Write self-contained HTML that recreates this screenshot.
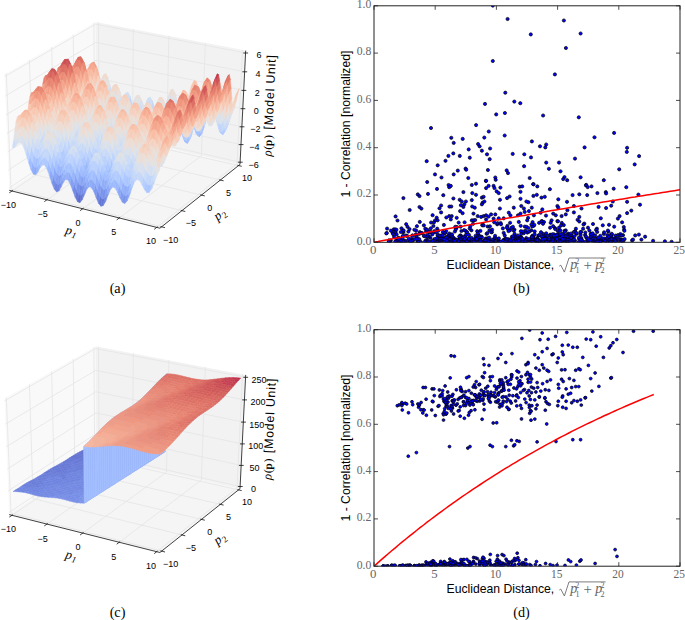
<!DOCTYPE html>
<html><head><meta charset="utf-8"><style>
html,body{margin:0;padding:0;background:#fff;overflow:hidden;}
svg{display:block;}
</style></head><body>
<svg width="685" height="620" viewBox="0 0 685 620" font-family="Liberation Sans">
<style>.sf path{stroke-width:0.45;stroke-linejoin:round}.a{fill:#d6e0f0;stroke:#d6e0f0}.b{fill:#cbdcf7;stroke:#cbdcf7}.c{fill:#bdd3fd;stroke:#bdd3fd}.d{fill:#e2e3e4;stroke:#e2e3e4}.e{fill:#b2cbff;stroke:#b2cbff}.f{fill:#c8daf8;stroke:#c8daf8}.g{fill:#a2befe;stroke:#a2befe}.h{fill:#c0d5fc;stroke:#c0d5fc}.i{fill:#b7cffe;stroke:#b7cffe}.j{fill:#edddd4;stroke:#edddd4}.k{fill:#9cb9fd;stroke:#9cb9fd}.l{fill:#b4cdff;stroke:#b4cdff}.m{fill:#93b0fa;stroke:#93b0fa}.n{fill:#819cf0;stroke:#819cf0}.o{fill:#8ca9f7;stroke:#8ca9f7}.p{fill:#a5c1fe;stroke:#a5c1fe}.q{fill:#7b95eb;stroke:#7b95eb}.r{fill:#95b2fb;stroke:#95b2fb}.s{fill:#ceddf5;stroke:#ceddf5}.t{fill:#7891e9;stroke:#7891e9}.u{fill:#f2d8ca;stroke:#f2d8ca}.v{fill:#c3d7fb;stroke:#c3d7fb}.w{fill:#738ae4;stroke:#738ae4}.x{fill:#e4e2e1;stroke:#e4e2e1}.y{fill:#e8e0db;stroke:#e8e0db}.z{fill:#f0dace;stroke:#f0dace}.ab{fill:#849ff2;stroke:#849ff2}.bb{fill:#dbe1ec;stroke:#dbe1ec}.cb{fill:#dde2e9;stroke:#dde2e9}.db{fill:#c6d9f9;stroke:#c6d9f9}.eb{fill:#a9c4ff;stroke:#a9c4ff}.fb{fill:#e7e1de;stroke:#e7e1de}.gb{fill:#768ee7;stroke:#768ee7}.hb{fill:#90adf8;stroke:#90adf8}.ib{fill:#d0def4;stroke:#d0def4}.jb{fill:#abc6ff;stroke:#abc6ff}.kb{fill:#7e99ee;stroke:#7e99ee}.lb{fill:#d8e1ee;stroke:#d8e1ee}.mb{fill:#d3dff2;stroke:#d3dff2}.nb{fill:#87a3f4;stroke:#87a3f4}.ob{fill:#9ebbfd;stroke:#9ebbfd}.pb{fill:#bbd2fd;stroke:#bbd2fd}.qb{fill:#687bd8;stroke:#687bd8}.rb{fill:#8aa6f5;stroke:#8aa6f5}.sb{fill:#99b6fc;stroke:#99b6fc}.tb{fill:#5e6ccb;stroke:#5e6ccb}.ub{fill:#6b7fdb;stroke:#6b7fdb}.vb{fill:#606fce;stroke:#606fce}.wb{fill:#6e83df;stroke:#6e83df}.xb{fill:#f4d4c4;stroke:#f4d4c4}.yb{fill:#f6d0bd;stroke:#f6d0bd}.zb{fill:#f3d6c8;stroke:#f3d6c8}.ac{fill:#f7cbb6;stroke:#f7cbb6}.bc{fill:#f8c6af;stroke:#f8c6af}.cc{fill:#f9bfa7;stroke:#f9bfa7}.dc{fill:#f8c3ab;stroke:#f8c3ab}.ec{fill:#f9bda5;stroke:#f9bda5}.fc{fill:#f7b097;stroke:#f7b097}.gc{fill:#f8baa1;stroke:#f8baa1}.hc{fill:#aec9ff;stroke:#aec9ff}.ic{fill:#ebdfd8;stroke:#ebdfd8}.jc{fill:#f4a68d;stroke:#f4a68d}.kc{fill:#f7cdba;stroke:#f7cdba}.lc{fill:#f5a88f;stroke:#f5a88f}.mc{fill:#6678d6;stroke:#6678d6}.nc{fill:#7086e1;stroke:#7086e1}.oc{fill:#dfe2e7;stroke:#dfe2e7}.pc{fill:#f29d85;stroke:#f29d85}.qc{fill:#f8b69d;stroke:#f8b69d}.rc{fill:#f3a289;stroke:#f3a289}.sc{fill:#f6ac93;stroke:#f6ac93}.tc{fill:#f8c8b2;stroke:#f8c8b2}.uc{fill:#eedcd2;stroke:#eedcd2}.vc{fill:#f5d2c0;stroke:#f5d2c0}.wc{fill:#f19a83;stroke:#f19a83}.xc{fill:#ef967f;stroke:#ef967f}.yc{fill:#ea8a76;stroke:#ea8a76}.zc{fill:#ed927c;stroke:#ed927c}.ad{fill:#e68270;stroke:#e68270}.bd{fill:#e88572;stroke:#e88572}.cd{fill:#de7366;stroke:#de7366}.dd{fill:#d96a61;stroke:#d96a61}.ed{fill:#dd6f64;stroke:#dd6f64}.fd{fill:#e47d6d;stroke:#e47d6d}.gd{fill:#f8b49b;stroke:#f8b49b}.hd{fill:#ec8f79;stroke:#ec8f79}.id{fill:#d4605c;stroke:#d4605c}.jd{fill:#d6645e;stroke:#d6645e}.kd{fill:#ce5356;stroke:#ce5356}.ld{fill:#d15a59;stroke:#d15a59}.md{fill:#c84452;stroke:#c84452}.nd{fill:#cb4f54;stroke:#cb4f54}.od{fill:#e1786a;stroke:#e1786a}.pd{fill:#c1314d;stroke:#c1314d}.qd{fill:#c4394f;stroke:#c4394f}.rd{fill:#6373d2;stroke:#6373d2}.sd{fill:#6272d1;stroke:#6272d1}.td{fill:#6a7dda;stroke:#6a7dda}.ud{fill:#e07669;stroke:#e07669}.vd{fill:#7288e3;stroke:#7288e3}.wd{fill:#d86860;stroke:#d86860}.xd{fill:#e78471;stroke:#e78471}.yd{fill:#d05858;stroke:#d05858}.zd{fill:#c64051;stroke:#c64051}.ae{fill:#ed907b;stroke:#ed907b}.be{fill:#7a93ea;stroke:#7a93ea}.ce{fill:#f19c84;stroke:#f19c84}.de{fill:#f5a78e;stroke:#f5a78e}.ee{fill:#f7ae94;stroke:#f7ae94}.fe{fill:#f7b399;stroke:#f7b399}.ge{fill:#f8b79e;stroke:#f8b79e}</style>
<path d="M9.2 190.3 L96.3 131.9 L95.6 21.9 L4.4 74.3Z" fill="#f9f9f9"/>
<path d="M96.3 131.9 L240 164.4 L245.7 50.6 L95.6 21.9Z" fill="#f2f2f2"/>
<path d="M9.2 190.3 L159.9 228.2 L240 164.4 L96.3 131.9Z" fill="#f5f5f5"/>
<path d="M12 191 L99.1 132.5" stroke="#e4e4e4" stroke-width="0.8"/>
<path d="M11 189 L161.6 226.8" stroke="#e4e4e4" stroke-width="0.8"/>
<path d="M99.1 132.5 L98.5 22.5" stroke="#e4e4e4" stroke-width="0.8"/>
<path d="M11 189 L6.3 73.2" stroke="#e4e4e4" stroke-width="0.8"/>
<path d="M47 199.8 L132.5 140.1" stroke="#e4e4e4" stroke-width="0.8"/>
<path d="M33.1 174.3 L181.9 210.6" stroke="#e4e4e4" stroke-width="0.8"/>
<path d="M132.5 140.1 L133.3 29.1" stroke="#e4e4e4" stroke-width="0.8"/>
<path d="M33.1 174.3 L29.4 59.9" stroke="#e4e4e4" stroke-width="0.8"/>
<path d="M82.7 208.8 L166.5 147.8" stroke="#e4e4e4" stroke-width="0.8"/>
<path d="M54.3 160 L201.4 195.1" stroke="#e4e4e4" stroke-width="0.8"/>
<path d="M166.5 147.8 L168.9 35.9" stroke="#e4e4e4" stroke-width="0.8"/>
<path d="M54.3 160 L51.7 47.1" stroke="#e4e4e4" stroke-width="0.8"/>
<path d="M119.3 218 L201.4 155.6" stroke="#e4e4e4" stroke-width="0.8"/>
<path d="M74.9 146.3 L220.3 180" stroke="#e4e4e4" stroke-width="0.8"/>
<path d="M201.4 155.6 L205.3 42.9" stroke="#e4e4e4" stroke-width="0.8"/>
<path d="M74.9 146.3 L73.2 34.8" stroke="#e4e4e4" stroke-width="0.8"/>
<path d="M156.7 227.4 L237 163.7" stroke="#e4e4e4" stroke-width="0.8"/>
<path d="M94.7 133 L238.5 165.6" stroke="#e4e4e4" stroke-width="0.8"/>
<path d="M237 163.7 L242.5 50" stroke="#e4e4e4" stroke-width="0.8"/>
<path d="M94.7 133 L93.9 22.9" stroke="#e4e4e4" stroke-width="0.8"/>
<path d="M9.1 188.1 L96.3 129.8" stroke="#e4e4e4" stroke-width="0.8"/>
<path d="M96.3 129.8 L240.1 162.2" stroke="#e4e4e4" stroke-width="0.8"/>
<path d="M8.3 170.2 L96.2 112.8" stroke="#e4e4e4" stroke-width="0.8"/>
<path d="M96.2 112.8 L240.9 144.6" stroke="#e4e4e4" stroke-width="0.8"/>
<path d="M7.6 152 L96.1 95.5" stroke="#e4e4e4" stroke-width="0.8"/>
<path d="M96.1 95.5 L241.8 126.8" stroke="#e4e4e4" stroke-width="0.8"/>
<path d="M6.8 133.6 L96 78.1" stroke="#e4e4e4" stroke-width="0.8"/>
<path d="M96 78.1 L242.7 108.7" stroke="#e4e4e4" stroke-width="0.8"/>
<path d="M6 114.9 L95.9 60.4" stroke="#e4e4e4" stroke-width="0.8"/>
<path d="M95.9 60.4 L243.7 90.4" stroke="#e4e4e4" stroke-width="0.8"/>
<path d="M5.2 96 L95.7 42.4" stroke="#e4e4e4" stroke-width="0.8"/>
<path d="M95.7 42.4 L244.6 71.8" stroke="#e4e4e4" stroke-width="0.8"/>
<path d="M4.5 76.7 L95.6 24.2" stroke="#e4e4e4" stroke-width="0.8"/>
<path d="M95.6 24.2 L245.5 53" stroke="#e4e4e4" stroke-width="0.8"/>
<g class="sf">
<path d="M95.9 90.5l 2.2-2.4 1.2-4.1-2.1 2.5z" class="a"/>
<path d="M94.7 96.9l 2.1-2.3 1.3-6.5-2.2 2.4z" class="b"/>
<path d="M93.4 102.5l 2.2-2.2 1.2-5.7-2.1 2.3z" class="c"/>
<path d="M98.1 88.1l 2.1-5 1.3-4.1-2.2 5z" class="d"/>
<path d="M92.1 104.6l 2.2-2.2 1.3-2.1-2.2 2.2z" class="e"/>
<path d="M96.8 94.6l 2.2-4.9 1.2-6.6-2.1 5z" class="a"/>
<path d="M95.6 100.3l 2.1-4.8 1.3-5.8-2.2 4.9z" class="f"/>
<path d="M113.4 109.2l 2.1 4.8 1.3-4.2-2.2-4.9z" class="g"/>
<path d="M94.3 102.4l 2.1-4.7 1.3-2.2-2.1 4.8z" class="h"/>
<path d="M90.8 101.9l 2.2-2.2 1.3 2.7-2.2 2.2z" class="i"/>
<path d="M100.2 83.1l 2.2-4.4 1.3-4.2-2.2 4.5z" class="j"/>
<path d="M115.5 114l 2.2-.2 1.3-4.3-2.2 .3z" class="k"/>
<path d="M111.2 100.2l 2.2 9 1.2-4.3-2.2-8.9z" class="l"/>
<path d="M112.1 115.8l 2.2 4.9 1.2-6.7-2.1-4.8z" class="m"/>
<path d="M110.8 121.7l 2.2 4.9 1.3-5.9-2.2-4.9z" class="n"/>
<path d="M114.3 120.7l 2.2-.2 1.2-6.7-2.2 .2z" class="o"/>
<path d="M109.9 106.9l 2.2 8.9 1.3-6.6-2.2-9z" class="p"/>
<path d="M99 89.7l 2.1-4.4 1.3-6.6-2.2 4.4z" class="d"/>
<path d="M113 126.6l 2.2-.2 1.3-5.9-2.2 .2z" class="q"/>
<path d="M108.7 112.8l 2.1 8.9 1.3-5.9-2.2-8.9z" class="r"/>
<path d="M97.7 95.5l 2.2-4.3 1.2-5.9-2.1 4.4z" class="a"/>
<path d="M109 90l 2.2 10.2 1.2-4.2-2.1-10.2z" class="s"/>
<path d="M109.6 124l 2.2 4.9 1.2-2.3-2.2-4.9z" class="t"/>
<path d="M117.7 113.8l 2.2-4.6 1.3-4.4-2.2 4.7z" class="p"/>
<path d="M102.4 78.7l 2.2-1 1.2-4.2-2.1 1z" class="u"/>
<path d="M107.7 96.7l 2.2 10.2 1.3-6.7-2.2-10.2z" class="v"/>
<path d="M111.8 128.9l 2.1-.1 1.3-2.4-2.2 .2z" class="w"/>
<path d="M93 99.7l 2.1-4.7 1.3 2.7-2.1 4.7z" class="v"/>
<path d="M107.4 115.1l 2.2 8.9 1.2-2.3-2.1-8.9z" class="o"/>
<path d="M96.4 97.7l 2.2-4.2 1.3-2.3-2.2 4.3z" class="s"/>
<path d="M106.8 81.7l 2.2 8.3 1.3-4.2-2.3-8.4z" class="x"/>
<path d="M106.5 102.6l 2.2 10.2 1.2-5.9-2.2-10.2z" class="e"/>
<path d="M116.5 120.5l 2.2-4.5 1.2-6.8-2.2 4.6z" class="r"/>
<path d="M101.1 85.3l 2.2-.9 1.3-6.7-2.2 1z" class="y"/>
<path d="M104.6 77.7l 2.2 4 1.2-4.3-2.2-3.9z" class="z"/>
<path d="M115.2 126.4l 2.2-4.4 1.3-6-2.2 4.5z" class="ab"/>
<path d="M105.5 88.4l 2.2 8.3 1.3-6.7-2.2-8.3z" class="bb"/>
<path d="M99.9 91.2l 2.1-.9 1.3-5.9-2.2 .9z" class="cb"/>
<path d="M89.5 94.8l 2.1-2.1 1.4 7-2.2 2.2z" class="db"/>
<path d="M105.2 105l 2.2 10.1 1.3-2.3-2.2-10.2z" class="eb"/>
<path d="M103.3 84.4l 2.2 4 1.3-6.7-2.2-4z" class="fb"/>
<path d="M108.3 121.5l 2.2 5 1.3 2.4-2.2-4.9z" class="q"/>
<path d="M104.2 94.4l 2.3 8.2 1.2-5.9-2.2-8.3z" class="b"/>
<path d="M113.9 128.8l 2.2-4.3 1.3-2.5-2.2 4.4z" class="q"/>
<path d="M102 90.3l 2.2 4.1 1.3-6-2.2-4z" class="bb"/>
<path d="M110.5 126.5l 2.2-.1 1.2 2.4-2.1 .1z" class="gb"/>
<path d="M98.6 93.5l 2.2-.8 1.2-2.4-2.1 .9z" class="a"/>
<path d="M106.1 112.6l 2.2 8.9 1.3 2.5-2.2-8.9z" class="hb"/>
<path d="M95.1 95l 2.2-4.2 1.3 2.7-2.2 4.2z" class="ib"/>
<path d="M119.9 109.2l 2.2-6.4 1.3-4.5-2.2 6.5z" class="i"/>
<path d="M103 96.7l 2.2 8.3 1.3-2.4-2.3-8.2z" class="v"/>
<path d="M100.8 92.7l 2.2 4 1.2-2.3-2.2-4.1z" class="ib"/>
<path d="M118.7 116l 2.2-6.3 1.2-6.9-2.2 6.4z" class="eb"/>
<path d="M91.6 92.7l 2.2-4.7 1.3 7-2.1 4.7z" class="ib"/>
<path d="M117.4 122l 2.2-6.2 1.3-6.1-2.2 6.3z" class="r"/>
<path d="M103.9 102.4l 2.2 10.2 1.3 2.5-2.2-10.1z" class="jb"/>
<path d="M112.7 126.4l 2.2-4.3 1.2 2.4-2.2 4.3z" class="kb"/>
<path d="M97.3 90.8l 2.2-.7 1.3 2.6-2.2 .8z" class="lb"/>
<path d="M116.1 124.5l 2.2-6.1 1.3-2.6-2.2 6.2z" class="o"/>
<path d="M101.7 94.1l 2.2 8.3 1.3 2.6-2.2-8.3z" class="db"/>
<path d="M107 114.7l 2.2 5 1.3 6.8-2.2-5z" class="o"/>
<path d="M99.5 90.1l 2.2 4 1.3 2.6-2.2-4z" class="mb"/>
<path d="M122.1 102.8l 2.3-5.1 1.3-4.5-2.3 5.1z" class="f"/>
<path d="M88.1 85.7l 2.1-2.1 1.4 9.1-2.1 2.1z" class="cb"/>
<path d="M109.2 119.7l 2.2 0 1.3 6.7-2.2 .1z" class="nb"/>
<path d="M104.8 105.8l 2.2 8.9 1.3 6.8-2.2-8.9z" class="ob"/>
<path d="M93.8 88l 2.1-4.2 1.4 7-2.2 4.2z" class="cb"/>
<path d="M135.3 124l 2.1 2.3 1.3-4.7-2.2-2.3z" class="nb"/>
<path d="M120.9 109.7l 2.2-5 1.3-7-2.3 5.1z" class="pb"/>
<path d="M133.1 117.2l 2.2 6.8 1.2-4.7-2.1-6.7z" class="m"/>
<path d="M119.6 115.8l 2.2-4.9 1.3-6.2-2.2 5z" class="eb"/>
<path d="M134 131l 2.1 2.3 1.3-7-2.1-2.3z" class="t"/>
<path d="M131.8 124.3l 2.2 6.7 1.3-7-2.2-6.8z" class="ab"/>
<path d="M114.9 122.1l 2.2-6.1 1.2 2.4-2.2 6.1z" class="hb"/>
<path d="M132.7 137.3l 2.2 2.4 1.2-6.4-2.1-2.3z" class="qb"/>
<path d="M130.5 130.5l 2.2 6.8 1.3-6.3-2.2-6.7z" class="w"/>
<path d="M131 108.4l 2.1 8.8 1.3-4.6-2.2-8.9z" class="jb"/>
<path d="M102.6 95.5l 2.2 10.3 1.3 6.8-2.2-10.2z" class="pb"/>
<path d="M137.4 126.3l 2.3-2.9 1.3-4.8-2.3 3z" class="rb"/>
<path d="M118.3 118.4l 2.2-4.8 1.3-2.7-2.2 4.9z" class="ob"/>
<path d="M124.4 97.7l 2.2-1 1.3-4.6-2.2 1.1z" class="mb"/>
<path d="M111.4 119.7l 2.2-4.3 1.3 6.7-2.2 4.3z" class="o"/>
<path d="M129.7 115.4l 2.1 8.9 1.3-7.1-2.1-8.8z" class="sb"/>
<path d="M131.4 140.1l 2.2 2.4 1.3-2.8-2.2-2.4z" class="tb"/>
<path d="M90.2 83.6l 2.2-4.7 1.4 9.1-2.2 4.7z" class="fb"/>
<path d="M129.3 133.3l 2.1 6.8 1.3-2.8-2.2-6.8z" class="qb"/>
<path d="M95.9 83.8l 2.2-.7 1.4 7-2.2 .7z" class="x"/>
<path d="M136.1 133.3l 2.3-2.7 1.3-7.2-2.3 2.9z" class="q"/>
<path d="M128.4 121.7l 2.1 8.8 1.3-6.2-2.1-8.9z" class="nb"/>
<path d="M128.8 100.6l 2.2 7.8 1.2-4.7-2.1-7.7z" class="h"/>
<path d="M123.1 104.7l 2.2-1 1.3-7-2.2 1z" class="db"/>
<path d="M134.9 139.7l 2.2-2.7 1.3-6.4-2.3 2.7z" class="ub"/>
<path d="M126.6 96.7l 2.2 3.9 1.3-4.6-2.2-3.9z" class="ib"/>
<path d="M100.3 87.2l 2.3 8.3 1.3 6.9-2.2-8.3z" class="mb"/>
<path d="M121.8 110.9l 2.2-.9 1.3-6.3-2.2 1z" class="l"/>
<path d="M127.5 107.7l 2.2 7.7 1.3-7-2.2-7.8z" class="e"/>
<path d="M98.1 83.1l 2.2 4.1 1.4 6.9-2.2-4z" class="d"/>
<path d="M127.1 124.5l 2.2 8.8 1.2-2.8-2.1-8.8z" class="kb"/>
<path d="M125.3 103.7l 2.2 4 1.3-7.1-2.2-3.9z" class="v"/>
<path d="M126.2 114l 2.2 7.7 1.3-6.3-2.2-7.7z" class="ob"/>
<path d="M133.6 142.5l 2.2-2.6 1.3-2.9-2.2 2.7z" class="vb"/>
<path d="M124 110l 2.2 4 1.3-6.3-2.2-4z" class="e"/>
<path d="M105.7 105.9l 2.2 5.1 1.3 8.7-2.2-5z" class="p"/>
<path d="M120.5 113.6l 2.3-.9 1.2-2.7-2.2 .9z" class="eb"/>
<path d="M117.1 116l 2.2-4.7 1.2 2.3-2.2 4.8z" class="g"/>
<path d="M130.2 138l 2.2 2.5 1.2 2-2.2-2.4z" class="vb"/>
<path d="M124.9 116.7l 2.2 7.8 1.3-2.8-2.2-7.7z" class="r"/>
<path d="M139.7 123.4l 2.3-6.7 1.3-4.9-2.3 6.8z" class="sb"/>
<path d="M128 131.2l 2.2 6.8 1.2 2.1-2.1-6.8z" class="ub"/>
<path d="M86.7 77.8l 2.2-2.1 1.3 7.9-2.1 2.1z" class="u"/>
<path d="M107.9 111l 2.2 0 1.3 8.7-2.2 0z" class="ob"/>
<path d="M103.5 96.9l 2.2 9 1.3 8.8-2.2-8.9z" class="pb"/>
<path d="M92.4 78.9l 2.2-4.1 1.3 9-2.1 4.2z" class="z"/>
<path d="M113.6 115.4l 2.2-6 1.3 6.6-2.2 6.1z" class="ob"/>
<path d="M122.8 112.7l 2.1 4 1.3-2.7-2.2-4z" class="p"/>
<path d="M138.4 130.6l 2.3-6.6 1.3-7.3-2.3 6.7z" class="rb"/>
<path d="M137.1 137l 2.3-6.5 1.3-6.5-2.3 6.6z" class="t"/>
<path d="M125.9 122.3l 2.1 8.9 1.3 2.1-2.2-8.8z" class="kb"/>
<path d="M132.4 140.5l 2.2-2.5 1.2 1.9-2.2 2.6z" class="vb"/>
<path d="M101.3 86.6l 2.2 10.3 1.3 8.9-2.2-10.3z" class="mb"/>
<path d="M135.8 139.9l 2.3-6.3 1.3-3.1-2.3 6.5z" class="wb"/>
<path d="M119.3 111.3l 2.2-.8 1.3 2.2-2.3 .9z" class="jb"/>
<path d="M110.1 111l 2.2-4.3 1.3 8.7-2.2 4.3z" class="eb"/>
<path d="M123.7 114.5l 2.2 7.8 1.2 2.2-2.2-7.8z" class="r"/>
<path d="M94.6 74.8l 2.2-.7 1.3 9-2.2 .7z" class="xb"/>
<path d="M88.9 75.7l 2.1-4.7 1.4 7.9-2.2 4.7z" class="yb"/>
<path d="M121.5 110.5l 2.2 4 1.2 2.2-2.1-4z" class="eb"/>
<path d="M99 78.2l 2.3 8.4 1.3 8.9-2.3-8.3z" class="y"/>
<path d="M96.8 74.1l 2.2 4.1 1.3 9-2.2-4.1z" class="zb"/>
<path d="M115.8 109.4l 2.2-4.8 1.3 6.7-2.2 4.7zM142 116.7l 2.3-7.7 1.3-5-2.3 7.8z" class="e"/>
<path d="M129 131.7l 2.2 2.5 1.2 6.3-2.2-2.5z" class="wb"/>
<path d="M126.8 124.8l 2.2 6.9 1.2 6.3-2.2-6.8z" class="t"/>
<path d="M85.3 73.8l 2.2-2.1 1.4 4-2.2 2.1z" class="ac"/>
<path d="M134.6 138l 2.3-6.3 1.2 1.9-2.3 6.3z" class="wb"/>
<path d="M140.7 124l 2.3-7.6 1.3-7.4-2.3 7.7z" class="g"/>
<path d="M104.4 98.3l 2.2 5.1 1.3 7.6-2.2-5.1z" class="h"/>
<path d="M139.4 130.5l 2.3-7.4 1.3-6.7-2.3 7.6z" class="o"/>
<path d="M124.6 115.8l 2.2 9 1.2 6.4-2.1-8.9z" class="hb"/>
<path d="M106.6 103.4l 2.2 0 1.3 7.6-2.2 0z" class="pb"/>
<path d="M102.2 89.2l 2.2 9.1 1.3 7.6-2.2-9z" class="mb"/>
<path d="M91 71l 2.2-4.1 1.4 7.9-2.2 4.1z" class="bc"/>
<path d="M131.2 134.2l 2.2-2.4 1.2 6.2-2.2 2.5z" class="wb"/>
<path d="M112.3 106.7l 2.2-6 1.3 8.7-2.2 6z" class="pb"/>
<path d="M138.1 133.6l 2.3-7.4 1.3-3.1-2.3 7.4z" class="n"/>
<path d="M118 104.6l 2.3-.7 1.2 6.6-2.2 .8z" class="pb"/>
<path d="M122.5 108l 2.1 7.8 1.3 6.5-2.2-7.8z" class="eb"/>
<path d="M99.9 78.9l 2.3 10.3 1.3 7.7-2.2-10.3z" class="y"/>
<path d="M87.5 71.7l 2.2-4.6 1.3 3.9-2.1 4.7z" class="cc"/>
<path d="M120.3 103.9l 2.2 4.1 1.2 6.5-2.2-4z" class="i"/>
<path d="M84 74.8l 2.2-2 1.3-1.1-2.2 2.1z" class="dc"/>
<path d="M144.3 109l 2.3-5.7 1.3-5-2.3 5.7z" class="db"/>
<path d="M108.8 103.4l 2.2-4.2 1.3 7.5-2.2 4.3z" class="v"/>
<path d="M93.2 66.9l 2.2-.7 1.4 7.9-2.2 .7z" class="ec"/>
<path d="M143 116.4l 2.3-5.5 1.3-7.6-2.3 5.7z" class="i"/>
<path d="M136.9 131.7l 2.3-7.2 1.2 1.7-2.3 7.4z" class="ab"/>
<path d="M97.6 70.4l 2.3 8.5 1.4 7.7-2.3-8.4z" class="yb"/>
<path d="M141.7 123.1l 2.3-5.4 1.3-6.8-2.3 5.5z" class="p"/>
<path d="M133.4 131.8l 2.3-6.2 1.2 6.1-2.3 6.3z" class="q"/>
<path d="M95.4 66.2l 2.2 4.2 1.4 7.8-2.2-4.1z" class="cc"/>
<path d="M114.5 100.7l 2.3-4.7 1.2 8.6-2.2 4.8z" class="b"/>
<path d="M82.7 80l 2.2-2 1.3-5.2-2.2 2z" class="ac"/>
<path d="M127.8 123.4l 2.2 2.6 1.2 8.2-2.2-2.5z" class="ab"/>
<path d="M103.1 94.5l 2.2 5.1 1.3 3.8-2.2-5.1z" class="mb"/>
<path d="M125.6 116.4l 2.2 7 1.2 8.3-2.2-6.9z" class="hb"/>
<path d="M140.4 126.2l 2.3-5.2 1.3-3.3-2.3 5.4z" class="r"/>
<path d="M155.3 120l 2.2 4.4 1.3-5.3-2.1-4.3z" class="ob"/>
<path d="M81.5 86.8l 2.2-1.9 1.2-6.9-2.2 2z" class="zb"/>
<path d="M89.7 67.1l 2.1-4.1 1.4 3.9-2.2 4.1z" class="fc"/>
<path d="M105.3 99.6l 2.2 .1 1.3 3.7-2.2 0z" class="s"/>
<path d="M100.9 85.4l 2.2 9.1 1.3 3.8-2.2-9.1z" class="x"/>
<path d="M86.2 72.8l 2.1-4.6 1.4-1.1-2.2 4.6z" class="gc"/>
<path d="M153.2 112.8l 2.1 7.2 1.4-5.2-2.2-7.2z" class="hc"/>
<path d="M154 127.8l 2.2 4.5 1.3-7.9-2.2-4.4z" class="o"/>
<path d="M146.6 103.3l 2.3-1.1 1.3-5.2-2.3 1.3z" class="ib"/>
<path d="M152.7 134.9l 2.1 4.6 1.4-7.2-2.2-4.5z" class="t"/>
<path d="M157.5 124.4l 2.3-.4 1.3-5.4-2.3 .5z" class="sb"/>
<path d="M123.4 107.4l 2.2 9 1.2 8.4-2.2-9z" class="eb"/>
<path d="M80.2 92.2l 2.2-1.9 1.3-5.4-2.2 1.9z" class="ic"/>
<path d="M151.9 120.6l 2.1 7.2 1.3-7.8-2.1-7.2z" class="k"/>
<path d="M130 126l 2.2-2.4 1.2 8.2-2.2 2.4z" class="ab"/>
<path d="M145.3 110.9l 2.2-1.1 1.4-7.6-2.3 1.1z" class="v"/>
<path d="M150.5 127.6l 2.2 7.3 1.3-7.1-2.1-7.2z" class="rb"/>
<path d="M111 99.2l 2.3-6 1.2 7.5-2.2 6z" class="mb"/>
<path d="M156.2 132.3l 2.2-.4 1.4-7.9-2.3 .4z" class="nb"/>
<path d="M154.8 139.5l 2.3-.2 1.3-7.4-2.2 .4z" class="w"/>
<path d="M151.1 105.9l 2.1 6.9 1.3-5.2-2.1-6.9z" class="v"/>
<path d="M151.4 138.6l 2.2 4.6 1.2-3.7-2.1-4.6z" class="ub"/>
<path d="M144 117.7l 2.2-.9 1.3-7-2.2 1.1z" class="hc"/>
<path d="M148.9 102.2l 2.2 3.7 1.3-5.2-2.2-3.7z" class="ib"/>
<path d="M116.8 96l 2.2-.7 1.3 8.6-2.3 .7z" class="mb"/>
<path d="M98.6 75.1l 2.3 10.3 1.3 3.8-2.3-10.3z" class="xb"/>
<path d="M149.7 113.6l 2.2 7 1.3-7.8-2.1-6.9z" class="e"/>
<path d="M149.3 131.2l 2.1 7.4 1.3-3.7-2.2-7.3z" class="q"/>
<path d="M84.9 78l 2.2-4.5 1.2-5.3-2.1 4.6z" class="cc"/>
<path d="M153.6 143.2l 2.2-.1 1.3-3.8-2.3 .2z" class="qb"/>
<path d="M148.4 120.6l 2.1 7 1.4-7-2.2-7z" class="k"/>
<path d="M121.2 99.4l 2.2 8 1.2 8.4-2.1-7.8zM147.5 109.8l 2.2 3.8 1.4-7.7-2.2-3.7z" class="h"/>
<path d="M139.2 124.5l 2.3-5.1 1.2 1.6-2.3 5.2z" class="r"/>
<path d="M142.7 121l 2.2-.9 1.3-3.3-2.2 .9z" class="g"/>
<path d="M146.2 116.8l 2.2 3.8 1.3-7-2.2-3.8z" class="jb"/>
<path d="M78.9 93.6l 2.2-1.9 1.3-1.4-2.2 1.9z" class="x"/>
<path d="M107.5 99.7l 2.3-4.2 1.2 3.7-2.2 4.2z" class="mb"/>
<path d="M91.8 63l 2.3-.7 1.3 3.9-2.2 .7z" class="jc"/>
<path d="M119 95.3l 2.2 4.1 1.3 8.6-2.2-4.1z" class="ib"/>
<path d="M101.8 95.7l 2.2 5.2 1.3-1.3-2.2-5.1z" class="lb"/>
<path d="M135.7 125.6l 2.3-7.2 1.2 6.1-2.3 7.2z" class="hb"/>
<path d="M83.7 84.9l 2.1-4.4 1.3-7-2.2 4.5z" class="kc"/>
<path d="M147.1 124.1l 2.2 7.1 1.2-3.6-2.1-7z" class="hb"/>
<path d="M96.3 66.6l 2.3 8.5 1.3 3.8-2.3-8.5z" class="ec"/>
<path d="M159.8 124l 2.3-5.4 1.3-5.5-2.3 5.5z" class="p"/>
<path d="M88.3 68.2l 2.2-4 1.3-1.2-2.1 4.1z" class="lc"/>
<path d="M104 100.9l 2.3 .1 1.2-1.3-2.2-.1z" class="mb"/>
<path d="M99.6 86.6l 2.2 9.1 1.3-1.2-2.2-9.1z" class="y"/>
<path d="M144.9 120.1l 2.2 4 1.3-3.5-2.2-3.8z" class="ob"/>
<path d="M82.4 90.3l 2.1-4.4 1.3-5.4-2.1 4.4z" class="u"/>
<path d="M94.1 62.3l 2.2 4.3 1.3 3.8-2.2-4.2z" class="lc"/>
<path d="M150.2 137.3l 2.2 4.8 1.2 1.1-2.2-4.6z" class="ub"/>
<path d="M158.4 131.9l 2.4-5.2 1.3-8.1-2.3 5.4z" class="m"/>
<path d="M157.1 139.3l 2.3-5.1 1.4-7.5-2.4 5.2z" class="kb"/>
<path d="M132.2 123.6l 2.3-6.1 1.2 8.1-2.3 6.2z" class="m"/>
<path d="M100.5 101l 2.3 5.2 1.2-5.3-2.2-5.2z" class="mb"/>
<path d="M148.1 129.8l 2.1 7.5 1.2 1.3-2.1-7.4z" class="q"/>
<path d="M152.4 142.1l 2.2 .1 1.2 .9-2.2 .1z" class="mc"/>
<path d="M155.8 143.1l 2.3-4.9 1.3-4-2.3 5.1z" class="nc"/>
<path d="M113.3 93.2l 2.2-4.7 1.3 7.5-2.3 4.7z" class="oc"/>
<path d="M141.5 119.4l 2.2-.8 1.2 1.5-2.2 .9z" class="g"/>
<path d="M99.3 108l 2.2 5.1 1.3-6.9-2.3-5.2z" class="v"/>
<path d="M97.3 76.3l 2.3 10.3 1.3-1.2-2.3-10.3z" class="yb"/>
<path d="M126.6 116.2l 2.2 2.7 1.2 7.1-2.2-2.6z" class="ob"/>
<path d="M102.8 106.2l 2.2 .1 1.3-5.3-2.3-.1z" class="s"/>
<path d="M87.1 73.5l 2.1-3.9 1.3-5.4-2.2 4z" class="fc"/>
<path d="M98.3 92l 2.2 9 1.3-5.3-2.2-9.1z" class="d"/>
<path d="M124.4 109.1l 2.2 7.1 1.2 7.2-2.2-7z" class="jb"/>
<path d="M81.1 91.7l 2.1-4.3 1.3-1.5-2.1 4.4z" class="j"/>
<path d="M145.9 122.6l 2.2 7.2 1.2 1.4-2.2-7.1z" class="hb"/>
<path d="M77.5 90.2l 2.2-1.8 1.4 3.3-2.2 1.9z" class="y"/>
<path d="M98 113.4l 2.2 5.2 1.3-5.5-2.2-5.1z" class="l"/>
<path d="M106.3 101l 2.2-4.2 1.3-1.3-2.3 4.2z" class="bb"/>
<path d="M101.5 113.1l 2.2 .2 1.3-7-2.2-.1z" class="c"/>
<path d="M90.5 64.2l 2.2-.7 1.4-1.2-2.3 .7z" class="pc"/>
<path d="M97 99l 2.3 9 1.2-7-2.2-9z" class="a"/>
<path d="M109.8 95.5l 2.2-6 1.3 3.7-2.3 6z" class="d"/>
<path d="M85.8 80.5l 2.2-3.9 1.2-7-2.1 3.9z" class="dc"/>
<path d="M143.7 118.6l 2.2 4 1.2 1.5-2.2-4z" class="ob"/>
<path d="M100.2 118.6l 2.2 .2 1.3-5.5-2.2-.2z" class="hc"/>
<path d="M122.2 100l 2.2 9.1 1.2 7.3-2.2-9z" class="v"/>
<path d="M95 67.8l 2.3 8.5 1.3-1.2-2.3-8.5z" class="qc"/>
<path d="M95.7 104.5l 2.3 8.9 1.3-5.4-2.3-9z" class="f"/>
<path d="M138 118.4l 2.3-5 1.2 6-2.3 5.1z" class="p"/>
<path d="M128.8 118.9l 2.2-2.4 1.2 7.1-2.2 2.4z" class="ob"/>
<path d="M84.5 85.9l 2.2-3.8 1.3-5.5-2.2 3.9z" class="yb"/>
<path d="M96 81.7l 2.3 10.3 1.3-5.4-2.3-10.3z" class="xb"/>
<path d="M92.7 63.5l 2.3 4.3 1.3-1.2-2.2-4.3z" class="rc"/>
<path d="M154.6 142.2l 2.3-4.8 1.2 .8-2.3 4.9z" class="wb"/>
<path d="M115.5 88.5l 2.2-.7 1.3 7.5-2.2 .7z" class="y"/>
<path d="M96.7 115l 2.2 5.1 1.3-1.5-2.2-5.2z" class="jb"/>
<path d="M162.1 118.6l 2.5-8.6 1.3-5.6-2.5 8.7z" class="pb"/>
<path d="M105 106.3l 2.2-4 1.3-5.5-2.2 4.2z" class="mb"/>
<path d="M94.7 88.7l 2.3 10.3 1.3-7-2.3-10.3z" class="ic"/>
<path d="M89.2 69.6l 2.3-.6 1.2-5.5-2.2 .7z" class="lc"/>
<path d="M120 92l 2.2 8 1.2 7.4-2.2-8z" class="lb"/>
<path d="M160.8 126.7l 2.4-8.4 1.4-8.3-2.5 8.6z" class="eb"/>
<path d="M149.1 131.9l 2.1 4.9 1.2 5.3-2.2-4.8z" class="gb"/>
<path d="M159.4 134.2l 2.4-8.2 1.4-7.7-2.4 8.4z" class="m"/>
<path d="M98.9 120.1l 2.2 .2 1.3-1.5-2.2-.2z" class="p"/>
<path d="M94.4 106l 2.3 9 1.3-1.6-2.3-8.9z" class="h"/>
<path d="M103.7 113.3l 2.2-4 1.3-7-2.2 4z" class="db"/>
<path d="M134.5 117.5l 2.3-7.1 1.2 8-2.3 7.2z" class="jb"/>
<path d="M93.4 94.3l 2.3 10.2 1.3-5.5-2.3-10.3z" class="oc"/>
<path d="M93.7 73.2l 2.3 8.5 1.3-5.4-2.3-8.5z" class="cc"/>
<path d="M117.7 87.8l 2.3 4.2 1.2 7.4-2.2-4.1z" class="x"/>
<path d="M83.2 87.4l 2.2-3.7 1.3-1.6-2.2 3.8z" class="zb"/>
<path d="M88 76.6l 2.2-.5 1.3-7.1-2.3 .6z" class="gc"/>
<path d="M79.7 88.4l 2.2-4.3 1.3 3.3-2.1 4.3z" class="z"/>
<path d="M151.2 136.8l 2.3 .1 1.1 5.3-2.2-.1z" class="nc"/>
<path d="M146.9 124.2l 2.2 7.7 1.1 5.4-2.1-7.5z" class="nb"/>
<path d="M91.5 69l 2.2 4.2 1.3-5.4-2.3-4.3z" class="sc"/>
<path d="M158.1 138.2l 2.4-8 1.3-4.2-2.4 8.2z" class="ab"/>
<path d="M102.4 118.8l 2.2-3.9 1.3-5.6-2.2 4z" class="l"/>
<path d="M92.4 80.3l 2.3 8.4 1.3-7-2.3-8.5z" class="kc"/>
<path d="M86.7 82.1l 2.2-.5 1.3-5.5-2.2 .5z" class="tc"/>
<path d="M108.5 96.8l 2.2-5.9 1.3-1.4-2.2 6z" class="fb"/>
<path d="M140.3 113.4l 2.2-.6 1.2 5.8-2.2 .8z" class="e"/>
<path d="M112 89.5l 2.2-4.6 1.3 3.6-2.2 4.7z" class="uc"/>
<path d="M90.2 76.1l 2.2 4.2 1.3-7.1-2.2-4.2z" class="ec"/>
<path d="M91.2 85.9l 2.2 8.4 1.3-5.6-2.3-8.4z" class="u"/>
<path d="M144.8 116.9l 2.1 7.3 1.2 5.6-2.2-7.2z" class="k"/>
<path d="M131 116.5l 2.3-6 1.2 7-2.3 6.1z" class="hc"/>
<path d="M92.1 95.8l 2.3 10.2 1.3-1.5-2.3-10.2z" class="lb"/>
<path d="M125.3 112.8l 2.2 2.7 1.3 3.4-2.2-2.7z" class="e"/>
<path d="M123.1 105.7l 2.2 7.1 1.3 3.4-2.2-7.1z" class="c"/>
<path d="M88.9 81.6l 2.3 4.3 1.2-5.6-2.2-4.2z" class="kc"/>
<path d="M142.5 112.8l 2.3 4.1 1.1 5.7-2.2-4z" class="jb"/>
<path d="M76.1 83.1l 2.2-1.7 1.4 7-2.2 1.8z" class="zb"/>
<path d="M101.1 120.3l 2.2-3.8 1.3-1.6-2.2 3.9z" class="hc"/>
<path d="M95.4 111.8l 2.2 5.1 1.3 3.2-2.2-5.1z" class="e"/>
<path d="M85.4 83.7l 2.2-.5 1.3-1.6-2.2 .5z" class="yb"/>
<path d="M107.2 102.3l 2.2-5.9 1.3-5.5-2.2 5.9z" class="oc"/>
<path d="M156.9 137.4l 2.4-7.9 1.2 .7-2.4 8z" class="n"/>
<path d="M153.5 136.9l 2.3-4.6 1.1 5.1-2.3 4.8z" class="t"/>
<path d="M97.6 116.9l 2.2 .3 1.3 3.1-2.2-.2z" class="jb"/>
<path d="M120.9 96.6l 2.2 9.1 1.3 3.4-2.2-9.1z" class="mb"/>
<path d="M93.1 102.8l 2.3 9 1.3 3.2-2.3-9z" class="db"/>
<path d="M89.9 87.4l 2.2 8.4 1.3-1.5-2.2-8.4z" class="j"/>
<path d="M127.5 115.5l 2.3-2.2 1.2 3.2-2.2 2.4z" class="e"/>
<path d="M81.9 84.1l 2.1-3.7 1.4 3.3-2.2 3.7z" class="vc"/>
<path d="M105.9 109.3l 2.2-5.7 1.3-7.2-2.2 5.9z" class="mb"/>
<path d="M87.6 83.2l 2.3 4.2 1.3-1.5-2.3-4.3z" class="vc"/>
<path d="M114.2 84.9l 2.3-.6 1.2 3.5-2.2 .7z" class="zb"/>
<path d="M136.8 110.4l 2.3-5 1.2 8-2.3 5z" class="c"/>
<path d="M164.6 110l 2.4-8.7 1.4-5.8-2.5 8.9z" class="mb"/>
<path d="M104.6 114.9l 2.2-5.7 1.3-5.6-2.2 5.7z" class="db"/>
<path d="M163.2 118.3l 2.4-8.5 1.4-8.5-2.4 8.7z" class="v"/>
<path d="M161.8 126l 2.5-8.3 1.3-7.9-2.4 8.5z" class="hc"/>
<path d="M118.7 88.5l 2.2 8.1 1.3 3.4-2.2-8z" class="fb"/>
<path d="M110.7 90.9l 2.2-4.5 1.3-1.5-2.2 4.6z" class="u"/>
<path d="M90.8 92.6l 2.3 10.2 1.3 3.2-2.3-10.2z" class="cb"/>
<path d="M78.3 81.4l 2.1-4.3 1.5 7-2.2 4.3z" class="kc"/>
<path d="M116.5 84.3l 2.2 4.2 1.3 3.5-2.3-4.2z" class="u"/>
<path d="M124 114.4l 2.3 2.8 1.2-1.7-2.2-2.7z" class="i"/>
<path d="M121.8 107.2l 2.2 7.2 1.3-1.6-2.2-7.1z" class="v"/>
<path d="M147.9 124.4l 2.2 5 1.1 7.4-2.1-4.9z" class="o"/>
<path d="M160.5 130.2l 2.5-8.2 1.3-4.3-2.5 8.3z" class="ob"/>
<path d="M99.8 117.2l 2.2-3.8 1.3 3.1-2.2 3.8z" class="e"/>
<path d="M103.3 116.5l 2.2-5.6 1.3-1.7-2.2 5.7z" class="c"/>
<path d="M133.3 110.5l 2.3-7 1.2 6.9-2.3 7.1z" class="v"/>
<path d="M150.1 129.4l 2.3 .3 1.1 7.2-2.3-.1z" class="nb"/>
<path d="M84 80.4l 2.2-.5 1.4 3.3-2.2 .5z" class="ac"/>
<path d="M145.8 116.6l 2.1 7.8 1.2 7.5-2.2-7.7z" class="ob"/>
<path d="M109.4 96.4l 2.2-4.4 1.3-5.6-2.2 4.5z" class="j"/>
<path d="M119.6 98.1l 2.2 9.1 1.3-1.5-2.2-9.1z" class="lb"/>
<path d="M88.5 84.2l 2.3 8.4 1.3 3.2-2.2-8.4z" class="z"/>
<path d="M129.8 113.3l 2.3-6 1.2 3.2-2.3 6z" class="h"/>
<path d="M139.1 105.4l 2.3-.5 1.1 7.9-2.2 .6z" class="db"/>
<path d="M126.3 117.2l 2.2-2.2 1.3-1.7-2.3 2.2z" class="i"/>
<path d="M122.7 120l 2.3 2.8 1.3-5.6-2.3-2.8z" class="hc"/>
<path d="M120.5 112.9l 2.2 7.1 1.3-5.6-2.2-7.2z" class="pb"/>
<path d="M86.2 79.9l 2.3 4.3 1.4 3.2-2.3-4.2z" class="yb"/>
<path d="M155.8 132.3l 2.4-7.8 1.1 5-2.4 7.9z" class="o"/>
<path d="M108.1 103.6l 2.2-4.4 1.3-7.2-2.2 4.4z" class="d"/>
<path d="M94 104.9l 2.2 5.2 1.4 6.8-2.2-5.1z" class="v"/>
<path d="M143.6 109.1l 2.2 7.5 1.1 7.6-2.1-7.3z" class="l"/>
<path d="M112.9 86.4l 2.3-.6 1.3-1.5-2.3 .6z" class="vc"/>
<path d="M121.5 127.2l 2.2 2.9 1.3-7.3-2.3-2.8z" class="k"/>
<path d="M119.2 120.1l 2.3 7.1 1.2-7.2-2.2-7.1z" class="jb"/>
<path d="M159.3 129.5l 2.5-8 1.2 .5-2.5 8.2z" class="k"/>
<path d="M141.4 104.9l 2.2 4.2 1.2 7.8-2.3-4.1z" class="v"/>
<path d="M106.8 109.2l 2.2-4.3 1.3-5.7-2.2 4.4z" class="mb"/>
<path d="M74.6 74.9l 2.2-1.7 1.5 8.2-2.2 1.7z" class="cc"/>
<path d="M120.2 132.9l 2.2 2.9 1.3-5.7-2.2-2.9z" class="o"/>
<path d="M117.4 90l 2.2 8.1 1.3-1.5-2.2-8.1z" class="ic"/>
<path d="M96.2 110.1l 2.3 .3 1.3 6.8-2.2-.3z" class="c"/>
<path d="M118 125.8l 2.2 7.1 1.3-5.7-2.3-7.1z" class="sb"/>
<path d="M91.7 95.9l 2.3 9 1.4 6.9-2.3-9z" class="a"/>
<path d="M80.4 77.1l 2.2-3.7 1.4 7-2.1 3.7z" class="dc"/>
<path d="M118.3 103.7l 2.2 9.2 1.3-5.7-2.2-9.1z" class="ib"/>
<path d="M167 101.3l 2.4-5.6 1.4-5.9-2.4 5.7z" class="fb"/>
<path d="M125 122.8l 2.2-2.1 1.3-5.7-2.2 2.2z" class="hc"/>
<path d="M115.2 85.8l 2.2 4.2 1.3-1.5-2.2-4.2z" class="zb"/>
<path d="M152.4 129.7l 2.3-4.5 1.1 7.1-2.3 4.6z" class="o"/>
<path d="M165.6 109.8l 2.4-5.5 1.4-8.6-2.4 5.6z" class="lb"/>
<path d="M164.3 117.7l 2.3-5.4 1.4-8-2.4 5.5z" class="v"/>
<path d="M117 111l 2.2 9.1 1.3-7.2-2.2-9.2z" class="h"/>
<path d="M123.7 130.1l 2.2-2.1 1.3-7.3-2.2 2.1z" class="k"/>
<path d="M111.6 92l 2.3-.6 1.3-5.6-2.3 .6z" class="u"/>
<path d="M102 113.4l 2.2-5.6 1.3 3.1-2.2 5.6z" class="h"/>
<path d="M105.5 110.9l 2.2-4.3 1.3-1.7-2.2 4.3z" class="b"/>
<path d="M122.4 135.8l 2.2-2 1.3-5.8-2.2 2.1z" class="o"/>
<path d="M115.7 116.7l 2.3 9.1 1.2-5.7-2.2-9.1z" class="e"/>
<path d="M118.9 134.7l 2.2 2.9 1.3-1.8-2.2-2.9z" class="ab"/>
<path d="M163 122l 2.3-5.1 1.3-4.6-2.3 5.4z" class="l"/>
<path d="M116.1 95.7l 2.2 8 1.3-5.6-2.2-8.1z" class="x"/>
<path d="M116.7 127.5l 2.2 7.2 1.3-1.8-2.2-7.1z" class="hb"/>
<path d="M110.3 99.2l 2.3-.5 1.3-7.3-2.3 .6z" class="y"/>
<path d="M135.6 103.5l 2.3-4.9 1.2 6.8-2.3 5z" class="mb"/>
<path d="M89.4 85.7l 2.3 10.2 1.4 6.9-2.3-10.2z" class="ic"/>
<path d="M128.5 115l 2.3-5.9 1.3-1.8-2.3 6z" class="v"/>
<path d="M113.9 91.4l 2.2 4.3 1.3-5.7-2.2-4.2z" class="z"/>
<path d="M178.2 113.8l 2.2 3.5 1.3-6.1-2.2-3.5z" class="v"/>
<path d="M175.4 131l 2.1 3.7 1.5-8.4-2.2-3.6z" class="r"/>
<path d="M114.8 103l 2.2 8 1.3-7.3-2.2-8z" class="lb"/>
<path d="M109 104.9l 2.3-.5 1.3-5.7-2.3 .5z" class="bb"/>
<path d="M98.5 110.4l 2.2-3.8 1.3 6.8-2.2 3.8z" class="v"/>
<path d="M176.8 122.7l 2.2 3.6 1.4-9-2.2-3.5z" class="hc"/>
<path d="M176.1 106.8l 2.1 7 1.3-6.1-2.1-6.9z" class="s"/>
<path d="M76.8 73.2l 2.2-4.3 1.4 8.2-2.1 4.3z" class="qc"/>
<path d="M82.6 73.4l 2.2-.4 1.4 6.9-2.2 .5z" class="gc"/>
<path d="M173.2 123.9l 2.2 7.1 1.4-8.3-2.2-7.1z" class="p"/>
<path d="M132.1 107.3l 2.3-6.9 1.2 3.1-2.3 7z" class="mb"/>
<path d="M174 135.8l 2.2 3.8 1.3-4.9-2.1-3.7z" class="ab"/>
<path d="M112.6 98.7l 2.2 4.3 1.3-7.3-2.2-4.3z" class="x"/>
<path d="M174.6 115.6l 2.2 7.1 1.4-8.9-2.1-7z" class="c"/>
<path d="M113.5 108.7l 2.2 8 1.3-5.7-2.2-8z" class="f"/>
<path d="M146.8 118l 2.2 5.2 1.1 6.2-2.2-5z" class="p"/>
<path d="M121.1 137.6l 2.2-1.9 1.3-1.9-2.2 2z" class="ab"/>
<path d="M114.4 118.5l 2.3 9 1.3-1.7-2.3-9.1z" class="eb"/>
<path d="M169.4 95.7l 2.3-.6 1.4-6-2.3 .7z" class="uc"/>
<path d="M171.9 128.7l 2.1 7.1 1.4-4.8-2.2-7.1z" class="m"/>
<path d="M87.1 77.3l 2.3 8.4 1.4 6.9-2.3-8.4z" class="yb"/>
<path d="M111.3 104.4l 2.2 4.3 1.3-5.7-2.2-4.3z" class="lb"/>
<path d="M177.5 134.7l 2.4-1.4 1.4-8.5-2.3 1.5z" class="r"/>
<path d="M166.6 112.3l 2.3-.3 1.4-8.2-2.3 .5z" class="s"/>
<path d="M168 104.3l 2.3-.5 1.4-8.7-2.3 .6z" class="oc"/>
<path d="M180.4 117.3l 2.3-1.6 1.4-6.2-2.4 1.7z" class="h"/>
<path d="M127.2 120.7l 2.3-5.7 1.3-5.9-2.3 5.9z" class="c"/>
<path d="M173.9 99.5l 2.2 7.3 1.3-6-2.1-7.3z" class="oc"/>
<path d="M149 123.2l 2.2 .5 1.2 6-2.3-.3z" class="k"/>
<path d="M144.6 110.1l 2.2 7.9 1.1 6.4-2.1-7.8z" class="i"/>
<path d="M179 126.3l 2.3-1.5 1.4-9.1-2.3 1.6z" class="hc"/>
<path d="M84.8 73l 2.3 4.3 1.4 6.9-2.3-4.3z" class="cc"/>
<path d="M158.2 124.5l 2.4-7.9 1.2 4.9-2.5 8z" class="p"/>
<path d="M171.1 116.5l 2.1 7.4 1.4-8.3-2.1-7.3z" class="pb"/>
<path d="M161.8 121.5l 2.3-5 1.2 .4-2.3 5.1z" class="e"/>
<path d="M172.5 108.3l 2.1 7.3 1.5-8.8-2.2-7.3z" class="ib"/>
<path d="M176.2 139.6l 2.3-1.4 1.4-4.9-2.4 1.4z" class="ab"/>
<path d="M107.7 106.6l 2.3-.4 1.3-1.8-2.3 .5z" class="mb"/>
<path d="M171.7 95.1l 2.2 4.4 1.4-6-2.2-4.4z" class="ic"/>
<path d="M125.9 128l 2.3-5.6 1.3-7.4-2.3 5.7z" class="jb"/>
<path d="M165.3 116.9l 2.3-.3 1.3-4.6-2.3 .3z" class="c"/>
<path d="M168.9 112l 2.2 4.5 1.4-8.2-2.2-4.5z" class="f"/>
<path d="M169.8 121.3l 2.1 7.4 1.3-4.8-2.1-7.4z" class="eb"/>
<path d="M170.3 103.8l 2.2 4.5 1.4-8.8-2.2-4.4zM137.9 98.6l 2.3-.5 1.2 6.8-2.3 .5z" class="cb"/>
<path d="M154.7 125.2l 2.4-7.7 1.1 7-2.4 7.8z" class="g"/>
<path d="M112.2 110.5l 2.2 8 1.3-1.8-2.2-8z" class="h"/>
<path d="M124.6 133.8l 2.3-5.5 1.3-5.9-2.3 5.6z" class="sb"/>
<path d="M104.2 107.8l 2.2-4.3 1.3 3.1-2.2 4.3z" class="ib"/>
<path d="M117.6 131.7l 2.2 2.9 1.3 3-2.2-2.9z" class="nb"/>
<path d="M115.4 124.6l 2.2 7.1 1.3 3-2.2-7.2z" class="r"/>
<path d="M142.4 102.5l 2.2 7.6 1.2 6.5-2.2-7.5z" class="b"/>
<path d="M92.6 97l 2.3 5.2 1.3 7.9-2.2-5.2z" class="lb"/>
<path d="M172.8 135.6l 2.2 3.8 1.2 .2-2.2-3.8z" class="n"/>
<path d="M167.6 116.6l 2.2 4.7 1.3-4.8-2.2-4.5z" class="pb"/>
<path d="M110 106.2l 2.2 4.3 1.3-1.8-2.2-4.3z" class="ib"/>
<path d="M73.2 68.7l 2.2-1.7 1.4 6.2-2.2 1.7z" class="lc"/>
<path d="M140.2 98.1l 2.2 4.4 1.2 6.6-2.2-4.2z" class="lb"/>
<path d="M170.7 128.5l 2.1 7.1 1.2 .2-2.1-7.1z" class="hb"/>
<path d="M94.9 102.2l 2.2 .3 1.4 7.9-2.3-.3z" class="mb"/>
<path d="M79 68.9l 2.2-3.7 1.4 8.2-2.2 3.7z" class="lc"/>
<path d="M90.3 87.9l 2.3 9.1 1.4 7.9-2.3-9z" class="y"/>
<path d="M100.7 106.6l 2.2-5.6 1.3 6.8-2.2 5.6z" class="ib"/>
<path d="M130.8 109.1l 2.3-6.8 1.3-1.9-2.3 6.9z" class="a"/>
<path d="M151.2 123.7l 2.4-4.5 1.1 6-2.3 4.5z" class="p"/>
<path d="M175 139.4l 2.4-1.3 1.1 .1-2.3 1.4z" class="kb"/>
<path d="M123.3 135.7l 2.3-5.5 1.3-1.9-2.3 5.5z" class="hb"/>
<path d="M119.8 134.6l 2.3-1.9 1.2 3-2.2 1.9z" class="nb"/>
<path d="M113.2 115.5l 2.2 9.1 1.3 2.9-2.3-9z" class="jb"/>
<path d="M164.1 116.5l 2.3-.2 1.2 .3-2.3 .3z" class="pb"/>
<path d="M179.9 133.3l 2.4-6.2 1.5-8.7-2.5 6.4z" class="g"/>
<path d="M134.4 100.4l 2.3-4.8 1.2 3-2.3 4.9z" class="d"/>
<path d="M168.6 121l 2.1 7.5 1.2 .2-2.1-7.4z" class="p"/>
<path d="M182.7 115.7l 2.5-6.5 1.4-6.4-2.5 6.7z" class="s"/>
<path d="M181.3 124.8l 2.5-6.4 1.4-9.2-2.5 6.5z" class="pb"/>
<path d="M178.5 138.2l 2.5-6.1 1.3-5-2.4 6.2z" class="hb"/>
<path d="M106.4 103.5l 2.3-.4 1.3 3.1-2.3 .4z" class="lb"/>
<path d="M166.4 116.3l 2.2 4.7 1.2 .3-2.2-4.7z" class="l"/>
<path d="M88 77.6l 2.3 10.3 1.4 8-2.3-10.2z" class="yb"/>
<path d="M129.5 115l 2.3-6.7 1.3-6-2.3 6.8z" class="s"/>
<path d="M145.6 115.5l 2.2 5.3 1.2 2.4-2.2-5.2z" class="l"/>
<path d="M110.9 107.5l 2.3 8 1.2 3-2.2-8z" class="v"/>
<path d="M160.6 116.6l 2.4-4.9 1.1 4.8-2.3 5z" class="pb"/>
<path d="M75.4 67l 2.1-4.3 1.5 6.2-2.2 4.3z" class="wc"/>
<path d="M97.1 102.5l 2.2-3.9 1.4 8-2.2 3.8z" class="lb"/>
<path d="M128.2 122.4l 2.3-6.5 1.3-7.6-2.3 6.7z" class="c"/>
<path d="M81.2 65.2l 2.2-.4 1.4 8.2-2.2 .4z" class="pc"/>
<path d="M147.8 120.8l 2.2 .5 1.2 2.4-2.2-.5z" class="jb"/>
<path d="M108.7 103.1l 2.2 4.4 1.3 3-2.2-4.3z" class="mb"/>
<path d="M143.4 107.5l 2.2 8 1.2 2.5-2.2-7.9z" class="db"/>
<path d="M126.9 128.3l 2.3-6.5 1.3-5.9-2.3 6.5z" class="hc"/>
<path d="M85.7 69.2l 2.3 8.4 1.4 8.1-2.3-8.4z" class="qc"/>
<path d="M171.8 131l 2.2 3.7 1 4.7-2.2-3.8z" class="rb"/>
<path d="M157.1 117.5l 2.4-7.8 1.1 6.9-2.4 7.9z" class="pb"/>
<path d="M177.4 138.1l 2.4-6.2 1.2 .2-2.5 6.1z" class="o"/>
<path d="M136.7 95.6l 2.3-.3 1.2 2.8-2.3 .5z" class="y"/>
<path d="M83.4 64.8l 2.3 4.4 1.4 8.1-2.3-4.3z" class="jc"/>
<path d="M122.1 132.7l 2.2-5.4 1.3 2.9-2.3 5.5z" class="m"/>
<path d="M102.9 101l 2.2-4.2 1.3 6.7-2.2 4.3z" class="oc"/>
<path d="M169.6 123.8l 2.2 7.2 1 4.6-2.1-7.1z" class="sb"/>
<path d="M71.8 66.7l 2.2-1.7 1.4 2-2.2 1.7z" class="xc"/>
<path d="M116.3 125l 2.3 3 1.2 6.6-2.2-2.9z" class="sb"/>
<path d="M141.2 99.7l 2.2 7.8 1.2 2.6-2.2-7.6z" class="lb"/>
<path d="M114.1 117.9l 2.2 7.1 1.3 6.7-2.2-7.1z" class="p"/>
<path d="M133.1 102.3l 2.3-4.7 1.3-2-2.3 4.8z" class="fb"/>
<path d="M153.6 119.2l 2.4-7.5 1.1 5.8-2.4 7.7z" class="i"/>
<path d="M125.6 130.2l 2.3-6.4 1.3-2-2.3 6.5z" class="g"/>
<path d="M174 134.7l 2.3-1.3 1.1 4.7-2.4 1.3z" class="rb"/>
<path d="M139 95.3l 2.2 4.4 1.2 2.8-2.2-4.4z" class="fb"/>
<path d="M91.2 90.9l 2.3 5.2 1.4 6.1-2.3-5.2z" class="ic"/>
<path d="M163 111.7l 2.3-.1 1.1 4.7-2.3 .2z" class="db"/>
<path d="M167.5 116.3l 2.1 7.5 1.1 4.7-2.1-7.5z" class="hc"/>
<path d="M150 121.3l 2.4-4.3 1.2 2.2-2.4 4.5z" class="l"/>
<path d="M144.3 117.8l 2.2 5.4 1.3-2.4-2.2-5.3z" class="i"/>
<path d="M182.3 127.1l 2.6-8.9 1.4-8.8-2.5 9z" class="pb"/>
<path d="M118.6 128l 2.2-1.9 1.3 6.6-2.3 1.9z" class="sb"/>
<path d="M111.9 108.8l 2.2 9.1 1.3 6.7-2.2-9.1z" class="c"/>
<path d="M77.5 62.7l 2.2-3.7 1.5 6.2-2.2 3.7z" class="yc"/>
<path d="M185.2 109.2l 2.6-9.2 1.4-6.4-2.6 9.2z" class="d"/>
<path d="M88.9 81.8l 2.3 9.1 1.4 6.1-2.3-9.1z" class="vc"/>
<path d="M93.5 96.1l 2.2 .3 1.4 6.1-2.2-.3z" class="fb"/>
<path d="M165.3 111.6l 2.2 4.7 1.1 4.7-2.2-4.7z" class="h"/>
<path d="M146.5 123.2l 2.2 .7 1.3-2.6-2.2-.5z" class="hc"/>
<path d="M183.8 118.4l 2.5-9 1.5-9.4-2.6 9.2z" class="ib"/>
<path d="M131.8 108.3l 2.3-4.5 1.3-6.2-2.3 4.7z" class="cb"/>
<path d="M142.1 109.7l 2.2 8.1 1.3-2.3-2.2-8z" class="f"/>
<path d="M181 132.1l 2.5-8.9 1.4-5-2.6 8.9z" class="eb"/>
<path d="M99.3 98.6l 2.2-5.5 1.4 7.9-2.2 5.6z" class="x"/>
<path d="M130.5 115.9l 2.3-4.5 1.3-7.6-2.3 4.5z" class="s"/>
<path d="M105.1 96.8l 2.2-.4 1.4 6.7-2.3 .4z" class="x"/>
<path d="M143 124.2l 2.2 5.5 1.3-6.5-2.2-5.4z" class="jb"/>
<path d="M70.4 69.6l 2.2-1.6 1.4-3-2.2 1.7z" class="zc"/>
<path d="M74 65l 2.1-4.2 1.4 1.9-2.1 4.3z" class="yc"/>
<path d="M129.2 121.8l 2.2-4.3 1.4-6.1-2.3 4.5z" class="h"/>
<path d="M135.4 97.6l 2.3-.2 1.3-2.1-2.3 .3z" class="ic"/>
<path d="M141.6 132.1l 2.2 5.5 1.4-7.9-2.2-5.5z" class="sb"/>
<path d="M109.6 100.7l 2.3 8.1 1.3 6.7-2.3-8z" class="mb"/>
<path d="M145.2 129.7l 2.2 .8 1.3-6.6-2.2-.7z" class="p"/>
<path d="M140.3 138.3l 2.2 5.5 1.3-6.2-2.2-5.5z" class="nb"/>
<path d="M139.9 101.9l 2.2 7.8 1.3-2.2-2.2-7.8z" class="bb"/>
<path d="M86.6 71.5l 2.3 10.3 1.4 6.1-2.3-10.3z" class="gc"/>
<path d="M143.8 137.6l 2.3 .9 1.3-8-2.2-.8z" class="hb"/>
<path d="M140.8 116.1l 2.2 8.1 1.3-6.4-2.2-8.1z" class="c"/>
<path d="M107.3 96.4l 2.3 4.3 1.3 6.8-2.2-4.4z" class="d"/>
<path d="M159.5 109.7l 2.4-4.9 1.1 6.9-2.4 4.9z" class="s"/>
<path d="M142.5 143.8l 2.2 1 1.4-6.3-2.3-.9z" class="kb"/>
<path d="M176.3 133.4l 2.4-6.3 1.1 4.8-2.4 6.2z" class="r"/>
<path d="M139.4 123.9l 2.2 8.2 1.4-7.9-2.2-8.1z" class="jb"/>
<path d="M137.7 97.4l 2.2 4.5 1.3-2.2-2.2-4.4z" class="y"/>
<path d="M124.3 127.3l 2.3-6.3 1.3 2.8-2.3 6.4z" class="eb"/>
<path d="M79.7 59l 2.3-.3 1.4 6.1-2.2 .4z" class="ad"/>
<path d="M95.7 96.4l 2.3-3.8 1.3 6-2.2 3.9z" class="ic"/>
<path d="M148.7 123.9l 2.4-4.1 1.3-2.8-2.4 4.3z" class="i"/>
<path d="M69.2 76.1l 2.2-1.6 1.2-6.5-2.2 1.6z" class="rc"/>
<path d="M138.1 130.1l 2.2 8.2 1.3-6.2-2.2-8.2z" class="sb"/>
<path d="M179.8 131.9l 2.5-8.8 1.2 .1-2.5 8.9z" class="p"/>
<path d="M127.9 123.8l 2.3-4.2 1.2-2.1-2.2 4.3z" class="l"/>
<path d="M134.1 103.8l 2.3-.2 1.3-6.2-2.3 .2z" class="x"/>
<path d="M139 140.5l 2.2 5.6 1.3-2.3-2.2-5.5z" class="q"/>
<path d="M120.8 126.1l 2.3-5.4 1.2 6.6-2.2 5.4z" class="p"/>
<path d="M67.9 83.3l 2.2-1.5 1.3-7.3-2.2 1.6z" class="qc"/>
<path d="M138.6 108.2l 2.2 7.9 1.3-6.4-2.2-7.8z" class="mb"/>
<path d="M170.7 124.3l 2.2 3.7 1.1 6.7-2.2-3.7z" class="ob"/>
<path d="M84.3 63l 2.3 8.5 1.4 6.1-2.3-8.4z" class="pc"/>
<path d="M132.8 111.4l 2.2 0 1.4-7.8-2.3 .2z" class="a"/>
<path d="M141.2 146.1l 2.3 1 1.2-2.3-2.2-1z" class="w"/>
<path d="M156 111.7l 2.4-7.8 1.1 5.8-2.4 7.8z" class="ib"/>
<path d="M152.4 117l 2.4-7.4 1.2 2.1-2.4 7.5z" class="db"/>
<path d="M137.3 116l 2.1 7.9 1.4-7.8-2.2-7.9z" class="v"/>
<path d="M82 58.7l 2.3 4.3 1.4 6.2-2.3-4.4z" class="bd"/>
<path d="M168.6 117.1l 2.1 7.2 1.1 6.7-2.2-7.2z" class="hc"/>
<path d="M136.4 103.6l 2.2 4.6 1.3-6.3-2.2-4.5z" class="d"/>
<path d="M89.9 89.1l 2.3 5.2 1.3 1.8-2.3-5.2z" class="zb"/>
<path d="M131.4 117.5l 2.3 0 1.3-6.1-2.2 0z" class="db"/>
<path d="M147.4 130.5l 2.3-4 1.4-6.7-2.4 4.1z" class="jb"/>
<path d="M66.7 88.4l 2.1-1.4 1.3-5.2-2.2 1.5z" class="bc"/>
<path d="M72.6 68l 2.2-4.1 1.3-3.1-2.1 4.2z" class="bd"/>
<path d="M135.9 122.2l 2.2 7.9 1.3-6.2-2.1-7.9z" class="e"/>
<path d="M101.5 93.1l 2.3-4.3 1.3 8-2.2 4.2z" class="z"/>
<path d="M136.8 132.3l 2.2 8.2 1.3-2.2-2.2-8.2z" class="hb"/>
<path d="M146.1 138.5l 2.3-3.8 1.3-8.2-2.3 4z" class="r"/>
<path d="M135 111.4l 2.3 4.6 1.3-7.8-2.2-4.6z" class="ib"/>
<path d="M115.1 117.2l 2.2 3 1.3 7.8-2.3-3z" class="e"/>
<path d="M144.7 144.8l 2.3-3.7 1.4-6.4-2.3 3.8z" class="ab"/>
<path d="M76.1 60.8l 2.2-3.6 1.4 1.8-2.2 3.7z" class="cd"/>
<path d="M172.9 128l 2.3-1.5 1.1 6.9-2.3 1.3z" class="k"/>
<path d="M112.8 110l 2.3 7.2 1.2 7.8-2.2-7.1z" class="h"/>
<path d="M87.6 80l 2.3 9.1 1.3 1.8-2.3-9.1z" class="tc"/>
<path d="M92.2 94.3l 2.2 .3 1.3 1.8-2.2-.3z" class="uc"/>
<path d="M161.9 104.8l 2.3 0 1.1 6.8-2.3 .1z" class="a"/>
<path d="M133.7 117.5l 2.2 4.7 1.4-6.2-2.3-4.6z" class="h"/>
<path d="M166.4 109.6l 2.2 7.5 1 6.7-2.1-7.5z" class="v"/>
<path d="M184.9 118.2l 2.5-8.3 1.5-8.9-2.6 8.4z" class="mb"/>
<path d="M187.8 100l 2.5-8.4 1.4-6.5-2.5 8.5z" class="zb"/>
<path d="M186.3 109.4l 2.6-8.4 1.4-9.4-2.5 8.4z" class="fb"/>
<path d="M183.5 123.2l 2.6-8.1 1.3-5.2-2.5 8.3z" class="v"/>
<path d="M71.4 74.5l 2.1-4 1.3-6.6-2.2 4.1z" class="xc"/>
<path d="M130.2 119.6l 2.2 0 1.3-2.1-2.3 0z" class="c"/>
<path d="M164.2 104.8l 2.2 4.8 1.1 6.7-2.2-4.7z" class="ib"/>
<path d="M134.7 124.4l 2.1 7.9 1.3-2.2-2.2-7.9z" class="p"/>
<path d="M143.5 147.1l 2.3-3.6 1.2-2.4-2.3 3.7z" class="t"/>
<path d="M110.5 100.9l 2.3 9.1 1.3 7.9-2.2-9.1z" class="mb"/>
<path d="M117.3 120.2l 2.3-1.8 1.2 7.7-2.2 1.9z" class="e"/>
<path d="M65.3 89.3l 2.2-1.4 1.3-.9-2.1 1.4z" class="kc"/>
<path d="M70.1 81.8l 2.2-3.9 1.2-7.4-2.1 4z" class="sc"/>
<path d="M126.6 121l 2.3-4.2 1.3 2.8-2.3 4.2z" class="pb"/>
<path d="M98 92.6l 2.2-5.5 1.3 6-2.2 5.5z" class="zb"/>
<path d="M85.2 69.7l 2.4 10.3 1.3 1.8-2.3-10.3z" class="sc"/>
<path d="M132.4 119.6l 2.3 4.8 1.2-2.2-2.2-4.7z" class="i"/>
<path d="M137.8 137.8l 2.2 5.6 1.2 2.7-2.2-5.6z" class="kb"/>
<path d="M151.1 119.8l 2.4-7.3 1.3-2.9-2.4 7.4z" class="f"/>
<path d="M88.6 92.1l 2.3 5.2 1.3-3-2.3-5.2z" class="zb"/>
<path d="M140 143.4l 2.2 1.1 1.3 2.6-2.3-1z" class="t"/>
<path d="M103.8 88.8l 2.2-.4 1.3 8-2.2 .4z" class="zb"/>
<path d="M178.7 127.1l 2.6-8.9 1 4.9-2.5 8.8z" class="hc"/>
<path d="M68.8 87l 2.2-3.9 1.3-5.2-2.2 3.9z" class="ec"/>
<path d="M78.3 57.2l 2.3-.4 1.4 1.9-2.3 .3z" class="dd"/>
<path d="M94.4 94.6l 2.2-3.8 1.4 1.8-2.3 3.8z" class="zb"/>
<path d="M74.8 63.9l 2.2-3.6 1.3-3.1-2.2 3.6z" class="cd"/>
<path d="M123.1 120.7l 2.3-6.3 1.2 6.6-2.3 6.3z" class="i"/>
<path d="M108.3 92.8l 2.2 8.1 1.4 7.9-2.3-8.1z" class="fb"/>
<path d="M135.6 129.6l 2.2 8.2 1.2 2.7-2.2-8.2z" class="m"/>
<path d="M86.2 83.1l 2.4 9 1.3-3-2.3-9.1z" class="tc"/>
<path d="M90.9 97.3l 2.2 .4 1.3-3.1-2.2-.3z" class="z"/>
<path d="M158.4 103.9l 2.4-4.8 1.1 5.7-2.4 4.9z" class="oc"/>
<path d="M175.2 126.5l 2.5-6.3 1 6.9-2.4 6.3z" class="jb"/>
<path d="M182.3 123.1l 2.6-8.2 1.2 .2-2.6 8.1z" class="h"/>
<path d="M82.9 61.2l 2.3 8.5 1.4 1.8-2.3-8.5z" class="yc"/>
<path d="M106 88.4l 2.3 4.4 1.3 7.9-2.3-4.3z" class="u"/>
<path d="M149.7 126.5l 2.4-7.1 1.4-6.9-2.4 7.3z" class="c"/>
<path d="M87.3 98.6l 2.3 5.2 1.3-6.5-2.3-5.2z" class="j"/>
<path d="M148.4 134.7l 2.4-6.9 1.3-8.4-2.4 7.1z" class="eb"/>
<path d="M80.6 56.8l 2.3 4.4 1.4 1.8-2.3-4.3z" class="ed"/>
<path d="M154.8 109.6l 2.4-7.6 1.2 1.9-2.4 7.8z" class="bb"/>
<path d="M147 141.1l 2.4-6.7 1.4-6.6-2.4 6.9z" class="r"/>
<path d="M86 106l 2.3 5.1 1.3-7.3-2.3-5.2z" class="oc"/>
<path d="M198.5 128.8l 2.2 2.8 1.5-8.8-2.3-2.9z" class="hc"/>
<path d="M73.5 70.5l 2.2-3.6 1.3-6.6-2.2 3.6z" class="bd"/>
<path d="M128.9 116.8l 2.3 .1 1.2 2.7-2.2 0z" class="h"/>
<path d="M85 89.7l 2.3 8.9 1.3-6.5-2.4-9z" class="yb"/>
<path d="M89.6 103.8l 2.2 .4 1.3-6.5-2.2-.4z" class="y"/>
<path d="M67.5 87.9l 2.1-3.9 1.4-.9-2.2 3.9z" class="bc"/>
<path d="M133.4 121.7l 2.2 7.9 1.2 2.7-2.1-7.9z" class="eb"/>
<path d="M201.4 110.3l 2.3 2.9 1.4-6.5-2.3-3z" class="bb"/>
<path d="M169.6 118.7l 2.2 3.7 1.1 5.6-2.2-3.7z" class="l"/>
<path d="M196.4 121.6l 2.1 7.2 1.4-8.9-2.1-7.3z" class="c"/>
<path d="M190.3 91.6l 2.5-4.5 1.4-6.6-2.5 4.6z" class="bc"/>
<path d="M199.9 119.9l 2.3 2.9 1.5-9.6-2.3-2.9z" class="db"/>
<path d="M187.4 109.9l 2.5-4.3 1.4-9-2.4 4.4z" class="x"/>
<path d="M142.2 144.5l 2.4-3.5 1.2 2.5-2.3 3.6z" class="q"/>
<path d="M197.1 133.8l 2.2 2.7 1.4-4.9-2.2-2.8z" class="k"/>
<path d="M83.9 72.8l 2.3 10.3 1.4-3.1-2.4-10.3z" class="sc"/>
<path d="M199.3 103l 2.1 7.3 1.4-6.6-2.1-7.3z" class="x"/>
<path d="M119.6 118.4l 2.2-5.4 1.3 7.7-2.3 5.4z" class="c"/>
<path d="M188.9 101l 2.4-4.4 1.5-9.5-2.5 4.5z" class="zb"/>
<path d="M84.7 111.1l 2.3 5.2 1.3-5.2-2.3-5.1z" class="mb"/>
<path d="M72.3 77.9l 2.2-3.5 1.2-7.5-2.2 3.6z" class="pc"/>
<path d="M167.4 111.6l 2.2 7.1 1.1 5.6-2.1-7.2z" class="v"/>
<path d="M197.8 112.6l 2.1 7.3 1.5-9.6-2.1-7.3z" class="mb"/>
<path d="M88.3 111.1l 2.2 .4 1.3-7.3-2.2-.4z" class="bb"/>
<path d="M83.7 97l 2.3 9 1.3-7.4-2.3-8.9z" class="uc"/>
<path d="M195 126.7l 2.1 7.1 1.4-5-2.1-7.2z" class="jb"/>
<path d="M186.1 115.1l 2.4-4.3 1.4-5.2-2.5 4.3z" class="a"/>
<path d="M63.8 85.7l 2.2-1.4 1.5 3.6-2.2 1.4z" class="bc"/>
<path d="M131.2 116.9l 2.2 4.8 1.3 2.7-2.3-4.8z" class="pb"/>
<path d="M145.8 143.5l 2.3-6.6 1.3-2.5-2.4 6.7z" class="rb"/>
<path d="M100.2 87.1l 2.2-4.3 1.4 6-2.3 4.3z" class="ac"/>
<path d="M77 60.3l 2.2-.4 1.4-3.1-2.3 .4z" class="dd"/>
<path d="M93.1 97.7l 2.2-3.8 1.3-3.1-2.2 3.8z" class="zb"/>
<path d="M87 116.3l 2.2 .3 1.3-5.1-2.2-.4z" class="b"/>
<path d="M82.4 102.2l 2.3 8.9 1.3-5.1-2.3-9z" class="d"/>
<path d="M71 83.1l 2.2-3.5 1.3-5.2-2.2 3.5z" class="fc"/>
<path d="M171.8 122.4l 2.4-1.5 1 5.6-2.3 1.5z" class="e"/>
<path d="M113.8 111.3l 2.2 3 1.3 5.9-2.2-3z" class="f"/>
<path d="M200.7 131.6l 2.4-2.8 1.5-8.8-2.4 2.8z" class="e"/>
<path d="M160.8 99.1l 2.3 .1 1.1 5.6-2.3 0z" class="fb"/>
<path d="M111.5 104.1l 2.3 7.2 1.3 5.9-2.3-7.2z" class="mb"/>
<path d="M194.3 113.1l 2.1 8.5 1.4-9-2-8.5z" class="ib"/>
<path d="M165.3 104l 2.1 7.6 1.2 5.5-2.2-7.5z" class="a"/>
<path d="M203.7 113.2l 2.4-2.7 1.4-6.5-2.4 2.7z" class="bb"/>
<path d="M82.6 79.5l 2.4 10.2 1.2-6.6-2.3-10.3z" class="gc"/>
<path d="M197.3 94.5l 2 8.5 1.4-6.6-2-8.5z" class="u"/>
<path d="M81.5 64.3l 2.4 8.5 1.3-3.1-2.3-8.5z" class="yc"/>
<path d="M202.2 122.8l 2.4-2.8 1.5-9.5-2.4 2.7z" class="f"/>
<path d="M195.8 104.1l 2 8.5 1.5-9.6-2-8.5z" class="x"/>
<path d="M96.6 90.8l 2.2-5.5 1.4 1.8-2.2 5.5z" class="ac"/>
<path d="M199.3 136.5l 2.5-2.9 1.3-4.8-2.4 2.8z" class="ob"/>
<path d="M193 118.2l 2 8.5 1.4-5.1-2.1-8.5z" class="h"/>
<path d="M79.2 59.9l 2.3 4.4 1.4-3.1-2.3-4.4z" class="ed"/>
<path d="M81.3 86.9l 2.4 10.1 1.3-7.3-2.4-10.2z" class="ac"/>
<path d="M163.1 99.2l 2.2 4.8 1.1 5.6-2.2-4.8z" class="d"/>
<path d="M125.4 114.4l 2.3-4.2 1.2 6.6-2.3 4.2z" class="f"/>
<path d="M153.5 112.5l 2.4-7.4 1.3-3.1-2.4 7.6z" class="cb"/>
<path d="M83.4 112.1l 2.3 5.2 1.3-1-2.3-5.2z" class="s"/>
<path d="M75.7 66.9l 2.3-.3 1.2-6.7-2.2 .4z" class="fd"/>
<path d="M192.8 87.1l 2.3 1.1 1.4-6.5-2.3-1.2z" class="cc"/>
<path d="M189.9 105.6l 2.3 1.3 1.4-9.1-2.3-1.2z" class="y"/>
<path d="M91.8 104.2l 2.2-3.7 1.3-6.6-2.2 3.8z" class="j"/>
<path d="M136.6 131.4l 2.2 5.6 1.2 6.4-2.2-5.6z" class="hb"/>
<path d="M196 133.2l 2.2 2.6 1.1 .7-2.2-2.7z" class="sb"/>
<path d="M191.3 96.6l 2.3 1.2 1.5-9.6-2.3-1.1z" class="vc"/>
<path d="M192.2 106.9l 2.1 6.2 1.5-9-2.2-6.3z" class="d"/>
<path d="M195.1 88.2l 2.2 6.3 1.4-6.6-2.2-6.2z" class="tc"/>
<path d="M109.2 94.9l 2.3 9.2 1.3 5.9-2.3-9.1z" class="fb"/>
<path d="M193.9 126.2l 2.1 7 1.1 .6-2.1-7.1z" class="p"/>
<path d="M116 114.3l 2.3-1.8 1.3 5.9-2.3 1.8z" class="f"/>
<path d="M138.8 137l 2.3 1.2 1.1 6.3-2.2-1.1z" class="nb"/>
<path d="M193.6 97.8l 2.2 6.3 1.5-9.6-2.2-6.3z" class="u"/>
<path d="M80 92.1l 2.4 10.1 1.3-5.2-2.4-10.1z" class="zb"/>
<path d="M188.5 110.8l 2.3 1.2 1.4-5.1-2.3-1.3z" class="bb"/>
<path d="M184.9 114.9l 2.4-4.4 1.2 .3-2.4 4.3z" class="ib"/>
<path d="M74.5 74.4l 2.2-.3 1.3-7.5-2.3 .3z" class="xc"/>
<path d="M90.5 111.5l 2.2-3.7 1.3-7.3-2.2 3.7z" class="oc"/>
<path d="M181.3 118.2l 2.5-8.3 1.1 5-2.6 8.2z" class="f"/>
<path d="M80.3 71l 2.3 8.5 1.3-6.7-2.4-8.5z" class="wc"/>
<path d="M85.7 117.3l 2.2 .4 1.3-1.1-2.2-.3z" class="db"/>
<path d="M81.1 103.3l 2.3 8.8 1.3-1-2.3-8.9z" class="cb"/>
<path d="M190.8 112l 2.2 6.2 1.3-5.1-2.1-6.2z" class="mb"/>
<path d="M69.6 84l 2.2-3.3 1.4-1.1-2.2 3.5z" class="qc"/>
<path d="M157.2 102l 2.4-4.7 1.2 1.8-2.4 4.8z" class="ic"/>
<path d="M78 66.6l 2.3 4.4 1.2-6.7-2.3-4.4z" class="ad"/>
<path d="M66 84.3l 2.2-3.8 1.4 3.5-2.1 3.9z" class="ec"/>
<path d="M177.7 120.2l 2.6-9.1 1 7.1-2.6 8.9z" class="v"/>
<path d="M134.4 123.1l 2.2 8.3 1.2 6.4-2.2-8.2z" class="g"/>
<path d="M152.1 119.4l 2.4-7.2 1.4-7.1-2.4 7.4z" class="mb"/>
<path d="M102.4 82.8l 2.3-.3 1.3 5.9-2.2 .4z" class="dc"/>
<path d="M79 78.5l 2.3 8.4 1.3-7.4-2.3-8.5z" class="fc"/>
<path d="M89.2 116.6l 2.2-3.6 1.3-5.2-2.2 3.7z" class="mb"/>
<path d="M150.8 127.8l 2.3-7.1 1.4-8.5-2.4 7.2z" class="h"/>
<path d="M73.2 79.6l 2.2-.2 1.3-5.3-2.2 .3z" class="lc"/>
<path d="M149.4 134.4l 2.4-6.9 1.3-6.8-2.3 7.1z" class="jb"/>
<path d="M144.6 141l 2.3-6.6 1.2 2.5-2.3 6.6z" class="o"/>
<path d="M76.7 74.1l 2.3 4.4 1.3-7.5-2.3-4.4z" class="wc"/>
<path d="M107 86.9l 2.2 8 1.3 6-2.2-8.1z" class="xb"/>
<path d="M191.8 117.8l 2.1 8.4 1.1 .5-2-8.5z" class="pb"/>
<path d="M198.2 135.8l 2.4-3.1 1.2 .9-2.5 2.9z" class="k"/>
<path d="M121.8 113l 2.3-6.4 1.3 7.8-2.3 6.3z" class="s"/>
<path d="M77.7 83.8l 2.3 8.3 1.3-5.2-2.3-8.4z" class="cc"/>
<path d="M174.2 120.9l 2.4-6.4 1.1 5.7-2.5 6.3zM168.4 117.1l 2.2 3.7 1.2 1.6-2.2-3.7z" class="h"/>
<path d="M104.7 82.5l 2.3 4.4 1.3 5.9-2.3-4.4z" class="bc"/>
<path d="M95.3 93.9l 2.2-5.5 1.3-3.1-2.2 5.5z" class="ac"/>
<path d="M78.7 93.2l 2.4 10.1 1.3-1.1-2.4-10.1z" class="z"/>
<path d="M127.7 110.2l 2.2 .1 1.3 6.6-2.3-.1z" class="ib"/>
<path d="M75.4 79.4l 2.3 4.4 1.3-5.3-2.3-4.4z" class="fc"/>
<path d="M132.2 115.1l 2.2 8 1.2 6.5-2.2-7.9z" class="pb"/>
<path d="M166.3 109.9l 2.1 7.2 1.2 1.6-2.2-7.1z" class="s"/>
<path d="M203.1 128.8l 2.6-7.6 1.5-8.7-2.6 7.5z" class="h"/>
<path d="M206.1 110.5l 2.6-7.4 1.4-6.4-2.6 7.3z" class="fb"/>
<path d="M141.1 138.2l 2.3-3.6 1.2 6.4-2.4 3.5z" class="o"/>
<path d="M187.3 110.5l 2.3 1.2 1.2 .3-2.3-1.2z" class="a"/>
<path d="M148.1 136.9l 2.4-6.8 1.3-2.6-2.4 6.9z" class="ob"/>
<path d="M204.6 120l 2.6-7.5 1.5-9.4-2.6 7.4z" class="a"/>
<path d="M98.8 85.3l 2.3-4.2 1.3 1.7-2.2 4.3z" class="ec"/>
<path d="M189.6 111.7l 2.2 6.1 1.2 .4-2.2-6.2z" class="s"/>
<path d="M87.9 117.7l 2.2-3.6 1.3-1.1-2.2 3.6z" class="b"/>
<path d="M62.3 79l 2.2-1.3 1.5 6.6-2.2 1.4z" class="qc"/>
<path d="M201.8 133.6l 2.6-7.7 1.3-4.7-2.6 7.6z" class="hc"/>
<path d="M129.9 110.3l 2.3 4.8 1.2 6.6-2.2-4.8z" class="b"/>
<path d="M71.8 80.7l 2.3-.2 1.3-1.1-2.2 .2z" class="fc"/>
<path d="M82 108.6l 2.3 5.2 1.4 3.5-2.3-5.2z" class="mb"/>
<path d="M170.6 120.8l 2.4-1.5 1.2 1.6-2.4 1.5z" class="h"/>
<path d="M112.4 109.6l 2.3 3 1.3 1.7-2.2-3z" class="mb"/>
<path d="M159.6 97.3l 2.3 .2 1.2 1.7-2.3-.1z" class="z"/>
<path d="M94 100.5l 2.2-5.4 1.3-6.7-2.2 5.5z" class="xb"/>
<path d="M110.2 102.4l 2.2 7.2 1.4 1.7-2.3-7.2z" class="oc"/>
<path d="M118.3 112.5l 2.2-5.4 1.3 5.9-2.2 5.4z" class="mb"/>
<path d="M164.1 102.3l 2.2 7.6 1.1 1.7-2.1-7.6z" class="oc"/>
<path d="M155.9 105.1l 2.4-4.6 1.3-3.2-2.4 4.7z" class="ic"/>
<path d="M76.4 84.9l 2.3 8.3 1.3-1.1-2.3-8.3z" class="tc"/>
<path d="M92.7 107.8l 2.2-5.3 1.3-7.4-2.2 5.4z" class="ic"/>
<path d="M84.3 113.8l 2.2 .4 1.4 3.5-2.2-.4z" class="b"/>
<path d="M68.2 80.5l 2.2-3.4 1.4 3.6-2.2 3.3z" class="fc"/>
<path d="M79.7 99.8l 2.3 8.8 1.4 3.5-2.3-8.8z" class="d"/>
<path d="M161.9 97.5l 2.2 4.8 1.2 1.7-2.2-4.8z" class="j"/>
<path d="M74.1 80.5l 2.3 4.4 1.3-1.1-2.3-4.4z" class="qc"/>
<path d="M195 127.6l 2.2 2.5 1 5.7-2.2-2.6z" class="p"/>
<path d="M183.8 109.9l 2.5-4.5 1 5.1-2.4 4.4z" class="bb"/>
<path d="M91.4 113l 2.2-5.3 1.3-5.2-2.2 5.3z" class="oc"/>
<path d="M192.8 120.7l 2.2 6.9 1 5.6-2.1-7z" class="e"/>
<path d="M107.9 93.2l 2.3 9.2 1.3 1.7-2.3-9.2z" class="uc"/>
<path d="M167.1 120.5l 2.2 3.7 1.3-3.4-2.2-3.7z" class="h"/>
<path d="M114.7 112.6l 2.3-1.8 1.3 1.7-2.3 1.8z" class="mb"/>
<path d="M154.5 112.2l 2.4-4.4 1.4-7.3-2.4 4.6z" class="d"/>
<path d="M153.1 120.7l 2.4-4.2 1.4-8.7-2.4 4.4z" class="ib"/>
<path d="M165 113.3l 2.1 7.2 1.3-3.4-2.1-7.2z" class="s"/>
<path d="M151.8 127.5l 2.4-4.1 1.3-6.9-2.4 4.2z" class="c"/>
<path d="M101.1 81.1l 2.2-.3 1.4 1.7-2.3 .3z" class="gd"/>
<path d="M200.6 132.7l 2.7-7.9 1.1 1.1-2.6 7.7z" class="jb"/>
<path d="M124.1 106.6l 2.3-4.1 1.3 7.7-2.3 4.2z" class="cb"/>
<path d="M97.5 88.4l 2.3-4.1 1.3-3.2-2.3 4.2z" class="ec"/>
<path d="M77.3 89.7l 2.4 10.1 1.4 3.5-2.4-10.1z" class="zb"/>
<path d="M64.5 77.7l 2.2-3.8 1.5 6.6-2.2 3.8z" class="sc"/>
<path d="M163 143.9l 2.2 3.8 1.3-7.1-2.2-3.7z" class="nb"/>
<path d="M146.9 134.4l 2.4-6.7 1.2 2.4-2.4 6.8z" class="g"/>
<path d="M164.3 136.9l 2.2 3.7 1.5-8.9-2.3-3.7z" class="ob"/>
<path d="M135.4 123.7l 2.2 5.7 1.2 7.6-2.2-5.6z" class="eb"/>
<path d="M165.7 128l 2.3 3.7 1.3-7.5-2.2-3.7z" class="l"/>
<path d="M180.3 111.1l 2.5-8.4 1 7.2-2.5 8.3z" class="bb"/>
<path d="M190.8 112.5l 2 8.2 1.1 5.5-2.1-8.4z" class="db"/>
<path d="M105.6 85.2l 2.3 8 1.3 1.7-2.2-8z" class="ac"/>
<path d="M169.3 124.2l 2.4-1.4 1.3-3.5-2.4 1.5z" class="h"/>
<path d="M111.1 112.7l 2.3 2.9 1.3-3-2.3-3z" class="a"/>
<path d="M158.3 100.5l 2.3 .3 1.3-3.3-2.3-.2z" class="z"/>
<path d="M197.2 130.1l 2.5-3.3 .9 5.9-2.4 3.1z" class="eb"/>
<path d="M137.6 129.4l 2.3 1.1 1.2 7.7-2.3-1.2z" class="ob"/>
<path d="M162.2 129.7l 2.1 7.2 1.4-8.9-2.1-7.2z" class="jb"/>
<path d="M160.8 136.7l 2.2 7.2 1.3-7-2.1-7.2z" class="r"/>
<path d="M108.9 105.5l 2.2 7.2 1.3-3.1-2.2-7.2z" class="oc"/>
<path d="M163.6 120.8l 2.1 7.2 1.4-7.5-2.1-7.2z" class="v"/>
<path d="M143.4 134.6l 2.3-6.5 1.2 6.3-2.3 6.6z" class="k"/>
<path d="M162.8 105.7l 2.2 7.6 1.3-3.4-2.2-7.6z" class="oc"/>
<path d="M90.1 114.1l 2.2-5.3 1.3-1.1-2.2 5.3z" class="lb"/>
<path d="M173 119.3l 2.5-6.5 1.1 1.7-2.4 6.4z" class="b"/>
<path d="M86.5 114.2l 2.2-3.6 1.4 3.5-2.2 3.6z" class="ib"/>
<path d="M103.3 80.8l 2.3 4.4 1.4 1.7-2.3-4.4z" class="gc"/>
<path d="M150.5 130.1l 2.4-4 1.3-2.7-2.4 4.1z" class="e"/>
<path d="M176.6 114.5l 2.6-9.2 1.1 5.8-2.6 9.1z" class="a"/>
<path d="M70.4 77.1l 2.2-.1 1.5 3.5-2.3 .2z" class="lc"/>
<path d="M186.3 105.4l 2.3 1.1 1 5.2-2.3-1.2z" class="oc"/>
<path d="M133.2 115.4l 2.2 8.3 1.2 7.7-2.2-8.3z" class="pb"/>
<path d="M96.2 95.1l 2.3-4.1 1.3-6.7-2.3 4.1z" class="tc"/>
<path d="M165.2 147.7l 2.3-1.2 1.4-7.1-2.4 1.2z" class="nb"/>
<path d="M161.7 146.7l 2.2 3.8 1.3-2.8-2.2-3.8z" class="q"/>
<path d="M160.6 100.8l 2.2 4.9 1.3-3.4-2.2-4.8z" class="j"/>
<path d="M166.5 140.6l 2.4-1.2 1.4-9-2.3 1.3z" class="k"/>
<path d="M188.6 106.5l 2.2 6 1 5.3-2.2-6.1z" class="lb"/>
<path d="M168 131.7l 2.3-1.3 1.4-7.6-2.4 1.4z" class="e"/>
<path d="M208.7 103.1l 2.7-9.1 1.4-6.2-2.7 8.9z" class="vc"/>
<path d="M74.9 81.4l 2.4 8.3 1.4 3.5-2.3-8.3z" class="dc"/>
<path d="M205.7 121.2l 2.7-9.3 1.5-8.6-2.7 9.2z" class="lb"/>
<path d="M156.9 107.8l 2.3 .4 1.4-7.4-2.3-.3z" class="fb"/>
<path d="M109.8 119.2l 2.3 2.9 1.3-6.5-2.3-2.9z" class="b"/>
<path d="M161.4 113.2l 2.2 7.6 1.4-7.5-2.2-7.6z" class="a"/>
<path d="M207.2 112.5l 2.7-9.2 1.5-9.3-2.7 9.1z" class="ic"/>
<path d="M94.9 102.5l 2.3-4.1 1.3-7.4-2.3 4.1z" class="zb"/>
<path d="M160 122l 2.2 7.7 1.4-8.9-2.2-7.6z" class="h"/>
<path d="M120.5 107.1l 2.3-6.3 1.3 5.8-2.3 6.4z" class="d"/>
<path d="M159.5 139.5l 2.2 7.2 1.3-2.8-2.2-7.2z" class="rb"/>
<path d="M158.6 129.1l 2.2 7.6 1.4-7-2.2-7.7z" class="jb"/>
<path d="M155.5 116.5l 2.3 .5 1.4-8.8-2.3-.4z" class="a"/>
<path d="M106.6 96.4l 2.3 9.1 1.3-3.1-2.3-9.2z" class="z"/>
<path d="M107.6 112.1l 2.2 7.1 1.3-6.5-2.2-7.2z" class="a"/>
<path d="M154.2 123.4l 2.2 .6 1.4-7-2.3-.5z" class="v"/>
<path d="M72.6 77l 2.3 4.4 1.5 3.5-2.3-4.4z" class="fc"/>
<path d="M113.4 115.6l 2.3-1.8 1.3-3-2.3 1.8z" class="mb"/>
<path d="M108.5 126.5l 2.3 2.9 1.3-7.3-2.3-2.9z" class="pb"/>
<path d="M204.4 125.9l 2.7-9.5 1.3-4.5-2.7 9.3z" class="f"/>
<path d="M106.3 119.4l 2.2 7.1 1.3-7.3-2.2-7.1z" class="db"/>
<path d="M117 110.8l 2.3-5.4 1.2 1.7-2.2 5.4z" class="cb"/>
<path d="M126.4 102.5l 2.3 .1 1.2 7.7-2.2-.1z" class="x"/>
<path d="M159.2 108.2l 2.2 5 1.4-7.5-2.2-4.9z" class="d"/>
<path d="M163.9 150.5l 2.3-1.2 1.3-2.8-2.3 1.2z" class="q"/>
<path d="M93.6 107.7l 2.3-4 1.3-5.3-2.3 4.1z" class="ic"/>
<path d="M157.8 117l 2.2 5 1.4-8.8-2.2-5z" class="ib"/>
<path d="M80.6 102.2l 2.3 5.1 1.4 6.5-2.3-5.2z" class="oc"/>
<path d="M131 107.4l 2.2 8 1.2 7.7-2.2-8z" class="ib"/>
<path d="M99.8 84.3l 2.2-.4 1.3-3.1-2.2 .3z" class="gd"/>
<path d="M156.4 124l 2.2 5.1 1.4-7.1-2.2-5z" class="c"/>
<path d="M60.8 72.1l 2.2-1.3 1.5 6.9-2.2 1.3z" class="wc"/>
<path d="M139.9 130.5l 2.3-3.5 1.2 7.6-2.3 3.6z" class="p"/>
<path d="M107.2 131.6l 2.3 2.9 1.3-5.1-2.3-2.9z" class="eb"/>
<path d="M105 124.6l 2.2 7 1.3-5.1-2.2-7.1z" class="i"/>
<path d="M157.4 131.8l 2.1 7.7 1.3-2.8-2.2-7.6z" class="ob"/>
<path d="M105.3 103l 2.3 9.1 1.3-6.6-2.3-9.1z" class="y"/>
<path d="M104.3 88.3l 2.3 8.1 1.3-3.2-2.3-8z" class="tc"/>
<path d="M66.7 73.9l 2.2-3.3 1.5 6.5-2.2 3.4z" class="pc"/>
<path d="M128.7 102.6l 2.3 4.8 1.2 7.7-2.3-4.8z" class="oc"/>
<path d="M152.9 126.1l 2.2 .6 1.3-2.7-2.2-.6z" class="i"/>
<path d="M78.2 93.3l 2.4 8.9 1.4 6.4-2.3-8.8z" class="uc"/>
<path d="M112.1 122.1l 2.3-1.7 1.3-6.6-2.3 1.8z" class="b"/>
<path d="M82.9 107.3l 2.2 .5 1.4 6.4-2.2-.4zM104 110.4l 2.3 9 1.3-7.3-2.3-9.1z" class="bb"/>
<path d="M171.7 122.8l 2.5-6.4 1.3-3.6-2.5 6.5z" class="b"/>
<path d="M102 83.9l 2.3 4.4 1.3-3.1-2.3-4.4z" class="gc"/>
<path d="M110.8 129.4l 2.2-1.8 1.4-7.2-2.3 1.7z" class="pb"/>
<path d="M155.1 126.7l 2.3 5.1 1.2-2.7-2.2-5.1z" class="e"/>
<path d="M98.5 91l 2.2-.3 1.3-6.8-2.2 .4z" class="cc"/>
<path d="M149.3 127.7l 2.3-4 1.3 2.4-2.4 4z" class="l"/>
<path d="M102.7 115.7l 2.3 8.9 1.3-5.2-2.3-9z" class="b"/>
<path d="M182.8 102.7l 2.5-4.6 1 7.3-2.5 4.5z" class="ic"/>
<path d="M88.7 110.6l 2.2-5.2 1.4 3.4-2.2 5.3z" class="cb"/>
<path d="M160.5 144.3l 2.2 3.8 1.2 2.4-2.2-3.8z" class="kb"/>
<path d="M199.7 126.8l 2.6-8.1 1 6.1-2.7 7.9z" class="pb"/>
<path d="M92.3 108.8l 2.2-4 1.4-1.1-2.3 4z" class="x"/>
<path d="M97.2 98.4l 2.2-.3 1.3-7.4-2.2 .3z" class="yb"/>
<path d="M167.5 146.5l 2.4-5.8 1.4-7.3-2.4 6z" class="m"/>
<path d="M109.5 134.5l 2.2-1.7 1.3-5.2-2.2 1.8zM168.9 139.4l 2.4-6 1.5-9.2-2.5 6.2z" class="eb"/>
<path d="M103 95l 2.3 8 1.3-6.6-2.3-8.1z" class="vc"/>
<path d="M170.3 130.4l 2.5-6.2 1.4-7.8-2.5 6.4zM194 119.7l 2.3 2.3 .9 8.1-2.2-2.5z" class="c"/>
<path d="M105.9 132.6l 2.3 2.9 1.3-1-2.3-2.9z" class="g"/>
<path d="M191.9 112.9l 2.1 6.8 1 7.9-2.2-6.9zM203.3 124.8l 2.6-9.6 1.2 1.2-2.7 9.5z" class="f"/>
<path d="M158.3 137.2l 2.2 7.1 1.2 2.4-2.2-7.2z" class="o"/>
<path d="M103.7 125.6l 2.2 7 1.3-1-2.2-7z" class="e"/>
<path d="M75.8 83.2l 2.4 10.1 1.5 6.5-2.4-10.1z" class="tc"/>
<path d="M100.7 90.7l 2.3 4.3 1.3-6.7-2.3-4.4z" class="bc"/>
<path d="M101.7 102.5l 2.3 7.9 1.3-7.4-2.3-8z" class="j"/>
<path d="M145.7 128.1l 2.4-6.7 1.2 6.3-2.4 6.7z" class="e"/>
<path d="M95.9 103.7l 2.2-.2 1.3-5.4-2.2 .3z" class="uc"/>
<path d="M115.7 113.8l 2.2-5.3 1.4-3.1-2.3 5.4zM175.5 112.8l 2.5-9.1 1.2 1.6-2.6 9.2z" class="oc"/>
<path d="M99.4 98.1l 2.3 4.4 1.3-7.5-2.3-4.3z" class="xb"/>
<path d="M63 70.8l 2.2-3.8 1.5 6.9-2.2 3.8z" class="hd"/>
<path d="M122.8 100.8l 2.3-4.2 1.3 5.9-2.3 4.1z" class="uc"/>
<path d="M162.7 148.1l 2.3-1.1 1.2 2.3-2.3 1.2z" class="q"/>
<path d="M166.2 149.3l 2.5-5.8 1.2-2.8-2.4 5.8z" class="nb"/>
<path d="M68.9 70.6l 2.2-.2 1.5 6.6-2.2 .1z" class="xc"/>
<path d="M100.4 107.8l 2.3 7.9 1.3-5.3-2.3-7.9zM85.1 107.8l 2.2-3.6 1.4 6.4-2.2 3.6z" class="oc"/>
<path d="M179.2 105.3l 2.6-8.5 1 5.9-2.5 8.4z" class="ic"/>
<path d="M211.4 94l 2.7-6.9 1.4-6.2-2.7 6.9z" class="ec"/>
<path d="M134.2 117.9l 2.2 5.7 1.2 5.8-2.2-5.7z" class="c"/>
<path d="M224.8 114.7l 2.3 2.3 1.4-5.3-2.3-2.4zM189.8 104.8l 2.1 8.1 .9 7.8-2-8.2z" class="bb"/>
<path d="M156.2 129.5l 2.1 7.7 1.2 2.3-2.1-7.7z" class="g"/>
<path d="M98.1 103.5l 2.3 4.3 1.3-5.3-2.3-4.4z" class="j"/>
<path d="M101.4 116.7l 2.3 8.9 1.3-1-2.3-8.9z" class="db"/>
<path d="M222.8 107.5l 2 7.2 1.4-5.4-2.1-7.4z" class="x"/>
<path d="M208.4 111.9l 2.7-7.3 1.4-8.4-2.6 7.1zM119.3 105.4l 2.3-6.3 1.2 1.7-2.3 6.3z" class="j"/>
<path d="M209.9 103.3l 2.6-7.1 1.6-9.1-2.7 6.9z" class="yb"/>
<path d="M151.6 123.7l 2.3 .7 1.2 2.3-2.2-.6z" class="pb"/>
<path d="M108.2 135.5l 2.2-1.8 1.3-.9-2.2 1.7z" class="g"/>
<path d="M136.4 123.6l 2.3 1.1 1.2 5.8-2.3-1.1z" class="l"/>
<path d="M73.5 74.8l 2.3 8.4 1.5 6.5-2.4-8.3z" class="fc"/>
<path d="M114.4 120.4l 2.2-5.3 1.3-6.6-2.2 5.3z" class="a"/>
<path d="M196.3 122l 2.5-3.6 .9 8.4-2.5 3.3z" class="h"/>
<path d="M142.2 127l 2.4-6.6 1.1 7.7-2.3 6.5z" class="l"/>
<path d="M185.3 98.1l 2.3 .9 1 7.5-2.3-1.1z" class="uc"/>
<path d="M223.3 122.8l 2.3 2 1.5-7.8-2.3-2.3z" class="b"/>
<path d="M71.1 70.4l 2.4 4.4 1.4 6.6-2.3-4.4z" class="wc"/>
<path d="M221.3 115.7l 2 7.1 1.5-8.1-2-7.2z" class="a"/>
<path d="M131.9 109.6l 2.3 8.3 1.2 5.8-2.2-8.3z" class="ib"/>
<path d="M113 127.6l 2.3-5.2 1.3-7.3-2.2 5.3z" class="db"/>
<path d="M153.9 124.4l 2.3 5.1 1.2 2.3-2.3-5.1z" class="l"/>
<path d="M94.5 104.8l 2.3-.2 1.3-1.1-2.2 .2z" class="ic"/>
<path d="M187.6 99l 2.2 5.8 1 7.7-2.2-6z" class="y"/>
<path d="M221.9 129.9l 2.3 1.8 1.4-6.9-2.3-2z" class="pb"/>
<path d="M207.1 116.4l 2.6-7.5 1.4-4.3-2.7 7.3z" class="oc"/>
<path d="M219.8 123.2l 2.1 6.7 1.4-7.1-2-7.1z" class="v"/>
<path d="M99.1 108.9l 2.3 7.8 1.3-1-2.3-7.9z" class="bb"/>
<path d="M111.7 132.8l 2.3-5.2 1.3-5.2-2.3 5.2z" class="l"/>
<path d="M59.3 67.8l 2.2-1.3 1.5 4.3-2.2 1.3z" class="ad"/>
<path d="M227.1 117l 2.5-3.2 1.4-5.2-2.5 3.1z" class="cb"/>
<path d="M220.8 97.8l 2 9.7 1.3-5.6-1.9-9.9z" class="zb"/>
<path d="M90.9 105.4l 2.3-4 1.3 3.4-2.2 4z" class="y"/>
<path d="M125.1 96.6l 2.3 .1 1.3 5.9-2.3-.1z" class="u"/>
<path d="M96.8 104.6l 2.3 4.3 1.3-1.1-2.3-4.3z" class="fb"/>
<path d="M79.1 95.4l 2.3 5.2 1.5 6.7-2.3-5.1z" class="z"/>
<path d="M174.2 116.4l 2.5-9 1.3-3.7-2.5 9.1z" class="oc"/>
<path d="M129.7 101.6l 2.2 8 1.3 5.8-2.2-8z" class="d"/>
<path d="M220.6 133l 2.3 1.6 1.3-2.9-2.3-1.8z" class="hc"/>
<path d="M218.5 126.5l 2.1 6.5 1.3-3.1-2.1-6.7z" class="i"/>
<path d="M104.6 129.1l 2.3 2.9 1.3 3.5-2.3-2.9z" class="eb"/>
<path d="M219.3 106.3l 2 9.4 1.5-8.2-2-9.7z" class="y"/>
<path d="M225.6 124.8l 2.5-3.4 1.5-7.6-2.5 3.2z" class="s"/>
<path d="M102.3 122.1l 2.3 7 1.3 3.5-2.2-7z" class="i"/>
<path d="M65.2 67l 2.2-3.3 1.5 6.9-2.2 3.3z" class="fd"/>
<path d="M138.7 124.7l 2.3-3.5 1.2 5.8-2.3 3.5z" class="pb"/>
<path d="M217.8 114l 2 9.2 1.5-7.5-2-9.4z" class="lb"/>
<path d="M165 147l 2.5-5.8 1.2 2.3-2.5 5.8z" class="nb"/>
<path d="M76.8 86.5l 2.3 8.9 1.5 6.8-2.4-8.9z" class="kc"/>
<path d="M148.1 121.4l 2.4-4 1.1 6.3-2.3 4z" class="v"/>
<path d="M127.4 96.7l 2.3 4.9 1.3 5.8-2.3-4.8z" class="uc"/>
<path d="M81.4 100.6l 2.3 .4 1.4 6.8-2.2-.5z" class="ic"/>
<path d="M224.2 131.7l 2.5-3.6 1.4-6.7-2.5 3.4z" class="c"/>
<path d="M169.9 140.7l 2.5-8.5 1.4-7.5-2.5 8.7z" class="eb"/>
<path d="M214.1 87.1l 2.4-2 1.4-6-2.4 1.8z" class="sc"/>
<path d="M171.3 133.4l 2.5-8.7 1.5-9.4-2.5 8.9z" class="h"/>
<path d="M117.9 108.5l 2.3-6.3 1.4-3.1-2.3 6.3z" class="j"/>
<path d="M172.8 124.2l 2.5-8.9 1.4-7.9-2.5 9z" class="mb"/>
<path d="M87.3 104.2l 2.2-5.3 1.4 6.5-2.2 5.2z" class="ic"/>
<path d="M159.4 138.1l 2.2 3.7 1.1 6.3-2.2-3.8z" class="o"/>
<path d="M202.3 118.7l 2.7-9.9 .9 6.4-2.6 9.6z" class="mb"/>
<path d="M110.4 133.7l 2.3-5.2 1.3-.9-2.3 5.2z" class="hc"/>
<path d="M212.5 96.2l 2.5-2.1 1.5-9-2.4 2zM218.7 89.2l 2.1 8.6 1.4-5.8-2-8.7z" class="dc"/>
<path d="M211.1 104.6l 2.4-2.3 1.5-8.2-2.5 2.1z" class="xb"/>
<path d="M205.9 115.2l 2.7-7.7 1.1 1.4-2.6 7.5z" class="cb"/>
<path d="M216.5 117.6l 2 8.9 1.3-3.3-2-9.2zM100 113.3l 2.3 8.8 1.4 3.5-2.3-8.9z" class="b"/>
<path d="M157.2 130.9l 2.2 7.2 1.1 6.2-2.2-7.1z" class="k"/>
<path d="M181.8 96.8l 2.4-4.8 1.1 6.1-2.5 4.6z" class="vc"/>
<path d="M106.9 132l 2.2-1.8 1.3 3.5-2.2 1.8z" class="eb"/>
<path d="M121.6 99.1l 2.3-4.2 1.2 1.7-2.3 4.2z" class="xb"/>
<path d="M168.7 143.5l 2.5-8.3 1.2-3-2.5 8.5z" class="k"/>
<path d="M217.2 98l 2.1 8.3 1.5-8.5-2.1-8.6z" class="vc"/>
<path d="M222.9 134.6l 2.5-3.8 1.3-2.7-2.5 3.6z" class="e"/>
<path d="M216.5 85.1l 2.2 4.1 1.5-5.9-2.3-4.2z" class="fc"/>
<path d="M215.7 105.9l 2.1 8.1 1.5-7.7-2.1-8.3z" class="ic"/>
<path d="M198.8 118.4l 2.6-8.2 .9 8.5-2.6 8.1z" class="ib"/>
<path d="M74.4 76.4l 2.4 10.1 1.4 6.8-2.4-10.1z" class="gd"/>
<path d="M178 103.7l 2.6-8.6 1.2 1.7-2.6 8.5z" class="zb"/>
<path d="M116.6 115.1l 2.3-6.2 1.3-6.7-2.3 6.3z" class="x"/>
<path d="M61.5 66.5l 2.2-3.8 1.5 4.3-2.2 3.8z" class="cd"/>
<path d="M161.6 141.8l 2.3-1.1 1.1 6.3-2.3 1.1z" class="rb"/>
<path d="M209.7 108.9l 2.5-2.5 1.3-4.1-2.4 2.3z" class="ic"/>
<path d="M93.2 101.4l 2.2-.3 1.4 3.5-2.3 .2z" class="uc"/>
<path d="M132.9 116.2l 2.2 5.7 1.3 1.7-2.2-5.7z" class="b"/>
<path d="M193 113l 2.3 2.1 1 6.9-2.3-2.3z" class="mb"/>
<path d="M190.9 106.4l 2.1 6.6 1 6.7-2.1-6.8z" class="cb"/>
<path d="M215 94.1l 2.2 3.9 1.5-8.8-2.2-4.1z" class="dc"/>
<path d="M144.6 120.4l 2.4-6.7 1.1 7.7-2.4 6.7z" class="f"/>
<path d="M115.3 122.4l 2.3-6.1 1.3-7.4-2.3 6.2z" class="a"/>
<path d="M213.5 102.3l 2.2 3.6 1.5-7.9-2.2-3.9z" class="zb"/>
<path d="M135.1 121.9l 2.3 1.1 1.3 1.7-2.3-1.1z" class="v"/>
<path d="M155 123.3l 2.2 7.6 1.1 6.3-2.1-7.7z" class="e"/>
<path d="M67.4 63.7l 2.2-.1 1.5 6.8-2.2 .2z" class="cd"/>
<path d="M97.7 105.4l 2.3 7.9 1.4 3.4-2.3-7.8z" class="oc"/>
<path d="M150.5 117.4l 2.3 .7 1.1 6.3-2.3-.7z" class="f"/>
<path d="M229.6 113.8l 2.7-7.2 1.4-5-2.7 7z" class="y"/>
<path d="M83.7 101l 2.2-3.6 1.4 6.8-2.2 3.6z" class="uc"/>
<path d="M217.4 124.3l 2.1 6.3 1.1 2.4-2.1-6.5z" class="pb"/>
<path d="M214.4 109.8l 2.1 7.8 1.3-3.6-2.1-8.1z" class="oc"/>
<path d="M219.5 130.6l 2.4 1.4 1 2.6-2.3-1.6z" class="hc"/>
<path d="M57.9 67.9l 2.2-1.3 1.4-.1-2.2 1.3z" class="cd"/>
<path d="M130.7 107.9l 2.2 8.3 1.3 1.7-2.3-8.3z" class="bb"/>
<path d="M95.4 101.1l 2.3 4.3 1.4 3.5-2.3-4.3z" class="ic"/>
<path d="M114 127.6l 2.3-6.1 1.3-5.2-2.3 6.1z" class="db"/>
<path d="M152.8 118.1l 2.2 5.2 1.2 6.2-2.3-5.1z" class="v"/>
<path d="M72 68l 2.4 8.4 1.4 6.8-2.3-8.4z" class="xc"/>
<path d="M188.8 98.5l 2.1 7.9 1 6.5-2.1-8.1zM212.2 106.4l 2.2 3.4 1.3-3.9-2.2-3.6z" class="ic"/>
<path d="M228.1 121.4l 2.8-7.3 1.4-7.5-2.7 7.2z" class="cb"/>
<path d="M69.6 63.6l 2.4 4.4 1.5 6.8-2.4-4.4z" class="fd"/>
<path d="M184.2 92l 2.4 .8 1 6.2-2.3-.9z" class="kc"/>
<path d="M141 121.2l 2.4-6.6 1.2 5.8-2.4 6.6z" class="b"/>
<path d="M123.9 94.9l 2.2 .2 1.3 1.6-2.3-.1z" class="kc"/>
<path d="M226.7 128.1l 2.7-7.4 1.5-6.6-2.8 7.3z" class="s"/>
<path d="M195.3 115.1l 2.5-3.7 1 7-2.5 3.6z" class="a"/>
<path d="M215.4 115.5l 2 8.8 1.1 2.2-2-8.9z" class="s"/>
<path d="M186.6 92.8l 2.2 5.7 1 6.3-2.2-5.8z" class="vc"/>
<path d="M128.4 99.9l 2.3 8 1.2 1.7-2.2-8z" class="j"/>
<path d="M89.5 98.9l 2.3-3.9 1.4 6.4-2.3 4z" class="zb"/>
<path d="M120.2 102.2l 2.3-4.1 1.4-3.2-2.3 4.2z" class="xb"/>
<path d="M109.1 130.2l 2.3-5.1 1.3 3.4-2.3 5.2z" class="l"/>
<path d="M77.7 91.2l 2.3 5.2 1.4 4.2-2.3-5.2z" class="kc"/>
<path d="M176.7 107.4l 2.6-8.5 1.3-3.8-2.6 8.6z" class="u"/>
<path d="M167.5 141.2l 2.5-8.3 1.2 2.3-2.5 8.3z" class="ob"/>
<path d="M137.4 123l 2.3-3.5 1.3 1.7-2.3 3.5z" class="f"/>
<path d="M208.6 107.5l 2.5-2.7 1.1 1.6-2.5 2.5z" class="ic"/>
<path d="M126.1 95.1l 2.3 4.8 1.3 1.7-2.3-4.9z" class="vc"/>
<path d="M131.6 119.3l 2.2 5.6 1.3-3-2.2-5.7z" class="b"/>
<path d="M103.2 122.7l 2.3 2.8 1.4 6.5-2.3-2.9z" class="pb"/>
<path d="M221.9 132l 2.5-4 1 2.8-2.5 3.8z" class="l"/>
<path d="M63.7 62.7l 2.2-3.3 1.5 4.3-2.2 3.3z" class="id"/>
<path d="M112.7 128.5l 2.3-6 1.3-1-2.3 6.1z" class="h"/>
<path d="M101 115.7l 2.2 7 1.4 6.4-2.3-7z" class="f"/>
<path d="M163.9 140.7l 2.5-5.8 1.1 6.3-2.5 5.8z" class="r"/>
<path d="M56.6 72.6l 2.2-1.2 1.3-4.8-2.2 1.3z" class="fd"/>
<path d="M75.3 82.3l 2.4 8.9 1.4 4.2-2.3-8.9z" class="ec"/>
<path d="M133.8 124.9l 2.3 1.1 1.3-3-2.3-1.1zM172.4 132.2l 2.6-7.9 1.4-7.7-2.6 8.1z" class="v"/>
<path d="M80 96.4l 2.3 .5 1.4 4.1-2.3-.4z" class="vc"/>
<path d="M225.4 130.8l 2.8-7.5 1.2-2.6-2.7 7.4z" class="v"/>
<path d="M173.8 124.7l 2.6-8.1 1.4-9.6-2.5 8.3z" class="lb"/>
<path d="M118.9 108.9l 2.3-4.1 1.3-6.7-2.3 4.1z" class="uc"/>
<path d="M175.3 115.3l 2.5-8.3 1.5-8.1-2.6 8.5z" class="y"/>
<path d="M60.1 66.6l 2.2-3.7 1.4-.2-2.2 3.8z" class="jd"/>
<path d="M213.3 107.9l 2.1 7.6 1.1 2.1-2.1-7.8z" class="oc"/>
<path d="M129.3 111l 2.3 8.3 1.3-3.1-2.2-8.3z" class="cb"/>
<path d="M205 108.8l 2.7-7.9 .9 6.6-2.7 7.7z" class="y"/>
<path d="M180.6 95.1l 2.5-4.8 1.1 1.7-2.4 4.8z" class="bc"/>
<path d="M55.4 80.1l 2.2-1.1 1.2-7.6-2.2 1.2z" class="zc"/>
<path d="M147 113.7l 2.3-3.9 1.2 7.6-2.4 4z" class="lb"/>
<path d="M117.6 116.3l 2.3-4.1 1.3-7.4-2.3 4.1z" class="d"/>
<path d="M211.1 104.8l 2.2 3.1 1.1 1.9-2.2-3.4z" class="ic"/>
<path d="M130.3 125.7l 2.2 5.6 1.3-6.4-2.2-5.6z" class="h"/>
<path d="M98.6 106.8l 2.4 8.9 1.3 6.4-2.3-8.8z" class="bb"/>
<path d="M85.9 97.4l 2.2-5.2 1.4 6.7-2.2 5.3z" class="vc"/>
<path d="M54.1 87.6l 2.2-1.1 1.3-7.5-2.2 1.1z" class="lc"/>
<path d="M105.5 125.5l 2.3-1.7 1.3 6.4-2.2 1.8z" class="pb"/>
<path d="M171.2 135.2l 2.5-7.8 1.3-3.1-2.6 7.9z" class="i"/>
<path d="M132.5 131.3l 2.3 1.2 1.3-6.5-2.3-1.1z" class="pb"/>
<path d="M128.9 133l 2.3 5.5 1.3-7.2-2.2-5.6z" class="hc"/>
<path d="M158.3 130.5l 2.2 3.8 1.1 7.5-2.2-3.7z" class="p"/>
<path d="M116.3 121.5l 2.3-4.1 1.3-5.2-2.3 4.1z" class="a"/>
<path d="M122.5 98.1l 2.3 .1 1.3-3.1-2.2-.2z" class="kc"/>
<path d="M72.9 72.2l 2.4 10.1 1.5 4.2-2.4-10.1z" class="pc"/>
<path d="M91.8 95l 2.2-.3 1.4 6.4-2.2 .3z" class="yb"/>
<path d="M201.4 110.2l 2.7-10.1 .9 8.7-2.7 9.9z" class="fb"/>
<path d="M232.3 106.6l 2.8-7.9 1.4-5-2.8 7.9z" class="vc"/>
<path d="M189.7 104.3l 2.2 6.5 1.1 2.2-2.1-6.6z" class="y"/>
<path d="M191.9 110.8l 2.3 1.9 1.1 2.4-2.3-2.1z" class="oc"/>
<path d="M127.1 103.1l 2.2 7.9 1.4-3.1-2.3-8z" class="j"/>
<path d="M128 117.6l 2.3 8.1 1.3-6.4-2.3-8.3z" class="mb"/>
<path d="M131.2 138.5l 2.2 1.1 1.4-7.1-2.3-1.2z" class="eb"/>
<path d="M156.1 123.4l 2.2 7.1 1.1 7.6-2.2-7.2z" class="l"/>
<path d="M52.8 92.4l 2.2-1 1.3-4.9-2.2 1.1z" class="gc"/>
<path d="M127.6 138l 2.2 5.5 1.4-5-2.3-5.5z" class="ob"/>
<path d="M65.9 59.4l 2.3 0 1.4 4.2-2.2 .1z" class="kd"/>
<path d="M96.3 99l 2.3 7.8 1.4 6.5-2.3-7.9z" class="j"/>
<path d="M136.1 126l 2.3-3.5 1.3-3-2.3 3.5z" class="f"/>
<path d="M126.7 124.9l 2.2 8.1 1.4-7.3-2.3-8.1z" class="v"/>
<path d="M124.8 98.2l 2.3 4.9 1.3-3.2-2.3-4.8z" class="vc"/>
<path d="M58.8 71.4l 2.2-3.6 1.3-4.9-2.2 3.7z" class="ed"/>
<path d="M129.8 143.5l 2.3 1.1 1.3-5-2.2-1.1z" class="sb"/>
<path d="M82.3 96.9l 2.2-3.6 1.4 4.1-2.2 3.6z" class="kc"/>
<path d="M160.5 134.3l 2.4-1.2 1 7.6-2.3 1.1z" class="g"/>
<path d="M216.6 117l 2.1 6.2 .8 7.4-2.1-6.3z" class="f"/>
<path d="M230.9 114.1l 2.7-8 1.5-7.4-2.8 7.9z" class="uc"/>
<path d="M197.8 111.4l 2.6-8.4 1 7.2-2.6 8.2z" class="x"/>
<path d="M94 94.7l 2.3 4.3 1.4 6.4-2.3-4.3z" class="xb"/>
<path d="M143.4 114.6l 2.4-6.7 1.2 5.8-2.4 6.7z" class="cb"/>
<path d="M187.6 96.5l 2.1 7.8 1.2 2.1-2.1-7.9z" class="zb"/>
<path d="M218.7 123.2l 2.3 1.3 .9 7.5-2.4-1.4z" class="h"/>
<path d="M121.2 104.8l 2.3 .1 1.3-6.7-2.3-.1z" class="zb"/>
<path d="M70.5 63.8l 2.4 8.4 1.5 4.2-2.4-8.4z" class="fd"/>
<path d="M125.4 130l 2.2 8 1.3-5-2.2-8.1z" class="l"/>
<path d="M153.9 115.7l 2.2 7.7 1.1 7.5-2.2-7.6z" class="f"/>
<path d="M139.7 119.5l 2.4-6.5 1.3 1.6-2.4 6.6z" class="a"/>
<path d="M183.1 90.3l 2.3 .7 1.2 1.8-2.4-.8z" class="cc"/>
<path d="M125.8 109.7l 2.2 7.9 1.3-6.6-2.2-7.9z" class="x"/>
<path d="M76.3 91.5l 2.3 5.2 1.4-.3-2.3-5.2z" class="bc"/>
<path d="M149.3 109.8l 2.3 .7 1.2 7.6-2.3-.7z" class="cb"/>
<path d="M68.2 59.4l 2.3 4.4 1.5 4.2-2.4-4.4z" class="id"/>
<path d="M229.4 120.7l 2.8-8.1 1.4-6.5-2.7 8z" class="d"/>
<path d="M111.4 125.1l 2.2-6.1 1.4 3.5-2.3 6z" class="db"/>
<path d="M119.9 112.2l 2.3 .1 1.3-7.4-2.3-.1z" class="y"/>
<path d="M62.3 62.9l 2.2-3.2 1.4-.3-2.2 3.3z" class="kd"/>
<path d="M57.6 79l 2.1-3.6 1.3-7.6-2.2 3.6z" class="bd"/>
<path d="M115 122.5l 2.2-4.1 1.4-1-2.3 4.1z" class="ib"/>
<path d="M179.3 98.9l 2.4-4.8 1.4-3.8-2.5 4.8z" class="tc"/>
<path d="M224.4 128l 2.7-7.7 1.1 3-2.8 7.5z" class="db"/>
<path d="M134.8 132.5l 2.3-3.5 1.3-6.5-2.3 3.5z" class="c"/>
<path d="M185.4 91l 2.2 5.5 1.2 2-2.2-5.7z" class="tc"/>
<path d="M124.4 117.1l 2.3 7.8 1.3-7.3-2.2-7.9z" class="a"/>
<path d="M123.5 104.9l 2.3 4.8 1.3-6.6-2.3-4.9z" class="z"/>
<path d="M194.2 112.7l 2.5-3.8 1.1 2.5-2.5 3.7z" class="d"/>
<path d="M151.6 110.5l 2.3 5.2 1.1 7.6-2.2-5.2z" class="lb"/>
<path d="M73.9 82.6l 2.4 8.9 1.4-.3-2.4-8.9z" class="gd"/>
<path d="M56.3 86.5l 2.2-3.5 1.2-7.6-2.1 3.6z" class="rc"/>
<path d="M214.5 108.4l 2.1 8.6 .8 7.3-2-8.8z" class="bb"/>
<path d="M78.6 96.7l 2.3 .4 1.4-.2-2.3-.5z" class="kc"/>
<path d="M51.4 92.9l 2.2-1 1.4-.5-2.2 1z" class="cc"/>
<path d="M133.4 139.6l 2.4-3.4 1.3-7.2-2.3 3.5z" class="jb"/>
<path d="M126.3 138.8l 2.3 5.5 1.2-.8-2.2-5.5z" class="sb"/>
<path d="M118.6 117.4l 2.2 .1 1.4-5.2-2.3-.1z" class="bb"/>
<path d="M207.7 100.9l 2.4-2.9 1 6.8-2.5 2.7z" class="zb"/>
<path d="M122.2 112.3l 2.2 4.8 1.4-7.4-2.3-4.8z" class="x"/>
<path d="M175 124.3l 2.4-4.4 1.4-7.8-2.4 4.5z" class="a"/>
<path d="M166.4 134.9l 2.5-8.3 1.1 6.3-2.5 8.3z" class="hc"/>
<path d="M170 132.9l 2.5-7.7 1.2 2.2-2.5 7.8z" class="i"/>
<path d="M176.4 116.6l 2.4-4.5 1.5-9.7-2.5 4.6z" class="fb"/>
<path d="M123.1 122.2l 2.3 7.8 1.3-5.1-2.3-7.8z" class="f"/>
<path d="M107.8 123.8l 2.2-5.2 1.4 6.5-2.3 5.1z" class="db"/>
<path d="M177.8 107l 2.5-4.6 1.4-8.3-2.4 4.8z" class="xb"/>
<path d="M88.1 92.2l 2.2-4 1.5 6.8-2.3 3.9z" class="bc"/>
<path d="M128.6 144.3l 2.2 1 1.3-.7-2.3-1.1z" class="m"/>
<path d="M55 91.4l 2.2-3.5 1.3-4.9-2.2 3.5z" class="gd"/>
<path d="M188.4 107.9l 2.2 6.3 1.3-3.4-2.2-6.5z" class="y"/>
<path d="M132.1 144.6l 2.3-3.5 1.4-4.9-2.4 3.4z" class="k"/>
<path d="M190.6 114.2l 2.3 1.8 1.3-3.3-2.3-1.9z" class="oc"/>
<path d="M228.2 123.3l 2.7-8.3 1.3-2.4-2.8 8.1z" class="lb"/>
<path d="M221 124.5l 2.6-4.1 .8 7.6-2.5 4z" class="db"/>
<path d="M120.8 117.5l 2.3 4.7 1.3-5.1-2.2-4.8z" class="a"/>
<path d="M124.1 130.9l 2.2 7.9 1.3-.8-2.2-8z" class="jb"/>
<path d="M75 96.3l 2.3 5.1 1.3-4.7-2.3-5.2z" class="ac"/>
<path d="M101.9 115.9l 2.3 2.9 1.3 6.7-2.3-2.8z" class="ib"/>
<path d="M71.5 72.5l 2.4 10.1 1.4-.3-2.4-10.1z" class="zc"/>
<path d="M173.7 127.4l 2.4-4.3 1.3-3.2-2.4 4.4z" class="f"/>
<path d="M212.4 101l 2.1 7.4 .9 7.1-2.1-7.6z" class="ic"/>
<path d="M99.6 108.9l 2.3 7 1.3 6.8-2.2-7z" class="bb"/>
<path d="M184.1 133.1l 2.2 5.9 1.4-7.5-2.2-6z" class="l"/>
<path d="M185.5 125.5l 2.2 6 1.5-9.4-2.2-6.1z" class="f"/>
<path d="M61 67.8l 2.2-3.2 1.3-4.9-2.2 3.2z" class="ld"/>
<path d="M186.3 139l 2.2 1.5 1.5-7.4-2.3-1.6z" class="jb"/>
<path d="M186.3 100.3l 2.1 7.6 1.3-3.6-2.1-7.8zM210.1 98l 2.3 3 .9 6.9-2.2-3.1z" class="zb"/>
<path d="M162.9 133.1l 2.4-5.7 1.1 7.5-2.5 5.8z" class="hc"/>
<path d="M235.1 98.7l 2.7-5.3 1.4-5-2.7 5.3z" class="cc"/>
<path d="M187 116l 2.2 6.1 1.4-7.9-2.2-6.3z" class="cb"/>
<path d="M187.7 131.5l 2.3 1.6 1.5-9.3-2.3-1.7z" class="h"/>
<path d="M64.5 59.7l 2.3 0 1.4-.3-2.3 0z" class="md"/>
<path d="M189.2 122.1l 2.3 1.7 1.4-7.8-2.3-1.8z" class="a"/>
<path d="M181.7 94.1l 2.4 .7 1.3-3.8-2.3-.7z" class="cc"/>
<path d="M72.6 87.4l 2.4 8.9 1.3-4.8-2.4-8.9z" class="gc"/>
<path d="M138.4 122.5l 2.4-6.4 1.3-3.1-2.4 6.5zM117.2 118.4l 2.3 .1 1.3-1-2.2-.1z" class="a"/>
<path d="M84.5 93.3l 2.2-5.3 1.4 4.2-2.2 5.2z" class="dc"/>
<path d="M73.7 103.8l 2.4 5.1 1.2-7.5-2.3-5.1z" class="zb"/>
<path d="M77.3 101.4l 2.3 .5 1.3-4.8-2.3-.4z" class="yb"/>
<path d="M121.8 123.2l 2.3 7.7 1.3-.9-2.3-7.8z" class="v"/>
<path d="M72.5 111.3l 2.3 5.1 1.3-7.5-2.4-5.1z" class="fb"/>
<path d="M80.9 97.1l 2.2-3.5 1.4-.3-2.2 3.6z" class="tc"/>
<path d="M181.9 125.9l 2.2 7.2 1.4-7.6-2.1-7.3z" class="db"/>
<path d="M184.1 94.8l 2.2 5.5 1.3-3.8-2.2-5.5z" class="tc"/>
<path d="M59.7 75.4l 2.2-3.1 1.3-7.7-2.2 3.2z" class="cd"/>
<path d="M145.8 107.9l 2.3-3.8 1.2 5.7-2.3 3.9z" class="y"/>
<path d="M183.4 118.2l 2.1 7.3 1.5-9.5-2.2-7.5z" class="bb"/>
<path d="M97.3 100.1l 2.3 8.8 1.4 6.8-2.4-8.9z" class="ic"/>
<path d="M204.1 100.1l 2.7-8.2 .9 9-2.7 7.9z" class="vc"/>
<path d="M182.8 136.1l 2.2 5.7 1.3-2.8-2.2-5.9z" class="eb"/>
<path d="M177.4 119.9l 2.3 .7 1.4-7.8-2.3-.7z" class="bb"/>
<path d="M69.1 64.1l 2.4 8.4 1.4-.3-2.4-8.4z" class="ed"/>
<path d="M184.8 108.5l 2.2 7.5 1.4-8.1-2.1-7.6z" class="ic"/>
<path d="M233.6 106.1l 2.7-5.4 1.5-7.3-2.7 5.3z" class="kc"/>
<path d="M53.6 91.9l 2.2-3.4 1.4-.6-2.2 3.5z" class="gc"/>
<path d="M178.8 112.1l 2.3 .7 1.5-9.7-2.3-.7z" class="j"/>
<path d="M71.4 95l 2.3 8.8 1.3-7.5-2.4-8.9z" class="tc"/>
<path d="M130.8 145.3l 2.3-3.4 1.3-.8-2.3 3.5z" class="r"/>
<path d="M185 141.8l 2.3 1.5 1.2-2.8-2.2-1.5z" class="ob"/>
<path d="M192.9 116l 2.5-3.9 1.3-3.2-2.5 3.8z" class="x"/>
<path d="M58.5 83l 2.2-3 1.2-7.7-2.2 3.1z" class="zc"/>
<path d="M180.3 102.4l 2.3 .7 1.5-8.3-2.4-.7z" class="kc"/>
<path d="M119.5 118.5l 2.3 4.7 1.3-1-2.3-4.7zM104.2 118.8l 2.2-1.8 1.4 6.8-2.3 1.7z" class="ib"/>
<path d="M76.1 108.9l 2.2 .5 1.3-7.5-2.3-.5z" class="z"/>
<path d="M66.8 59.7l 2.3 4.4 1.4-.3-2.3-4.4z" class="nd"/>
<path d="M70.1 102.6l 2.4 8.7 1.2-7.5-2.3-8.8z" class="zb"/>
<path d="M113.6 119l 2.3-4.1 1.3 3.5-2.2 4.1z" class="a"/>
<path d="M71.2 116.1l 2.3 5.1 1.3-4.8-2.3-5.1z" class="bb"/>
<path d="M90.3 88.2l 2.3-.3 1.4 6.8-2.2 .3z" class="ec"/>
<path d="M179.7 120.6l 2.2 5.3 1.5-7.7-2.3-5.4z" class="a"/>
<path d="M74.8 116.4l 2.3 .5 1.2-7.5-2.2-.5z" class="d"/>
<path d="M157.1 124.7l 2.3 3.8 1.1 5.8-2.2-3.8z" class="c"/>
<path d="M181.1 112.8l 2.3 5.4 1.4-9.7-2.2-5.4z" class="fb"/>
<path d="M137.1 129l 2.4-6.4 1.3-6.5-2.4 6.4z" class="s"/>
<path d="M142.1 113l 2.4-6.7 1.3 1.6-2.4 6.7z" class="fb"/>
<path d="M232.2 112.6l 2.6-5.5 1.5-6.4-2.7 5.4z" class="z"/>
<path d="M182.6 103.1l 2.2 5.4 1.5-8.2-2.2-5.5z" class="xb"/>
<path d="M70.2 77.4l 2.4 10 1.3-4.8-2.4-10.1z" class="wc"/>
<path d="M180.6 129l 2.2 7.1 1.3-3-2.2-7.2z" class="pb"/>
<path d="M49.9 89.3l 2.2-1 1.5 3.6-2.2 1z" class="gc"/>
<path d="M154.9 117.6l 2.2 7.1 1.2 5.8-2.2-7.1z" class="f"/>
<path d="M57.2 87.9l 2.2-2.9 1.3-5-2.2 3z" class="jc"/>
<path d="M176.1 123.1l 2.3 .7 1.3-3.2-2.3-.7z" class="ib"/>
<path d="M196.7 108.9l 2.6-8.6 1.1 2.7-2.6 8.4z" class="z"/>
<path d="M135.8 136.2l 2.3-6.4 1.4-7.2-2.4 6.4z" class="c"/>
<path d="M200.4 103l 2.8-10.3 .9 7.4-2.7 10.1z" class="vc"/>
<path d="M188.5 140.5l 2.5-3.9 1.4-7.4-2.4 3.9z" class="hc"/>
<path d="M125 135.2l 2.3 5.4 1.3 3.7-2.3-5.5z" class="g"/>
<path d="M94.9 92.2l 2.4 7.9 1.3 6.7-2.3-7.8z" class="yb"/>
<path d="M68.8 107.5l 2.4 8.6 1.3-4.8-2.4-8.7z" class="ic"/>
<path d="M190 133.1l 2.4-3.9 1.5-9.4-2.4 4z" class="db"/>
<path d="M73.5 121.2l 2.2 .5 1.4-4.8-2.3-.5z" class="a"/>
<path d="M191.5 123.8l 2.4-4 1.5-7.7-2.5 3.9z" class="lb"/>
<path d="M63.2 64.6l 2.3 0 1.3-4.9-2.3 0z" class="nd"/>
<path d="M227.1 120.3l 2.8-8.3 1 3-2.7 8.3z" class="bb"/>
<path d="M92.6 87.9l 2.3 4.3 1.4 6.8-2.3-4.3z" class="dc"/>
<path d="M178.4 123.8l 2.2 5.2 1.3-3.1-2.2-5.3z" class="f"/>
<path d="M127.3 140.6l 2.3 1.1 1.2 3.6-2.2-1z" class="sb"/>
<path d="M68.9 85l 2.5 10 1.2-7.6-2.4-10z" class="sc"/>
<path d="M172.5 125.2l 2.4-4.3 1.2 2.2-2.4 4.3z" class="b"/>
<path d="M110 118.6l 2.3-6.1 1.3 6.5-2.2 6.1z" class="a"/>
<path d="M159.4 128.5l 2.3-1.1 1.2 5.7-2.4 1.2z" class="pb"/>
<path d="M134.4 141.1l 2.4-6.3 1.3-5-2.3 6.4z" class="hc"/>
<path d="M79.6 101.9l 2.2-3.5 1.3-4.8-2.2 3.5z" class="ac"/>
<path d="M67.7 92.7l 2.4 9.9 1.3-7.6-2.5-10z" class="dc"/>
<path d="M122.8 127.3l 2.2 7.9 1.3 3.6-2.2-7.9z" class="l"/>
<path d="M152.7 109.9l 2.2 7.7 1.2 5.8-2.2-7.7z" class="bb"/>
<path d="M223.6 120.4l 2.7-7.9 .8 7.8-2.7 7.7z" class="a"/>
<path d="M67.8 69l 2.4 8.4 1.3-4.9-2.4-8.4z" class="od"/>
<path d="M148.1 104.1l 2.4 .7 1.1 5.7-2.3-.7z" class="j"/>
<path d="M61.9 72.3l 2.3 0 1.3-7.7-2.3 0z" class="ed"/>
<path d="M230.9 115l 2.7-5.5 1.2-2.4-2.6 5.5z" class="y"/>
<path d="M187.3 143.3l 2.4-4 1.3-2.7-2.5 3.9z" class="g"/>
<path d="M168.9 126.6l 2.5-7.7 1.1 6.3-2.5 7.7z" class="db"/>
<path d="M215.8 107.4l 2.1 6.1 .8 9.7-2.1-6.2z" class="oc"/>
<path d="M69.8 116.7l 2.3 5.1 1.4-.6-2.3-5.1z" class="a"/>
<path d="M65.5 64.6l 2.3 4.4 1.3-4.9-2.3-4.4z" class="ld"/>
<path d="M60.7 80l 2.2 0 1.3-7.7-2.3 0z" class="yc"/>
<path d="M217.9 113.5l 2.4 1.1 .7 9.9-2.3-1.3z" class="lb"/>
<path d="M78.3 109.4l 2.2-3.5 1.3-7.5-2.2 3.5z" class="zb"/>
<path d="M66.4 97.6l 2.4 9.9 1.3-4.9-2.4-9.9z" class="yb"/>
<path d="M150.5 104.8l 2.2 5.1 1.2 5.8-2.3-5.2z" class="y"/>
<path d="M86.7 88l 2.2-3.9 1.4 4.1-2.2 4z" class="gd"/>
<path d="M77.1 116.9l 2.2-3.4 1.2-7.6-2.2 3.5z" class="fb"/>
<path d="M115.9 114.9l 2.3 .1 1.3 3.5-2.3-.1z" class="bb"/>
<path d="M66.5 76.7l 2.4 8.3 1.3-7.6-2.4-8.4z" class="hd"/>
<path d="M181.6 133.7l 2.2 5.6 1.2 2.5-2.2-5.7z" class="eb"/>
<path d="M55.8 88.5l 2.2-2.9 1.4-.6-2.2 2.9z" class="sc"/>
<path d="M83.1 93.6l 2.2-5.3 1.4-.3-2.2 5.3z" class="gc"/>
<path d="M67.4 108.1l 2.4 8.6 1.4-.6-2.4-8.6z" class="fb"/>
<path d="M120.5 119.6l 2.3 7.7 1.3 3.6-2.3-7.7z" class="f"/>
<path d="M72.1 121.8l 2.3 .4 1.3-.5-2.2-.5z" class="ib"/>
<path d="M183.8 139.3l 2.3 1.4 1.2 2.6-2.3-1.5z" class="ob"/>
<path d="M65.3 84.4l 2.4 8.3 1.2-7.7-2.4-8.3z" class="jc"/>
<path d="M64.2 72.3l 2.3 4.4 1.3-7.7-2.3-4.4z" class="cd"/>
<path d="M106.4 117l 2.3-5.2 1.3 6.8-2.2 5.2z" class="lb"/>
<path d="M59.4 85l 2.2 0 1.3-5-2.2 0z" class="pc"/>
<path d="M165.3 127.4l 2.5-8.3 1.1 7.5-2.5 8.3z" class="db"/>
<path d="M140.8 116.1l 2.4-6.6 1.3-3.2-2.4 6.7z" class="fb"/>
<path d="M206.8 91.9l 2.5-3.1 .8 9.2-2.4 2.9z" class="dc"/>
<path d="M213.7 99l 2.1 8.4 .8 9.6-2.1-8.6z" class="uc"/>
<path d="M52.1 88.3l 2.2-3.3 1.5 3.5-2.2 3.4z" class="fc"/>
<path d="M75.7 121.7l 2.2-3.4 1.4-4.8-2.2 3.4z" class="bb"/>
<path d="M62.9 80l 2.4 4.4 1.2-7.7-2.3-4.4z" class="zc"/>
<path d="M100.5 111.7l 2.3 2.9 1.4 4.2-2.3-2.9z" class="oc"/>
<path d="M133.1 141.9l 2.4-6.3 1.3-.8-2.4 6.3z" class="eb"/>
<path d="M118.2 115l 2.3 4.6 1.3 3.6-2.3-4.7z" class="a"/>
<path d="M129.6 141.7l 2.3-3.5 1.2 3.7-2.3 3.4z" class="ob"/>
<path d="M98.2 104.8l 2.3 6.9 1.4 4.2-2.3-7z" class="y"/>
<path d="M179.5 126.7l 2.1 7 1.2 2.4-2.2-7.1z" class="pb"/>
<path d="M174.9 120.9l 2.4 .7 1.1 2.2-2.3-.7z" class="ib"/>
<path d="M64 89.4l 2.4 8.2 1.3-4.9-2.4-8.3z" class="gc"/>
<path d="M195.4 112.1l 2.6-8.7 1.3-3.1-2.6 8.6z" class="z"/>
<path d="M144.5 106.3l 2.4-3.9 1.2 1.7-2.3 3.8z" class="u"/>
<path d="M61.6 85l 2.4 4.4 1.3-5-2.4-4.4z" class="jc"/>
<path d="M177.3 121.6l 2.2 5.1 1.1 2.3-2.2-5.2z" class="b"/>
<path d="M65 98.3l 2.4 9.8 1.4-.6-2.4-9.9z" class="xb"/>
<path d="M220.3 114.6l 2.5-4.2 .8 10-2.6 4.1z" class="cb"/>
<path d="M161.7 127.4l 2.5-5.8 1.1 5.8-2.4 5.7z" class="db"/>
<path d="M139.5 122.6l 2.3-6.6 1.4-6.5-2.4 6.6z" class="cb"/>
<path d="M211.6 91.7l 2.1 7.3 .8 9.4-2.1-7.4z" class="kc"/>
<path d="M95.9 95.9l 2.3 8.9 1.4 4.1-2.3-8.8z" class="xb"/>
<path d="M155.9 123.1l 2.3 3.8 1.2 1.6-2.3-3.8z" class="f"/>
<path d="M209.3 88.8l 2.3 2.9 .8 9.3-2.3-3z" class="cc"/>
<path d="M191 136.6l 2.6-8.6 1.5-7.4-2.7 8.6z" class="v"/>
<path d="M192.4 129.2l 2.7-8.6 1.5-9.4-2.7 8.6z" class="a"/>
<path d="M81.8 98.4l 2.2-5.2 1.3-4.9-2.2 5.3z" class="cc"/>
<path d="M193.9 119.8l 2.7-8.6 1.4-7.8-2.6 8.7z" class="y"/>
<path d="M138.1 129.8l 2.4-6.5 1.3-7.3-2.3 6.6z" class="ib"/>
<path d="M112.3 112.5l 2.3-4.1 1.3 6.5-2.3 4.1z" class="x"/>
<path d="M102.8 114.6l 2.3-1.8 1.3 4.2-2.2 1.8z" class="oc"/>
<path d="M88.9 84.1l 2.3-.3 1.4 4.1-2.3 .3z" class="lc"/>
<path d="M186.1 140.7l 2.5-3.9 1.1 2.5-2.4 4z" class="p"/>
<path d="M58 85.6l 2.2 .1 1.4-.7-2.2 0z" class="jc"/>
<path d="M153.7 116l 2.2 7.1 1.2 1.6-2.2-7.1z" class="a"/>
<path d="M48.3 83.5l 2.3-1 1.5 5.8-2.2 1z" class="lc"/>
<path d="M229.9 112l 2.7-5.7 1 3.2-2.7 5.5z" class="j"/>
<path d="M74.4 122.2l 2.2-3.3 1.3-.6-2.2 3.4z" class="a"/>
<path d="M203.2 92.7l 2.7-8.3 .9 7.5-2.7 8.2z" class="gc"/>
<path d="M68.4 113.2l 2.3 5.1 1.4 3.5-2.3-5.1z" class="cb"/>
<path d="M80.5 105.9l 2.2-5.1 1.3-7.6-2.2 5.2z" class="kc"/>
<path d="M136.8 134.8l 2.3-6.4 1.4-5.1-2.4 6.5z" class="h"/>
<path d="M199.3 100.3l 2.8-10.4 1.1 2.8-2.8 10.3z" class="bc"/>
<path d="M62.6 90.1l 2.4 8.2 1.4-.7-2.4-8.2zM93.5 88.1l 2.4 7.8 1.4 4.2-2.4-7.9z" class="cc"/>
<path d="M123.8 128.6l 2.2 5.4 1.3 6.6-2.3-5.4z" class="l"/>
<path d="M158.2 126.9l 2.3-1.1 1.2 1.6-2.3 1.1z" class="db"/>
<path d="M79.3 113.5l 2.2-5.1 1.2-7.6-2.2 5.1z" class="z"/>
<path d="M189.7 139.3l 2.6-8.4 1.3-2.9-2.6 8.6z" class="i"/>
<path d="M171.4 118.9l 2.4-4.3 1.1 6.3-2.4 4.3z" class="lb"/>
<path d="M60.2 85.7l 2.4 4.4 1.4-.7-2.4-4.4z" class="sc"/>
<path d="M91.2 83.8l 2.3 4.3 1.4 4.1-2.3-4.3z" class="fc"/>
<path d="M54.3 85l 2.2-2.9 1.5 3.5-2.2 2.9z" class="jc"/>
<path d="M85.3 88.3l 2.3-3.9 1.3-.3-2.2 3.9z" class="lc"/>
<path d="M151.5 108.3l 2.2 7.7 1.2 1.6-2.2-7.7z" class="fb"/>
<path d="M146.9 102.4l 2.3 .8 1.3 1.6-2.4-.7z" class="xb"/>
<path d="M226.3 112.5l 2.8-8.4 .8 7.9-2.8 8.3zM65.9 104.6l 2.5 8.6 1.4 3.5-2.4-8.6z" class="ic"/>
<path d="M126 134l 2.3 1 1.3 6.7-2.3-1.1z" class="jb"/>
<path d="M70.7 118.3l 2.2 .5 1.5 3.4-2.3-.4z" class="lb"/>
<path d="M77.9 118.3l 2.2-5 1.4-4.9-2.2 5.1z" class="fb"/>
<path d="M121.5 120.7l 2.3 7.9 1.2 6.6-2.2-7.9z" class="db"/>
<path d="M143.2 109.5l 2.4-3.9 1.3-3.2-2.4 3.9z" class="u"/>
<path d="M149.2 103.2l 2.3 5.1 1.2 1.6-2.2-5.1z" class="z"/>
<path d="M108.7 111.8l 2.3-6.2 1.3 6.9-2.3 6.1z" class="y"/>
<path d="M131.9 138.2l 2.3-6.3 1.3 3.7-2.4 6.3z" class="hc"/>
<path d="M99.2 111.9l 2.3 2.9 1.3-.2-2.3-2.9z" class="fb"/>
<path d="M96.9 105l 2.3 6.9 1.3-.2-2.3-6.9z" class="uc"/>
<path d="M114.6 108.4l 2.3 0 1.3 6.6-2.3-.1z" class="y"/>
<path d="M180.6 127.3l 2.2 5.5 1 6.5-2.2-5.6z" class="pb"/>
<path d="M154.6 126.3l 2.2 3.8 1.4-3.2-2.3-3.8z" class="f"/>
<path d="M135.5 135.6l 2.4-6.4 1.2-.8-2.3 6.4z" class="pb"/>
<path d="M167.8 119.1l 2.5-7.8 1.1 7.6-2.5 7.7z" class="bb"/>
<path d="M50.6 82.5l 2.1-3.3 1.6 5.8-2.2 3.3z" class="pc"/>
<path d="M182.8 132.8l 2.3 1.4 1 6.5-2.3-1.4z" class="e"/>
<path d="M63.5 94.8l 2.4 9.8 1.5 3.5-2.4-9.8z" class="yb"/>
<path d="M119.2 113l 2.3 7.7 1.3 6.6-2.3-7.7z" class="lb"/>
<path d="M152.4 119.2l 2.2 7.1 1.3-3.2-2.2-7.1z" class="a"/>
<path d="M141.8 116l 2.4-3.7 1.4-6.7-2.4 3.9z" class="ic"/>
<path d="M105.1 112.8l 2.3-5.3 1.3 4.3-2.3 5.2z" class="y"/>
<path d="M222.8 110.4l 2.8-8 .7 10.1-2.7 7.9z" class="j"/>
<path d="M178.4 120.4l 2.2 6.9 1 6.4-2.1-7z" class="f"/>
<path d="M84 93.2l 2.3-3.9 1.3-4.9-2.3 3.9z" class="fc"/>
<path d="M94.5 96.2l 2.4 8.8 1.3-.2-2.3-8.9z" class="kc"/>
<path d="M173.8 114.6l 2.4 .7 1.1 6.3-2.4-.7z" class="cb"/>
<path d="M116.9 108.4l 2.3 4.6 1.3 6.6-2.3-4.6z" class="x"/>
<path d="M56.5 82.1l 2.2 .1 1.5 3.5-2.2-.1z" class="pc"/>
<path d="M214.9 99.1l 2.2 6 .8 8.4-2.1-6.1z" class="zb"/>
<path d="M140.5 123.3l 2.3-3.7 1.4-7.3-2.4 3.7z" class="cb"/>
<path d="M128.3 135l 2.3-3.5 1.3 6.7-2.3 3.5z" class="e"/>
<path d="M76.6 118.9l 2.2-5 1.3-.6-2.2 5z" class="d"/>
<path d="M87.6 84.4l 2.3-.3 1.3-.3-2.3 .3z" class="pc"/>
<path d="M164.2 121.6l 2.5-8.2 1.1 5.7-2.5 8.3z" class="lb"/>
<path d="M156.8 130.1l 2.4-1.1 1.3-3.2-2.3 1.1z" class="db"/>
<path d="M198 103.4l 2.8-10.5 1.3-3-2.8 10.4z" class="dc"/>
<path d="M101.5 114.8l 2.3-1.8 1.3-.2-2.3 1.8z" class="fb"/>
<path d="M217.1 105.1l 2.4 1 .8 8.5-2.4-1.1z" class="uc"/>
<path d="M153.2 132.8l 2.3 3.8 1.3-6.5-2.2-3.8z" class="c"/>
<path d="M72.9 118.8l 2.2-3.4 1.5 3.5-2.2 3.3z" class="bb"/>
<path d="M176.2 115.3l 2.2 5.1 1.1 6.3-2.2-5.1z" class="lb"/>
<path d="M160.5 125.8l 2.4-5.7 1.3 1.5-2.5 5.8z" class="ib"/>
<path d="M150.1 111.5l 2.3 7.7 1.3-3.2-2.2-7.7z" class="fb"/>
<path d="M145.6 105.6l 2.3 .8 1.3-3.2-2.3-.8z" class="xb"/>
<path d="M188.6 136.8l 2.6-8.5 1.1 2.6-2.6 8.4z" class="pb"/>
<path d="M82.7 100.8l 2.3-3.9 1.3-7.6-2.3 3.9z" class="cc"/>
<path d="M151 125.7l 2.2 7.1 1.4-6.5-2.2-7.1z" class="b"/>
<path d="M61.1 86.6l 2.4 8.2 1.5 3.5-2.4-8.2z" class="qc"/>
<path d="M205.9 84.4l 2.5-3.4 .9 7.8-2.5 3.1z" class="jc"/>
<path d="M151.8 140l 2.3 3.8 1.4-7.2-2.3-3.8z" class="jb"/>
<path d="M139.1 128.4l 2.4-3.7 1.3-5.1-2.3 3.7z" class="ib"/>
<path d="M97.9 116.6l 2.3 2.8 1.3-4.6-2.3-2.9z" class="d"/>
<path d="M95.5 109.7l 2.4 6.9 1.3-4.7-2.3-6.9z" class="ic"/>
<path d="M81.5 108.4l 2.2-3.8 1.3-7.7-2.3 3.9z" class="yb"/>
<path d="M92.2 88.4l 2.3 7.8 1.4-.3-2.4-7.8z" class="qc"/>
<path d="M212.8 90.8l 2.1 8.3 .9 8.3-2.1-8.4z" class="tc"/>
<path d="M58.7 82.2l 2.4 4.4 1.5 3.5-2.4-4.4z" class="jc"/>
<path d="M147.9 106.4l 2.2 5.1 1.4-3.2-2.3-5.1z" class="u"/>
<path d="M149.6 133l 2.2 7 1.4-7.2-2.2-7.1z" class="pb"/>
<path d="M89.9 84.1l 2.3 4.3 1.3-.3-2.3-4.3z" class="jc"/>
<path d="M196.6 111.2l 2.7-10.5 1.5-7.8-2.8 10.5z" class="kc"/>
<path d="M185.1 134.2l 2.5-4 1 6.6-2.5 3.9z" class="i"/>
<path d="M195.1 120.6l 2.7-10.4 1.5-9.5-2.7 10.5z" class="j"/>
<path d="M155.5 136.6l 2.3-1 1.4-6.6-2.4 1.1z" class="pb"/>
<path d="M193.6 128l 2.7-10.3 1.5-7.5-2.7 10.4z" class="cb"/>
<path d="M150.5 145l 2.3 3.7 1.3-4.9-2.3-3.8z" class="k"/>
<path d="M80.1 113.3l 2.3-3.8 1.3-4.9-2.2 3.8z" class="uc"/>
<path d="M46.8 78.1l 2.2-.9 1.6 5.3-2.3 1z" class="hd"/>
<path d="M96.6 124l 2.3 2.9 1.3-7.5-2.3-2.8z" class="a"/>
<path d="M94.2 117.2l 2.4 6.8 1.3-7.4-2.4-6.9z" class="oc"/>
<path d="M148.8 118.1l 2.2 7.6 1.4-6.5-2.3-7.7z" class="cb"/>
<path d="M144.2 112.3l 2.3 .7 1.4-6.6-2.3-.8z" class="uc"/>
<path d="M95.3 131.5l 2.3 2.7 1.3-7.3-2.3-2.9z" class="db"/>
<path d="M66.9 107.5l 2.3 5 1.5 5.8-2.3-5.1z" class="y"/>
<path d="M92.9 124.7l 2.4 6.8 1.3-7.5-2.4-6.8z" class="ib"/>
<path d="M229.1 104.1l 2.7-5.7 .8 7.9-2.7 5.7z" class="vc"/>
<path d="M148.3 138l 2.2 7 1.3-5-2.2-7zM154.1 143.8l 2.3-1 1.4-7.2-2.3 1z" class="jb"/>
<path d="M93.2 101l 2.3 8.7 1.4-4.7-2.4-8.8z" class="yb"/>
<path d="M111 105.6l 2.3-4.1 1.3 6.9-2.3 4.1z" class="u"/>
<path d="M202.1 89.9l 2.7-8.5 1.1 3-2.7 8.3z" class="jc"/>
<path d="M210.7 83.7l 2.1 7.1 .9 8.2-2.1-7.3z" class="gd"/>
<path d="M52.7 79.2l 2.2-2.9 1.6 5.8-2.2 2.9z" class="zc"/>
<path d="M147.4 125.5l 2.2 7.5 1.4-7.3-2.2-7.6z" class="s"/>
<path d="M86.3 89.3l 2.2-.3 1.4-4.9-2.3 .3z" class="jc"/>
<path d="M142.8 119.6l 2.4 .7 1.3-7.3-2.3-.7z" class="d"/>
<path d="M208.4 81l 2.3 2.7 .9 8-2.3-2.9z" class="rc"/>
<path d="M146.5 113l 2.3 5.1 1.3-6.6-2.2-5.1z" class="ic"/>
<path d="M100.2 119.4l 2.2-1.7 1.4-4.7-2.3 1.8z" class="d"/>
<path d="M219.5 106.1l 2.5-4.4 .8 8.7-2.5 4.2z" class="u"/>
<path d="M64.4 98.9l 2.5 8.6 1.5 5.7-2.5-8.6z" class="zb"/>
<path d="M93.9 136.2l 2.3 2.7 1.4-4.7-2.3-2.7z" class="i"/>
<path d="M91.6 129.5l 2.3 6.7 1.4-4.7-2.4-6.8z" class="v"/>
<path d="M152.8 148.7l 2.3-.9 1.3-5-2.3 1z" class="sb"/>
<path d="M192.3 130.9l 2.7-10.3 1.3-2.9-2.7 10.3z" class="mb"/>
<path d="M69.2 112.5l 2.3 .5 1.4 5.8-2.2-.5z" class="x"/>
<path d="M91.9 108.6l 2.3 8.6 1.3-7.5-2.3-8.7z" class="uc"/>
<path d="M134.2 131.9l 2.4-6.5 1.3 3.8-2.4 6.4z" class="v"/>
<path d="M137.9 129.2l 2.3-3.7 1.3-.8-2.4 3.7z" class="b"/>
<path d="M145.2 120.3l 2.2 5.2 1.4-7.4-2.3-5.1z" class="cb"/>
<path d="M90.6 116.1l 2.3 8.6 1.3-7.5-2.3-8.6z" class="d"/>
<path d="M146.1 130.5l 2.2 7.5 1.3-5-2.2-7.5z" class="h"/>
<path d="M122.5 121.7l 2.3 5.3 1.2 7-2.2-5.4z" class="f"/>
<path d="M90.9 93.2l 2.3 7.8 1.3-4.8-2.3-7.8z" class="ec"/>
<path d="M141.5 124.7l 2.3 .7 1.4-5.1-2.4-.7z" class="a"/>
<path d="M85 96.9l 2.2-.2 1.3-7.7-2.2 .3z" class="qc"/>
<path d="M170.3 111.3l 2.5-4.2 1 7.5-2.4 4.3z" class="y"/>
<path d="M159.2 129l 2.4-5.6 1.3-3.3-2.4 5.7z" class="ib"/>
<path d="M98.9 126.9l 2.2-1.8 1.3-7.4-2.2 1.7z" class="a"/>
<path d="M103.8 113l 2.2-5.3 1.4-.2-2.3 5.3z" class="uc"/>
<path d="M83.7 104.6l 2.2-.3 1.3-7.6-2.2 .2z" class="ac"/>
<path d="M88.5 89l 2.4 4.2 1.3-4.8-2.3-4.3z" class="sc"/>
<path d="M107.4 107.5l 2.3-6.1 1.3 4.2-2.3 6.2z" class="zb"/>
<path d="M97.6 134.2l 2.2-1.7 1.3-7.4-2.2 1.8z" class="db"/>
<path d="M149.2 145.6l 2.3 3.8 1.3-.7-2.3-3.7z" class="r"/>
<path d="M124.8 127l 2.3 1 1.2 7-2.3-1z" class="v"/>
<path d="M78.8 113.9l 2.2-3.8 1.4-.6-2.3 3.8z" class="j"/>
<path d="M89.3 121l 2.3 8.5 1.3-4.8-2.3-8.6z" class="a"/>
<path d="M130.6 131.5l 2.4-6.4 1.2 6.8-2.3 6.3z" class="h"/>
<path d="M75.1 115.4l 2.2-5 1.5 3.5-2.2 5z" class="fb"/>
<path d="M143.8 125.4l 2.3 5.1 1.3-5-2.2-5.2z" class="s"/>
<path d="M120.2 113.8l 2.3 7.9 1.3 6.9-2.3-7.9z" class="lb"/>
<path d="M89.6 100.9l 2.3 7.7 1.3-7.6-2.3-7.8z" class="ac"/>
<path d="M147 138.7l 2.2 6.9 1.3-.6-2.2-7z" class="p"/>
<path d="M62 89l 2.4 9.9 1.5 5.7-2.4-9.8z" class="cc"/>
<path d="M82.4 109.5l 2.2-.2 1.3-5-2.2 .3z" class="zb"/>
<path d="M88.3 108.5l 2.3 7.6 1.3-7.5-2.3-7.7z" class="z"/>
<path d="M96.2 138.9l 2.3-1.7 1.3-4.7-2.2 1.7z" class="i"/>
<path d="M49 77.2l 2.2-3.3 1.5 5.3-2.1 3.3z" class="bd"/>
<path d="M225.6 102.4l 2.8-8.5 .7 10.2-2.8 8.4z" class="kc"/>
<path d="M87.2 96.7l 2.4 4.2 1.3-7.7-2.4-4.2z" class="ec"/>
<path d="M157.8 135.6l 2.4-5.5 1.4-6.7-2.4 5.6z" class="db"/>
<path d="M113.3 101.5l 2.3 .1 1.3 6.8-2.3 0z" class="xb"/>
<path d="M85.9 104.3l 2.4 4.2 1.3-7.6-2.4-4.2z" class="kc"/>
<path d="M54.9 76.3l 2.3 .1 1.5 5.8-2.2-.1z" class="yc"/>
<path d="M92.6 136.7l 2.3 2.7 1.3-.5-2.3-2.7z" class="e"/>
<path d="M90.3 130l 2.3 6.7 1.3-.5-2.3-6.7z" class="c"/>
<path d="M151.5 149.4l 2.3-.9 1.3-.7-2.3 .9z" class="r"/>
<path d="M162.9 120.1l 2.6-8.1 1.2 1.4-2.5 8.2z" class="d"/>
<path d="M179.6 119.6l 2.2 5.5 1 7.7-2.2-5.5z" class="s"/>
<path d="M156.4 142.8l 2.5-5.3 1.3-7.4-2.4 5.5z" class="l"/>
<path d="M166.7 113.4l 2.5-7.7 1.1 5.6-2.5 7.8z" class="ic"/>
<path d="M86.9 113.4l 2.4 7.6 1.3-4.9-2.3-7.6z" class="fb"/>
<path d="M117.9 106.2l 2.3 7.6 1.3 6.9-2.3-7.7z" class="y"/>
<path d="M144.8 131.2l 2.2 7.5 1.3-.7-2.2-7.5z" class="pb"/>
<path d="M71.5 113l 2.2-3.3 1.4 5.7-2.2 3.4z" class="y"/>
<path d="M140.2 125.5l 2.3 .7 1.3-.8-2.3-.7z" class="ib"/>
<path d="M200.8 92.9l 2.7-8.5 1.3-3-2.7 8.5z" class="rc"/>
<path d="M181.8 125.1l 2.3 1.3 1 7.8-2.3-1.4z" class="f"/>
<path d="M84.6 109.3l 2.3 4.1 1.4-4.9-2.4-4.2z" class="z"/>
<path d="M59.6 80.8l 2.4 8.2 1.5 5.8-2.4-8.2z" class="jc"/>
<path d="M213.9 95.3l 2.2 5.7 1 4.1-2.2-6z" class="bc"/>
<path d="M115.6 101.6l 2.3 4.6 1.3 6.8-2.3-4.6z" class="zb"/>
<path d="M187.6 130.2l 2.6-8.4 1 6.5-2.6 8.5z" class="f"/>
<path d="M172.8 107.1l 2.3 .7 1.1 7.5-2.4-.7z" class="uc"/>
<path d="M102.4 117.7l 2.3-5.3 1.3-4.7-2.2 5.3z" class="ic"/>
<path d="M177.4 112.8l 2.2 6.8 1 7.7-2.2-6.9z" class="cb"/>
<path d="M155.1 147.8l 2.4-5.3 1.4-5-2.5 5.3z" class="p"/>
<path d="M57.2 76.4l 2.4 4.4 1.5 5.8-2.4-4.4z" class="zc"/>
<path d="M142.5 126.2l 2.3 5 1.3-.7-2.3-5.1z" class="b"/>
<path d="M204.8 81.4l 2.5-3.5 1.1 3.1-2.5 3.4z" class="hd"/>
<path d="M87.9 121.6l 2.4 8.4 1.3-.5-2.3-8.5z" class="ib"/>
<path d="M191.2 128.3l 2.7-10.2 1.1 2.5-2.7 10.3z" class="mb"/>
<path d="M216.1 101l 2.3 .9 1.1 4.2-2.4-1z" class="kc"/>
<path d="M127.1 128l 2.3-3.5 1.2 7-2.3 3.5z" class="db"/>
<path d="M45.3 75.8l 2.2-.8 1.5 2.2-2.2 .9z" class="fd"/>
<path d="M175.1 107.8l 2.3 5 1 7.6-2.2-5.1z" class="y"/>
<path d="M81 110.1l 2.3-.2 1.3-.6-2.2 .2z" class="z"/>
<path d="M94.9 139.4l 2.3-1.7 1.3-.5-2.3 1.7z" class="e"/>
<path d="M222 101.7l 2.8-8.1 .8 8.8-2.8 8z" class="tc"/>
<path d="M211.8 87.2l 2.1 8.1 1 3.8-2.1-8.3z" class="gd"/>
<path d="M101.1 125.1l 2.3-5.2 1.3-7.5-2.3 5.3z" class="oc"/>
<path d="M199.3 100.7l 2.7-8.6 1.5-7.7-2.7 8.5z" class="gd"/>
<path d="M136.6 125.4l 2.4-3.7 1.2 3.8-2.3 3.7z" class="ib"/>
<path d="M197.8 110.2l 2.7-8.7 1.5-9.4-2.7 8.6z" class="tc"/>
<path d="M99.8 132.5l 2.3-5.1 1.3-7.5-2.3 5.2z" class="ib"/>
<path d="M196.3 117.7l 2.7-8.6 1.5-7.6-2.7 8.7z" class="u"/>
<path d="M65.4 102.2l 2.3 5.1 1.5 5.2-2.3-5z" class="zb"/>
<path d="M85.6 114l 2.3 7.6 1.4-.6-2.4-7.6z" class="d"/>
<path d="M109.7 101.4l 2.3-4.1 1.3 4.2-2.3 4.1z" class="ac"/>
<path d="M51.2 73.9l 2.2-2.9 1.5 5.3-2.2 2.9z" class="od"/>
<path d="M77.3 110.4l 2.3-3.7 1.4 3.4-2.2 3.8z" class="z"/>
<path d="M106 107.7l 2.3-6.1 1.4-.2-2.3 6.1z" class="yb"/>
<path d="M148 141.8l 2.3 3.7 1.2 3.9-2.3-3.8z" class="ob"/>
<path d="M83.3 109.9l 2.3 4.1 1.3-.6-2.3-4.1z" class="uc"/>
<path d="M98.5 137.2l 2.2-5.1 1.4-4.7-2.3 5.1z" class="h"/>
<path d="M184.1 126.4l 2.5-4 1 7.8-2.5 4z" class="b"/>
<path d="M209.6 80.3l 2.2 6.9 1 3.6-2.1-7.1z" class="wc"/>
<path d="M161.6 123.4l 2.5-8 1.4-3.4-2.6 8.1z" class="d"/>
<path d="M207.3 77.9l 2.3 2.4 1.1 3.4-2.3-2.7z" class="yc"/>
<path d="M62.9 93.6l 2.5 8.6 1.5 5.3-2.5-8.6z" class="tc"/>
<path d="M153.8 148.5l 2.4-5.2 1.3-.8-2.4 5.3z" class="ob"/>
<path d="M145.8 134.9l 2.2 6.9 1.2 3.8-2.2-6.9z" class="hc"/>
<path d="M67.7 107.3l 2.3 .5 1.5 5.2-2.3-.5z" class="z"/>
<path d="M195 120.6l 2.7-8.6 1.3-2.9-2.7 8.6z" class="y"/>
<path d="M133 125.1l 2.4-6.5 1.2 6.8-2.4 6.5z" class="mb"/>
<path d="M218.4 101.9l 2.6-4.5 1 4.3-2.5 4.4z" class="tc"/>
<path d="M88.9 126.5l 2.3 6.7 1.4 3.5-2.3-6.7z" class="v"/>
<path d="M121.2 117.3l 2.3 5.3 1.3 4.4-2.3-5.3z" class="bb"/>
<path d="M91.2 133.2l 2.3 2.7 1.4 3.5-2.3-2.7z" class="i"/>
<path d="M228.4 93.9l 2.7-5.7 .7 10.2-2.7 5.7z" class="gc"/>
<path d="M150.3 145.5l 2.3-.9 1.2 3.9-2.3 .9z" class="k"/>
<path d="M73.7 109.7l 2.2-5 1.4 5.7-2.2 5z" class="z"/>
<path d="M47.5 75l 2.2-3.3 1.5 2.2-2.2 3.3z" class="cd"/>
<path d="M160.2 130.1l 2.5-7.8 1.4-6.9-2.5 8z" class="lb"/>
<path d="M169.2 105.7l 2.5-4.2 1.1 5.6-2.5 4.2z" class="vc"/>
<path d="M143.5 127.4l 2.3 7.5 1.2 3.8-2.2-7.5z" class="h"/>
<path d="M139 121.7l 2.3 .7 1.2 3.8-2.3-.7z" class="a"/>
<path d="M123.5 122.6l 2.3 1 1.3 4.4-2.3-1z" class="mb"/>
<path d="M43.9 78.1l 2.2-.8 1.4-2.3-2.2 .8z" class="od"/>
<path d="M203.5 84.4l 2.5-3.7 1.3-2.8-2.5 3.5z" class="yc"/>
<path d="M212.6 97.2l 2.2 5.4 1.3-1.6-2.2-5.7z" class="cc"/>
<path d="M60.5 83.8l 2.4 9.8 1.5 5.3-2.4-9.9z" class="sc"/>
<path d="M118.9 109.4l 2.3 7.9 1.3 4.4-2.3-7.9z" class="fb"/>
<path d="M158.9 137.5l 2.4-7.7 1.4-7.5-2.5 7.8z" class="f"/>
<path d="M165.5 112l 2.5-7.6 1.2 1.3-2.5 7.7z" class="zb"/>
<path d="M86.5 118.1l 2.4 8.4 1.4 3.5-2.4-8.4z" class="a"/>
<path d="M97.2 137.7l 2.2-5.1 1.3-.5-2.2 5.1z" class="c"/>
<path d="M141.3 122.4l 2.2 5 1.3 3.8-2.3-5z" class="ib"/>
<path d="M214.8 102.6l 2.4 .7 1.2-1.4-2.3-.9z" class="tc"/>
<path d="M104.7 112.4l 2.3-6.1 1.3-4.7-2.3 6.1z" class="xb"/>
<path d="M129.4 124.5l 2.3-6.4 1.3 7-2.4 6.4z" class="a"/>
<path d="M53.4 71l 2.3 .1 1.5 5.3-2.3-.1z" class="ed"/>
<path d="M112 97.3l 2.3 0 1.3 4.3-2.3-.1z" class="dc"/>
<path d="M79.6 106.7l 2.2-.3 1.5 3.5-2.3 .2z" class="zb"/>
<path d="M210.5 89.4l 2.1 7.8 1.3-1.9-2.1-8.1z" class="sc"/>
<path d="M157.5 142.5l 2.5-7.6 1.3-5.1-2.4 7.7z" class="pb"/>
<path d="M93.5 135.9l 2.3-1.7 1.4 3.5-2.3 1.7z" class="i"/>
<path d="M116.6 101.8l 2.3 7.6 1.3 4.4-2.3-7.6z" class="xb"/>
<path d="M70 107.8l 2.2-3.4 1.5 5.3-2.2 3.3z" class="zb"/>
<path d="M103.4 119.9l 2.3-6 1.3-7.6-2.3 6.1z" class="j"/>
<path d="M202 92.1l 2.5-3.9 1.5-7.5-2.5 3.7z" class="wc"/>
<path d="M58 75.6l 2.5 8.2 1.5 5.2-2.4-8.2z" class="hd"/>
<path d="M42.6 84.4l 2.3-.8 1.2-6.3-2.2 .8z" class="bd"/>
<path d="M200.5 101.5l 2.5-3.9 1.5-9.4-2.5 3.9z" class="qc"/>
<path d="M102.1 127.4l 2.2-6 1.4-7.5-2.3 6z" class="oc"/>
<path d="M178.5 114l 2.2 5.4 1.1 5.7-2.2-5.5z" class="d"/>
<path d="M84.2 110.6l 2.3 7.5 1.4 3.5-2.3-7.6z" class="y"/>
<path d="M199 109.1l 2.5-4.1 1.5-7.4-2.5 3.9z" class="ac"/>
<path d="M114.3 97.3l 2.3 4.5 1.3 4.4-2.3-4.6z" class="tc"/>
<path d="M55.7 71.1l 2.3 4.5 1.6 5.2-2.4-4.4z" class="cd"/>
<path d="M190.2 121.8l 2.7-10.2 1 6.5-2.7 10.2z" class="d"/>
<path d="M211.2 103.8l 2.2 5.1 1.4-6.3-2.2-5.4z" class="tc"/>
<path d="M206 80.7l 2.3 2.1 1.3-2.5-2.3-2.4z" class="bd"/>
<path d="M208.3 82.8l 2.2 6.6 1.3-2.2-2.2-6.9z" class="xc"/>
<path d="M224.8 93.6l 2.8-8.6 .8 8.9-2.8 8.5z" class="fc"/>
<path d="M41.4 92.8l 2.2-.8 1.3-8.4-2.3 .8z" class="rc"/>
<path d="M81.8 106.4l 2.4 4.2 1.4 3.4-2.3-4.1z" class="u"/>
<path d="M108.3 101.6l 2.3-4.1 1.4-.2-2.3 4.1z" class="dc"/>
<path d="M180.7 119.4l 2.3 1.4 1.1 5.6-2.3-1.3z" class="bb"/>
<path d="M193.9 118.1l 2.7-8.5 1.1 2.4-2.7 8.6z" class="ic"/>
<path d="M40.2 100.4l 2.2-.8 1.2-7.6-2.2 .8z" class="gc"/>
<path d="M171.7 101.5l 2.3 .7 1.1 5.6-2.3-.7z" class="kc"/>
<path d="M125.8 123.6l 2.3-3.6 1.3 4.5-2.3 3.5z" class="lb"/>
<path d="M176.3 107.2l 2.2 6.8 1.1 5.6-2.2-6.8z" class="j"/>
<path d="M209.7 112.2l 2.2 4.8 1.5-8.1-2.2-5.1z" class="u"/>
<path d="M213.4 108.9l 2.4 .5 1.4-6.1-2.4-.7z" class="yb"/>
<path d="M100.7 132.1l 2.3-5.9 1.3-4.8-2.2 6z" class="ib"/>
<path d="M63.9 100.1l 2.4 5 1.4 2.2-2.3-5.1z" class="ac"/>
<path d="M186.6 122.4l 2.6-8.3 1 7.7-2.6 8.4z" class="cb"/>
<path d="M152.6 144.6l 2.4-5.2 1.2 3.9-2.4 5.2z" class="eb"/>
<path d="M209 96.4l 2.2 7.4 1.4-6.6-2.1-7.8z" class="gc"/>
<path d="M49.7 71.7l 2.2-2.9 1.5 2.2-2.2 2.9z" class="id"/>
<path d="M46.1 77.3l 2.2-3.3 1.4-2.3-2.2 3.3z" class="ed"/>
<path d="M135.4 118.6l 2.3-3.7 1.3 6.8-2.4 3.7z" class="oc"/>
<path d="M208.2 118.9l 2.3 4.6 1.4-6.5-2.2-4.8z" class="fb"/>
<path d="M174 102.2l 2.3 5 1.1 5.6-2.3-5z" class="vc"/>
<path d="M217.2 103.3l 2.6-4.7 1.2-1.2-2.6 4.5z" class="dc"/>
<path d="M211.9 117l 2.4 .2 1.5-7.8-2.4-.5z" class="uc"/>
<path d="M38.9 104.8l 2.2-.7 1.3-4.5-2.2 .8z" class="bc"/>
<path d="M221 97.4l 2.8-8.2 1 4.4-2.8 8.1z" class="gd"/>
<path d="M207.5 105.1l 2.2 7.1 1.5-8.4-2.2-7.4z" class="ac"/>
<path d="M197.7 112l 2.5-4.1 1.3-2.9-2.5 4.1z" class="xb"/>
<path d="M156.2 143.3l 2.5-7.6 1.3-.8-2.5 7.6z" class="l"/>
<path d="M61.5 91.4l 2.4 8.7 1.5 2.1-2.5-8.6z" class="gc"/>
<path d="M75.9 104.7l 2.2-3.8 1.5 5.8-2.3 3.7z" class="yb"/>
<path d="M164.1 115.4l 2.5-7.4 1.4-3.6-2.5 7.6z" class="u"/>
<path d="M204.5 88.2l 2.4 1.9 1.4-7.3-2.3-2.1z" class="xc"/>
<path d="M66.3 105.1l 2.2 .5 1.5 2.2-2.3-.5z" class="yb"/>
<path d="M206.1 112.1l 2.1 6.8 1.5-6.7-2.2-7.1z" class="z"/>
<path d="M119.8 117.4l 2.3 5.2 1.4 0-2.3-5.3z" class="d"/>
<path d="M206.9 90.1l 2.1 6.3 1.5-7-2.2-6.6z" class="jc"/>
<path d="M210.5 123.5l 2.4 0 1.4-6.3-2.4-.2z" class="d"/>
<path d="M203 97.6l 2.3 1.6 1.6-9.1-2.4-1.9z" class="fc"/>
<path d="M146.8 134.9l 2.3 3.8 1.2 6.8-2.3-3.7z" class="e"/>
<path d="M205.3 99.2l 2.2 5.9 1.5-8.7-2.1-6.3z" class="gc"/>
<path d="M201.5 105l 2.4 1.5 1.4-7.3-2.3-1.6z" class="bc"/>
<path d="M122.1 122.6l 2.4 1 1.3 0-2.3-1z" class="bb"/>
<path d="M144.6 128l 2.2 6.9 1.2 6.9-2.2-6.9z" class="h"/>
<path d="M203.9 106.5l 2.2 5.6 1.4-7-2.2-5.9z" class="kc"/>
<path d="M117.6 109.5l 2.2 7.9 1.4-.1-2.3-7.9z" class="j"/>
<path d="M44.9 83.6l 2.1-3.2 1.3-6.4-2.2 3.3z" class="fd"/>
<path d="M95.8 134.2l 2.2-5.1 1.4 3.5-2.2 5.1z" class="v"/>
<path d="M183 120.8l 2.5-4 1.1 5.6-2.5 4z" class="oc"/>
<path d="M107 106.3l 2.3-4.1 1.3-4.7-2.3 4.1zM168 104.4l 2.4-4.1 1.3 1.2-2.5 4.2z" class="tc"/>
<path d="M87.5 120.8l 2.3 6.6 1.4 5.8-2.3-6.7z" class="mb"/>
<path d="M207 121.2l 2.2 4.5 1.3-2.2-2.3-4.6z" class="oc"/>
<path d="M89.8 127.4l 2.3 2.7 1.4 5.8-2.3-2.7z" class="f"/>
<path d="M162.7 122.3l 2.5-7.3 1.4-7-2.5 7.4z" class="ic"/>
<path d="M59 81.6l 2.5 9.8 1.4 2.2-2.4-9.8z" class="pc"/>
<path d="M99.4 132.6l 2.3-5.9 1.3-.5-2.3 5.9z" class="s"/>
<path d="M43.6 92l 2.2-3.1 1.2-8.5-2.1 3.2z" class="xc"/>
<path d="M110.6 97.5l 2.3 0 1.4-.2-2.3 0z" class="ec"/>
<path d="M72.2 104.4l 2.2-5 1.5 5.3-2.2 5z" class="ac"/>
<path d="M215.8 109.4l 2.6-4.8 1.4-6-2.6 4.7z" class="tc"/>
<path d="M42.4 99.6l 2.2-3 1.2-7.7-2.2 3.1z" class="fc"/>
<path d="M204.8 114.6l 2.2 6.6 1.2-2.3-2.1-6.8z" class="ic"/>
<path d="M131.7 118.1l 2.4-6.6 1.3 7.1-2.4 6.5z" class="x"/>
<path d="M161.3 129.8l 2.5-7.1 1.4-7.7-2.5 7.3z" class="cb"/>
<path d="M149.1 138.7l 2.4-1 1.1 6.9-2.3 .9z" class="hc"/>
<path d="M51.9 68.8l 2.3 .2 1.5 2.1-2.3-.1z" class="kd"/>
<path d="M209.2 125.7l 2.4-.1 1.3-2.1-2.4 0z" class="bb"/>
<path d="M137.7 114.9l 2.4 .7 1.2 6.8-2.3-.7z" class="x"/>
<path d="M105.7 113.9l 2.2-4.1 1.4-7.6-2.3 4.1z" class="xb"/>
<path d="M142.3 120.6l 2.3 7.4 1.2 6.9-2.3-7.5z" class="ib"/>
<path d="M200.2 107.9l 2.4 1.3 1.3-2.7-2.4-1.5z" class="yb"/>
<path d="M37.4 105.1l 2.2-.7 1.5-.3-2.2 .7z" class="ac"/>
<path d="M115.2 102l 2.4 7.5 1.3-.1-2.3-7.6z" class="yb"/>
<path d="M85.1 112.3l 2.4 8.5 1.4 5.7-2.4-8.4z" class="x"/>
<path d="M104.3 121.4l 2.3-4.1 1.3-7.5-2.2 4.1z" class="ic"/>
<path d="M214.3 117.2l 2.6-4.9 1.5-7.7-2.6 4.8zM202.6 109.2l 2.2 5.4 1.3-2.5-2.2-5.6z" class="zb"/>
<path d="M62.5 102.3l 2.4 5 1.4-2.2-2.4-5z" class="tc"/>
<path d="M41.1 104.1l 2.1-3 1.4-4.5-2.2 3z" class="cc"/>
<path d="M48.3 74l 2.2-2.8 1.4-2.4-2.2 2.9z" class="ld"/>
<path d="M112.9 97.5l 2.3 4.5 1.4-.2-2.3-4.5z" class="cc"/>
<path d="M160 134.9l 2.5-7 1.3-5.2-2.5 7.1z" class="ib"/>
<path d="M118.5 121.9l 2.3 5.2 1.3-4.5-2.3-5.2z" class="cb"/>
<path d="M78.1 100.9l 2.3-.2 1.4 5.7-2.2 .3z" class="ac"/>
<path d="M68.5 105.6l 2.3-3.4 1.4 2.2-2.2 3.4z" class="kc"/>
<path d="M140.1 115.6l 2.2 5 1.2 6.8-2.2-5z" class="oc"/>
<path d="M56.6 73.4l 2.4 8.2 1.5 2.2-2.5-8.2z" class="fd"/>
<path d="M128.1 120l 2.4-6.4 1.2 4.5-2.3 6.4z" class="x"/>
<path d="M212.9 123.5l 2.6-5 1.4-6.2-2.6 4.9z" class="y"/>
<path d="M92.1 130.1l 2.3-1.7 1.4 5.8-2.3 1.7z" class="f"/>
<path d="M54.2 69l 2.4 4.4 1.4 2.2-2.3-4.5z" class="id"/>
<path d="M227.6 85l 2.7-5.8 .8 9-2.7 5.7z" class="xc"/>
<path d="M60.1 93.7l 2.4 8.6 1.4-2.2-2.4-8.7z" class="qc"/>
<path d="M196.6 109.6l 2.5-4.2 1.1 2.5-2.5 4.1z" class="vc"/>
<path d="M177.3 112.8l 2.2 5.4 1.2 1.2-2.2-5.4z" class="ic"/>
<path d="M103 126.2l 2.3-4.1 1.3-4.8-2.3 4.1z" class="oc"/>
<path d="M120.8 127.1l 2.3 .9 1.4-4.4-2.4-1z" class="lb"/>
<path d="M124.5 123.6l 2.3-3.6 1.3 0-2.3 3.6z" class="oc"/>
<path d="M116.2 114.2l 2.3 7.7 1.3-4.5-2.2-7.9z" class="ic"/>
<path d="M64.9 107.3l 2.3 .5 1.3-2.2-2.2-.5z" class="yb"/>
<path d="M117.2 129.2l 2.3 5.2 1.3-7.3-2.3-5.2z" class="ib"/>
<path d="M82.7 104.8l 2.4 7.5 1.4 5.8-2.3-7.5z" class="u"/>
<path d="M179.5 118.2l 2.3 1.3 1.2 1.3-2.3-1.4z" class="x"/>
<path d="M170.4 100.3l 2.4 .7 1.2 1.2-2.3-.7z" class="dc"/>
<path d="M219.8 98.6l 2.8-8.3 1.2-1.1-2.8 8.2z" class="sc"/>
<path d="M175 106l 2.3 6.8 1.2 1.2-2.2-6.8z" class="zb"/>
<path d="M155 139.4l 2.5-7.5 1.2 3.8-2.5 7.6z" class="pb"/>
<path d="M115.8 136.5l 2.3 5.1 1.4-7.2-2.3-5.2z" class="h"/>
<path d="M109.3 102.2l 2.3 0 1.3-4.7-2.3 0z" class="cc"/>
<path d="M80.4 100.7l 2.3 4.1 1.5 5.8-2.4-4.2z" class="kc"/>
<path d="M192.9 111.6l 2.7-8.5 1 6.5-2.7 8.5z" class="zb"/>
<path d="M61.2 108.6l 2.4 5 1.3-6.3-2.4-5z" class="vc"/>
<path d="M166.6 108l 2.5-4 1.3-3.7-2.4 4.1z" class="ac"/>
<path d="M47 80.4l 2.2-2.7 1.3-6.5-2.2 2.8z" class="ed"/>
<path d="M119.5 134.4l 2.3 .8 1.3-7.2-2.3-.9z" class="b"/>
<path d="M114.9 121.6l 2.3 7.6 1.3-7.3-2.3-7.7z" class="oc"/>
<path d="M172.8 101l 2.2 5 1.3 1.2-2.3-5z" class="tc"/>
<path d="M60 116.8l 2.4 5 1.2-8.2-2.4-5z" class="j"/>
<path d="M113.9 106.7l 2.3 7.5 1.4-4.7-2.4-7.5z" class="vc"/>
<path d="M118.1 141.6l 2.3 .9 1.4-7.3-2.3-.8z" class="pb"/>
<path d="M58.7 124.3l 2.4 4.9 1.3-7.4-2.4-5z" class="cb"/>
<path d="M113.5 129l 2.3 7.5 1.4-7.3-2.3-7.6z" class="ib"/>
<path d="M57.6 84l 2.5 9.7 1.4-2.3-2.5-9.8z" class="wc"/>
<path d="M45.8 88.9l 2.2-2.7 1.2-8.5-2.2 2.7z" class="yc"/>
<path d="M223.8 89.2l 2.8-8.8 1 4.6-2.8 8.6z" class="xc"/>
<path d="M158.7 135.7l 2.5-6.9 1.3-.9-2.5 7z" class="b"/>
<path d="M114.5 141.1l 2.3 5.1 1.3-4.6-2.3-5.1z" class="e"/>
<path d="M58.8 100.1l 2.4 8.5 1.3-6.3-2.4-8.6z" class="dc"/>
<path d="M211.6 125.6l 2.6-5 1.3-2.1-2.6 5zM205.9 118.4l 2.2 4.4 1.1 2.9-2.2-4.5z" class="d"/>
<path d="M189.2 114.1l 2.7-10.1 1 7.6-2.7 10.2z" class="z"/>
<path d="M107.9 109.8l 2.4 0 1.3-7.6-2.3 0z" class="kc"/>
<path d="M44.6 96.6l 2.2-2.7 1.2-7.7-2.2 2.7z" class="jc"/>
<path d="M39.6 104.4l 2.2-3 1.4-.3-2.1 3zM111.6 102.2l 2.3 4.5 1.3-4.7-2.3-4.5z" class="bc"/>
<path d="M151.5 137.7l 2.4-5.2 1.1 6.9-2.4 5.2z" class="pb"/>
<path d="M63.6 113.6l 2.3 .4 1.3-6.2-2.3-.5z" class="zb"/>
<path d="M50.5 71.2l 2.3 .2 1.4-2.4-2.3-.2z" class="kd"/>
<path d="M57.6 108.4l 2.4 8.4 1.2-8.2-2.4-8.5z" class="vc"/>
<path d="M106.6 117.3l 2.3 0 1.4-7.5-2.4 0z" class="uc"/>
<path d="M56.3 116l 2.4 8.3 1.3-7.5-2.4-8.4z" class="ic"/>
<path d="M203.7 112l 2.2 6.4 1.1 2.8-2.2-6.6z" class="j"/>
<path d="M74.4 99.4l 2.2-3.7 1.5 5.2-2.2 3.8z" class="cc"/>
<path d="M98 129.1l 2.3-6 1.4 3.6-2.3 5.9z" class="mb"/>
<path d="M116.8 146.2l 2.3 .8 1.3-4.5-2.3-.9z" class="jb"/>
<path d="M185.5 116.8l 2.6-8.3 1.1 5.6-2.6 8.3z" class="j"/>
<path d="M62.4 121.8l 2.2 .4 1.3-8.2-2.3-.4z" class="y"/>
<path d="M165.2 115l 2.5-3.9 1.4-7.1-2.5 4z" class="xb"/>
<path d="M112.6 114.2l 2.3 7.4 1.3-7.4-2.3-7.5z" class="uc"/>
<path d="M57.4 128.7l 2.4 4.9 1.3-4.4-2.4-4.9z" class="mb"/>
<path d="M101.7 126.7l 2.2-4 1.4-.6-2.3 4.1z" class="bb"/>
<path d="M199.1 105.4l 2.4 1.2 1.1 2.6-2.4-1.3z" class="kc"/>
<path d="M112.2 133.6l 2.3 7.5 1.3-4.6-2.3-7.5z" class="v"/>
<path d="M61.1 129.2l 2.3 .5 1.2-7.5-2.2-.4z" class="lb"/>
<path d="M208.1 122.8l 2.4-.1 1.1 2.9-2.4 .1z" class="cb"/>
<path d="M43.2 101.1l 2.2-2.6 1.4-4.6-2.2 2.7z" class="qc"/>
<path d="M134.1 111.5l 2.4-3.8 1.2 7.2-2.3 3.7z" class="z"/>
<path d="M123.1 128l 2.4-3.6 1.3-4.4-2.3 3.6z" class="bb"/>
<path d="M111.2 121.7l 2.3 7.3 1.4-7.4-2.3-7.4z" class="d"/>
<path d="M163.8 122.7l 2.5-3.8 1.4-7.8-2.5 3.9z" class="ic"/>
<path d="M110.3 109.8l 2.3 4.4 1.3-7.5-2.3-4.5z" class="vc"/>
<path d="M201.5 106.6l 2.2 5.4 1.1 2.6-2.2-5.4z" class="xb"/>
<path d="M218.4 104.6l 2.8-8.4 1.4-5.9-2.8 8.3z" class="qc"/>
<path d="M35.9 101.7l 2.2-.6 1.5 3.3-2.2 .7z" class="bc"/>
<path d="M181.8 119.5l 2.5-3.8 1.2 1.1-2.5 4z" class="y"/>
<path d="M55.2 75.8l 2.4 8.2 1.4-2.4-2.4-8.2z" class="od"/>
<path d="M105.3 122.1l 2.3 0 1.3-4.8-2.3 0z" class="x"/>
<path d="M67.2 107.8l 2.2-3.3 1.4-2.3-2.3 3.4z" class="ac"/>
<path d="M55 120.4l 2.4 8.3 1.3-4.4-2.4-8.3z" class="oc"/>
<path d="M175.9 116.5l 2.3 5.4 1.3-3.7-2.2-5.4z" class="ic"/>
<path d="M108.9 117.3l 2.3 4.4 1.4-7.5-2.3-4.4z" class="j"/>
<path d="M56.3 90.4l 2.5 9.7 1.3-6.4-2.5-9.7z" class="jc"/>
<path d="M52.8 71.4l 2.4 4.4 1.4-2.4-2.4-4.4z" class="ld"/>
<path d="M59.8 133.6l 2.2 .4 1.4-4.3-2.3-.5z" class="b"/>
<path d="M70.8 102.2l 2.2-4.9 1.4 2.1-2.2 5z" class="cc"/>
<path d="M94.4 128.4l 2.2-5.1 1.4 5.8-2.2 5.1z" class="mb"/>
<path d="M178.2 121.9l 2.3 1.4 1.3-3.8-2.3-1.3z" class="x"/>
<path d="M169.1 104l 2.3 .8 1.4-3.8-2.4-.7z" class="dc"/>
<path d="M109.9 126.4l 2.3 7.2 1.3-4.6-2.3-7.3z" class="a"/>
<path d="M162.5 127.9l 2.4-3.6 1.4-5.4-2.5 3.8z" class="cb"/>
<path d="M55.1 98.8l 2.5 9.6 1.2-8.3-2.5-9.7z" class="ec"/>
<path d="M121.8 135.2l 2.3-3.5 1.4-7.3-2.4 3.6z" class="ib"/>
<path d="M49.2 77.7l 2.3 .2 1.3-6.5-2.3-.2z" class="jd"/>
<path d="M216.9 112.3l 2.8-8.4 1.5-7.7-2.8 8.4z" class="bc"/>
<path d="M173.7 109.8l 2.2 6.7 1.4-3.7-2.3-6.8z" class="zb"/>
<path d="M53.8 106.5l 2.5 9.5 1.3-7.6-2.5-9.6z" class="kc"/>
<path d="M86 115.5l 2.4 6.6 1.4 5.3-2.3-6.6z" class="d"/>
<path d="M88.4 122.1l 2.3 2.7 1.4 5.3-2.3-2.7z" class="lb"/>
<path d="M145.6 127.7l 2.3 3.7 1.2 7.3-2.3-3.8z" class="f"/>
<path d="M113.2 141.6l 2.3 5 1.3-.4-2.3-5.1z" class="hc"/>
<path d="M120.4 142.5l 2.4-3.6 1.3-7.2-2.3 3.5z" class="c"/>
<path d="M107.6 122.1l 2.3 4.3 1.3-4.7-2.3-4.4z" class="d"/>
<path d="M48 86.2l 2.3 .2 1.2-8.5-2.3-.2z" class="ad"/>
<path d="M126.8 120l 2.4-6.5 1.3 .1-2.4 6.4z" class="ic"/>
<path d="M143.4 120.8l 2.2 6.9 1.2 7.2-2.2-6.9z" class="a"/>
<path d="M171.4 104.8l 2.3 5 1.3-3.8-2.2-5z" class="ac"/>
<path d="M174.5 123.7l 2.2 5.4 1.5-7.2-2.3-5.4z" class="oc"/>
<path d="M46.8 93.9l 2.2 .3 1.3-7.8-2.3-.2z" class="pc"/>
<path d="M215.5 118.5l 2.7-8.4 1.5-6.2-2.8 8.4z" class="xb"/>
<path d="M130.5 113.6l 2.3-6.6 1.3 4.5-2.4 6.6z" class="u"/>
<path d="M53.9 82.3l 2.4 8.1 1.3-6.4-2.4-8.2z" class="bd"/>
<path d="M65.9 114l 2.2-3.3 1.3-6.2-2.2 3.3z" class="vc"/>
<path d="M52.5 111l 2.5 9.4 1.3-4.4-2.5-9.5z" class="u"/>
<path d="M173.1 131.5l 2.2 5.4 1.4-7.8-2.2-5.4z" class="ib"/>
<path d="M115.5 146.6l 2.3 .7 1.3-.3-2.3-.8z" class="p"/>
<path d="M176.7 129.1l 2.4 1.4 1.4-7.2-2.3-1.4z" class="lb"/>
<path d="M110.9 134.1l 2.3 7.5 1.3-.5-2.3-7.5z" class="c"/>
<path d="M56 128.9l 2.4 4.8 1.4-.1-2.4-4.9z" class="s"/>
<path d="M167.7 111.1l 2.3 .9 1.4-7.2-2.3-.8z" class="yb"/>
<path d="M83.6 107l 2.4 8.5 1.5 5.3-2.4-8.5z" class="z"/>
<path d="M51.5 77.9l 2.4 4.4 1.3-6.5-2.4-4.4z" class="ed"/>
<path d="M119.1 147l 2.3-3.5 1.4-4.6-2.4 3.6z" class="e"/>
<path d="M172.3 117l 2.2 6.7 1.4-7.2-2.2-6.7zM64.6 122.2l 2.2-3.2 1.3-8.3-2.2 3.3z" class="j"/>
<path d="M41.8 101.4l 2.2-2.6 1.4-.3-2.2 2.6z" class="ec"/>
<path d="M52.6 90.8l 2.5 8 1.2-8.4-2.4-8.1z" class="rc"/>
<path d="M175.3 136.9l 2.3 1.5 1.5-7.9-2.4-1.4z" class="f"/>
<path d="M63.4 129.7l 2.2-3.2 1.2-7.5-2.2 3.2z" class="cb"/>
<path d="M76.6 95.7l 2.3-.3 1.5 5.3-2.3 .2zM51.4 98.5l 2.4 8 1.3-7.7-2.5-8z" class="qc"/>
<path d="M147.9 131.4l 2.4-.9 1.2 7.2-2.4 1z" class="db"/>
<path d="M136.5 107.7l 2.3 .7 1.3 7.2-2.4-.7z" class="zb"/>
<path d="M103.9 122.7l 2.3-.1 1.4-.5-2.3 0z" class="d"/>
<path d="M45.4 98.5l 2.3 .2 1.3-4.5-2.2-.3z" class="fc"/>
<path d="M166.3 118.9l 2.3 .9 1.4-7.8-2.3-.9z" class="uc"/>
<path d="M195.6 103.1l 2.5-4.1 1 6.4-2.5 4.2z" class="bc"/>
<path d="M171.7 136.9l 2.2 5.4 1.4-5.4-2.2-5.4z" class="h"/>
<path d="M170.9 124.8l 2.2 6.7 1.4-7.8-2.2-6.7z" class="cb"/>
<path d="M141.1 113.4l 2.3 7.4 1.2 7.2-2.3-7.4z" class="x"/>
<path d="M50.3 86.4l 2.3 4.4 1.3-8.5-2.4-4.4z" class="yc"/>
<path d="M210.5 122.7l 2.6-5 1.1 2.9-2.6 5z" class="x"/>
<path d="M53.6 120.7l 2.4 8.2 1.4-.2-2.4-8.3z" class="cb"/>
<path d="M170 112l 2.3 5 1.4-7.2-2.3-5z" class="xb"/>
<path d="M49 94.2l 2.4 4.3 1.2-7.7-2.3-4.4z" class="jc"/>
<path d="M90.7 124.8l 2.3-1.7 1.4 5.3-2.3 1.7z" class="lb"/>
<path d="M173.9 142.3l 2.4 1.5 1.3-5.4-2.3-1.5z" class="i"/>
<path d="M58.4 133.7l 2.2 .5 1.4-.2-2.2-.4z" class="f"/>
<path d="M38.1 101.1l 2.2-3 1.5 3.3-2.2 3z" class="ec"/>
<path d="M157.5 131.9l 2.5-6.8 1.2 3.7-2.5 6.9z" class="ib"/>
<path d="M161.2 128.8l 2.4-3.6 1.3-.9-2.4 3.6z" class="lb"/>
<path d="M222.6 90.3l 2.8-8.8 1.2-1.1-2.8 8.8z" class="yc"/>
<path d="M180.5 123.3l 2.5-3.8 1.3-3.8-2.5 3.8z" class="y"/>
<path d="M108.6 126.9l 2.3 7.2 1.3-.5-2.3-7.2z" class="ib"/>
<path d="M168.6 119.8l 2.3 5 1.4-7.8-2.3-5z" class="y"/>
<path d="M62 134l 2.2-3.1 1.4-4.4-2.2 3.2z" class="ib"/>
<path d="M138.8 108.4l 2.3 5 1.2 7.2-2.2-5z" class="z"/>
<path d="M164.9 124.3l 2.3 .9 1.4-5.4-2.3-.9z" class="d"/>
<path d="M169.5 130.2l 2.2 6.7 1.4-5.4-2.2-6.7z" class="ib"/>
<path d="M50.1 103.1l 2.4 7.9 1.3-4.5-2.4-8z" class="tc"/>
<path d="M81.3 99.5l 2.3 7.5 1.5 5.3-2.4-7.5z" class="ac"/>
<path d="M226.6 80.4l 2.7-5.8 1 4.6-2.7 5.8z" class="od"/>
<path d="M214.2 120.6l 2.7-8.5 1.3-2-2.7 8.4z" class="z"/>
<path d="M106.2 122.6l 2.4 4.3 1.3-.5-2.3-4.3z" class="cb"/>
<path d="M78.9 95.4l 2.4 4.1 1.4 5.3-2.3-4.1z" class="ec"/>
<path d="M100.3 123.1l 2.3-4 1.3 3.6-2.2 4z" class="oc"/>
<path d="M47.7 98.7l 2.4 4.4 1.3-4.6-2.4-4.3z" class="qc"/>
<path d="M153.9 132.5l 2.5-7.5 1.1 6.9-2.5 7.5z" class="b"/>
<path d="M167.2 125.2l 2.3 5 1.4-5.4-2.3-5z" class="cb"/>
<path d="M69.4 104.5l 2.2-5 1.4-2.2-2.2 4.9z" class="ec"/>
<path d="M125.5 124.4l 2.3-6.4 1.4-4.5-2.4 6.5z" class="y"/>
<path d="M51.1 111.3l 2.5 9.4 1.4-.3-2.5-9.4z" class="uc"/>
<path d="M179.1 130.5l 2.4-3.6 1.5-7.4-2.5 3.8z" class="cb"/>
<path d="M73 97.3l 2.2-3.8 1.4 2.2-2.2 3.7z" class="fc"/>
<path d="M204.9 111.8l 2.3 4.3 .9 6.7-2.2-4.4z" class="j"/>
<path d="M184.3 115.7l 2.6-8.2 1.2 1-2.6 8.3z" class="zb"/>
<path d="M117.8 147.3l 2.3-3.5 1.3-.3-2.3 3.5z" class="jb"/>
<path d="M191.9 104l 2.7-8.5 1 7.6-2.7 8.5z" class="dc"/>
<path d="M177.6 138.4l 2.5-3.6 1.4-7.9-2.4 3.6z" class="s"/>
<path d="M170.4 137.9l 2.3 5.4 1.2-1-2.2-5.4z" class="pb"/>
<path d="M44 98.8l 2.3 .3 1.4-.4-2.3-.2z" class="qc"/>
<path d="M202.7 105.4l 2.2 6.4 1 6.6-2.2-6.4z" class="xb"/>
<path d="M198.1 99l 2.4 1.1 1 6.5-2.4-1.2z" class="cc"/>
<path d="M96.6 123.3l 2.3-6 1.4 5.8-2.3 6z" class="oc"/>
<path d="M124.1 131.7l 2.4-6.4 1.3-7.3-2.3 6.4z" class="cb"/>
<path d="M172.7 143.3l 2.3 1.6 1.3-1.1-2.4-1.5z" class="e"/>
<path d="M34.2 96.9l 2.3-.7 1.6 4.9-2.2 .6z" class="qc"/>
<path d="M188.1 108.5l 2.7-10 1.1 5.5-2.7 10.1z" class="tc"/>
<path d="M221.2 96.2l 2.8-8.9 1.4-5.8-2.8 8.8z" class="xc"/>
<path d="M176.3 143.8l 2.4-3.4 1.4-5.6-2.5 3.6z" class="c"/>
<path d="M122.8 138.9l 2.3-6.3 1.4-7.3-2.4 6.4z" class="s"/>
<path d="M207.2 116.1l 2.4-.1 .9 6.7-2.4 .1z" class="ic"/>
<path d="M111.8 137.9l 2.4 5 1.3 3.7-2.3-5z" class="l"/>
<path d="M168.2 131.2l 2.2 6.7 1.3-1-2.2-6.7z" class="f"/>
<path d="M163.6 125.2l 2.4 1 1.2-1-2.3-.9z" class="cb"/>
<path d="M200.5 100.1l 2.2 5.3 1 6.6-2.2-5.4zM68.1 110.7l 2.2-4.8 1.3-6.4-2.2 5z" class="tc"/>
<path d="M60.6 134.2l 2.2-3.2 1.4-.1-2.2 3.1z" class="s"/>
<path d="M150.3 130.5l 2.4-5.2 1.2 7.2-2.4 5.2z" class="ib"/>
<path d="M48.6 103.4l 2.5 7.9 1.4-.3-2.4-7.9z" class="ac"/>
<path d="M132.8 107l 2.4-3.8 1.3 4.5-2.4 3.8z" class="kc"/>
<path d="M84.6 113.3l 2.4 6.6 1.4 2.2-2.4-6.6z" class="j"/>
<path d="M66.8 119l 2.2-4.8 1.3-8.3-2.2 4.8z" class="zb"/>
<path d="M54.5 125.5l 2.4 4.9 1.5 3.3-2.4-4.8z" class="a"/>
<path d="M166 126.2l 2.2 5 1.3-1-2.3-5z" class="lb"/>
<path d="M46.3 99.1l 2.3 4.3 1.5-.3-2.4-4.4z" class="ec"/>
<path d="M129.2 113.5l 2.3-6.5 1.3 0-2.3 6.6z" class="vc"/>
<path d="M87 119.9l 2.3 2.7 1.4 2.2-2.3-2.7z" class="x"/>
<path d="M65.6 126.5l 2.1-4.8 1.3-7.5-2.2 4.8z" class="y"/>
<path d="M219.7 103.9l 2.8-8.9 1.5-7.7-2.8 8.9z" class="lc"/>
<path d="M109.5 130.5l 2.3 7.4 1.4 3.7-2.3-7.5z" class="db"/>
<path d="M114.2 142.9l 2.3 .8 1.3 3.6-2.3-.7z" class="hc"/>
<path d="M40.3 98.1l 2.1-2.6 1.6 3.3-2.2 2.6z" class="gd"/>
<path d="M121.4 143.5l 2.4-6.3 1.3-4.6-2.3 6.3z" class="h"/>
<path d="M93 123.1l 2.2-5.1 1.4 5.3-2.2 5.1z" class="d"/>
<path d="M102.6 119.1l 2.3 0 1.3 3.5-2.3 .1z" class="fb"/>
<path d="M52.1 117.3l 2.4 8.2 1.5 3.4-2.4-8.2z" class="d"/>
<path d="M218.2 110.1l 2.8-8.9 1.5-6.2-2.8 8.9z" class="ec"/>
<path d="M64.2 130.9l 2.2-4.8 1.3-4.4-2.1 4.8z" class="cb"/>
<path d="M56.9 130.4l 2.2 .4 1.5 3.4-2.2-.5z" class="ib"/>
<path d="M82.2 104.8l 2.4 8.5 1.4 2.2-2.4-8.5z" class="vc"/>
<path d="M160 125.1l 2.4-3.6 1.2 3.7-2.4 3.6z" class="oc"/>
<path d="M144.4 123.1l 2.3 3.7 1.2 4.6-2.3-3.7z" class="bb"/>
<path d="M75.2 93.5l 2.3-.3 1.4 2.2-2.3 .3z" class="lc"/>
<path d="M213.1 117.7l 2.8-8.5 1 2.9-2.7 8.5z" class="u"/>
<path d="M107.2 123.3l 2.3 7.2 1.4 3.6-2.3-7.2z" class="a"/>
<path d="M175 144.9l 2.5-3.3 1.2-1.2-2.4 3.4z" class="i"/>
<path d="M183 119.5l 2.6-8 1.3-4-2.6 8.2z" class="zb"/>
<path d="M142.1 116.2l 2.3 6.9 1.2 4.6-2.2-6.9z" class="x"/>
<path d="M225.4 81.5l 2.7-5.9 1.2-1-2.7 5.8z" class="dd"/>
<path d="M104.9 119.1l 2.3 4.2 1.4 3.6-2.4-4.3z" class="d"/>
<path d="M71.6 99.5l 2.2-3.7 1.4-2.3-2.2 3.8z" class="fc"/>
<path d="M89.3 122.6l 2.3-1.8 1.4 2.3-2.3 1.7z" class="x"/>
<path d="M36.5 96.2l 2.2-2.9 1.6 4.8-2.2 3z" class="fc"/>
<path d="M209.6 116l 2.6-5 .9 6.7-2.6 5z" class="z"/>
<path d="M79.8 97.3l 2.4 7.5 1.4 2.2-2.3-7.5z" class="ec"/>
<path d="M49.6 107.9l 2.5 9.4 1.5 3.4-2.5-9.4z" class="u"/>
<path d="M135.2 103.2l 2.4 .6 1.2 4.6-2.3-.7z" class="tc"/>
<path d="M146.7 126.8l 2.4-1 1.2 4.7-2.4 .9z" class="lb"/>
<path d="M77.5 93.2l 2.3 4.1 1.5 2.2-2.4-4.1z" class="sc"/>
<path d="M139.9 108.8l 2.2 7.4 1.3 4.6-2.3-7.4z" class="u"/>
<path d="M181.5 126.9l 2.6-7.9 1.5-7.5-2.6 8z" class="ic"/>
<path d="M127.8 118l 2.4-6.5 1.3-4.5-2.3 6.5z" class="xb"/>
<path d="M120.1 143.8l 2.3-6.3 1.4-.3-2.4 6.3z" class="pb"/>
<path d="M116.5 143.7l 2.3-3.6 1.3 3.7-2.3 3.5z" class="l"/>
<path d="M156.4 125l 2.4-6.8 1.2 6.9-2.5 6.8z" class="oc"/>
<path d="M42.4 95.5l 2.3 .3 1.6 3.3-2.3-.3z" class="fc"/>
<path d="M169.3 134.3l 2.2 5.4 1.2 3.6-2.3-5.4z" class="h"/>
<path d="M216.9 112.1l 2.8-8.9 1.3-2-2.8 8.9z" class="bc"/>
<path d="M180.1 134.8l 2.6-7.6 1.4-8.2-2.6 7.9z" class="cb"/>
<path d="M194.6 95.5l 2.5-4.1 1 7.6-2.5 4.1z" class="fc"/>
<path d="M98.9 117.3l 2.3-4 1.4 5.8-2.3 4z" class="j"/>
<path d="M137.6 103.8l 2.3 5 1.2 4.6-2.3-5z" class="kc"/>
<path d="M171.5 139.7l 2.3 1.6 1.2 3.6-2.3-1.6z" class="i"/>
<path d="M70.3 105.9l 2.2-3.8 1.3-6.3-2.2 3.7z" class="gc"/>
<path d="M83.3 115.5l 2.3 6.5 1.4-2.1-2.4-6.6z" class="j"/>
<path d="M62.8 131l 2.2-4.7 1.4-.2-2.2 4.8z" class="lb"/>
<path d="M178.7 140.4l 2.6-7.5 1.4-5.7-2.6 7.6z" class="s"/>
<path d="M85.6 122l 2.3 2.7 1.4-2.1-2.3-2.7z" class="x"/>
<path d="M167 127.6l 2.3 6.7 1.1 3.6-2.2-6.7z" class="ib"/>
<path d="M162.4 121.5l 2.4 1 1.2 3.7-2.4-1z" class="d"/>
<path d="M126.5 125.3l 2.3-6.5 1.4-7.3-2.4 6.5z" class="j"/>
<path d="M47.1 100.1l 2.5 7.8 1.5 3.4-2.5-7.9z" class="bc"/>
<path d="M59.1 130.8l 2.2-3.1 1.5 3.3-2.2 3.2z" class="mb"/>
<path d="M224 87.3l 2.7-6 1.4-5.7-2.7 5.9z" class="cd"/>
<path d="M69 114.2l 2.2-3.7 1.3-8.4-2.2 3.8z" class="ac"/>
<path d="M67.7 121.7l 2.3-3.6 1.2-7.6-2.2 3.7z" class="z"/>
<path d="M186.9 107.5l 2.7-9.9 1.2 .9-2.7 10z" class="ec"/>
<path d="M44.7 95.8l 2.4 4.3 1.5 3.3-2.3-4.3z" class="gd"/>
<path d="M125.1 132.6l 2.4-6.5 1.3-7.3-2.3 6.5z" class="oc"/>
<path d="M32.7 93.2l 2.2-.7 1.6 3.7-2.3 .7z" class="jc"/>
<path d="M131.5 107l 2.4-3.9 1.3 .1-2.4 3.8z" class="bc"/>
<path d="M164.8 122.5l 2.2 5.1 1.2 3.6-2.2-5z" class="cb"/>
<path d="M152.7 125.3l 2.5-7.5 1.2 7.2-2.5 7.5z" class="oc"/>
<path d="M80.9 107.1l 2.4 8.4 1.3-2.2-2.4-8.5z" class="yb"/>
<path d="M73.8 95.8l 2.3-.3 1.4-2.3-2.3 .3z" class="jc"/>
<path d="M190.8 98.5l 2.7-8.4 1.1 5.4-2.7 8.5z" class="sc"/>
<path d="M95.2 118l 2.3-6 1.4 5.3-2.3 6z" class="uc"/>
<path d="M222.5 95l 2.7-6 1.5-7.7-2.7 6z" class="hd"/>
<path d="M66.4 126.1l 2.2-3.6 1.4-4.4-2.3 3.6z" class="fb"/>
<path d="M110.5 132l 2.3 5 1.4 5.9-2.4-5z" class="db"/>
<path d="M204 104.1l 2.2 4.3 1 7.7-2.3-4.3z" class="kc"/>
<path d="M123.8 137.2l 2.3-6.5 1.4-4.6-2.4 6.5z" class="mb"/>
<path d="M81.9 121.7l 2.4 6.5 1.3-6.2-2.3-6.5z" class="fb"/>
<path d="M38.7 93.3l 2.2-2.6 1.5 4.8-2.1 2.6z" class="jc"/>
<path d="M53 120.7l 2.3 4.8 1.6 4.9-2.4-4.9z" class="d"/>
<path d="M84.3 128.2l 2.3 2.7 1.3-6.2-2.3-2.7z" class="cb"/>
<path d="M197.1 91.4l 2.4 1.1 1 7.6-2.4-1.1z" class="lc"/>
<path d="M201.8 97.7l 2.2 6.4 .9 7.7-2.2-6.4z" class="cc"/>
<path d="M87.9 124.7l 2.3-1.7 1.4-2.2-2.3 1.8z" class="fb"/>
<path d="M91.6 120.8l 2.2-5.1 1.4 2.3-2.2 5.1z" class="ic"/>
<path d="M173.8 141.3l 2.5-3.3 1.2 3.6-2.5 3.3z" class="c"/>
<path d="M80.7 129.8l 2.3 6.5 1.3-8.1-2.4-6.5z" class="lb"/>
<path d="M177.5 141.6l 2.5-7.4 1.3-1.3-2.6 7.5z" class="db"/>
<path d="M79.4 137.3l 2.3 6.4 1.3-7.4-2.3-6.5z" class="f"/>
<path d="M83 136.3l 2.3 2.7 1.3-8.1-2.3-2.7z" class="s"/>
<path d="M108.2 124.6l 2.3 7.4 1.3 5.9-2.3-7.4z" class="mb"/>
<path d="M78.5 99.6l 2.4 7.5 1.3-2.3-2.4-7.5z" class="ec"/>
<path d="M221 101.2l 2.7-6.1 1.5-6.1-2.7 6z" class="jc"/>
<path d="M81.7 143.7l 2.3 2.6 1.3-7.3-2.3-2.7z" class="c"/>
<path d="M143.1 122.8l 2.3 3.7 1.3 .3-2.3-3.7z" class="d"/>
<path d="M112.8 137l 2.3 .7 1.4 6-2.3-.8z" class="c"/>
<path d="M149.1 125.8l 2.4-5.2 1.2 4.7-2.4 5.2z" class="oc"/>
<path d="M50.5 112.4l 2.5 8.3 1.5 4.8-2.4-8.2z" class="j"/>
<path d="M199.5 92.5l 2.3 5.2 .9 7.7-2.2-5.3z" class="fc"/>
<path d="M76.1 95.5l 2.4 4.1 1.3-2.3-2.3-4.1z" class="sc"/>
<path d="M206.2 108.4l 2.5-.1 .9 7.7-2.4 .1z" class="vc"/>
<path d="M101.2 113.3l 2.3-.1 1.4 5.9-2.3 0z" class="z"/>
<path d="M140.8 116l 2.3 6.8 1.3 .3-2.3-6.9z" class="ic"/>
<path d="M79.6 113.3l 2.3 8.4 1.4-6.2-2.4-8.4z" class="zb"/>
<path d="M55.3 125.5l 2.3 .4 1.5 4.9-2.2-.4z" class="bb"/>
<path d="M72.5 102.1l 2.3-.2 1.3-6.4-2.3 .3z" class="gd"/>
<path d="M78 141.6l 2.4 6.4 1.3-4.3-2.3-6.4z" class="pb"/>
<path d="M80.4 148l 2.3 2.6 1.3-4.3-2.3-2.6z" class="hc"/>
<path d="M78.3 121.6l 2.4 8.2 1.2-8.1-2.3-8.4z" class="y"/>
<path d="M215.9 109.2l 2.8-8.9 1 2.9-2.8 8.9z" class="dc"/>
<path d="M77 129.1l 2.4 8.2 1.3-7.5-2.4-8.2z" class="lb"/>
<path d="M71.2 110.5l 2.3-.2 1.3-8.4-2.3 .2z" class="bc"/>
<path d="M130.2 111.5l 2.4-3.8 1.3-4.6-2.4 3.9z" class="tc"/>
<path d="M105.8 117.5l 2.4 7.1 1.3 5.9-2.3-7.2z" class="x"/>
<path d="M133.9 103.1l 2.4 .7 1.3 0-2.4-.6z" class="cc"/>
<path d="M212.2 111l 2.7-8.5 1 6.7-2.8 8.5z" class="ac"/>
<path d="M70 118.1l 2.2-.2 1.3-7.6-2.3 .2z" class="zb"/>
<path d="M158.8 118.2l 2.5-3.6 1.1 6.9-2.4 3.6z" class="j"/>
<path d="M185.6 111.5l 2.7-9.7 1.3-4.2-2.7 9.9z" class="cc"/>
<path d="M118.8 140.1l 2.3-6.3 1.3 3.7-2.3 6.3z" class="v"/>
<path d="M34.9 92.5l 2.2-2.9 1.6 3.7-2.2 2.9z" class="pc"/>
<path d="M138.6 108.7l 2.2 7.3 1.3 .2-2.2-7.4z" class="vc"/>
<path d="M145.4 126.5l 2.4-.9 1.3 .2-2.4 1z" class="oc"/>
<path d="M86.6 130.9l 2.3-1.8 1.3-6.1-2.3 1.7z" class="cb"/>
<path d="M103.5 113.2l 2.3 4.3 1.4 5.8-2.3-4.2z" class="uc"/>
<path d="M65 126.3l 2.2-3.6 1.4-.2-2.2 3.6z" class="x"/>
<path d="M77.2 106l 2.4 7.3 1.3-6.2-2.4-7.5z" class="bc"/>
<path d="M48 103.1l 2.5 9.3 1.6 4.9-2.5-9.4z" class="kc"/>
<path d="M122.4 137.5l 2.4-6.4 1.3-.4-2.3 6.5zM85.3 139l 2.3-1.7 1.3-8.2-2.3 1.8z" class="s"/>
<path d="M61.3 127.7l 2.2-4.8 1.5 3.4-2.2 4.7z" class="oc"/>
<path d="M84 146.3l 2.3-1.6 1.3-7.4-2.3 1.7z" class="c"/>
<path d="M75.6 133.5l 2.4 8.1 1.4-4.3-2.4-8.2z" class="b"/>
<path d="M136.3 103.8l 2.3 4.9 1.3 .1-2.3-5z" class="bc"/>
<path d="M74.8 101.9l 2.4 4.1 1.3-6.4-2.4-4.1z" class="qc"/>
<path d="M219.7 103.2l 2.7-6 1.3-2.1-2.7 6.1z" class="fc"/>
<path d="M75.9 114.3l 2.4 7.3 1.3-8.3-2.4-7.3z" class="xb"/>
<path d="M68.6 122.5l 2.3-.2 1.3-4.4-2.2 .2z" class="j"/>
<path d="M128.8 118.8l 2.4-3.8 1.4-7.3-2.4 3.8z" class="xb"/>
<path d="M40.9 90.7l 2.2 .2 1.6 4.9-2.3-.3z" class="pc"/>
<path d="M74.6 121.9l 2.4 7.2 1.3-7.5-2.4-7.3z" class="y"/>
<path d="M73.5 110.3l 2.4 4 1.3-8.3-2.4-4.1z" class="tc"/>
<path d="M184.1 119l 2.7-9.5 1.5-7.7-2.7 9.7z" class="kc"/>
<path d="M72.2 117.9l 2.4 4 1.3-7.6-2.4-4z" class="u"/>
<path d="M127.5 126.1l 2.3-3.8 1.4-7.3-2.4 3.8z" class="ic"/>
<path d="M31.2 92.9l 2.2-.6 1.5 .2-2.2 .7z" class="wc"/>
<path d="M182.7 127.2l 2.6-9.3 1.5-8.4-2.7 9.5z" class="uc"/>
<path d="M115.1 137.7l 2.4-3.6 1.3 6-2.3 3.6z" class="v"/>
<path d="M141.8 127.1l 2.3 3.7 1.3-4.3-2.3-3.7z" class="oc"/>
<path d="M82.7 150.6l 2.3-1.6 1.3-4.3-2.3 1.6z" class="hc"/>
<path d="M168.2 127.5l 2.2 5.4 1.1 6.8-2.2-5.4z" class="ib"/>
<path d="M139.5 120.4l 2.3 6.7 1.3-4.3-2.3-6.8z" class="y"/>
<path d="M45.5 95.2l 2.5 7.9 1.6 4.8-2.5-7.8z" class="qc"/>
<path d="M208.7 108.3l 2.6-5 .9 7.7-2.6 5z" class="ac"/>
<path d="M73.2 126.3l 2.4 7.2 1.4-4.4-2.4-7.2z" class="cb"/>
<path d="M97.5 112l 2.3-4 1.4 5.3-2.3 4z" class="vc"/>
<path d="M90.2 123l 2.3-5.1 1.3-2.2-2.2 5.1z" class="j"/>
<path d="M57.6 125.9l 2.2-3.2 1.5 5-2.2 3.1z" class="oc"/>
<path d="M76.6 141.8l 2.4 6.3 1.4-.1-2.4-6.4z" class="l"/>
<path d="M181.3 132.9l 2.6-9.1 1.4-5.9-2.6 9.3z" class="d"/>
<path d="M170.4 132.9l 2.4 1.7 1 6.7-2.3-1.6z" class="f"/>
<path d="M43.1 90.9l 2.4 4.3 1.6 4.9-2.4-4.3z" class="jc"/>
<path d="M79 148.1l 2.3 2.6 1.4-.1-2.3-2.6z" class="jb"/>
<path d="M193.5 90.1l 2.6-4.1 1 5.4-2.5 4.1z" class="xc"/>
<path d="M70.9 122.3l 2.3 4 1.4-4.4-2.4-4z" class="y"/>
<path d="M126.1 130.7l 2.4-3.8 1.3-4.6-2.3 3.8z" class="oc"/>
<path d="M155.2 117.8l 2.5-6.9 1.1 7.3-2.4 6.8z" class="z"/>
<path d="M161.3 114.6l 2.3 1.1 1.2 6.8-2.4-1z" class="uc"/>
<path d="M165.9 120.7l 2.3 6.8 1.1 6.8-2.3-6.7z" class="oc"/>
<path d="M132.6 107.7l 2.3 .5 1.4-4.4-2.4-.7z" class="dc"/>
<path d="M140.4 134.2l 2.3 3.6 1.4-7-2.3-3.7z" class="mb"/>
<path d="M189.6 97.6l 2.7-8.3 1.2 .8-2.7 8.4z" class="pc"/>
<path d="M176.3 138l 2.6-7.2 1.1 3.4-2.5 7.4z" class="b"/>
<path d="M137.2 113.1l 2.3 7.3 1.3-4.4-2.2-7.3z" class="xb"/>
<path d="M138.1 127.5l 2.3 6.7 1.4-7.1-2.3-6.7z" class="oc"/>
<path d="M144.1 130.8l 2.3-1 1.4-4.2-2.4 .9z" class="cb"/>
<path d="M93.8 115.7l 2.3-5.9 1.4 2.2-2.3 6z" class="xb"/>
<path d="M163.6 115.7l 2.3 5 1.1 6.9-2.2-5.1z" class="ic"/>
<path d="M139 141.3l 2.3 3.5 1.4-7-2.3-3.6z" class="v"/>
<path d="M74.2 133.7l 2.4 8.1 1.4-.2-2.4-8.1z" class="f"/>
<path d="M136.7 134.7l 2.3 6.6 1.4-7.1-2.3-6.7z" class="ib"/>
<path d="M134.9 108.2l 2.3 4.9 1.4-4.4-2.3-4.9z" class="tc"/>
<path d="M67.2 122.7l 2.3-.2 1.4-.2-2.3 .2z" class="y"/>
<path d="M37.1 89.6l 2.2-2.6 1.6 3.7-2.2 2.6z" class="zc"/>
<path d="M147.8 125.6l 2.4-5.2 1.3 .2-2.4 5.2z" class="fb"/>
<path d="M151.5 120.6l 2.5-7.5 1.2 4.7-2.5 7.5z" class="uc"/>
<path d="M131.2 115l 2.3 .6 1.4-7.4-2.3-.5z" class="yb"/>
<path d="M51.4 116.9l 2.4 4.8 1.5 3.8-2.3-4.8z" class="j"/>
<path d="M88.9 129.1l 2.3-5 1.3-6.2-2.3 5.1z" class="fb"/>
<path d="M135.8 120.3l 2.3 7.2 1.4-7.1-2.3-7.3z" class="j"/>
<path d="M142.7 137.8l 2.4-1 1.3-7-2.3 1z" class="ib"/>
<path d="M29.8 97l 2.3-.6 1.3-4.1-2.2 .6z" class="pc"/>
<path d="M129.8 122.3l 2.4 .6 1.3-7.3-2.3-.6z" class="uc"/>
<path d="M81.3 150.7l 2.3-1.6 1.4-.1-2.3 1.6z" class="jb"/>
<path d="M109.1 126.6l 2.4 5 1.3 5.4-2.3-5z" class="a"/>
<path d="M137.7 145.7l 2.3 3.4 1.3-4.3-2.3-3.5z" class="i"/>
<path d="M87.6 137.3l 2.3-5 1.3-8.2-2.3 5z" class="lb"/>
<path d="M180 134.2l 2.7-9 1.2-1.4-2.6 9.1z" class="cb"/>
<path d="M49 108.7l 2.4 8.2 1.6 3.8-2.5-8.3z" class="xb"/>
<path d="M86.3 144.7l 2.2-4.9 1.4-7.5-2.3 5z" class="db"/>
<path d="M33.4 92.3l 2.2-2.9 1.5 .2-2.2 2.9z" class="zc"/>
<path d="M134.5 127.6l 2.2 7.1 1.4-7.2-2.3-7.2z" class="oc"/>
<path d="M135.4 139.1l 2.3 6.6 1.3-4.4-2.3-6.6z" class="v"/>
<path d="M172.8 134.6l 2.4-3.2 1.1 6.6-2.5 3.3z" class="s"/>
<path d="M202.9 98.6l 2.3 4.3 1 5.5-2.2-4.3z" class="gc"/>
<path d="M71.8 126.5l 2.4 7.2 1.4-.2-2.4-7.2z" class="bb"/>
<path d="M133.5 115.6l 2.3 4.7 1.4-7.2-2.3-4.9z" class="xb"/>
<path d="M141.3 144.8l 2.4-.9 1.4-7.1-2.4 1z" class="h"/>
<path d="M218.7 100.3l 2.7-6 1 2.9-2.7 6z" class="lc"/>
<path d="M63.5 122.9l 2.2-3.5 1.5 3.3-2.2 3.6z" class="y"/>
<path d="M196.1 86l 2.4 1.1 1 5.4-2.4-1.1z" class="hd"/>
<path d="M53.8 121.7l 2.3 .5 1.5 3.7-2.3-.4z" class="y"/>
<path d="M69.5 122.5l 2.3 4 1.4-.2-2.3-4z" class="fb"/>
<path d="M106.8 119.2l 2.3 7.4 1.4 5.4-2.3-7.4z" class="x"/>
<path d="M200.7 92.3l 2.2 6.3 1.1 5.5-2.2-6.4z" class="lc"/>
<path d="M124.8 131.1l 2.3-3.8 1.4-.4-2.4 3.8z" class="cb"/>
<path d="M121.1 133.8l 2.4-6.5 1.3 3.8-2.4 6.4z" class="a"/>
<path d="M111.5 131.6l 2.3 .7 1.3 5.4-2.3-.7z" class="ib"/>
<path d="M132.2 122.9l 2.3 4.7 1.3-7.3-2.3-4.7z" class="ic"/>
<path d="M99.8 108l 2.3-.1 1.4 5.3-2.3 .1z" class="ac"/>
<path d="M128.5 126.9l 2.3 .5 1.4-4.5-2.4-.6z" class="x"/>
<path d="M28.6 104.4l 2.2-.5 1.3-7.5-2.3 .6z" class="fc"/>
<path d="M85 149l 2.2-4.9 1.3-4.3-2.2 4.9z" class="pb"/>
<path d="M27.4 113.2l 2.2-.6 1.2-8.7-2.2 .5z" class="bc"/>
<path d="M198.5 87.1l 2.2 5.2 1.1 5.4-2.3-5.2z" class="xc"/>
<path d="M26.2 120.5l 2.2-.6 1.2-7.3-2.2 .6z" class="zb"/>
<path d="M214.9 102.5l 2.8-8.8 1 6.6-2.8 8.9z" class="gd"/>
<path d="M133.1 132.1l 2.3 7 1.3-4.4-2.2-7.1z" class="mb"/>
<path d="M205.2 102.9l 2.4-.1 1.1 5.5-2.5 .1z" class="ec"/>
<path d="M140 149.1l 2.3-.9 1.4-4.3-2.4 .9z" class="l"/>
<path d="M188.3 101.8l 2.6-8.2 1.4-4.3-2.7 8.3z" class="rc"/>
<path d="M46.5 99.4l 2.5 9.3 1.5 3.7-2.5-9.3z" class="cc"/>
<path d="M117.5 134.1l 2.3-6.3 1.3 6-2.3 6.3z" class="mb"/>
<path d="M104.5 112.1l 2.3 7.1 1.4 5.4-2.4-7.1z" class="z"/>
<path d="M59.8 122.7l 2.2-4.7 1.5 4.9-2.2 4.8z" class="ic"/>
<path d="M130.8 127.4l 2.3 4.7 1.4-4.5-2.3-4.7z" class="oc"/>
<path d="M39.3 87l 2.3 .3 1.5 3.6-2.2-.2z" class="yc"/>
<path d="M102.1 107.9l 2.4 4.2 1.3 5.4-2.3-4.3z" class="yb"/>
<path d="M146.4 129.8l 2.5-5.2 1.3-4.2-2.4 5.2z" class="x"/>
<path d="M24.8 124.4l 2.3-.5 1.3-4-2.2 .6z" class="j"/>
<path d="M75.2 138.4l 2.4 6.3 1.4 3.4-2.4-6.3z" class="c"/>
<path d="M77.6 144.7l 2.3 2.6 1.4 3.4-2.3-2.6z" class="e"/>
<path d="M92.5 117.9l 2.3-5.9 1.3-2.2-2.3 5.9z" class="vc"/>
<path d="M211.3 103.3l 2.7-8.4 .9 7.6-2.7 8.5z" class="qc"/>
<path d="M157.7 110.9l 2.4-3.5 1.2 7.2-2.5 3.6z" class="yb"/>
<path d="M136.4 145.8l 2.3 3.5 1.3-.2-2.3-3.4z" class="e"/>
<path d="M186.8 109.5l 2.7-7.9 1.4-8-2.6 8.2z" class="gd"/>
<path d="M134.1 139.3l 2.3 6.5 1.3-.1-2.3-6.6z" class="h"/>
<path d="M32.1 96.4l 2.2-2.9 1.3-4.1-2.2 2.9z" class="xc"/>
<path d="M185.3 117.9l 2.7-7.8 1.5-8.5-2.7 7.9z" class="tc"/>
<path d="M192.3 89.3l 2.5-4.1 1.3 .8-2.6 4.1z" class="bd"/>
<path d="M44 91.6l 2.5 7.8 1.5 3.7-2.5-7.9z" class="jc"/>
<path d="M96.1 109.8l 2.3-4.1 1.4 2.3-2.3 4z" class="bc"/>
<path d="M41.6 87.3l 2.4 4.3 1.5 3.6-2.4-4.3z" class="zc"/>
<path d="M145.1 136.8l 2.4-5.1 1.4-7.1-2.5 5.2z" class="bb"/>
<path d="M56.1 122.2l 2.2-3.2 1.5 3.7-2.2 3.2z" class="ic"/>
<path d="M72.8 130.3l 2.4 8.1 1.4 3.4-2.4-8.1z" class="s"/>
<path d="M65.7 119.4l 2.3-.2 1.5 3.3-2.3 .2z" class="uc"/>
<path d="M113.8 132.3l 2.3-3.6 1.4 5.4-2.4 3.6z" class="a"/>
<path d="M127.1 127.3l 2.4 .4 1.3-.3-2.3-.5z" class="d"/>
<path d="M183.9 123.8l 2.6-7.6 1.5-6.1-2.7 7.8z" class="zb"/>
<path d="M35.6 89.4l 2.2-2.6 1.5 .2-2.2 2.6z" class="bd"/>
<path d="M83.6 149.1l 2.2-4.8 1.4-.2-2.2 4.9z" class="l"/>
<path d="M143.7 143.9l 2.4-5.2 1.4-7-2.4 5.1z" class="b"/>
<path d="M131.8 132.4l 2.3 6.9 1.3-.2-2.3-7z" class="ib"/>
<path d="M50 116.6l 2.4 4.7 1.4 .4-2.4-4.8z" class="z"/>
<path d="M30.8 103.9l 2.2-2.9 1.3-7.5-2.2 2.9z" class="lc"/>
<path d="M29.6 112.6l 2.2-2.8 1.2-8.8-2.2 2.9z" class="cc"/>
<path d="M138.7 149.3l 2.3-1 1.3-.1-2.3 .9z" class="e"/>
<path d="M150.2 120.4l 2.5-7.5 1.3 .2-2.5 7.5z" class="zb"/>
<path d="M91.2 124.1l 2.2-5.8 1.4-6.3-2.3 5.9z" class="u"/>
<path d="M28.4 119.9l 2.2-2.7 1.2-7.4-2.2 2.8z" class="vc"/>
<path d="M178.9 130.8l 2.6-8.9 1.2 3.3-2.7 9z" class="d"/>
<path d="M207.6 102.8l 2.7-5 1 5.5-2.6 5z" class="gd"/>
<path d="M79.9 147.3l 2.3-1.6 1.4 3.4-2.3 1.6z" class="e"/>
<path d="M167 120.3l 2.3 5.5 1.1 7.1-2.2-5.4z" class="x"/>
<path d="M129.5 127.7l 2.3 4.7 1.3-.3-2.3-4.7z" class="cb"/>
<path d="M154 113.1l 2.5-6.9 1.2 4.7-2.5 6.9zM47.5 108.4l 2.5 8.2 1.4 .3-2.4-8.2z" class="kc"/>
<path d="M89.9 132.3l 2.2-5.8 1.3-8.2-2.2 5.8z" class="fb"/>
<path d="M70.4 123.1l 2.4 7.2 1.4 3.4-2.4-7.2z" class="oc"/>
<path d="M175.2 131.4l 2.6-7.2 1.1 6.6-2.6 7.2z" class="bb"/>
<path d="M88.5 139.8l 2.3-5.8 1.3-7.5-2.2 5.8z" class="a"/>
<path d="M169.3 125.8l 2.4 1.7 1.1 7.1-2.4-1.7z" class="cb"/>
<path d="M68 119.2l 2.4 3.9 1.4 3.4-2.3-4zM23.3 124.4l 2.3-.5 1.5 0-2.3 .5z" class="ic"/>
<path d="M142.3 148.2l 2.4-5.1 1.4-4.4-2.4 5.2z" class="c"/>
<path d="M52.4 121.3l 2.3 .5 1.4 .4-2.3-.5z" class="j"/>
<path d="M160.1 107.4l 2.4 1 1.1 7.3-2.3-1.1z" class="ac"/>
<path d="M164.8 113.5l 2.2 6.8 1.2 7.2-2.3-6.8z" class="uc"/>
<path d="M123.5 127.3l 2.3-3.8 1.3 3.8-2.3 3.8z" class="d"/>
<path d="M27.1 123.9l 2.1-2.8 1.4-3.9-2.2 2.7z" class="z"/>
<path d="M107.8 124.3l 2.3 4.9 1.4 2.4-2.4-5z" class="d"/>
<path d="M201.7 97.8l 2.3 4.2 1.2 .9-2.3-4.3z" class="sc"/>
<path d="M194.8 85.2l 2.4 1.2 1.3 .7-2.4-1.1z" class="fd"/>
<path d="M87.2 144.1l 2.3-5.7 1.3-4.4-2.3 5.8z" class="f"/>
<path d="M182.7 125.2l 2.6-7.5 1.2-1.5-2.6 7.6z" class="uc"/>
<path d="M199.5 91.5l 2.2 6.3 1.2 .8-2.2-6.3z" class="wc"/>
<path d="M162.5 108.4l 2.3 5.1 1.1 7.2-2.3-5z" class="vc"/>
<path d="M62 118l 2.2-3.5 1.5 4.9-2.2 3.5z" class="u"/>
<path d="M105.4 116.9l 2.4 7.4 1.3 2.3-2.3-7.4z" class="j"/>
<path d="M190.9 93.6l 2.6-3.9 1.3-4.5-2.5 4.1z" class="yc"/>
<path d="M45 99.1l 2.5 9.3 1.5 .3-2.5-9.3z" class="qc"/>
<path d="M98.4 105.7l 2.3-.1 1.4 2.3-2.3 .1z" class="cc"/>
<path d="M197.2 86.4l 2.3 5.1 1.2 .8-2.2-5.2z" class="yc"/>
<path d="M217.7 93.7l 2.7-6.1 1 6.7-2.7 6z" class="xc"/>
<path d="M110.1 129.2l 2.4 .8 1.3 2.3-2.3-.7z" class="bb"/>
<path d="M37.8 86.8l 2.3 .3 1.5 .2-2.3-.3z" class="fd"/>
<path d="M34.3 93.5l 2.2-2.6 1.3-4.1-2.2 2.6z" class="yc"/>
<path d="M204 102l 2.5-.1 1.1 .9-2.4 .1z" class="gd"/>
<path d="M119.8 127.8l 2.4-6.5 1.3 6-2.4 6.5z" class="d"/>
<path d="M94.8 112l 2.3-4 1.3-2.3-2.3 4.1z" class="bc"/>
<path d="M48.6 120.4l 2.4 4.8 1.4-3.9-2.4-4.7z" class="z"/>
<path d="M148.9 124.6l 2.4-7.4 1.4-4.3-2.5 7.5z" class="u"/>
<path d="M103.1 109.8l 2.3 7.1 1.4 2.3-2.3-7.1z" class="yb"/>
<path d="M171.7 127.5l 2.4-3.2 1.1 7.1-2.4 3.2z" class="oc"/>
<path d="M189.5 101.6l 2.5-3.9 1.5-8-2.6 3.9z" class="pc"/>
<path d="M135.1 141.9l 2.3 3.4 1.3 4-2.3-3.5z" class="pb"/>
<path d="M46.2 112.4l 2.4 8 1.4-3.8-2.5-8.2z" class="yb"/>
<path d="M100.7 105.6l 2.4 4.2 1.4 2.3-2.4-4.2z" class="dc"/>
<path d="M58.3 119l 2.2-4.7 1.5 3.7-2.2 4.7z" class="zb"/>
<path d="M42.5 91.3l 2.5 7.8 1.5 .3-2.5-7.8z" class="wc"/>
<path d="M188 110.1l 2.5-3.8 1.5-8.6-2.5 3.9z" class="qc"/>
<path d="M33 101l 2.2-2.5 1.3-7.6-2.2 2.6z" class="pc"/>
<path d="M132.8 135.5l 2.3 6.4 1.3 3.9-2.3-6.5z" class="db"/>
<path d="M31.8 109.8l 2.2-2.5 1.2-8.8-2.2 2.5z" class="qc"/>
<path d="M30.6 117.2l 2.1-2.5 1.3-7.4-2.2 2.5z" class="ac"/>
<path d="M141 148.3l 2.4-5.1 1.3-.1-2.4 5.1z" class="pb"/>
<path d="M40.1 87.1l 2.4 4.2 1.5 .3-2.4-4.3z" class="bd"/>
<path d="M73.7 133.4l 2.4 6.4 1.5 4.9-2.4-6.3z" class="b"/>
<path d="M51 125.2l 2.3 .4 1.4-3.8-2.3-.5z" class="j"/>
<path d="M47.4 127.7l 2.4 4.7 1.2-7.2-2.4-4.8z" class="fb"/>
<path d="M54.7 121.8l 2.2-3.2 1.4 .4-2.2 3.2z" class="z"/>
<path d="M116.1 128.7l 2.4-6.4 1.3 5.5-2.3 6.3z" class="d"/>
<path d="M46.1 136.2l 2.4 4.7 1.3-8.5-2.4-4.7z" class="a"/>
<path d="M76.1 139.8l 2.3 2.6 1.5 4.9-2.3-2.6z" class="h"/>
<path d="M25.6 123.9l 2.1-2.8 1.5 0-2.1 2.8z" class="uc"/>
<path d="M44.9 143.3l 2.4 4.6 1.2-7-2.4-4.7z" class="db"/>
<path d="M214 94.9l 2.8-8.9 .9 7.7-2.8 8.8z" class="xc"/>
<path d="M125.8 123.5l 2.4 .4 1.3 3.8-2.4-.4z" class="fb"/>
<path d="M186.5 116.2l 2.6-3.7 1.4-6.2-2.5 3.8z" class="tc"/>
<path d="M82.2 145.7l 2.2-4.8 1.4 3.4-2.2 4.8z" class="c"/>
<path d="M147.5 131.7l 2.4-7.4 1.4-7.1-2.4 7.4z" class="y"/>
<path d="M85.8 144.3l 2.3-5.6 1.4-.3-2.3 5.7z" class="db"/>
<path d="M200.4 102.1l 2.3 4.2 1.3-4.3-2.3-4.2z" class="fc"/>
<path d="M130.5 128.5l 2.3 7 1.3 3.8-2.3-6.9z" class="a"/>
<path d="M44.9 119.7l 2.5 8 1.2-7.3-2.4-8z" class="u"/>
<path d="M193.5 89.7l 2.4 1.1 1.3-4.4-2.4-1.2z" class="ad"/>
<path d="M93.4 118.3l 2.3-4 1.4-6.3-2.3 4z" class="kc"/>
<path d="M43.7 128.3l 2.4 7.9 1.3-8.5-2.5-8z" class="x"/>
<path d="M42.4 135.5l 2.5 7.8 1.2-7.1-2.4-7.9z" class="mb"/>
<path d="M29.2 121.1l 2.2-2.4 1.3-4-2.1 2.5z" class="xb"/>
<path d="M198.1 95.9l 2.3 6.2 1.3-4.3-2.2-6.3z" class="pc"/>
<path d="M146.1 138.7l 2.5-7.3 1.3-7.1-2.4 7.4z" class="bb"/>
<path d="M137.4 145.3l 2.4-1 1.2 4-2.3 1z" class="i"/>
<path d="M156.5 106.2l 2.4-3.5 1.2 4.7-2.4 3.5z" class="ec"/>
<path d="M43.6 103.1l 2.6 9.3 1.3-4-2.5-9.3z" class="gc"/>
<path d="M71.3 125.4l 2.4 8 1.5 5-2.4-8.1z" class="bb"/>
<path d="M92.1 126.5l 2.3-3.9 1.3-8.3-2.3 4z" class="z"/>
<path d="M64.2 114.5l 2.3-.3 1.5 5-2.3 .2z" class="xb"/>
<path d="M128.2 123.9l 2.3 4.6 1.3 3.9-2.3-4.7zM49.8 132.4l 2.2 .5 1.3-7.3-2.3-.4z" class="d"/>
<path d="M112.5 130l 2.3-3.7 1.3 2.4-2.3 3.6z" class="oc"/>
<path d="M210.3 97.8l 2.7-8.4 1 5.5-2.7 8.4z" class="pc"/>
<path d="M48.5 140.9l 2.3 .4 1.2-8.4-2.2-.5z" class="ib"/>
<path d="M43.5 147.1l 2.4 4.5 1.4-3.7-2.4-4.6z" class="i"/>
<path d="M47.3 147.9l 2.2 .5 1.3-7.1-2.3-.4z" class="h"/>
<path d="M90.8 134l 2.3-3.8 1.3-7.6-2.3 3.9z" class="d"/>
<path d="M106.4 126.5l 2.4 4.8 1.3-2.1-2.3-4.9z" class="x"/>
<path d="M36.5 90.9l 2.2 .3 1.4-4.1-2.3-.3z" class="ad"/>
<path d="M21.8 121.4l 2.2-.5 1.6 3-2.3 .5z" class="uc"/>
<path d="M195.9 90.8l 2.2 5.1 1.4-4.4-2.3-5.1z" class="yc"/>
<path d="M152.7 112.9l 2.5-6.9 1.3 .2-2.5 6.9z" class="bc"/>
<path d="M206.5 101.9l 2.6-4.9 1.2 .8-2.7 5z" class="lc"/>
<path d="M202.7 106.3l 2.4-.1 1.4-4.3-2.5 .1z" class="gd"/>
<path d="M198.9 110l 2.3 4.2 1.5-7.9-2.3-4.2z" class="cc"/>
<path d="M41.1 139.3l 2.4 7.8 1.4-3.8-2.5-7.8z" class="f"/>
<path d="M104.1 119.1l 2.3 7.4 1.4-2.2-2.4-7.4z" class="uc"/>
<path d="M192 97.7l 2.4 1.1 1.5-8-2.4-1.1z" class="xc"/>
<path d="M97.1 108l 2.3-.1 1.3-2.3-2.3 .1z" class="ec"/>
<path d="M197.4 118.6l 2.2 4.2 1.6-8.6-2.3-4.2z" class="vc"/>
<path d="M181.5 121.9l 2.6-7.4 1.2 3.2-2.6 7.5z" class="u"/>
<path d="M144.7 143.1l 2.5-7.3 1.4-4.4-2.5 7.3z" class="ib"/>
<path d="M196.6 103.8l 2.3 6.2 1.5-7.9-2.3-6.2z" class="fc"/>
<path d="M78.4 142.4l 2.3-1.6 1.5 4.9-2.3 1.6z" class="h"/>
<path d="M190.5 106.3l 2.4 1.2 1.5-8.7-2.4-1.1z" class="fc"/>
<path d="M108.8 131.3l 2.3 .7 1.4-2-2.4-.8z" class="cb"/>
<path d="M42.4 110.6l 2.5 9.1 1.3-7.3-2.6-9.3z" class="bc"/>
<path d="M89.5 138.4l 2.2-3.8 1.4-4.4-2.3 3.8z" class="a"/>
<path d="M41.1 119.3l 2.6 9 1.2-8.6-2.5-9.1z" class="zb"/>
<path d="M39.9 126.5l 2.5 9 1.3-7.2-2.6-9z" class="fb"/>
<path d="M195.1 112.5l 2.3 6.1 1.5-8.6-2.3-6.2z" class="bc"/>
<path d="M185.3 117.7l 2.5-3.5 1.3-1.7-2.6 3.7z" class="yb"/>
<path d="M68.9 118.2l 2.4 7.2 1.5 4.9-2.4-7.2z" class="ic"/>
<path d="M45.9 151.6l 2.3 .5 1.3-3.7-2.2-.5z" class="e"/>
<path d="M41.1 95.4l 2.5 7.7 1.4-4-2.5-7.8z" class="pc"/>
<path d="M35.2 98.5l 2.3 .3 1.2-7.6-2.2-.3z" class="xc"/>
<path d="M177.8 124.2l 2.6-8.8 1.1 6.5-2.6 8.9zM195.9 124.8l 2.3 4.2 1.4-6.2-2.2-4.2z" class="j"/>
<path d="M34 107.3l 2.3 .3 1.2-8.8-2.3-.3z" class="fc"/>
<path d="M194.4 98.8l 2.2 5 1.5-7.9-2.2-5.1z" class="pc"/>
<path d="M66.5 114.2l 2.4 4 1.5 4.9-2.4-3.9z" class="zb"/>
<path d="M32.7 114.7l 2.3 .3 1.3-7.4-2.3-.3z" class="bc"/>
<path d="M38.7 91.2l 2.4 4.2 1.4-4.1-2.4-4.2z" class="yc"/>
<path d="M189.1 112.5l 2.3 1.3 1.5-6.3-2.4-1.2z" class="dc"/>
<path d="M192.9 107.5l 2.2 5 1.5-8.7-2.2-5z" class="gc"/>
<path d="M201.2 114.2l 2.4-.1 1.5-7.9-2.4 .1z" class="dc"/>
<path d="M193.7 118.7l 2.2 6.1 1.5-6.2-2.3-6.1z" class="zb"/>
<path d="M101.7 112.1l 2.4 7 1.3-2.2-2.3-7.1z" class="yb"/>
<path d="M53.3 125.6l 2.2-3.1 1.4-3.9-2.2 3.2z" class="uc"/>
<path d="M165.9 115.7l 2.2 5.5 1.2 4.6-2.3-5.5z" class="z"/>
<path d="M199.6 122.8l 2.5 0 1.5-8.7-2.4 .1z" class="xb"/>
<path d="M105.1 132.6l 2.3 4.9 1.4-6.2-2.4-4.8z" class="cb"/>
<path d="M99.4 107.9l 2.3 4.2 1.4-2.3-2.4-4.2z" class="dc"/>
<path d="M122.2 121.3l 2.3-3.8 1.3 6-2.3 3.8z" class="uc"/>
<path d="M191.4 113.8l 2.3 4.9 1.4-6.2-2.2-5z" class="ac"/>
<path d="M38.5 130.4l 2.6 8.9 1.3-3.8-2.5-9z" class="bb"/>
<path d="M168.1 121.2l 2.4 1.7 1.2 4.6-2.4-1.7z" class="ic"/>
<path d="M103.8 140.8l 2.3 4.8 1.3-8.1-2.3-4.9z" class="s"/>
<path d="M39.9 102.9l 2.5 7.7 1.2-7.5-2.5-7.7z" class="fc"/>
<path d="M198.2 129l 2.4 .1 1.5-6.3-2.5 0z" class="ic"/>
<path d="M158.9 102.7l 2.4 1.1 1.2 4.6-2.4-1z" class="gc"/>
<path d="M102.4 148.2l 2.4 4.8 1.3-7.4-2.3-4.8z" class="pb"/>
<path d="M27.7 121.1l 2.2-2.4 1.5 0-2.2 2.4z" class="zb"/>
<path d="M38.7 111.7l 2.4 7.6 1.3-8.7-2.5-7.7z" class="bc"/>
<path d="M60.5 114.3l 2.2-3.6 1.5 3.8-2.2 3.5z" class="kc"/>
<path d="M174.1 124.3l 2.6-7.2 1.1 7.1-2.6 7.2z" class="j"/>
<path d="M163.6 108.9l 2.3 6.8 1.1 4.6-2.2-6.8z" class="kc"/>
<path d="M37.4 119.1l 2.5 7.4 1.2-7.2-2.4-7.6z" class="zb"/>
<path d="M102.7 125.4l 2.4 7.2 1.3-6.1-2.3-7.4z" class="y"/>
<path d="M31.4 118.7l 2.3 .3 1.3-4-2.3-.3z" class="vc"/>
<path d="M37.5 98.8l 2.4 4.1 1.2-7.5-2.4-4.2z" class="pc"/>
<path d="M95.7 114.3l 2.3-.1 1.4-6.3-2.3 .1z" class="bc"/>
<path d="M36.3 107.6l 2.4 4.1 1.2-8.8-2.4-4.1z" class="qc"/>
<path d="M35 115l 2.4 4.1 1.3-7.4-2.4-4.1z" class="ac"/>
<path d="M107.4 137.5l 2.4 .7 1.3-6.2-2.3-.7z" class="a"/>
<path d="M42.1 146.9l 2.4 4.6 1.4 .1-2.4-4.5z" class="i"/>
<path d="M52 132.9l 2.2-3.2 1.3-7.2-2.2 3.1z" class="fb"/>
<path d="M56.9 118.6l 2.2-4.7 1.4 .4-2.2 4.7z" class="vc"/>
<path d="M50.8 141.3l 2.2-3.1 1.2-8.5-2.2 3.2z" class="a"/>
<path d="M101.4 133.6l 2.4 7.2 1.3-8.2-2.4-7.2z" class="bb"/>
<path d="M49.5 148.4l 2.2-3.1 1.3-7.1-2.2 3.1z" class="db"/>
<path d="M100.1 141.1l 2.3 7.1 1.4-7.4-2.4-7.2z" class="f"/>
<path d="M94.4 122.6l 2.3-.1 1.3-8.3-2.3 .1z" class="zb"/>
<path d="M161.3 103.8l 2.3 5.1 1.2 4.6-2.3-5.1z" class="cc"/>
<path d="M93.1 130.2l 2.3-.1 1.3-7.6-2.3 .1z" class="y"/>
<path d="M151.3 117.2l 2.5-6.8 1.4-4.4-2.5 6.9z" class="tc"/>
<path d="M24 120.9l 2.2-2.7 1.5 2.9-2.1 2.8z" class="u"/>
<path d="M106.1 145.6l 2.3 .7 1.4-8.1-2.4-.7z" class="db"/>
<path d="M104.8 153l 2.3 .7 1.3-7.4-2.3-.7z" class="l"/>
<path d="M139.8 144.3l 2.4-5.1 1.2 4-2.4 5.1z" class="v"/>
<path d="M101.1 152.6l 2.3 4.7 1.4-4.3-2.4-4.8z" class="jb"/>
<path d="M194.7 126.6l 2.2 4.2 1.3-1.8-2.3-4.2z" class="fb"/>
<path d="M39.6 139.2l 2.5 7.7 1.4 .2-2.4-7.8z" class="db"/>
<path d="M205.1 106.2l 2.6-4.9 1.4-4.3-2.6 4.9z" class="lc"/>
<path d="M100.4 118.4l 2.3 7 1.4-6.3-2.4-7z" class="zb"/>
<path d="M143.4 143.2l 2.5-7.3 1.3-.1-2.5 7.3z" class="s"/>
<path d="M36.1 123l 2.4 7.4 1.4-3.9-2.5-7.4z" class="j"/>
<path d="M187.8 114.2l 2.4 1.3 1.2-1.7-2.3-1.3z" class="ac"/>
<path d="M88.1 138.7l 2.2-3.8 1.4-.3-2.2 3.8z" class="mb"/>
<path d="M84.4 140.9l 2.2-5.6 1.5 3.4-2.3 5.6z" class="b"/>
<path d="M192.4 120.5l 2.3 6.1 1.2-1.8-2.2-6.1z" class="uc"/>
<path d="M111.1 132l 2.3-3.5 1.4-2.2-2.3 3.7z" class="d"/>
<path d="M98 114.2l 2.4 4.2 1.3-6.3-2.3-4.2z" class="ac"/>
<path d="M33.7 119l 2.4 4 1.3-3.9-2.4-4.1z" class="xb"/>
<path d="M118.5 122.3l 2.3-6.5 1.4 5.5-2.4 6.5z" class="z"/>
<path d="M98.7 145.5l 2.4 7.1 1.3-4.4-2.3-7.1z" class="pb"/>
<path d="M44.5 151.5l 2.2 .4 1.5 .2-2.3-.5z" class="e"/>
<path d="M216.8 86l 2.8-6.1 .8 7.7-2.7 6.1z" class="od"/>
<path d="M99.1 126.7l 2.3 6.9 1.3-8.2-2.3-7z" class="y"/>
<path d="M48.2 152.1l 2.2-3 1.3-3.8-2.2 3.1z" class="i"/>
<path d="M97.7 134.2l 2.4 6.9 1.3-7.5-2.3-6.9z" class="lb"/>
<path d="M91.7 134.6l 2.3 0 1.4-4.5-2.3 .1z" class="cb"/>
<path d="M190.2 115.5l 2.2 5 1.3-1.8-2.3-4.9z" class="vc"/>
<path d="M103.4 157.3l 2.3 .7 1.4-4.3-2.3-.7z" class="p"/>
<path d="M96.7 122.5l 2.4 4.2 1.3-8.3-2.4-4.2z" class="u"/>
<path d="M196.9 130.8l 2.5 .1 1.2-1.8-2.4-.1z" class="x"/>
<path d="M133.8 135.8l 2.4 3.4 1.2 6.1-2.3-3.4z" class="b"/>
<path d="M149.9 124.3l 2.5-6.7 1.4-7.2-2.5 6.8z" class="vc"/>
<path d="M114.8 126.3l 2.3-6.3 1.4 2.3-2.4 6.4z" class="j"/>
<path d="M95.4 130.1l 2.3 4.1 1.4-7.5-2.4-4.2z" class="x"/>
<path d="M72.2 129.7l 2.4 6.3 1.5 3.8-2.4-6.4z" class="lb"/>
<path d="M131.5 129.3l 2.3 6.5 1.3 6.1-2.3-6.4z" class="a"/>
<path d="M170.5 122.9l 2.5-3.1 1.1 4.5-2.4 3.2z" class="uc"/>
<path d="M155.2 106l 2.4-3.5 1.3 .2-2.4 3.5z" class="gd"/>
<path d="M74.6 136l 2.4 2.7 1.4 3.7-2.3-2.6z" class="s"/>
<path d="M203.6 114.1l 2.6-4.8 1.5-8-2.6 4.9z" class="gc"/>
<path d="M80.7 140.8l 2.3-4.7 1.4 4.8-2.2 4.8z" class="b"/>
<path d="M202.1 122.8l 2.6-4.7 1.5-8.8-2.6 4.8z" class="kc"/>
<path d="M124.5 117.5l 2.4 .4 1.3 6-2.4-.4z" class="u"/>
<path d="M37.1 130.4l 2.5 8.8 1.5 .1-2.6-8.9z" class="bb"/>
<path d="M148.6 131.4l 2.4-6.6 1.4-7.2-2.5 6.7z" class="j"/>
<path d="M96.4 138.7l 2.3 6.8 1.4-4.4-2.4-6.9z" class="s"/>
<path d="M209.1 97l 2.8-8.3 1.1 .7-2.7 8.4z" class="hd"/>
<path d="M29.9 118.7l 2.3 .3 1.5 0-2.3-.3zM20.1 117.7l 2.3-.6 1.6 3.8-2.2 .5z" class="xb"/>
<path d="M184.1 114.5l 2.5-3.5 1.2 3.2-2.5 3.5z" class="ac"/>
<path d="M200.6 129.1l 2.6-4.6 1.5-6.4-2.6 4.7z" class="uc"/>
<path d="M94 134.6l 2.4 4.1 1.3-4.5-2.3-4.1z" class="lb"/>
<path d="M129.2 122.5l 2.3 6.8 1.3 6.2-2.3-7z" class="x"/>
<path d="M213 89.4l 2.8-8.8 1 5.4-2.8 8.9z" class="od"/>
<path d="M62.7 110.7l 2.3-.2 1.5 3.7-2.3 .3z" class="tc"/>
<path d="M69.8 121.6l 2.4 8.1 1.5 3.7-2.4-8z" class="fb"/>
<path d="M109.8 138.2l 2.3-3.6 1.3-6.1-2.3 3.5z" class="bb"/>
<path d="M55.5 122.5l 2.2-4.7 1.4-3.9-2.2 4.7z" class="vc"/>
<path d="M136.2 139.2l 2.3-1.1 1.3 6.2-2.4 1z" class="f"/>
<path d="M126.9 117.9l 2.3 4.6 1.3 6-2.3-4.6z" class="uc"/>
<path d="M99.7 152.8l 2.4 4.7 1.3-.2-2.3-4.7z" class="eb"/>
<path d="M108.4 146.3l 2.3-3.5 1.4-8.2-2.3 3.6z" class="b"/>
<path d="M107.1 153.7l 2.3-3.5 1.3-7.4-2.3 3.5z" class="pb"/>
<path d="M147.2 135.8l 2.5-6.6 1.3-4.4-2.4 6.6z" class="d"/>
<path d="M34.6 123l 2.5 7.4 1.4 0-2.4-7.4z" class="ic"/>
<path d="M97.4 145.7l 2.3 7.1 1.4-.2-2.4-7.1z" class="i"/>
<path d="M32.2 119l 2.4 4 1.5 0-2.4-4z" class="zb"/>
<path d="M77 138.7l 2.3-1.6 1.4 3.7-2.3 1.6z" class="s"/>
<path d="M164.6 115.5l 2.3 5.5 1.2 .2-2.2-5.5zM26.2 118.2l 2.1-2.5 1.6 3-2.2 2.4z" class="vc"/>
<path d="M67.4 114.4l 2.4 7.2 1.5 3.8-2.4-7.2z" class="zb"/>
<path d="M90.3 134.9l 2.4-.1 1.3-.2-2.3 0z" class="lb"/>
<path d="M180.4 115.4l 2.6-7.4 1.1 6.5-2.6 7.4z" class="ac"/>
<path d="M102.1 157.5l 2.3 .7 1.3-.2-2.3-.7z" class="g"/>
<path d="M46.7 151.9l 2.2-3 1.5 .2-2.2 3z" class="l"/>
<path d="M54.2 129.7l 2.2-4.6 1.3-7.3-2.2 4.7z" class="uc"/>
<path d="M65 110.5l 2.4 3.9 1.5 3.8-2.4-4z" class="ac"/>
<path d="M53 138.2l 2.2-4.5 1.2-8.6-2.2 4.6z" class="oc"/>
<path d="M59.1 113.9l 2.2-3.5 1.4 .3-2.2 3.6z" class="bc"/>
<path d="M51.7 145.3l 2.2-4.5 1.3-7.1-2.2 4.5z" class="ib"/>
<path d="M105.7 158l 2.3-3.4 1.4-4.4-2.3 3.5z" class="jb"/>
<path d="M166.9 121l 2.3 1.7 1.3 .2-2.4-1.7z" class="u"/>
<path d="M157.6 102.5l 2.4 1.1 1.3 .2-2.4-1.1z" class="fc"/>
<path d="M40.5 143.8l 2.4 4.6 1.6 3.1-2.4-4.6z" class="c"/>
<path d="M199.4 130.9l 2.5-4.5 1.3-1.9-2.6 4.6z" class="y"/>
<path d="M162.3 108.7l 2.3 6.8 1.3 .2-2.3-6.8z" class="bc"/>
<path d="M193.5 123.6l 2.3 4.3 1.1 2.9-2.2-4.2z" class="ic"/>
<path d="M153.8 110.4l 2.5-3.5 1.3-4.4-2.4 3.5z" class="qc"/>
<path d="M95 138.9l 2.4 6.8 1.3-.2-2.3-6.8z" class="f"/>
<path d="M186.6 111l 2.4 1.4 1.2 3.1-2.4-1.3z" class="tc"/>
<path d="M191.3 117.4l 2.2 6.2 1.2 3-2.3-6.1z" class="u"/>
<path d="M38 136.1l 2.5 7.7 1.6 3.1-2.5-7.7z" class="b"/>
<path d="M160 103.6l 2.3 5.1 1.3 .2-2.3-5.1z" class="qc"/>
<path d="M92.7 134.8l 2.3 4.1 1.4-.2-2.4-4.1z" class="a"/>
<path d="M176.7 117.1l 2.6-8.7 1.1 7-2.6 8.8z" class="kc"/>
<path d="M86.6 135.3l 2.3-3.8 1.4 3.4-2.2 3.8z" class="lb"/>
<path d="M50.4 149.1l 2.1-4.5 1.4-3.8-2.2 4.5z" class="v"/>
<path d="M113.4 128.5l 2.4-6.4 1.3-2.1-2.3 6.3z" class="uc"/>
<path d="M207.7 101.3l 2.8-8.2 1.4-4.4-2.8 8.3z" class="zc"/>
<path d="M142.2 139.2l 2.4-7.3 1.3 4-2.5 7.3z" class="mb"/>
<path d="M189 112.4l 2.3 5 1.1 3.1-2.2-5z" class="kc"/>
<path d="M22.4 117.1l 2.1-2.7 1.7 3.8-2.2 2.7zM120.8 115.8l 2.4-3.8 1.3 5.5-2.3 3.8z" class="yb"/>
<path d="M42.9 148.4l 2.3 .4 1.5 3.1-2.2-.4z" class="i"/>
<path d="M195.8 127.9l 2.4 .1 1.2 2.9-2.5-.1z" class="fb"/>
<path d="M152.4 117.6l 2.5-3.4 1.4-7.3-2.5 3.5z" class="bc"/>
<path d="M173 119.8l 2.6-7.1 1.1 4.4-2.6 7.2z" class="vc"/>
<path d="M145.9 135.9l 2.5-6.6 1.3-.1-2.5 6.6zM70.8 129.3l 2.4 6.4 1.4 .3-2.4-6.3z" class="oc"/>
<path d="M83 136.1l 2.2-5.6 1.4 4.8-2.2 5.6z" class="lb"/>
<path d="M73.2 135.7l 2.4 2.6 1.4 .4-2.4-2.7z" class="a"/>
<path d="M151 124.8l 2.5-3.5 1.4-7.1-2.5 3.4z" class="xb"/>
<path d="M35.5 127.3l 2.5 8.8 1.6 3.1-2.5-8.8z" class="oc"/>
<path d="M206.2 109.3l 2.7-8.1 1.6-8.1-2.8 8.2z" class="jc"/>
<path d="M169.2 122.7l 2.5-3 1.3 .1-2.5 3.1z" class="zb"/>
<path d="M117.1 120l 2.4-6.5 1.3 2.3-2.3 6.5z" class="vc"/>
<path d="M138.5 138.1l 2.4-5.2 1.3 6.3-2.4 5.1z" class="mb"/>
<path d="M163.2 119.9l 2.3 5.4 1.4-4.3-2.3-5.5z" class="zb"/>
<path d="M28.3 115.7l 2.3 .3 1.6 3-2.3-.3z" class="kc"/>
<path d="M204.7 118.1l 2.7-8 1.5-8.9-2.7 8.1z" class="ec"/>
<path d="M104.4 158.2l 2.3-3.4 1.3-.2-2.3 3.4z" class="p"/>
<path d="M57.7 117.8l 2.2-3.5 1.4-3.9-2.2 3.5z" class="tc"/>
<path d="M165.5 125.3l 2.4 1.8 1.3-4.4-2.3-1.7z" class="uc"/>
<path d="M112.1 134.6l 2.3-6.3 1.4-6.2-2.4 6.4z" class="y"/>
<path d="M156.3 106.9l 2.4 1.1 1.3-4.4-2.4-1.1z" class="gd"/>
<path d="M61.3 110.4l 2.3-.2 1.4 .3-2.3 .2z" class="cc"/>
<path d="M203.2 124.5l 2.7-7.9 1.5-6.5-2.7 8z" class="kc"/>
<path d="M18.6 115.7l 2.2-.5 1.6 1.9-2.3 .6z" class="ac"/>
<path d="M68.4 121.2l 2.4 8.1 1.4 .4-2.4-8.1z" class="j"/>
<path d="M161 113.1l 2.2 6.8 1.4-4.4-2.3-6.8z" class="tc"/>
<path d="M79.3 137.1l 2.2-4.8 1.5 3.8-2.3 4.7z" class="lb"/>
<path d="M98.3 149.5l 2.4 4.7 1.4 3.3-2.4-4.7z" class="hc"/>
<path d="M110.7 142.8l 2.4-6.3 1.3-8.2-2.3 6.3z" class="lb"/>
<path d="M149.7 129.2l 2.4-3.4 1.4-4.5-2.5 3.5z" class="j"/>
<path d="M215.8 80.6l 2.8-6.1 1 5.4-2.8 6.1z" class="kd"/>
<path d="M109.4 150.2l 2.3-6.2 1.4-7.5-2.4 6.3z" class="f"/>
<path d="M211.9 88.7l 2.8-8.8 1.1 .7-2.8 8.8z" class="jd"/>
<path d="M33 120l 2.5 7.3 1.6 3.1-2.5-7.4z" class="uc"/>
<path d="M161.8 127l 2.3 5.4 1.4-7.1-2.3-5.4z" class="j"/>
<path d="M158.7 108l 2.3 5.1 1.3-4.4-2.3-5.1z" class="gc"/>
<path d="M132.6 130.2l 2.3 3.3 1.3 5.7-2.4-3.4z" class="bb"/>
<path d="M30.6 116l 2.4 4 1.6 3-2.4-4z" class="vc"/>
<path d="M48.9 148.9l 2.2-4.4 1.4 .1-2.1 4.5z" class="v"/>
<path d="M130.2 123.7l 2.4 6.5 1.2 5.6-2.3-6.5z" class="fb"/>
<path d="M56.4 125.1l 2.2-3.4 1.3-7.4-2.2 3.5z" class="vc"/>
<path d="M96 142.4l 2.3 7.1 1.4 3.3-2.3-7.1z" class="c"/>
<path d="M55.2 133.7l 2.2-3.4 1.2-8.6-2.2 3.4z" class="ic"/>
<path d="M164.1 132.4l 2.4 1.8 1.4-7.1-2.4-1.8z" class="fb"/>
<path d="M53.9 140.8l 2.2-3.3 1.3-7.2-2.2 3.4z" class="bb"/>
<path d="M88.9 131.5l 2.3 0 1.5 3.3-2.4 .1z" class="oc"/>
<path d="M183 108l 2.6-3.4 1 6.4-2.5 3.5z" class="ec"/>
<path d="M123.2 112l 2.4 .3 1.3 5.6-2.4-.4z" class="ac"/>
<path d="M154.9 114.2l 2.3 1 1.5-7.2-2.4-1.1z" class="cc"/>
<path d="M75.6 138.3l 2.2-1.6 1.5 .4-2.3 1.6z" class="a"/>
<path d="M160.4 134.1l 2.3 5.4 1.4-7.1-2.3-5.4z" class="oc"/>
<path d="M66 114.1l 2.4 7.1 1.4 .4-2.4-7.2z" class="yb"/>
<path d="M45.2 148.8l 2.2-3 1.5 3.1-2.2 3z" class="c"/>
<path d="M100.7 154.2l 2.3 .7 1.4 3.3-2.3-.7z" class="eb"/>
<path d="M198.2 128l 2.6-4.4 1.1 2.8-2.5 4.5z" class="j"/>
<path d="M159.5 120.3l 2.3 6.7 1.4-7.1-2.2-6.8z" class="xb"/>
<path d="M63.6 110.2l 2.4 3.9 1.4 .3-2.4-3.9z" class="dc"/>
<path d="M108 154.6l 2.4-6.1 1.3-4.5-2.3 6.2z" class="pb"/>
<path d="M162.7 139.5l 2.3 1.7 1.5-7-2.4-1.8z" class="lb"/>
<path d="M24.5 114.4l 2.2-2.4 1.6 3.7-2.1 2.5z" class="tc"/>
<path d="M127.9 116.9l 2.3 6.8 1.3 5.6-2.3-6.8z" class="z"/>
<path d="M153.5 121.3l 2.3 1.1 1.4-7.2-2.3-1z" class="yb"/>
<path d="M157.2 115.2l 2.3 5.1 1.5-7.2-2.3-5.1z" class="tc"/>
<path d="M69.5 133.2l 2.4 6.3 1.3-3.8-2.4-6.4z" class="cb"/>
<path d="M158.1 127.4l 2.3 6.7 1.4-7.1-2.3-6.7z" class="ic"/>
<path d="M201.9 126.4l 2.8-7.8 1.2-2-2.7 7.9z" class="xb"/>
<path d="M93.6 135.6l 2.4 6.8 1.4 3.3-2.4-6.8z" class="ib"/>
<path d="M71.9 139.5l 2.3 2.7 1.4-3.9-2.4-2.6z" class="mb"/>
<path d="M167.9 127.1l 2.4-3 1.4-4.4-2.5 3z" class="u"/>
<path d="M52.5 144.6l 2.2-3.3 1.4-3.8-2.2 3.3z" class="ib"/>
<path d="M125.6 112.3l 2.3 4.6 1.3 5.6-2.3-4.6z" class="yb"/>
<path d="M134.9 133.5l 2.4-1.1 1.2 5.7-2.3 1.1zM91.2 131.5l 2.4 4.1 1.4 3.3-2.3-4.1z" class="bb"/>
<path d="M159 138.4l 2.3 5.4 1.4-4.3-2.3-5.4z" class="mb"/>
<path d="M39 140l 2.3 4.5 1.6 3.9-2.4-4.6z" class="f"/>
<path d="M155.8 122.4l 2.3 5 1.4-7.1-2.3-5.1z" class="zb"/>
<path d="M161.3 143.8l 2.4 1.7 1.3-4.3-2.3-1.7z" class="b"/>
<path d="M59.9 114.3l 2.3-.2 1.4-3.9-2.3 .2z" class="dc"/>
<path d="M67 125.1l 2.5 8.1 1.3-3.9-2.4-8.1z" class="j"/>
<path d="M36.5 132.3l 2.5 7.7 1.5 3.8-2.5-7.7z" class="lb"/>
<path d="M152.1 125.8l 2.4 1 1.3-4.4-2.3-1.1z" class="z"/>
<path d="M65.6 156l 2.4 6.3 1.3-7.1-2.4-6.3z" class="jb"/>
<path d="M68.2 140.4l 2.4 6.3 1.3-7.2-2.4-6.3z" class="mb"/>
<path d="M66.9 148.9l 2.4 6.3 1.3-8.5-2.4-6.3z" class="h"/>
<path d="M20.8 115.2l 2.2-2.7 1.5 1.9-2.1 2.7z" class="bc"/>
<path d="M115.8 122.1l 2.3-6.5 1.4-2.1-2.4 6.5z" class="yb"/>
<path d="M156.8 131.8l 2.2 6.6 1.4-4.3-2.3-6.7z" class="d"/>
<path d="M68 162.3l 2.3 2.6 1.3-7-2.3-2.7z" class="ob"/>
<path d="M148.4 129.3l 2.4-3.4 1.3-.1-2.4 3.4z" class="ic"/>
<path d="M69.3 155.2l 2.3 2.7 1.3-8.5-2.3-2.7z" class="l"/>
<path d="M70.6 146.7l 2.3 2.7 1.3-7.2-2.3-2.7z" class="f"/>
<path d="M192.5 117.4l 2.3 4.3 1 6.2-2.3-4.3z" class="zb"/>
<path d="M166.5 134.2l 2.4-2.9 1.4-7.2-2.4 3z" class="y"/>
<path d="M144.6 131.9l 2.5-6.7 1.3 4.1-2.5 6.6z" class="fb"/>
<path d="M179.3 108.4l 2.7-7.3 1 6.9-2.6 7.4zM185.6 104.6l 2.3 1.4 1.1 6.4-2.4-1.4z" class="qc"/>
<path d="M85.2 130.5l 2.3-3.8 1.4 4.8-2.3 3.8z" class="x"/>
<path d="M171.7 119.7l 2.6-7 1.3 0-2.6 7.1z" class="ac"/>
<path d="M210.5 93.1l 2.8-8.7 1.4-4.5-2.8 8.8z" class="dd"/>
<path d="M190.2 111.2l 2.3 6.2 1 6.2-2.2-6.2z" class="kc"/>
<path d="M41.3 144.5l 2.3 .5 1.6 3.8-2.3-.4z" class="v"/>
<path d="M17.1 117.4l 2.3-.5 1.4-1.7-2.2 .5z" class="tc"/>
<path d="M154.5 126.8l 2.3 5 1.3-4.4-2.3-5z" class="j"/>
<path d="M119.5 113.5l 2.4-3.9 1.3 2.4-2.4 3.8z" class="dc"/>
<path d="M165 141.2l 2.5-2.8 1.4-7.1-2.4 2.9z" class="bb"/>
<path d="M58.6 121.7l 2.3-.2 1.3-7.4-2.3 .2z" class="kc"/>
<path d="M106.7 154.8l 2.3-6.1 1.4-.2-2.4 6.1z" class="i"/>
<path d="M74.2 142.2l 2.3-1.6 1.3-3.9-2.2 1.6z" class="mb"/>
<path d="M65.7 132.5l 2.5 7.9 1.3-7.2-2.5-8.1z" class="d"/>
<path d="M57.4 130.3l 2.3-.2 1.2-8.6-2.3 .2z" class="uc"/>
<path d="M64.3 159.8l 2.4 6.2 1.3-3.7-2.4-6.3z" class="ob"/>
<path d="M187.9 106l 2.3 5.2 1.1 6.2-2.3-5z" class="cc"/>
<path d="M64.6 118l 2.4 7.1 1.4-3.9-2.4-7.1z" class="vc"/>
<path d="M103 154.9l 2.3-3.4 1.4 3.3-2.3 3.4z" class="hc"/>
<path d="M64.5 141l 2.4 7.9 1.3-8.5-2.5-7.9z" class="ib"/>
<path d="M63.2 148.2l 2.4 7.8 1.3-7.1-2.4-7.9z" class="h"/>
<path d="M56.1 137.5l 2.3-.2 1.3-7.2-2.3 .2z" class="oc"/>
<path d="M66.7 166l 2.3 2.7 1.3-3.8-2.3-2.6z" class="m"/>
<path d="M194.8 121.7l 2.4 .2 1 6.1-2.4-.1z" class="z"/>
<path d="M175.6 112.7l 2.6-8.7 1.1 4.4-2.6 8.7z" class="ec"/>
<path d="M62.2 114.1l 2.4 3.9 1.4-3.9-2.4-3.9z" class="bc"/>
<path d="M140.9 132.9l 2.5-7.3 1.2 6.3-2.4 7.3z" class="d"/>
<path d="M33.9 123.6l 2.6 8.7 1.5 3.8-2.5-8.8z" class="y"/>
<path d="M26.7 112l 2.3 .2 1.6 3.8-2.3-.3z" class="dc"/>
<path d="M208.9 101.2l 2.8-8.6 1.6-8.2-2.8 8.7z" class="ad"/>
<path d="M81.5 132.3l 2.3-5.5 1.4 3.7-2.2 5.6z" class="x"/>
<path d="M77.8 136.7l 2.3-4.7 1.4 .3-2.2 4.8z" class="oc"/>
<path d="M114.4 128.3l 2.4-6.4 1.3-6.3-2.3 6.5z" class="zb"/>
<path d="M51.1 144.5l 2.2-3.3 1.4 .1-2.2 3.3z" class="s"/>
<path d="M207.4 110.1l 2.8-8.5 1.5-9-2.8 8.6z" class="rc"/>
<path d="M163.7 145.5l 2.4-2.8 1.4-4.3-2.5 2.8z" class="s"/>
<path d="M70.3 164.9l 2.3-1.3 1.3-7.2-2.3 1.5z" class="ob"/>
<path d="M71.6 157.9l 2.3-1.5 1.3-8.5-2.3 1.5z" class="l"/>
<path d="M72.9 149.4l 2.3-1.5 1.3-7.3-2.3 1.6z" class="f"/>
<path d="M61.8 152l 2.5 7.8 1.3-3.8-2.4-7.8z" class="e"/>
<path d="M157.7 138.4l 2.3 5.3 1.3 .1-2.3-5.4z" class="ib"/>
<path d="M63.3 125.4l 2.4 7.1 1.3-7.4-2.4-7.1z" class="z"/>
<path d="M54.7 141.3l 2.3-.1 1.4-3.9-2.3 .2z" class="a"/>
<path d="M47.4 145.8l 2.2-4.4 1.5 3.1-2.2 4.4z" class="f"/>
<path d="M62 134l 2.5 7 1.2-8.5-2.4-7.1z" class="d"/>
<path d="M60.7 141.2l 2.5 7 1.3-7.2-2.5-7z" class="ib"/>
<path d="M12.3 148l 2.2-.4 1.2-7.3-2.2 .5z" class="s"/>
<path d="M113.1 136.5l 2.3-6.3 1.4-8.3-2.4 6.4z" class="y"/>
<path d="M60.9 121.5l 2.4 3.9 1.3-7.4-2.4-3.9z" class="yb"/>
<path d="M214.7 79.9l 2.7-6.1 1.2 .7-2.8 6.1z" class="pd"/>
<path d="M205.9 116.6l 2.8-8.4 1.5-6.6-2.8 8.5z" class="qc"/>
<path d="M59.7 130.1l 2.3 3.9 1.3-8.6-2.4-3.9z" class="j"/>
<path d="M111.7 144l 2.4-6.2 1.3-7.6-2.3 6.3z" class="lb"/>
<path d="M58.4 137.3l 2.3 3.9 1.3-7.2-2.3-3.9z" class="cb"/>
<path d="M160 143.7l 2.4 1.8 1.3 0-2.4-1.7z" class="f"/>
<path d="M13.5 140.8l 2.2-.5 1.2-9.1-2.3 .5z" class="oc"/>
<path d="M15.8 123.1l 2.3-.5 1.3-5.7-2.3 .5z" class="yb"/>
<path d="M31.4 116.2l 2.5 7.4 1.6 3.7-2.5-7.3z" class="xb"/>
<path d="M150.8 125.9l 2.4 1 1.3-.1-2.4-1z" class="uc"/>
<path d="M137.3 132.4l 2.4-5.2 1.2 5.7-2.4 5.2z" class="d"/>
<path d="M155.5 131.8l 2.2 6.6 1.3 0-2.2-6.6z" class="cb"/>
<path d="M29 112.2l 2.4 4 1.6 3.8-2.4-4z" class="tc"/>
<path d="M200.8 123.6l 2.7-7.8 1.2 2.8-2.8 7.8z" class="vc"/>
<path d="M14.6 131.7l 2.3-.5 1.2-8.6-2.3 .5z" class="uc"/>
<path d="M96.9 144.6l 2.4 4.8 1.4 4.8-2.4-4.7z" class="c"/>
<path d="M69 168.7l 2.3-1.3 1.3-3.8-2.3 1.3z" class="m"/>
<path d="M131.2 127.7l 2.4 3.3 1.3 2.5-2.3-3.3z" class="fb"/>
<path d="M170.3 124.1l 2.6-6.9 1.4-4.5-2.6 7z" class="kc"/>
<path d="M59.4 145.1l 2.4 6.9 1.4-3.8-2.5-7z" class="db"/>
<path d="M128.9 121.3l 2.3 6.4 1.4 2.5-2.4-6.5z" class="uc"/>
<path d="M153.2 126.9l 2.3 4.9 1.3 0-2.3-5z" class="y"/>
<path d="M110.4 148.5l 2.3-6.3 1.4-4.4-2.4 6.2z" class="b"/>
<path d="M43.6 145l 2.2-3 1.6 3.8-2.2 3z" class="f"/>
<path d="M23 112.5l 2.2-2.4 1.5 1.9-2.2 2.4z" class="ec"/>
<path d="M94.6 137.6l 2.3 7 1.4 4.9-2.3-7.1z" class="b"/>
<path d="M87.5 126.7l 2.3 0 1.4 4.8-2.3 0z" class="ic"/>
<path d="M121.9 109.6l 2.3 .4 1.4 2.3-2.4-.3z" class="ec"/>
<path d="M57 141.2l 2.4 3.9 1.3-3.9-2.3-3.9z" class="mb"/>
<path d="M19.4 116.9l 2.1-2.7 1.5-1.7-2.2 2.7z" class="dc"/>
<path d="M62.8 159.7l 2.4 6.2 1.5 .1-2.4-6.2z" class="k"/>
<path d="M99.3 149.4l 2.3 .7 1.4 4.8-2.3-.7z" class="i"/>
<path d="M65.2 165.9l 2.4 2.7 1.4 .1-2.3-2.7z" class="hb"/>
<path d="M197.2 121.9l 2.6-4.4 1 6.1-2.6 4.4z" class="xb"/>
<path d="M126.6 114.5l 2.3 6.8 1.3 2.4-2.3-6.8z" class="yb"/>
<path d="M37.4 138l 2.4 4.5 1.5 2-2.3-4.5z" class="mb"/>
<path d="M204.7 118.6l 2.7-8.3 1.3-2.1-2.8 8.4zM118.1 115.6l 2.4-3.8 1.4-2.2-2.4 3.9z" class="cc"/>
<path d="M168.9 131.3l 2.6-6.9 1.4-7.2-2.6 6.9z" class="u"/>
<path d="M92.2 130.8l 2.4 6.8 1.4 4.8-2.4-6.8z" class="bb"/>
<path d="M124.2 110l 2.4 4.5 1.3 2.4-2.3-4.6z" class="dc"/>
<path d="M76.5 140.6l 2.2-4.6 1.4-4-2.3 4.7z" class="cb"/>
<path d="M182 101.1l 2.5-3.3 1.1 6.8-2.6 3.4z" class="jc"/>
<path d="M147.1 125.2l 2.4-3.4 1.3 4.1-2.4 3.4z" class="z"/>
<path d="M162.4 145.5l 2.4-2.8 1.3 0-2.4 2.8z" class="b"/>
<path d="M89.8 126.7l 2.4 4.1 1.4 4.8-2.4-4.1z" class="fb"/>
<path d="M34.9 130.3l 2.5 7.7 1.6 2-2.5-7.7z" class="oc"/>
<path d="M133.6 131l 2.4-1.1 1.3 2.5-2.4 1.1z" class="fb"/>
<path d="M60.4 151.9l 2.4 7.8 1.5 .1-2.5-7.8z" class="hc"/>
<path d="M53.3 141.2l 2.3-.1 1.4 .1-2.3 .1z" class="mb"/>
<path d="M167.5 138.4l 2.5-6.8 1.5-7.2-2.6 6.9z" class="fb"/>
<path d="M14.5 147.6l 2.1-2.5 1.3-7.4-2.2 2.6z" class="mb"/>
<path d="M213.3 84.4l 2.7-6.1 1.4-4.5-2.7 6.1z" class="qd"/>
<path d="M105.3 151.5l 2.3-6.1 1.4 3.3-2.3 6.1z" class="c"/>
<path d="M39.8 142.5l 2.3 .4 1.5 2.1-2.3-.5z" class="s"/>
<path d="M15.7 140.3l 2.2-2.6 1.1-9.1-2.1 2.6z" class="x"/>
<path d="M18.1 122.6l 2.1-2.6 1.3-5.8-2.1 2.7z" class="ac"/>
<path d="M72.6 163.6l 2.2-4.4 1.3-7.3-2.2 4.5z" class="jb"/>
<path d="M73.9 156.4l 2.2-4.5 1.3-8.6-2.2 4.6z" class="c"/>
<path d="M75.2 147.9l 2.2-4.6 1.3-7.3-2.2 4.6z" class="ib"/>
<path d="M67.6 168.6l 2.2-1.3 1.5 .1-2.3 1.3z" class="hb"/>
<path d="M174.3 112.7l 2.6-8.6 1.3-.1-2.6 8.7z" class="gd"/>
<path d="M16.9 131.2l 2.1-2.6 1.2-8.6-2.1 2.6z" class="u"/>
<path d="M109 148.7l 2.3-6.2 1.4-.3-2.3 6.3z" class="f"/>
<path d="M83.8 126.8l 2.2-3.8 1.5 3.7-2.3 3.8z" class="uc"/>
<path d="M57.9 145l 2.5 6.9 1.4 .1-2.4-6.9z" class="v"/>
<path d="M166.1 142.7l 2.6-6.7 1.3-4.4-2.5 6.8z" class="cb"/>
<path d="M32.4 121.6l 2.5 8.7 1.6 2-2.6-8.7z" class="z"/>
<path d="M25.2 110.1l 2.2 .2 1.6 1.9-2.3-.2z" class="gc"/>
<path d="M49.6 141.4l 2.2-3.3 1.5 3.1-2.2 3.3z" class="mb"/>
<path d="M116.8 121.9l 2.3-3.9 1.4-6.2-2.4 3.8z" class="tc"/>
<path d="M80.1 132l 2.2-5.5 1.5 .3-2.3 5.5z" class="ic"/>
<path d="M55.6 141.1l 2.3 3.9 1.5 .1-2.4-3.9z" class="ib"/>
<path d="M143.4 125.6l 2.5-6.7 1.2 6.3-2.5 6.7z" class="z"/>
<path d="M178.2 104l 2.6-7.2 1.2 4.3-2.7 7.3z" class="rc"/>
<path d="M211.7 92.6l 2.7-6 1.6-8.3-2.7 6.1z" class="id"/>
<path d="M101.6 150.1l 2.3-3.4 1.4 4.8-2.3 3.4z" class="c"/>
<path d="M71.3 167.4l 2.2-4.3 1.3-3.9-2.2 4.4z" class="k"/>
<path d="M115.4 130.2l 2.4-3.8 1.3-8.4-2.3 3.9z" class="u"/>
<path d="M191.4 110.7l 2.3 4.4 1.1 6.6-2.3-4.3z" class="bc"/>
<path d="M156.5 134.3l 2.3 5.3 1.2 4.1-2.3-5.3z" class="lb"/>
<path d="M210.2 101.6l 2.7-5.9 1.5-9.1-2.7 6z" class="ad"/>
<path d="M114.1 137.8l 2.3-3.8 1.4-7.6-2.4 3.8z" class="fb"/>
<path d="M184.5 97.8l 2.4 1.5 1 6.7-2.3-1.4z" class="pc"/>
<path d="M21.5 114.2l 2.2-2.4 1.5-1.7-2.2 2.4zM189.2 104.5l 2.2 6.2 1.1 6.7-2.3-6.2z" class="gc"/>
<path d="M129.9 129.7l 2.3 3.3 1.4-2-2.4-3.3z" class="y"/>
<path d="M127.6 123.4l 2.3 6.3 1.3-2-2.3-6.4z" class="z"/>
<path d="M158.8 139.6l 2.4 1.7 1.2 4.2-2.4-1.8z" class="ib"/>
<path d="M120.5 111.8l 2.4 .3 1.3-2.1-2.3-.4z" class="gc"/>
<path d="M149.5 121.8l 2.4 1 1.3 4.1-2.4-1z" class="zb"/>
<path d="M208.7 108.2l 2.7-5.9 1.5-6.6-2.7 5.9z" class="pc"/>
<path d="M45.8 142l 2.2-4.4 1.6 3.8-2.2 4.4z" class="mb"/>
<path d="M29.9 114.3l 2.5 7.3 1.5 2-2.5-7.4z" class="ac"/>
<path d="M154.2 127.7l 2.3 6.6 1.2 4.1-2.2-6.6z" class="x"/>
<path d="M186.9 99.3l 2.3 5.2 1 6.7-2.3-5.2z" class="lc"/>
<path d="M27.4 110.3l 2.5 4 1.5 1.9-2.4-4z" class="ec"/>
<path d="M139.7 127.2l 2.5-7.3 1.2 5.7-2.5 7.3z" class="z"/>
<path d="M193.7 115.1l 2.5 .3 1 6.5-2.4-.2z" class="ac"/>
<path d="M112.7 142.2l 2.3-3.7 1.4-4.5-2.3 3.8z" class="bb"/>
<path d="M125.2 116.6l 2.4 6.8 1.3-2.1-2.3-6.8z" class="kc"/>
<path d="M151.9 122.8l 2.3 4.9 1.3 4.1-2.3-4.9z" class="uc"/>
<path d="M36 139.6l 2.4 4.4 1.4-1.5-2.4-4.5z" class="a"/>
<path d="M61.3 156.7l 2.5 6.2 1.4 3-2.4-6.2z" class="p"/>
<path d="M203.5 115.8l 2.8-8.2 1.1 2.7-2.7 8.3z" class="ec"/>
<path d="M63.8 162.9l 2.3 2.7 1.5 3-2.4-2.7z" class="sb"/>
<path d="M122.9 112.1l 2.3 4.5 1.4-2.1-2.4-4.5z" class="cc"/>
<path d="M136 129.9l 2.4-5.2 1.3 2.5-2.4 5.2z" class="j"/>
<path d="M42.1 142.9l 2.2-2.9 1.5 2-2.2 3z" class="mb"/>
<path d="M33.5 131.9l 2.5 7.7 1.4-1.6-2.5-7.7z" class="d"/>
<path d="M95.5 141l 2.4 4.7 1.4 3.7-2.4-4.8z" class="b"/>
<path d="M199.8 117.5l 2.7-7.7 1 6-2.7 7.8z" class="bc"/>
<path d="M172.9 117.2l 2.6-8.5 1.4-4.6-2.6 8.6z" class="qc"/>
<path d="M132.2 133l 2.4-1.2 1.4-1.9-2.4 1.1z" class="y"/>
<path d="M16.6 145.1l 2.2-2.2 1.2-7.4-2.1 2.2zM164.8 142.7l 2.6-6.6 1.3-.1-2.6 6.7z" class="lb"/>
<path d="M20.2 120l 2.2-2.4 1.3-5.8-2.2 2.4z" class="dc"/>
<path d="M17.9 137.7l 2.1-2.2 1.2-9.2-2.2 2.3z" class="y"/>
<path d="M128.5 135.8l 2.4 3.2 1.3-6-2.3-3.3z" class="d"/>
<path d="M126.2 129.5l 2.3 6.3 1.4-6.1-2.3-6.3z" class="ic"/>
<path d="M86 123l 2.4 0 1.4 3.7-2.3 0z" class="zb"/>
<path d="M93.1 133.9l 2.4 7.1 1.4 3.6-2.3-7z" class="lb"/>
<path d="M119.1 118l 2.4 .4 1.4-6.3-2.4-.3z" class="dc"/>
<path d="M78.7 136l 2.3-5.5 1.3-4-2.2 5.5z" class="y"/>
<path d="M38.4 144l 2.3 .5 1.4-1.6-2.3-.4z" class="ib"/>
<path d="M58.9 148.8l 2.4 7.9 1.5 3-2.4-7.8z" class="i"/>
<path d="M51.8 138.1l 2.3-.1 1.5 3.1-2.3 .1z" class="lb"/>
<path d="M207.4 110.3l 2.7-5.8 1.3-2.2-2.7 5.9z" class="lc"/>
<path d="M19 128.6l 2.2-2.3 1.2-8.7-2.2 2.4z" class="vc"/>
<path d="M69.8 167.3l 2.3-4.3 1.4 .1-2.2 4.3z" class="sb"/>
<path d="M127.1 143.9l 2.4 3.2 1.4-8.1-2.4-3.2z" class="mb"/>
<path d="M97.9 145.7l 2.3 .8 1.4 3.6-2.3-.7z" class="db"/>
<path d="M161.2 141.3l 2.4-2.8 1.2 4.2-2.4 2.8z" class="mb"/>
<path d="M124.8 137.7l 2.3 6.2 1.4-8.1-2.3-6.3z" class="cb"/>
<path d="M31 169.8l 2.4 4.4 1.3-7.2-2.4-4.4z" class="m"/>
<path d="M125.8 151.4l 2.3 3.2 1.4-7.5-2.4-3.2z" class="v"/>
<path d="M117.8 126.4l 2.3 .3 1.4-8.3-2.4-.4z" class="vc"/>
<path d="M123.4 145.3l 2.4 6.1 1.3-7.5-2.3-6.2z" class="s"/>
<path d="M116.4 134l 2.4 .4 1.3-7.7-2.3-.3z" class="ic"/>
<path d="M171.5 124.4l 2.6-8.3 1.4-7.4-2.6 8.5z" class="bc"/>
<path d="M23.7 111.8l 2.3 .2 1.4-1.7-2.2-.2z" class="qc"/>
<path d="M32.3 162.6l 2.4 4.4 1.2-9-2.4-4.4z" class="eb"/>
<path d="M123.9 122.8l 2.3 6.7 1.4-6.1-2.4-6.8z" class="xb"/>
<path d="M30.9 123.2l 2.6 8.7 1.4-1.6-2.5-8.7z" class="u"/>
<path d="M34.7 145.2l 2.4 4.4 1.3-5.6-2.4-4.4z" class="ib"/>
<path d="M28.5 162.4l 2.5 7.4 1.3-7.2-2.5-7.4z" class="g"/>
<path d="M90.7 127.1l 2.4 6.8 1.5 3.7-2.4-6.8z" class="fb"/>
<path d="M74.8 159.2l 2.3-5.2 1.3-7.3-2.3 5.2z" class="pb"/>
<path d="M76.1 151.9l 2.3-5.2 1.3-8.7-2.3 5.3z" class="s"/>
<path d="M66.1 165.6l 2.3-1.3 1.4 3-2.2 1.3z" class="sb"/>
<path d="M121.5 118.4l 2.4 4.4 1.3-6.2-2.3-4.5z" class="tc"/>
<path d="M77.4 143.3l 2.3-5.3 1.3-7.5-2.3 5.5z" class="oc"/>
<path d="M122.5 131.1l 2.3 6.6 1.4-8.2-2.3-6.7z" class="ic"/>
<path d="M29.8 155.2l 2.5 7.4 1.2-9-2.5-7.5z" class="i"/>
<path d="M33.5 153.6l 2.4 4.4 1.2-8.4-2.4-4.4z" class="h"/>
<path d="M88.4 123l 2.3 4.1 1.5 3.7-2.4-4.1z" class="z"/>
<path d="M170 131.6l 2.6-8.2 1.5-7.3-2.6 8.3z" class="xb"/>
<path d="M107.6 145.4l 2.4-6.1 1.3 3.2-2.3 6.2z" class="s"/>
<path d="M111.3 142.5l 2.4-3.7 1.3-.3-2.3 3.7z" class="a"/>
<path d="M56.4 141.9l 2.5 6.9 1.5 3.1-2.5-6.9z" class="f"/>
<path d="M32.2 137.6l 2.5 7.6 1.3-5.6-2.5-7.7z" class="cb"/>
<path d="M121.1 138.7l 2.3 6.6 1.4-7.6-2.3-6.6z" class="bb"/>
<path d="M196.2 115.4l 2.6-4.4 1 6.5-2.6 4.4z" class="bc"/>
<path d="M124.4 155.8l 2.4 3.1 1.3-4.3-2.3-3.2z" class="l"/>
<path d="M82.3 126.5l 2.3-3.7 1.4 .2-2.2 3.8z" class="zb"/>
<path d="M130.9 139l 2.3-1.1 1.4-6.1-2.4 1.2z" class="d"/>
<path d="M122.1 149.7l 2.3 6.1 1.4-4.4-2.4-6.1z" class="h"/>
<path d="M54.1 138l 2.3 3.9 1.5 3.1-2.3-3.9z" class="a"/>
<path d="M120.1 126.7l 2.4 4.4 1.4-8.3-2.4-4.4z" class="zb"/>
<path d="M33.4 174.2l 2.3 .5 1.2-7.2-2.2-.5z" class="o"/>
<path d="M145.9 118.9l 2.4-3.4 1.2 6.3-2.4 3.4z" class="kc"/>
<path d="M115 138.5l 2.4 .4 1.4-4.5-2.4-.4z" class="oc"/>
<path d="M180.8 96.8l 2.5-3.3 1.2 4.3-2.5 3.3z" class="hd"/>
<path d="M31 146.1l 2.5 7.5 1.2-8.4-2.5-7.6z" class="s"/>
<path d="M118.8 134.4l 2.3 4.3 1.4-7.6-2.4-4.4z" class="fb"/>
<path d="M103.9 146.7l 2.4-6.1 1.3 4.8-2.3 6.1z" class="b"/>
<path d="M34.7 167l 2.2 .5 1.2-9-2.2-.5z" class="g"/>
<path d="M129.5 147.1l 2.4-1.1 1.3-8.1-2.3 1.1z" class="mb"/>
<path d="M28.4 116l 2.5 7.2 1.5-1.6-2.5-7.3z" class="tc"/>
<path d="M73.5 163.1l 2.2-5.2 1.4-3.9-2.3 5.2z" class="jb"/>
<path d="M37.1 149.6l 2.3 .5 1.3-5.6-2.3-.5z" class="b"/>
<path d="M176.9 104.1l 2.6-7.2 1.3-.1-2.6 7.2z" class="xc"/>
<path d="M128.1 154.6l 2.4-1.1 1.4-7.5-2.4 1.1z" class="h"/>
<path d="M26 112l 2.4 4 1.5-1.7-2.5-4z" class="gc"/>
<path d="M48 137.6l 2.2-3.3 1.6 3.8-2.2 3.3z" class="cb"/>
<path d="M119.7 143.2l 2.4 6.5 1.3-4.4-2.3-6.6z" class="ib"/>
<path d="M26 154l 2.5 8.4 1.3-7.2-2.6-8.5zM35.9 158l 2.2 .5 1.3-8.4-2.3-.5z" class="pb"/>
<path d="M168.7 136l 2.6-8.1 1.3-4.5-2.6 8.2z" class="j"/>
<path d="M18.8 142.9l 2.3 .2 1.2-7.4-2.3-.2z" class="cb"/>
<path d="M27.2 146.7l 2.6 8.5 1.2-9.1-2.6-8.6z" class="s"/>
<path d="M22.4 117.6l 2.3 .2 1.3-5.8-2.3-.2z" class="ec"/>
<path d="M20 135.5l 2.3 .2 1.2-9.2-2.3-.2z" class="j"/>
<path d="M117.4 138.9l 2.3 4.3 1.4-4.5-2.3-4.3z" class="bb"/>
<path d="M29.6 129l 2.6 8.6 1.3-5.7-2.6-8.7z" class="j"/>
<path d="M40.7 144.5l 2.2-2.9 1.4-1.6-2.2 2.9z" class="a"/>
<path d="M126.8 158.9l 2.3-1.1 1.4-4.3-2.4 1.1z" class="l"/>
<path d="M21.2 126.3l 2.3 .2 1.2-8.7-2.3-.2z" class="kc"/>
<path d="M134.6 131.8l 2.5-5.2 1.3-1.9-2.4 5.2z" class="uc"/>
<path d="M28.4 137.5l 2.6 8.6 1.2-8.5-2.6-8.6z" class="oc"/>
<path d="M100.2 146.5l 2.3-3.4 1.4 3.6-2.3 3.4z" class="b"/>
<path d="M44.3 140l 2.2-4.4 1.5 2-2.2 4.4z" class="cb"/>
<path d="M23.5 147l 2.5 7 1.2-7.3-2.5-7.1z" class="s"/>
<path d="M142.2 119.9l 2.4-6.7 1.3 5.7-2.5 6.7z" class="ac"/>
<path d="M190.3 106.6l 2.3 4.5 1.1 4-2.3-4.4z" class="gd"/>
<path d="M155.3 127.9l 2.4 5.3 1.1 6.4-2.3-5.3z" class="fb"/>
<path d="M21.1 143.1l 2.4 3.9 1.2-7.4-2.4-3.9z" class="lb"/>
<path d="M24.7 139.6l 2.5 7.1 1.2-9.2-2.5-7.1z" class="oc"/>
<path d="M27.1 121.8l 2.5 7.2 1.3-5.8-2.5-7.2z" class="yb"/>
<path d="M183.3 93.5l 2.4 1.6 1.2 4.2-2.4-1.5z" class="bd"/>
<path d="M94.1 140.8l 2.4 4.7 1.4 .2-2.4-4.7z" class="mb"/>
<path d="M188 100.3l 2.3 6.3 1.1 4.1-2.2-6.2z" class="jc"/>
<path d="M22.3 135.7l 2.4 3.9 1.2-9.2-2.4-3.9z" class="y"/>
<path d="M24.7 117.8l 2.4 4 1.3-5.8-2.4-4z" class="dc"/>
<path d="M123.1 156l 2.3 3.1 1.4-.2-2.4-3.1z" class="e"/>
<path d="M138.4 124.7l 2.5-7.4 1.3 2.6-2.5 7.3z" class="yb"/>
<path d="M206.3 107.6l 2.7-5.8 1.1 2.7-2.7 5.8z" class="jc"/>
<path d="M120.7 149.9l 2.4 6.1 1.3-.2-2.3-6.1z" class="c"/>
<path d="M148.3 115.5l 2.4 1 1.2 6.3-2.4-1z" class="ac"/>
<path d="M113.7 138.8l 2.3 .4 1.4-.3-2.4-.4z" class="cb"/>
<path d="M157.7 133.2l 2.3 1.7 1.2 6.4-2.4-1.7z" class="oc"/>
<path d="M81 130.5l 2.3-3.6 1.3-4.1-2.3 3.7z" class="u"/>
<path d="M25.9 130.4l 2.5 7.1 1.2-8.5-2.5-7.2z" class="uc"/>
<path d="M59.8 152.9l 2.4 6.2 1.6 3.8-2.5-6.2z" class="e"/>
<path d="M35.7 174.7l 2.2-2.7 1.2-7.3-2.2 2.8z" class="m"/>
<path d="M62.2 159.1l 2.4 2.8 1.5 3.7-2.3-2.7z" class="p"/>
<path d="M153 121.3l 2.3 6.6 1.2 6.4-2.3-6.6z" class="z"/>
<path d="M23.5 126.5l 2.4 3.9 1.2-8.6-2.4-4zM84.6 122.8l 2.4 0 1.4 .2-2.4 0z" class="vc"/>
<path d="M185.7 95.1l 2.3 5.2 1.2 4.2-2.3-5.2z" class="zc"/>
<path d="M163.6 138.5l 2.6-6.6 1.2 4.2-2.6 6.6zM91.7 133.7l 2.4 7.1 1.4 .2-2.4-7.1z" class="oc"/>
<path d="M192.6 111.1l 2.5 .3 1.1 4-2.5-.3z" class="gc"/>
<path d="M68.4 164.3l 2.2-4.2 1.5 2.9-2.3 4.3z" class="g"/>
<path d="M36.9 167.5l 2.2-2.8 1.2-9-2.2 2.8zM72.1 163l 2.2-5 1.4-.1-2.2 5.2z" class="eb"/>
<path d="M202.5 109.8l 2.8-8.2 1 6-2.8 8.2z" class="sc"/>
<path d="M175.5 108.7l 2.6-7 1.4-4.8-2.6 7.2z" class="pc"/>
<path d="M39.4 150.1l 2.2-2.9 1.3-5.6-2.2 2.9z" class="s"/>
<path d="M118.4 143.4l 2.3 6.5 1.4-.2-2.4-6.5z" class="b"/>
<path d="M150.7 116.5l 2.3 4.8 1.2 6.4-2.3-4.9z" class="yb"/>
<path d="M96.5 145.5l 2.3 .8 1.4 .2-2.3-.8z" class="s"/>
<path d="M133.2 137.9l 2.5-5.2 1.4-6.1-2.5 5.2z" class="y"/>
<path d="M167.4 136.1l 2.6-8.1 1.3-.1-2.6 8.1z" class="ic"/>
<path d="M38.1 158.5l 2.2-2.8 1.3-8.5-2.2 2.9z" class="h"/>
<path d="M77.1 154l 2.2-3.4 1.3-7.4-2.2 3.5z" class="f"/>
<path d="M116 139.2l 2.4 4.2 1.3-.2-2.3-4.3z" class="lb"/>
<path d="M78.4 146.7l 2.2-3.5 1.3-8.8-2.2 3.6z" class="bb"/>
<path d="M50.2 134.3l 2.3 0 1.6 3.7-2.3 .1z" class="x"/>
<path d="M79.7 138l 2.2-3.6 1.4-7.5-2.3 3.6z" class="y"/>
<path d="M57.4 145.1l 2.4 7.8 1.5 3.8-2.4-7.9z" class="v"/>
<path d="M131.9 146l 2.4-5.1 1.4-8.2-2.5 5.2z" class="bb"/>
<path d="M89.3 126.9l 2.4 6.8 1.4 .2-2.4-6.8z" class="j"/>
<path d="M130.5 153.5l 2.4-5.1 1.4-7.5-2.4 5.1z" class="b"/>
<path d="M110 139.3l 2.3-3.7 1.4 3.2-2.4 3.7z" class="cb"/>
<path d="M125.4 159.1l 2.4-1.1 1.3-.2-2.3 1.1z" class="hc"/>
<path d="M87 122.8l 2.3 4.1 1.4 .2-2.3-4.1z" class="xb"/>
<path d="M198.8 111l 2.7-7.6 1 6.4-2.7 7.7z" class="fc"/>
<path d="M174.1 116.1l 2.6-6.9 1.4-7.5-2.6 7z" class="sc"/>
<path d="M179.5 96.9l 2.6-3.2 1.2-.2-2.5 3.3z" class="ad"/>
<path d="M75.7 157.9l 2.3-3.3 1.3-4-2.2 3.4z" class="pb"/>
<path d="M64.6 161.9l 2.3-1.2 1.5 3.6-2.3 1.3z" class="p"/>
<path d="M54.9 138.1l 2.5 7 1.5 3.7-2.5-6.9z" class="a"/>
<path d="M160 134.9l 2.5-2.8 1.1 6.4-2.4 2.8z" class="d"/>
<path d="M172.6 123.4l 2.6-6.8 1.5-7.4-2.6 6.9z" class="dc"/>
<path d="M129.1 157.8l 2.4-5 1.4-4.4-2.4 5.1z" class="c"/>
<path d="M52.5 134.3l 2.4 3.8 1.5 3.8-2.3-3.9z" class="oc"/>
<path d="M106.3 140.6l 2.3-6.1 1.4 4.8-2.4 6.1z" class="bb"/>
<path d="M92.8 144.8l 2.3 4.8 1.4-4.1-2.4-4.7z" class="ib"/>
<path d="M42.9 141.6l 2.2-4.4 1.4-1.6-2.2 4.4z" class="oc"/>
<path d="M46.5 135.6l 2.2-3.3 1.5 2-2.2 3.3z" class="fb"/>
<path d="M83.3 126.9l 2.3 0 1.4-4.1-2.4 0z" class="xb"/>
<path d="M90.4 137.8l 2.4 7 1.3-4-2.4-7.1z" class="cb"/>
<path d="M195.1 111.4l 2.6-4.3 1.1 3.9-2.6 4.4z" class="gd"/>
<path d="M102.5 143.1l 2.4-6 1.4 3.5-2.4 6.1z" class="lb"/>
<path d="M88.8 168.4l 2.4 4.6 1.3-7.3-2.4-4.7z" class="sb"/>
<path d="M90.1 161l 2.4 4.7 1.3-8.7-2.4-4.7z" class="hc"/>
<path d="M98.8 146.3l 2.4-3.4 1.3 .2-2.3 3.4z" class="ib"/>
<path d="M95.1 149.6l 2.4 .7 1.3-4-2.3-.8z" class="b"/>
<path d="M171.3 127.9l 2.5-6.7 1.4-4.6-2.6 6.8z" class="kc"/>
<path d="M91.4 152.3l 2.4 4.7 1.3-7.4-2.3-4.8z" class="v"/>
<path d="M137.1 126.6l 2.4-7.3 1.4-2-2.5 7.4z" class="kc"/>
<path d="M144.6 113.2l 2.5-3.5 1.2 5.8-2.4 3.4z" class="ec"/>
<path d="M86.4 161.5l 2.4 6.9 1.3-7.4-2.4-6.9z" class="jb"/>
<path d="M79.3 150.6l 2.4 .1 1.3-7.4-2.4-.1z" class="s"/>
<path d="M189 107l 2.4 4.5 1.2-.4-2.3-4.5z" class="sc"/>
<path d="M87.7 154.1l 2.4 6.9 1.3-8.7-2.3-7z" class="c"/>
<path d="M88 131l 2.4 6.8 1.3-4.1-2.4-6.8z" class="ic"/>
<path d="M80.6 143.2l 2.4 .1 1.3-8.8-2.4-.1z" class="oc"/>
<path d="M81.9 134.4l 2.4 .1 1.3-7.6-2.3 0z" class="uc"/>
<path d="M89.1 145.3l 2.3 7 1.4-7.5-2.4-7z" class="ib"/>
<path d="M37.9 172l 2.1-4.1 1.3-7.3-2.2 4.1z" class="ob"/>
<path d="M91.2 173l 2.3 .9 1.3-7.4-2.3-.8z" class="m"/>
<path d="M87.4 172.4l 2.4 4.7 1.4-4.1-2.4-4.6z" class="o"/>
<path d="M121.7 152.7l 2.4 3.1 1.3 3.3-2.3-3.1z" class="i"/>
<path d="M182.1 93.7l 2.4 1.6 1.2-.2-2.4-1.6z" class="fd"/>
<path d="M85.6 126.9l 2.4 4.1 1.3-4.1-2.3-4.1z" class="zb"/>
<path d="M119.4 146.7l 2.3 6 1.4 3.3-2.4-6.1z" class="v"/>
<path d="M92.5 165.7l 2.3 .8 1.3-8.7-2.3-.8z" class="eb"/>
<path d="M112.3 135.6l 2.4 .3 1.3 3.3-2.3-.4z" class="d"/>
<path d="M186.8 100.6l 2.2 6.4 1.3-.4-2.3-6.3z" class="wc"/>
<path d="M39.1 164.7l 2.2-4.1 1.2-9.1-2.2 4.2z" class="l"/>
<path d="M93.8 157l 2.3 .8 1.4-7.5-2.4-.7z" class="c"/>
<path d="M41.6 147.2l 2.1-4.3 1.4-5.7-2.2 4.4z" class="lb"/>
<path d="M178.1 101.7l 2.6-3.1 1.4-4.9-2.6 3.2z" class="bd"/>
<path d="M74.3 158l 2.3-3.3 1.4-.1-2.3 3.3z" class="i"/>
<path d="M184.5 95.3l 2.3 5.3 1.2-.3-2.3-5.2z" class="bd"/>
<path d="M85.1 165.5l 2.3 6.9 1.4-4-2.4-6.9z" class="k"/>
<path d="M70.6 160.1l 2.2-5 1.5 2.9-2.2 5z" class="e"/>
<path d="M84 154.8l 2.4 6.7 1.3-7.4-2.4-6.7z" class="c"/>
<path d="M191.4 111.5l 2.4 .4 1.3-.5-2.5-.3z" class="gd"/>
<path d="M40.3 155.7l 2.2-4.2 1.2-8.6-2.1 4.3z" class="b"/>
<path d="M140.9 117.3l 2.4-6.7 1.3 2.6-2.4 6.7z" class="ec"/>
<path d="M78 154.6l 2.3 .2 1.4-4.1-2.4-.1z" class="h"/>
<path d="M127.8 158l 2.4-5 1.3-.2-2.4 5z" class="pb"/>
<path d="M85.3 147.4l 2.4 6.7 1.4-8.8-2.4-6.7z" class="ib"/>
<path d="M58.3 150.9l 2.5 6.3 1.4 1.9-2.4-6.2z" class="pb"/>
<path d="M117 140.2l 2.4 6.5 1.3 3.2-2.3-6.5z" class="mb"/>
<path d="M86.7 138.6l 2.4 6.7 1.3-7.5-2.4-6.8z" class="oc"/>
<path d="M89.8 177.1l 2.3 .8 1.4-4-2.3-.9z" class="nb"/>
<path d="M60.8 157.2l 2.3 2.7 1.5 2-2.4-2.8z" class="e"/>
<path d="M81.7 150.7l 2.3 4.1 1.3-7.4-2.3-4.1z" class="f"/>
<path d="M83 143.3l 2.3 4.1 1.4-8.8-2.4-4.1z" class="bb"/>
<path d="M84.3 134.5l 2.4 4.1 1.3-7.6-2.4-4.1z" class="ic"/>
<path d="M114.7 135.9l 2.3 4.3 1.4 3.2-2.4-4.2z" class="cb"/>
<path d="M205.3 101.6l 2.6-5.7 1.1 5.9-2.7 5.8z" class="zc"/>
<path d="M135.7 132.7l 2.4-7.2 1.4-6.2-2.4 7.3z" class="xb"/>
<path d="M166.2 131.9l 2.6-8.1 1.2 4.2-2.6 8.1z" class="z"/>
<path d="M66.9 160.7l 2.2-4.3 1.5 3.7-2.2 4.2z" class="hc"/>
<path d="M176.7 109.2l 2.5-3 1.5-7.6-2.6 3.1z" class="wc"/>
<path d="M82.7 158.8l 2.4 6.7 1.3-4-2.4-6.7z" class="hc"/>
<path d="M124.1 155.8l 2.4-1.1 1.3 3.3-2.4 1.1z" class="i"/>
<path d="M48.7 132.3l 2.3 0 1.5 2-2.3 0z" class="ic"/>
<path d="M154.1 122l 2.4 5.3 1.2 5.9-2.4-5.3z" class="zb"/>
<path d="M55.9 143.1l 2.4 7.8 1.5 2-2.4-7.8z" class="s"/>
<path d="M134.3 140.9l 2.4-7.2 1.4-8.2-2.4 7.2z" class="ic"/>
<path d="M80.3 154.8l 2.4 4 1.3-4-2.3-4.1z" class="c"/>
<path d="M170 128l 2.6-6.7 1.2-.1-2.5 6.7z" class="vc"/>
<path d="M97.5 150.3l 2.3-3.3 1.4-4.1-2.4 3.4z" class="ib"/>
<path d="M147.1 109.7l 2.4 .9 1.2 5.9-2.4-1z" class="qc"/>
<path d="M132.9 148.4l 2.4-7.2 1.4-7.5-2.4 7.2z" class="bb"/>
<path d="M175.2 116.6l 2.5-2.9 1.5-7.5-2.5 3z" class="fc"/>
<path d="M162.5 132.1l 2.5-6.6 1.2 6.4-2.6 6.6z" class="j"/>
<path d="M156.5 127.3l 2.3 1.7 1.2 5.9-2.3-1.7z" class="uc"/>
<path d="M151.8 115.5l 2.3 6.5 1.2 5.9-2.3-6.6z" class="ac"/>
<path d="M187.6 111.9l 2.4 4.5 1.4-4.9-2.4-4.5z" class="fc"/>
<path d="M45.1 137.2l 2.2-3.2 1.4-1.7-2.2 3.3z" class="y"/>
<path d="M86.1 172.5l 2.3 4.7 1.4-.1-2.4-4.7z" class="rb"/>
<path d="M93.5 173.9l 2.3-3.1 1.3-7.5-2.3 3.2z" class="sb"/>
<path d="M108.6 134.5l 2.4-3.7 1.3 4.8-2.3 3.7z" class="fb"/>
<path d="M201.5 103.4l 2.7-8.2 1.1 6.4-2.8 8.2z" class="zc"/>
<path d="M180.7 98.6l 2.4 1.6 1.4-4.9-2.4-1.6z" class="ad"/>
<path d="M185.4 105.5l 2.2 6.4 1.4-4.9-2.2-6.4z" class="rc"/>
<path d="M149.5 110.6l 2.3 4.9 1.2 5.8-2.3-4.8z" class="ec"/>
<path d="M63.1 159.9l 2.3-1.2 1.5 2-2.3 1.2zM94.8 166.5l 2.3-3.2 1.4-8.7-2.4 3.2z" class="hc"/>
<path d="M53.4 136.2l 2.5 6.9 1.5 2-2.5-7z" class="cb"/>
<path d="M96.1 157.8l 2.4-3.2 1.3-7.6-2.3 3.3z" class="v"/>
<path d="M131.5 152.8l 2.4-7.1 1.4-4.5-2.4 7.2z" class="s"/>
<path d="M51 132.3l 2.4 3.9 1.5 1.9-2.4-3.8z" class="y"/>
<path d="M183.1 100.2l 2.3 5.3 1.4-4.9-2.3-5.3z" class="hd"/>
<path d="M83.7 165.6l 2.4 6.9 1.3-.1-2.3-6.9z" class="sb"/>
<path d="M190 116.4l 2.4 .4 1.4-4.9-2.4-.4z" class="qc"/>
<path d="M173.8 121.2l 2.5-2.9 1.4-4.6-2.5 2.9z" class="cc"/>
<path d="M197.7 107.1l 2.7-7.6 1.1 3.9-2.7 7.6z" class="pc"/>
<path d="M76.6 154.7l 2.3 .2 1.4-.1-2.3-.2z" class="c"/>
<path d="M193.8 111.9l 2.6-4.3 1.3-.5-2.6 4.3z" class="lc"/>
<path d="M186.2 119.5l 2.3 4.5 1.5-7.6-2.4-4.5z" class="cc"/>
<path d="M88.4 177.2l 2.3 .9 1.4-.2-2.3-.8z" class="ab"/>
<path d="M101.2 142.9l 2.3-6 1.4 .2-2.4 6z" class="cb"/>
<path d="M92.1 177.9l 2.3-3 1.4-4.1-2.3 3.1z" class="rb"/>
<path d="M183.9 113.1l 2.3 6.4 1.4-7.6-2.2-6.4z" class="gd"/>
<path d="M179.2 106.2l 2.4 1.6 1.5-7.6-2.4-1.6z" class="xc"/>
<path d="M40 167.9l 2.2-2.9 1.3-7.4-2.2 3z" class="jb"/>
<path d="M104.9 137.1l 2.3-6.2 1.4 3.6-2.3 6.1z" class="fb"/>
<path d="M184.7 127l 2.3 4.6 1.5-7.6-2.3-4.5z" class="vc"/>
<path d="M41.3 160.6l 2.2-3 1.2-9.2-2.2 3.1z" class="h"/>
<path d="M81.3 159l 2.4 6.6 1.4-.1-2.4-6.7z" class="jb"/>
<path d="M43.7 142.9l 2.3-3.1 1.3-5.8-2.2 3.2z" class="x"/>
<path d="M182.4 120.7l 2.3 6.3 1.5-7.5-2.3-6.4zM188.5 124l 2.4 .5 1.5-7.7-2.4-.4z" class="bc"/>
<path d="M181.6 107.8l 2.3 5.3 1.5-7.6-2.3-5.3z" class="rc"/>
<path d="M177.7 113.7l 2.4 1.7 1.5-7.6-2.4-1.6z" class="sc"/>
<path d="M56.9 152.6l 2.5 6.2 1.4-1.6-2.5-6.3z" class="c"/>
<path d="M139.5 119.3l 2.5-6.7 1.3-2-2.4 6.7z" class="gc"/>
<path d="M158.8 129l 2.5-2.8 1.2 5.9-2.5 2.8z" class="z"/>
<path d="M78.9 154.9l 2.4 4.1 1.4-.2-2.4-4z" class="pb"/>
<path d="M59.4 158.8l 2.3 2.8 1.4-1.7-2.3-2.7z" class="l"/>
<path d="M42.5 151.5l 2.2-3.1 1.3-8.6-2.3 3.1z" class="a"/>
<path d="M72.8 155.1l 2.3-3.3 1.5 2.9-2.3 3.3z" class="c"/>
<path d="M187 131.6l 2.4 .5 1.5-7.6-2.4-.5z" class="zb"/>
<path d="M180.1 115.4l 2.3 5.3 1.5-7.6-2.3-5.3z" class="qc"/>
<path d="M143.3 110.6l 2.5-3.5 1.3 2.6-2.5 3.5z" class="sc"/>
<path d="M183.3 131.7l 2.3 4.5 1.4-4.6-2.3-4.6z" class="uc"/>
<path d="M126.5 154.7l 2.4-5 1.3 3.3-2.4 5z" class="h"/>
<path d="M47.3 134l 2.3 0 1.4-1.7-2.3 0z" class="j"/>
<path d="M181 125.3l 2.3 6.4 1.4-4.7-2.3-6.3z" class="vc"/>
<path d="M54.4 144.8l 2.5 7.8 1.4-1.7-2.4-7.8z" class="ib"/>
<path d="M176.3 118.3l 2.4 1.7 1.4-4.6-2.4-1.7z" class="ec"/>
<path d="M111 130.8l 2.3 .3 1.4 4.8-2.4-.3z" class="j"/>
<path d="M120.4 148l 2.4 3.1 1.3 4.7-2.4-3.1z" class="db"/>
<path d="M118.1 141.9l 2.3 6.1 1.3 4.7-2.3-6z" class="ib"/>
<path d="M130.2 153l 2.4-7 1.3-.3-2.4 7.1z" class="b"/>
<path d="M51.8 183.1l 2.5 6.1 1.2-7.3-2.4-6.1z" class="t"/>
<path d="M69.1 156.4l 2.2-4.9 1.5 3.6-2.2 5z" class="c"/>
<path d="M54.3 189.2l 2.3 2.8 1.3-7.3-2.4-2.8z" class="nc"/>
<path d="M185.6 136.2l 2.4 .6 1.4-4.7-2.4-.5z" class="ic"/>
<path d="M178.7 120l 2.3 5.3 1.4-4.6-2.3-5.3z" class="bc"/>
<path d="M192.4 116.8l 2.6-4.1 1.4-5.1-2.6 4.3z" class="fc"/>
<path d="M172.6 121.3l 2.5-2.9 1.2-.1-2.5 2.9z" class="bc"/>
<path d="M53.1 175.8l 2.4 6.1 1.3-9-2.5-6.1z" class="o"/>
<path d="M55.5 181.9l 2.4 2.8 1.2-9-2.3-2.8z" class="ab"/>
<path d="M90.7 178.1l 2.4-3 1.3-.2-2.3 3z" class="nb"/>
<path d="M99.8 147l 2.3-5.9 1.4-4.2-2.3 6z" class="bb"/>
<path d="M65.4 158.7l 2.2-4.1 1.5 1.8-2.2 4.3z" class="pb"/>
<path d="M115.7 135.4l 2.4 6.5 1.3 4.8-2.4-6.5z" class="cb"/>
<path d="M55.6 158.3l 2.4 6.2 1.4-5.7-2.5-6.2z" class="i"/>
<path d="M138.1 125.5l 2.5-6.7 1.4-6.2-2.5 6.7z" class="dc"/>
<path d="M61.7 161.6l 2.3-1.2 1.4-1.7-2.3 1.2z" class="e"/>
<path d="M58 164.5l 2.4 2.7 1.3-5.6-2.3-2.8z" class="jb"/>
<path d="M168.8 123.8l 2.6-6.6 1.2 4.1-2.6 6.7z" class="ac"/>
<path d="M52 137.9l 2.4 6.9 1.5-1.7-2.5-6.9z" class="oc"/>
<path d="M113.3 131.1l 2.4 4.3 1.3 4.8-2.3-4.3z" class="y"/>
<path d="M54.3 166.8l 2.5 6.1 1.2-8.4-2.4-6.2z" class="p"/>
<path d="M56.8 172.9l 2.3 2.8 1.3-8.5-2.4-2.7z" class="sb"/>
<path d="M49.6 134l 2.4 3.9 1.4-1.7-2.4-3.9z" class="ic"/>
<path d="M49.4 175.6l 2.4 7.5 1.3-7.3-2.5-7.6z" class="o"/>
<path d="M42.2 165l 2.3 0 1.3-7.4-2.3 0z" class="e"/>
<path d="M95.8 170.8l 2.3-5.7 1.3-7.5-2.3 5.7z" class="eb"/>
<path d="M84.6 169.7l 2.4 4.7 1.4 2.8-2.3-4.7z" class="hb"/>
<path d="M136.7 133.7l 2.5-6.6 1.4-8.3-2.5 6.7z" class="vc"/>
<path d="M190.9 124.5l 2.6-4 1.5-7.8-2.6 4.1z" class="cc"/>
<path d="M97.1 163.3l 2.3-5.7 1.4-8.9-2.3 5.9z" class="c"/>
<path d="M50.6 168.2l 2.5 7.6 1.2-9-2.4-7.8z" class="g"/>
<path d="M43.5 157.6l 2.3 0 1.2-9.2-2.3 0z" class="db"/>
<path d="M135.3 141.2l 2.5-6.5 1.4-7.6-2.5 6.6z" class="ic"/>
<path d="M122.8 151.1l 2.3-1.1 1.4 4.7-2.4 1.1z" class="v"/>
<path d="M98.5 154.6l 2.3-5.9 1.3-7.6-2.3 5.9z" class="ib"/>
<path d="M46 139.8l 2.3-.1 1.3-5.7-2.3 0z" class="y"/>
<path d="M152.9 119.3l 2.3 5.3 1.3 2.7-2.4-5.3z" class="ac"/>
<path d="M165 125.5l 2.6-8.1 1.2 6.4-2.6 8.1z" class="kc"/>
<path d="M53.1 150.5l 2.5 7.8 1.3-5.7-2.5-7.8z" class="f"/>
<path d="M189.4 132.1l 2.6-4 1.5-7.6-2.6 4z" class="yb"/>
<path d="M204.2 95.2l 2.7-5.7 1 6.4-2.6 5.7z" class="cd"/>
<path d="M145.8 107.1l 2.4 .9 1.3 2.6-2.4-.9z" class="jc"/>
<path d="M82.2 162.8l 2.4 6.9 1.5 2.8-2.4-6.9z" class="ob"/>
<path d="M56.6 192l 2.3-1.1 1.2-7.2-2.2 1z" class="wb"/>
<path d="M44.7 148.4l 2.3 0 1.3-8.7-2.3 .1z" class="bb"/>
<path d="M182 131.9l 2.3 4.6 1.3-.3-2.3-4.5z" class="j"/>
<path d="M75.1 151.8l 2.3 .3 1.5 2.8-2.3-.2z" class="v"/>
<path d="M51.9 159l 2.4 7.8 1.3-8.5-2.5-7.8z" class="i"/>
<path d="M87 174.4l 2.3 .9 1.4 2.8-2.3-.9z" class="rb"/>
<path d="M94.4 174.9l 2.3-5.6 1.4-4.2-2.3 5.7z" class="sb"/>
<path d="M196.4 107.6l 2.7-7.5 1.3-.6-2.7 7.6z" class="zc"/>
<path d="M155.2 124.6l 2.4 1.7 1.2 2.7-2.3-1.7z" class="vc"/>
<path d="M150.5 112.8l 2.4 6.5 1.2 2.7-2.3-6.5z" class="ec"/>
<path d="M46.9 168.8l 2.5 6.8 1.2-7.4-2.4-6.8z" class="ob"/>
<path d="M57.9 184.7l 2.2-1 1.3-9.1-2.3 1.1z" class="n"/>
<path d="M179.8 125.5l 2.2 6.4 1.3-.2-2.3-6.4z" class="xb"/>
<path d="M133.9 145.7l 2.5-6.5 1.4-4.5-2.5 6.5z" class="oc"/>
<path d="M107.2 130.9l 2.4-3.7 1.4 3.6-2.4 3.7z" class="z"/>
<path d="M44.5 165l 2.4 3.8 1.3-7.4-2.4-3.8z" class="hc"/>
<path d="M175.1 118.4l 2.4 1.8 1.2-.2-2.4-1.7z" class="dc"/>
<path d="M48.2 161.4l 2.4 6.8 1.3-9.2-2.5-6.8z" class="l"/>
<path d="M148.2 108l 2.3 4.8 1.3 2.7-2.3-4.9z" class="sc"/>
<path d="M103.5 136.9l 2.3-6.1 1.4 .1-2.3 6.2z" class="j"/>
<path d="M60.4 167.2l 2.3-1.1 1.3-5.7-2.3 1.2z" class="jb"/>
<path d="M184.3 136.5l 2.5 .6 1.2-.3-2.4-.6z" class="y"/>
<path d="M188 136.8l 2.6-3.9 1.4-4.8-2.6 4z" class="z"/>
<path d="M45.8 157.6l 2.4 3.8 1.2-9.2-2.4-3.8z" class="v"/>
<path d="M50.7 143.6l 2.4 6.9 1.3-5.7-2.4-6.9z" class="bb"/>
<path d="M79.8 156.2l 2.4 6.6 1.5 2.8-2.4-6.6z" class="e"/>
<path d="M200.4 99.5l 2.7-8.2 1.1 3.9-2.7 8.2z" class="fd"/>
<path d="M161.3 126.2l 2.6-6.7 1.1 6-2.5 6.6z" class="yb"/>
<path d="M59.1 175.7l 2.3-1.1 1.3-8.5-2.3 1.1z" class="sb"/>
<path d="M177.5 120.2l 2.3 5.3 1.2-.2-2.3-5.3z" class="tc"/>
<path d="M48.3 139.7l 2.4 3.9 1.3-5.7-2.4-3.9z" class="x"/>
<path d="M142 112.6l 2.4-3.5 1.4-2-2.5 3.5z" class="lc"/>
<path d="M49.4 152.2l 2.5 6.8 1.2-8.5-2.4-6.9z" class="b"/>
<path d="M77.4 152.1l 2.4 4.1 1.5 2.8-2.4-4.1z" class="h"/>
<path d="M47 148.4l 2.4 3.8 1.3-8.6-2.4-3.9z" class="a"/>
<path d="M71.3 151.5l 2.3-3.3 1.5 3.6-2.3 3.3z" class="f"/>
<path d="M64 160.4l 2.2-4.1 1.4-1.7-2.2 4.1z" class="c"/>
<path d="M128.9 149.7l 2.4-7 1.3 3.3-2.4 7z" class="ib"/>
<path d="M157.6 126.3l 2.5-2.9 1.2 2.8-2.5 2.8z" class="yb"/>
<path d="M195 112.7l 2.7-7.4 1.4-5.2-2.7 7.5z" class="wc"/>
<path d="M93.1 175.1l 2.2-5.6 1.4-.2-2.3 5.6z" class="r"/>
<path d="M89.3 175.3l 2.3-3 1.5 2.8-2.4 3z" class="o"/>
<path d="M171.4 117.2l 2.5-2.8 1.2 4-2.5 2.9z" class="ec"/>
<path d="M67.6 154.6l 2.3-5 1.4 1.9-2.2 4.9z" class="db"/>
<path d="M140.6 118.8l 2.4-3.5 1.4-6.2-2.4 3.5z" class="gd"/>
<path d="M125.1 150l 2.4-5 1.4 4.7-2.4 5z" class="s"/>
<path d="M132.6 146l 2.4-6.5 1.4-.3-2.5 6.5z" class="cb"/>
<path d="M109.6 127.2l 2.3 .4 1.4 3.5-2.3-.3z" class="zb"/>
<path d="M102.1 141.1l 2.4-6 1.3-4.3-2.3 6.1z" class="ic"/>
<path d="M58.9 190.9l 2.2-3.8 1.3-7.3-2.3 3.9z" class="gb"/>
<path d="M186.8 137.1l 2.5-3.9 1.3-.3-2.6 3.9z" class="j"/>
<path d="M116.7 138.4l 2.4 6 1.3 3.6-2.3-6.1z" class="cb"/>
<path d="M119.1 144.4l 2.3 3.2 1.4 3.5-2.4-3.1z" class="mb"/>
<path d="M139.2 127.1l 2.4-3.5 1.4-8.3-2.4 3.5z" class="bc"/>
<path d="M151.5 121.2l 2.4 5.3 1.3-1.9-2.3-5.3z" class="tc"/>
<path d="M144.4 109.1l 2.4 .9 1.4-2-2.4-.9z" class="rc"/>
<path d="M193.5 120.5l 2.7-7.3 1.5-7.9-2.7 7.4z" class="sc"/>
<path d="M137.8 134.7l 2.4-3.4 1.4-7.7-2.4 3.5z" class="xb"/>
<path d="M60.1 183.7l 2.3-3.9 1.2-9.2-2.2 4z" class="rb"/>
<path d="M149.2 114.8l 2.3 6.4 1.4-1.9-2.4-6.5z" class="gc"/>
<path d="M153.9 126.5l 2.3 1.6 1.4-1.8-2.4-1.7z" class="yb"/>
<path d="M98.1 165.1l 2.3-5.7 1.4-7.6-2.4 5.8z" class="pb"/>
<path d="M192 128.1l 2.7-7.1 1.5-7.8-2.7 7.3z" class="dc"/>
<path d="M62.7 166.1l 2.2-4 1.3-5.8-2.2 4.1z" class="l"/>
<path d="M114.3 131.9l 2.4 6.5 1.4 3.5-2.4-6.5z" class="y"/>
<path d="M99.4 157.6l 2.4-5.8 1.3-9-2.3 5.9z" class="s"/>
<path d="M100.8 148.7l 2.3-5.9 1.4-7.7-2.4 6z" class="oc"/>
<path d="M61.4 174.6l 2.2-4 1.3-8.5-2.2 4z" class="g"/>
<path d="M83.2 166.2l 2.4 4.7 1.4 3.5-2.4-4.7z" class="k"/>
<path d="M146.8 110l 2.4 4.8 1.3-2-2.3-4.8z" class="lc"/>
<path d="M111.9 127.6l 2.4 4.3 1.4 3.5-2.4-4.3zM180.9 127.9l 2.3 4.6 1.1 4-2.3-4.6z" class="u"/>
<path d="M136.4 139.2l 2.4-3.4 1.4-4.5-2.4 3.4z" class="j"/>
<path d="M167.6 117.4l 2.6-6.7 1.2 6.5-2.6 6.6z" class="gc"/>
<path d="M105.8 130.8l 2.4-3.6 1.4 0-2.4 3.7z" class="xb"/>
<path d="M178.6 121.5l 2.3 6.4 1.1 4-2.2-6.4z" class="yb"/>
<path d="M80.8 159.3l 2.4 6.9 1.4 3.5-2.4-6.9zM96.7 169.3l 2.3-5.7 1.4-4.2-2.3 5.7z" class="jb"/>
<path d="M73.6 148.2l 2.3 .3 1.5 3.6-2.3-.3z" class="s"/>
<path d="M121.4 147.6l 2.4-1.1 1.3 3.5-2.3 1.1z" class="ib"/>
<path d="M173.9 114.4l 2.4 1.7 1.2 4.1-2.4-1.8z" class="gc"/>
<path d="M190.6 132.9l 2.7-7 1.4-4.9-2.7 7.1z" class="yb"/>
<path d="M85.6 170.9l 2.3 .9 1.4 3.5-2.3-.9z" class="r"/>
<path d="M199.1 100.1l 2.8-8.1 1.2-.7-2.7 8.2z" class="ed"/>
<path d="M183.2 132.5l 2.4 .6 1.2 4-2.5-.6z" class="uc"/>
<path d="M176.3 116.1l 2.3 5.4 1.2 4-2.3-5.3z" class="dc"/>
<path d="M150.1 127.3l 2.3 5.2 1.5-6-2.4-5.3z" class="yb"/>
<path d="M143 115.3l 2.4 .9 1.4-6.2-2.4-.9z" class="sc"/>
<path d="M203.1 91.3l 2.7-5.6 1.1 3.8-2.7 5.7z" class="ld"/>
<path d="M78.3 152.6l 2.5 6.7 1.4 3.5-2.4-6.6z" class="c"/>
<path d="M147.8 120.9l 2.3 6.4 1.4-6.1-2.3-6.4z" class="dc"/>
<path d="M152.4 132.5l 2.4 1.6 1.4-6-2.3-1.6z" class="zb"/>
<path d="M163.9 119.5l 2.6-8.1 1.1 6-2.6 8.1z" class="ec"/>
<path d="M148.7 135.5l 2.3 5.1 1.4-8.1-2.3-5.2z" class="uc"/>
<path d="M141.6 123.6l 2.4 .9 1.4-8.3-2.4-.9z" class="cc"/>
<path d="M75.9 148.5l 2.4 4.1 1.5 3.6-2.4-4.1z" class="b"/>
<path d="M156.2 128.1l 2.5-2.8 1.4-1.9-2.5 2.9z" class="kc"/>
<path d="M147.3 142.9l 2.3 5.1 1.4-7.4-2.3-5.1z" class="d"/>
<path d="M140.2 131.3l 2.4 .8 1.4-7.6-2.4-.9z" class="vc"/>
<path d="M145.4 116.2l 2.4 4.7 1.4-6.1-2.4-4.8z" class="gd"/>
<path d="M160.1 123.4l 2.5-6.6 1.3 2.7-2.6 6.7z" class="dc"/>
<path d="M66.2 156.3l 2.3-4.9 1.4-1.8-2.3 5z" class="f"/>
<path d="M146.4 129.2l 2.3 6.3 1.4-8.2-2.3-6.4z" class="vc"/>
<path d="M151 140.6l 2.4 1.6 1.4-8.1-2.4-1.6z" class="y"/>
<path d="M144.9 136.7l 2.4 6.2 1.4-7.4-2.3-6.3z" class="j"/>
<path d="M149.6 148l 2.4 1.6 1.4-7.4-2.4-1.6z" class="bb"/>
<path d="M144 124.5l 2.4 4.7 1.4-8.3-2.4-4.7z" class="bc"/>
<path d="M91.6 172.3l 2.3-5.5 1.4 2.7-2.2 5.6z" class="k"/>
<path d="M69.9 149.6l 2.3-3.2 1.4 1.8-2.3 3.3z" class="mb"/>
<path d="M142.6 132.1l 2.3 4.6 1.5-7.5-2.4-4.7z" class="zb"/>
<path d="M145.9 147.3l 2.3 5 1.4-4.3-2.3-5.1z" class="a"/>
<path d="M135 139.5l 2.5-3.4 1.3-.3-2.4 3.4z" class="y"/>
<path d="M138.8 135.8l 2.4 .8 1.4-4.5-2.4-.8z" class="uc"/>
<path d="M131.3 142.7l 2.4-6.5 1.3 3.3-2.4 6.5z" class="d"/>
<path d="M95.3 169.5l 2.4-5.6 1.3-.3-2.3 5.7z" class="eb"/>
<path d="M104.5 135.1l 2.3-3.6 1.4-4.3-2.4 3.6z" class="zb"/>
<path d="M61.1 187.1l 2.2-4.6 1.3-7.4-2.2 4.7z" class="ab"/>
<path d="M189.3 133.2l 2.7-7 1.3-.3-2.7 7z" class="vc"/>
<path d="M108.2 127.2l 2.4 .4 1.3 0-2.3-.4z" class="yb"/>
<path d="M197.7 105.3l 2.7-8 1.5-5.3-2.8 8.1z" class="od"/>
<path d="M127.5 145l 2.5-7.1 1.3 4.8-2.4 7z" class="cb"/>
<path d="M143.6 141.2l 2.3 6.1 1.4-4.4-2.4-6.2z" class="d"/>
<path d="M148.2 152.3l 2.4 1.6 1.4-4.3-2.4-1.6z" class="s"/>
<path d="M115.3 138.3l 2.4 6 1.4 .1-2.4-6z" class="d"/>
<path d="M87.9 171.8l 2.3-2.9 1.4 3.4-2.3 3z" class="sb"/>
<path d="M117.7 144.3l 2.4 3.2 1.3 .1-2.3-3.2z" class="lb"/>
<path d="M185.6 133.1l 2.6-3.8 1.1 3.9-2.5 3.9z" class="u"/>
<path d="M62.4 179.8l 2.2-4.7 1.2-9.2-2.2 4.7z" class="sb"/>
<path d="M141.2 136.6l 2.4 4.6 1.3-4.5-2.3-4.6z" class="ic"/>
<path d="M154.8 134.1l 2.5-2.8 1.4-6-2.5 2.8z" class="xb"/>
<path d="M100.4 159.4l 2.3-3.4 1.4-7.7-2.3 3.5z" class="f"/>
<path d="M64.9 162.1l 2.2-4.8 1.4-5.9-2.3 4.9z" class="v"/>
<path d="M101.8 151.8l 2.3-3.5 1.4-9-2.4 3.5zM123.8 146.5l 2.4-5 1.3 3.5-2.4 5z" class="bb"/>
<path d="M113 131.8l 2.3 6.5 1.4 .1-2.4-6.5z" class="uc"/>
<path d="M103.1 142.8l 2.4-3.5 1.3-7.8-2.3 3.6z" class="ic"/>
<path d="M63.6 170.6l 2.2-4.7 1.3-8.6-2.2 4.8z" class="e"/>
<path d="M196.2 113.2l 2.7-7.9 1.5-8-2.7 8z" class="zc"/>
<path d="M170.2 110.7l 2.5-2.8 1.2 6.5-2.5 2.8z" class="lc"/>
<path d="M110.6 127.6l 2.4 4.2 1.3 .1-2.4-4.3z" class="xb"/>
<path d="M153.4 142.2l 2.5-2.8 1.4-8.1-2.5 2.8z" class="j"/>
<path d="M152 149.6l 2.4-2.8 1.5-7.4-2.5 2.8z" class="cb"/>
<path d="M194.7 121l 2.7-7.8 1.5-7.9-2.7 7.9z" class="lc"/>
<path d="M99 163.6l 2.4-3.3 1.3-4.3-2.3 3.4z" class="pb"/>
<path d="M81.7 164.4l 2.4 4.8 1.5 1.7-2.4-4.7z" class="eb"/>
<path d="M120.1 147.5l 2.3-1.1 1.4 .1-2.4 1.1z" class="lb"/>
<path d="M79.3 157.5l 2.4 6.9 1.5 1.8-2.4-6.9z" class="i"/>
<path d="M72.2 146.4l 2.3 .3 1.4 1.8-2.3-.3z" class="lb"/>
<path d="M201.9 92l 2.6-5.6 1.3-.7-2.7 5.6z" class="nd"/>
<path d="M137.5 136.1l 2.4 .8 1.3-.3-2.4-.8z" class="j"/>
<path d="M144.6 147.6l 2.3 4.9 1.3-.2-2.3-5z" class="mb"/>
<path d="M84.1 169.2l 2.4 .9 1.4 1.7-2.3-.9z" class="ob"/>
<path d="M150.6 153.9l 2.5-2.8 1.3-4.3-2.4 2.8z" class="ib"/>
<path d="M193.3 125.9l 2.7-7.7 1.4-5-2.7 7.8z" class="gc"/>
<path d="M158.7 125.3l 2.6-6.6 1.3-1.9-2.5 6.6z" class="cc"/>
<path d="M106.8 131.5l 2.4 .4 1.4-4.3-2.4-.4z" class="vc"/>
<path d="M142.2 141.4l 2.4 6.2 1.3-.3-2.3-6.1z" class="cb"/>
<path d="M179.8 121.5l 2.3 4.6 1.1 6.4-2.3-4.6z" class="kc"/>
<path d="M146.9 152.5l 2.4 1.6 1.3-.2-2.4-1.6z" class="b"/>
<path d="M114 142.6l 2.3 6 1.4-4.3-2.4-6z" class="oc"/>
<path d="M68.5 151.4l 2.2-3.1 1.5-1.9-2.3 3.2zM116.3 148.6l 2.4 3.1 1.4-4.2-2.4-3.2z" class="a"/>
<path d="M76.9 150.9l 2.4 6.6 1.5 1.8-2.5-6.7z" class="f"/>
<path d="M139.9 136.9l 2.3 4.5 1.4-.2-2.4-4.6z" class="y"/>
<path d="M177.5 115.1l 2.3 6.4 1.1 6.4-2.3-6.4z" class="cc"/>
<path d="M172.7 107.9l 2.4 1.8 1.2 6.4-2.4-1.7z" class="jc"/>
<path d="M74.5 146.7l 2.4 4.2 1.4 1.7-2.4-4.1z" class="mb"/>
<path d="M112.2 172.9l 2.4 3.1 1.3-7.6-2.3-3.1z" class="ob"/>
<path d="M109.8 167l 2.4 5.9 1.4-7.6-2.4-6z" class="jb"/>
<path d="M166.5 111.4l 2.6-6.6 1.1 5.9-2.6 6.7z" class="rc"/>
<path d="M102.7 156l 2.4 .4 1.4-7.6-2.4-.5z" class="s"/>
<path d="M111.6 136.1l 2.4 6.5 1.3-4.3-2.3-6.5z" class="j"/>
<path d="M182.1 126.1l 2.4 .6 1.1 6.4-2.4-.6z" class="vc"/>
<path d="M104.1 148.3l 2.4 .5 1.3-9.1-2.3-.4z" class="oc"/>
<path d="M111.2 159.3l 2.4 6 1.3-9-2.3-6z" class="h"/>
<path d="M113.6 165.3l 2.3 3.1 1.4-9-2.4-3.1z" class="l"/>
<path d="M105.5 139.3l 2.3 .4 1.4-7.8-2.4-.4z" class="uc"/>
<path d="M175.1 109.7l 2.4 5.4 1.1 6.4-2.3-5.4z" class="fc"/>
<path d="M112.6 150.3l 2.3 6 1.4-7.7-2.3-6z" class="mb"/>
<path d="M109.2 131.9l 2.4 4.2 1.4-4.3-2.4-4.2z" class="zb"/>
<path d="M114.9 156.3l 2.4 3.1 1.4-7.7-2.4-3.1z" class="b"/>
<path d="M162.6 116.8l 2.6-8.1 1.3 2.7-2.6 8.1z" class="sc"/>
<path d="M133.7 136.2l 2.5-3.4 1.3 3.3-2.5 3.4z" class="uc"/>
<path d="M63.3 182.5l 2.2-2.9 1.3-7.5-2.2 3z" class="hb"/>
<path d="M93.9 166.8l 2.3-5.6 1.5 2.7-2.4 5.6z" class="hc"/>
<path d="M97.7 163.9l 2.3-3.3 1.4-.3-2.4 3.3z" class="i"/>
<path d="M107.5 160.7l 2.3 6.3 1.4-7.7-2.4-6.3z" class="c"/>
<path d="M110.8 177.2l 2.4 3.1 1.4-4.3-2.4-3.1z" class="m"/>
<path d="M108.5 171.3l 2.3 5.9 1.4-4.3-2.4-5.9z" class="k"/>
<path d="M101.4 160.3l 2.3 .5 1.4-4.4-2.4-.4z" class="h"/>
<path d="M90.2 168.9l 2.3-5.5 1.4 3.4-2.3 5.5z" class="eb"/>
<path d="M108.8 153l 2.4 6.3 1.4-9-2.4-6.4z" class="ib"/>
<path d="M64.6 175.1l 2.2-3 1.3-9.2-2.3 3z" class="p"/>
<path d="M105.1 156.4l 2.4 4.3 1.3-7.7-2.3-4.2z" class="f"/>
<path d="M110.2 143.9l 2.4 6.4 1.4-7.7-2.4-6.5z" class="d"/>
<path d="M188.2 129.3l 2.7-7 1.1 3.9-2.7 7z" class="kc"/>
<path d="M118.7 151.7l 2.4-1 1.3-4.3-2.3 1.1z" class="a"/>
<path d="M157.3 131.3l 2.6-6.6 1.4-6-2.6 6.6z" class="tc"/>
<path d="M106.5 148.8l 2.3 4.2 1.4-9.1-2.4-4.2z" class="bb"/>
<path d="M200.4 97.3l 2.7-5.5 1.4-5.4-2.6 5.6z" class="ld"/>
<path d="M67.1 157.3l 2.3-3.1 1.3-5.9-2.2 3.1z" class="s"/>
<path d="M107.8 139.7l 2.4 4.2 1.4-7.8-2.4-4.2z" class="ic"/>
<path d="M65.8 165.9l 2.3-3 1.3-8.7-2.3 3.1z" class="c"/>
<path d="M114.6 176l 2.3-.9 1.4-7.7-2.4 1z" class="ob"/>
<path d="M106.1 165l 2.4 6.3 1.3-4.3-2.3-6.3z" class="hc"/>
<path d="M86.5 170.1l 2.3-3 1.4 1.8-2.3 2.9z" class="p"/>
<path d="M192 126.2l 2.7-7.5 1.3-.5-2.7 7.7z" class="cc"/>
<path d="M149.3 154.1l 2.4-2.8 1.4-.2-2.5 2.8z" class="s"/>
<path d="M130 137.9l 2.4-6.4 1.3 4.7-2.4 6.5z" class="j"/>
<path d="M80.3 166.3l 2.4 4.7 1.4-1.8-2.4-4.8z" class="eb"/>
<path d="M155.9 139.4l 2.5-6.5 1.5-8.2-2.6 6.6z" class="zb"/>
<path d="M115.9 168.4l 2.4-1 1.4-9-2.4 1z" class="l"/>
<path d="M122.4 146.4l 2.5-5 1.3 .1-2.4 5z" class="oc"/>
<path d="M103.7 160.8l 2.4 4.2 1.4-4.3-2.4-4.3z" class="pb"/>
<path d="M117.3 159.4l 2.4-1 1.4-7.7-2.4 1z" class="f"/>
<path d="M154.4 146.8l 2.6-6.4 1.4-7.5-2.5 6.5zM126.2 141.5l 2.4-7.1 1.4 3.5-2.5 7.1z" class="y"/>
<path d="M77.9 159.4l 2.4 6.9 1.4-1.9-2.4-6.9z" class="i"/>
<path d="M198.9 105.3l 2.7-5.4 1.5-8.1-2.7 5.5z" class="cd"/>
<path d="M70.7 148.3l 2.4 .3 1.4-1.9-2.3-.3z" class="bb"/>
<path d="M113.2 180.3l 2.4-.9 1.3-4.3-2.3 .9z" class="hb"/>
<path d="M82.7 171l 2.4 .9 1.4-1.8-2.4-.9z" class="g"/>
<path d="M75.1 197.1l 2.4 4.6 1.3-7.3-2.4-4.6z" class="mc"/>
<path d="M197.4 113.2l 2.7-5.3 1.5-8-2.7 5.4z" class="zc"/>
<path d="M184.5 126.7l 2.6-3.7 1.1 6.3-2.6 3.8z" class="kc"/>
<path d="M76.4 189.8l 2.4 4.6 1.3-9.1-2.4-4.6z" class="t"/>
<path d="M153.1 151.1l 2.5-6.4 1.4-4.3-2.6 6.4z" class="cb"/>
<path d="M136.2 132.8l 2.4 .8 1.3 3.3-2.4-.8z" class="z"/>
<path d="M75.5 152.7l 2.4 6.7 1.4-1.9-2.4-6.6z" class="f"/>
<path d="M72.7 190.5l 2.4 6.6 1.3-7.3-2.4-6.7z" class="w"/>
<path d="M143.3 144.2l 2.3 5 1.3 3.3-2.3-4.9z" class="lb"/>
<path d="M109.5 177.5l 2.3 3.1 1.4-.3-2.4-3.1z" class="o"/>
<path d="M107.1 171.6l 2.4 5.9 1.3-.3-2.3-5.9z" class="sb"/>
<path d="M65.5 179.6l 2.4 .4 1.3-7.5-2.4-.4z" class="r"/>
<path d="M100 160.6l 2.3 .5 1.4-.3-2.3-.5z" class="c"/>
<path d="M77.5 201.7l 2.3 1 1.3-7.3-2.3-1z" class="vb"/>
<path d="M73.1 148.6l 2.4 4.1 1.4-1.8-2.4-4.2z" class="a"/>
<path d="M79 172.1l 2.4 4.7 1.3-5.8-2.4-4.7z" class="g"/>
<path d="M74 183.1l 2.4 6.7 1.3-9.1-2.4-6.8z" class="nb"/>
<path d="M140.9 138.1l 2.4 6.1 1.3 3.4-2.4-6.2z" class="x"/>
<path d="M77.7 180.7l 2.4 4.6 1.3-8.5-2.4-4.7z" class="hb"/>
<path d="M196 118.2l 2.6-5.2 1.5-5.1-2.7 5.3z" class="jc"/>
<path d="M66.8 172.1l 2.4 .4 1.2-9.3-2.3-.3z" class="jb"/>
<path d="M145.6 149.2l 2.4 1.5 1.3 3.4-2.4-1.6z" class="ib"/>
<path d="M78.8 194.4l 2.3 1 1.3-9.1-2.3-1z" class="w"/>
<path d="M169.1 104.8l 2.5-2.8 1.1 5.9-2.5 2.8z" class="hd"/>
<path d="M138.6 133.6l 2.3 4.5 1.3 3.3-2.3-4.5z" class="j"/>
<path d="M76.6 165.3l 2.4 6.8 1.3-5.8-2.4-6.9z" class="e"/>
<path d="M69.4 154.2l 2.3 .3 1.4-5.9-2.4-.3z" class="mb"/>
<path d="M104.7 165.3l 2.4 6.3 1.4-.3-2.4-6.3z" class="eb"/>
<path d="M70.2 184l 2.5 6.5 1.3-7.4-2.4-6.5z" class="ab"/>
<path d="M75.3 173.9l 2.4 6.8 1.3-8.6-2.4-6.8z" class="ob"/>
<path d="M161.3 118.7l 2.6-8.1 1.3-1.9-2.6 8.1z" class="lc"/>
<path d="M68.1 162.9l 2.3 .3 1.3-8.7-2.3-.3z" class="v"/>
<path d="M81.4 176.8l 2.3 .9 1.4-5.8-2.4-.9z" class="k"/>
<path d="M102.3 161.1l 2.4 4.2 1.4-.3-2.4-4.2z" class="i"/>
<path d="M121.1 150.7l 2.4-4.9 1.4-4.4-2.5 5z" class="cb"/>
<path d="M80.1 185.3l 2.3 1 1.3-8.6-2.3-.9z" class="nb"/>
<path d="M67.9 180l 2.3 4 1.4-7.4-2.4-4.1z" class="hb"/>
<path d="M71.6 176.6l 2.4 6.5 1.3-9.2-2.5-6.6z" class="sb"/>
<path d="M96.2 161.2l 2.4-3.2 1.4 2.6-2.3 3.3z" class="c"/>
<path d="M111.8 180.6l 2.4-.8 1.4-.4-2.4 .9z" class="o"/>
<path d="M69.2 172.5l 2.4 4.1 1.2-9.3-2.4-4.1z" class="p"/>
<path d="M116.9 175.1l 2.4-4.7 1.4-7.7-2.4 4.7z" class="eb"/>
<path d="M74.1 158.6l 2.5 6.7 1.3-5.9-2.4-6.7z" class="v"/>
<path d="M85.1 171.9l 2.3-2.9 1.4-1.9-2.3 3z" class="eb"/>
<path d="M72.8 167.3l 2.5 6.6 1.3-8.6-2.5-6.7z" class="e"/>
<path d="M118.3 167.4l 2.4-4.7 1.4-9.1-2.4 4.8z" class="c"/>
<path d="M71.7 154.5l 2.4 4.1 1.4-5.9-2.4-4.1z" class="s"/>
<path d="M119.7 158.4l 2.4-4.8 1.4-7.8-2.4 4.9z" class="ib"/>
<path d="M165.2 108.7l 2.6-6.6 1.3 2.7-2.6 6.6z" class="hd"/>
<path d="M70.4 163.2l 2.4 4.1 1.3-8.7-2.4-4.1z" class="c"/>
<path d="M92.5 163.4l 2.3-5.6 1.4 3.4-2.3 5.6z" class="pb"/>
<path d="M178.6 115.6l 2.4 4.6 1.1 5.9-2.3-4.6z" class="gc"/>
<path d="M88.8 167.1l 2.3-5.4 1.4 1.7-2.3 5.5z" class="e"/>
<path d="M151.7 151.3l 2.6-6.4 1.3-.2-2.5 6.4z" class="bb"/>
<path d="M115.6 179.4l 2.3-4.6 1.4-4.4-2.4 4.7z" class="sb"/>
<path d="M132.4 131.5l 2.5-3.5 1.3 4.8-2.5 3.4z" class="xb"/>
<path d="M176.3 109.1l 2.3 6.5 1.2 5.9-2.3-6.4z" class="lc"/>
<path d="M79.8 202.7l 2.3-2.7 1.3-7.3-2.3 2.7z" class="rd"/>
<path d="M171.6 102l 2.4 1.8 1.1 5.9-2.4-1.8z" class="yc"/>
<path d="M148 150.7l 2.5-2.8 1.2 3.4-2.4 2.8z" class="a"/>
<path d="M190.9 122.3l 2.7-7.5 1.1 3.9-2.7 7.5z" class="qc"/>
<path d="M159.9 124.7l 2.5-8 1.5-6.1-2.6 8.1z" class="fc"/>
<path d="M194.7 118.7l 2.7-5.2 1.2-.5-2.6 5.2z" class="lc"/>
<path d="M181 120.2l 2.4 .7 1.1 5.8-2.4-.6z" class="cc"/>
<path d="M81.1 195.4l 2.3-2.7 1.3-9.2-2.3 2.8z" class="gb"/>
<path d="M174 103.8l 2.3 5.3 1.2 6-2.4-5.4z" class="xc"/>
<path d="M124.9 141.4l 2.4-7 1.3 0-2.4 7.1z" class="uc"/>
<path d="M158.4 132.9l 2.6-7.9 1.4-8.3-2.5 8z" class="dc"/>
<path d="M187.1 123l 2.7-7 1.1 6.3-2.7 7z" class="ec"/>
<path d="M83.7 177.7l 2.3-2.8 1.4-5.9-2.3 2.9z" class="ob"/>
<path d="M82.4 186.3l 2.3-2.8 1.3-8.6-2.3 2.8z" class="o"/>
<path d="M128.6 134.4l 2.5-6.4 1.3 3.5-2.4 6.4zM157 140.4l 2.5-7.9 1.5-7.5-2.6 7.9z" class="xb"/>
<path d="M108.1 174.9l 2.4 3.2 1.3 2.5-2.3-3.1z" class="m"/>
<path d="M105.7 169l 2.4 5.9 1.4 2.6-2.4-5.9z" class="ob"/>
<path d="M98.6 158l 2.3 .5 1.4 2.6-2.3-.5z" class="v"/>
<path d="M155.6 144.7l 2.5-7.8 1.4-4.4-2.5 7.9z" class="uc"/>
<path d="M103.3 162.7l 2.4 6.3 1.4 2.6-2.4-6.3z" class="hc"/>
<path d="M114.2 179.8l 2.4-4.6 1.3-.4-2.3 4.6z" class="r"/>
<path d="M134.9 128l 2.4 .9 1.3 4.7-2.4-.8z" class="yb"/>
<path d="M100.9 158.5l 2.4 4.2 1.4 2.6-2.4-4.2z" class="c"/>
<path d="M142 139.4l 2.4 5 1.2 4.8-2.3-5z" class="x"/>
<path d="M183.4 120.9l 2.6-3.8 1.1 5.9-2.6 3.7z" class="gc"/>
<path d="M110.5 178.1l 2.3-.9 1.4 2.6-2.4 .8z" class="m"/>
<path d="M139.6 133.4l 2.4 6 1.3 4.8-2.4-6.1z" class="uc"/>
<path d="M123.5 145.8l 2.4-7 1.4-4.4-2.4 7z" class="ic"/>
<path d="M163.9 110.6l 2.6-6.6 1.3-1.9-2.6 6.6z" class="yc"/>
<path d="M87.4 169l 2.3-5.3 1.4-2-2.3 5.4z" class="l"/>
<path d="M144.4 144.4l 2.4 1.5 1.2 4.8-2.4-1.5z" class="cb"/>
<path d="M167.8 102.1l 2.5-2.9 1.3 2.8-2.5 2.8z" class="fd"/>
<path d="M137.3 128.9l 2.3 4.5 1.3 4.7-2.3-4.5z" class="xb"/>
<path d="M119.3 170.4l 2.4-6.6 1.4-7.8-2.4 6.7z" class="pb"/>
<path d="M94.8 157.8l 2.4-3.2 1.4 3.4-2.4 3.2z" class="f"/>
<path d="M120.7 162.7l 2.4-6.7 1.4-9.2-2.4 6.8z" class="s"/>
<path d="M122.1 153.6l 2.4-6.8 1.4-8-2.4 7z" class="oc"/>
<path d="M150.5 147.9l 2.5-6.4 1.3 3.4-2.6 6.4z" class="d"/>
<path d="M82.1 200l 2.3-5.1 1.3-7.4-2.3 5.2z" class="nc"/>
<path d="M91.1 161.7l 2.3-5.5 1.4 1.6-2.3 5.6z" class="v"/>
<path d="M117.9 174.8l 2.4-6.6 1.4-4.4-2.4 6.6z" class="jb"/>
<path d="M83.4 192.7l 2.3-5.2 1.3-9.2-2.3 5.2z" class="ab"/>
<path d="M193.6 114.8l 2.6-5.2 1.2 3.9-2.7 5.2z" class="rc"/>
<path d="M154.3 144.9l 2.5-7.8 1.3-.2-2.5 7.8z" class="ic"/>
<path d="M86 174.9l 2.3-5.3 1.4-5.9-2.3 5.3z" class="jb"/>
<path d="M177.4 112.8l 2.4 4.7 1.2 2.7-2.4-4.6z" class="lc"/>
<path d="M84.7 183.5l 2.3-5.2 1.3-8.7-2.3 5.3z" class="sb"/>
<path d="M162.4 116.7l 2.6-6.5 1.5-6.2-2.6 6.6z" class="xc"/>
<path d="M131.1 128l 2.4-3.4 1.4 3.4-2.5 3.5z" class="tc"/>
<path d="M170.3 99.2l 2.5 1.9 1.2 2.7-2.4-1.8z" class="od"/>
<path d="M175.1 106.4l 2.3 6.4 1.2 2.8-2.3-6.5z" class="xc"/>
<path d="M127.3 134.4l 2.4-6.4 1.4 0-2.5 6.4z" class="yb"/>
<path d="M146.8 145.9l 2.4-2.9 1.3 4.9-2.5 2.8z" class="oc"/>
<path d="M161 125l 2.5-6.5 1.5-8.3-2.6 6.5z" class="sc"/>
<path d="M189.8 116l 2.7-7.5 1.1 6.3-2.7 7.5z" class="jc"/>
<path d="M179.8 117.5l 2.4 .6 1.2 2.8-2.4-.7z" class="fc"/>
<path d="M172.8 101.1l 2.3 5.3 1.2 2.7-2.3-5.3z" class="ad"/>
<path d="M159.5 132.5l 2.6-6.4 1.4-7.6-2.5 6.5z" class="cc"/>
<path d="M112.8 177.2l 2.4-4.5 1.4 2.5-2.4 4.6z" class="k"/>
<path d="M97.2 154.6l 2.3 .5 1.4 3.4-2.3-.5z" class="b"/>
<path d="M106.7 171.6l 2.4 3.1 1.4 3.4-2.4-3.2z" class="ob"/>
<path d="M104.3 165.7l 2.4 5.9 1.4 3.3-2.4-5.9z" class="jb"/>
<path d="M116.6 175.2l 2.4-6.5 1.3-.5-2.4 6.6z" class="eb"/>
<path d="M166.5 104l 2.5-2.8 1.3-2-2.5 2.9z" class="cd"/>
<path d="M186 117.1l 2.7-7 1.1 5.9-2.7 7z" class="jc"/>
<path d="M101.9 159.4l 2.4 6.3 1.4 3.3-2.4-6.3z" class="pb"/>
<path d="M158.1 136.9l 2.6-6.4 1.4-4.4-2.6 6.4z" class="kc"/>
<path d="M99.5 155.1l 2.4 4.3 1.4 3.3-2.4-4.2z" class="f"/>
<path d="M133.5 124.6l 2.5 .8 1.3 3.5-2.4-.9z" class="dc"/>
<path d="M89.7 163.7l 2.3-5.5 1.4-2-2.3 5.5z" class="db"/>
<path d="M109.1 174.7l 2.4-.8 1.3 3.3-2.3 .9z" class="ob"/>
<path d="M125.9 138.8l 2.4-6.3 1.4-4.5-2.4 6.4z" class="vc"/>
<path d="M140.7 135.9l 2.4 4.9 1.3 3.6-2.4-5z" class="uc"/>
<path d="M182.2 118.1l 2.6-3.7 1.2 2.7-2.6 3.8z" class="lc"/>
<path d="M93.4 156.2l 2.3-3.2 1.5 1.6-2.4 3.2z" class="ib"/>
<path d="M138.3 129.9l 2.4 6 1.3 3.5-2.4-6z" class="xb"/>
<path d="M121.7 163.8l 2.4-6.1 1.4-7.9-2.4 6.2z" class="s"/>
<path d="M143.1 140.8l 2.4 1.5 1.3 3.6-2.4-1.5z" class="y"/>
<path d="M136 125.4l 2.3 4.5 1.3 3.5-2.3-4.5z" class="tc"/>
<path d="M84.4 194.9l 2.2-5.2 1.4-7.4-2.3 5.2z" class="kb"/>
<path d="M123.1 156l 2.4-6.2 1.4-9.3-2.4 6.3z" class="oc"/>
<path d="M176.1 114.7l 2.3 4.6 1.4-1.8-2.4-4.7z" class="jc"/>
<path d="M124.5 146.8l 2.4-6.3 1.4-8-2.4 6.3z" class="uc"/>
<path d="M165 110.2l 2.5-2.8 1.5-6.2-2.5 2.8z" class="ad"/>
<path d="M85.7 187.5l 2.3-5.2 1.3-9.3-2.3 5.3z" class="m"/>
<path d="M153 141.5l 2.6-7.8 1.2 3.4-2.5 7.8z" class="z"/>
<path d="M169 101.2l 2.4 1.8 1.4-1.9-2.5-1.9z" class="ed"/>
<path d="M173.8 108.3l 2.3 6.4 1.3-1.9-2.3-6.4z" class="zc"/>
<path d="M120.3 168.2l 2.4-6 1.4-4.5-2.4 6.1z" class="h"/>
<path d="M149.2 143l 2.5-6.4 1.3 4.9-2.5 6.4z" class="ic"/>
<path d="M129.7 128l 2.5-3.4 1.3 0-2.4 3.4z" class="cc"/>
<path d="M88.3 169.6l 2.3-5.4 1.4-6-2.3 5.5z" class="c"/>
<path d="M171.4 103l 2.4 5.3 1.3-1.9-2.3-5.3z" class="fd"/>
<path d="M178.4 119.3l 2.5 .7 1.3-1.9-2.4-.6z" class="sc"/>
<path d="M163.5 118.5l 2.6-2.8 1.4-8.3-2.5 2.8z" class="wc"/>
<path d="M87 178.3l 2.3-5.3 1.3-8.8-2.3 5.4z" class="jb"/>
<path d="M156.8 137.1l 2.6-6.4 1.3-.2-2.6 6.4z" class="yb"/>
<path d="M162.1 126.1l 2.5-2.8 1.5-7.6-2.6 2.8z" class="gd"/>
<path d="M192.5 108.5l 2.7-5.2 1 6.3-2.6 5.2z" class="yc"/>
<path d="M174.6 120.8l 2.4 4.6 1.4-6.1-2.3-4.6z" class="fc"/>
<path d="M145.5 142.3l 2.4-2.9 1.3 3.6-2.4 2.9z" class="ic"/>
<path d="M115.2 172.7l 2.4-6.5 1.4 2.5-2.4 6.5z" class="hc"/>
<path d="M95.7 153l 2.4 .5 1.4 1.6-2.3-.5z" class="a"/>
<path d="M160.7 130.5l 2.5-2.7 1.4-4.5-2.5 2.8z" class="cc"/>
<path d="M167.5 107.4l 2.5 1.8 1.4-6.2-2.4-1.8z" class="fd"/>
<path d="M102.9 164.1l 2.4 5.9 1.4 1.6-2.4-5.9z" class="l"/>
<path d="M105.3 170l 2.4 3.1 1.4 1.6-2.4-3.1z" class="eb"/>
<path d="M172.3 114.5l 2.3 6.3 1.5-6.1-2.3-6.4z" class="pc"/>
<path d="M111.5 173.9l 2.3-4.5 1.4 3.3-2.4 4.5z" class="eb"/>
<path d="M173.1 129l 2.4 4.5 1.5-8.1-2.4-4.6z" class="cc"/>
<path d="M170 109.2l 2.3 5.3 1.5-6.2-2.4-5.3z" class="yc"/>
<path d="M177 125.4l 2.4 .7 1.5-6.1-2.5-.7z" class="qc"/>
<path d="M166.1 115.7l 2.4 1.8 1.5-8.3-2.5-1.8z" class="xc"/>
<path d="M171.7 136.4l 2.3 4.5 1.5-7.4-2.4-4.5z" class="vc"/>
<path d="M119 168.7l 2.4-5.9 1.3-.6-2.4 6z" class="pb"/>
<path d="M170.8 122.7l 2.3 6.3 1.5-8.2-2.3-6.3z" class="gd"/>
<path d="M100.5 157.8l 2.4 6.3 1.4 1.6-2.4-6.3z" class="db"/>
<path d="M92 158.2l 2.3-3.2 1.4-2-2.3 3.2z" class="mb"/>
<path d="M188.7 110.1l 2.7-7.5 1.1 5.9-2.7 7.5z" class="yc"/>
<path d="M132.2 124.6l 2.4 .8 1.4 0-2.5-.8z" class="ec"/>
<path d="M98.1 153.5l 2.4 4.3 1.4 1.6-2.4-4.3z" class="ib"/>
<path d="M128.3 132.5l 2.5-3.4 1.4-4.5-2.5 3.4z" class="bc"/>
<path d="M164.6 123.3l 2.4 1.8 1.5-7.6-2.4-1.8z" class="fc"/>
<path d="M169.4 130.2l 2.3 6.2 1.4-7.4-2.3-6.3z" class="bc"/>
<path d="M180.9 120l 2.6-3.7 1.3-1.9-2.6 3.7z" class="jc"/>
<path d="M168.5 117.5l 2.3 5.2 1.5-8.2-2.3-5.3z" class="rc"/>
<path d="M175.5 133.5l 2.4 .7 1.5-8.1-2.4-.7z" class="bc"/>
<path d="M139.4 135.9l 2.3 4.9 1.4 0-2.4-4.9z" class="u"/>
<path d="M184.8 114.4l 2.7-6.9 1.2 2.6-2.7 7z" class="xc"/>
<path d="M167 125.1l 2.4 5.1 1.4-7.5-2.3-5.2z" class="qc"/>
<path d="M174 140.9l 2.5 .7 1.4-7.4-2.4-.7z" class="zb"/>
<path d="M124.1 157.7l 2.4-3.2 1.5-7.9-2.5 3.2z" class="bb"/>
<path d="M107.7 173.1l 2.4-.7 1.4 1.5-2.4 .8z" class="eb"/>
<path d="M137 129.9l 2.4 6 1.3 0-2.4-6z" class="kc"/>
<path d="M86.6 189.7l 2.4-3 1.3-7.5-2.3 3.1z" class="o"/>
<path d="M125.5 149.8l 2.5-3.2 1.4-9.4-2.5 3.3z" class="ic"/>
<path d="M170.3 140.7l 2.3 4.4 1.4-4.2-2.3-4.5z" class="z"/>
<path d="M134.6 125.4l 2.4 4.5 1.3 0-2.3-4.5z" class="dc"/>
<path d="M141.7 140.8l 2.4 1.5 1.4 0-2.4-1.5z" class="uc"/>
<path d="M126.9 140.5l 2.5-3.3 1.4-8.1-2.5 3.4z" class="vc"/>
<path d="M88 182.3l 2.3-3.1 1.3-9.3-2.3 3.1z" class="g"/>
<path d="M163.2 127.8l 2.4 1.7 1.4-4.4-2.4-1.8z" class="ec"/>
<path d="M168 134.6l 2.3 6.1 1.4-4.3-2.3-6.2z" class="vc"/>
<path d="M122.7 162.2l 2.5-3.1 1.3-4.6-2.4 3.2z" class="s"/>
<path d="M90.6 164.2l 2.4-3.2 1.3-6-2.3 3.2z" class="b"/>
<path d="M159.4 130.7l 2.5-2.8 1.3-.1-2.5 2.7zM165.6 129.5l 2.4 5.1 1.4-4.4-2.4-5.1z" class="bc"/>
<path d="M172.6 145.1l 2.5 .7 1.4-4.2-2.5-.7z" class="j"/>
<path d="M89.3 173l 2.3-3.1 1.4-8.9-2.4 3.2z" class="pb"/>
<path d="M155.6 133.7l 2.5-6.4 1.3 3.4-2.6 6.4z" class="ac"/>
<path d="M179.4 126.1l 2.6-3.7 1.5-6.1-2.6 3.7z" class="fc"/>
<path d="M151.7 136.6l 2.6-7.8 1.3 4.9-2.6 7.8z" class="yb"/>
<path d="M94.3 155l 2.4 .6 1.4-2.1-2.4-.5z" class="lb"/>
<path d="M101.5 166.1l 2.4 5.9 1.4-2-2.4-5.9z" class="i"/>
<path d="M103.9 172l 2.4 3.1 1.4-2-2.4-3.1z" class="jb"/>
<path d="M130.8 129.1l 2.4 .9 1.4-4.6-2.4-.8zM177.9 134.2l 2.6-3.7 1.5-8.1-2.6 3.7z" class="cc"/>
<path d="M147.9 139.4l 2.6-6.4 1.2 3.6-2.5 6.4z" class="zb"/>
<path d="M138 140.4l 2.3 4.8 1.4-4.4-2.3-4.9z" class="z"/>
<path d="M176.5 141.6l 2.5-3.6 1.5-7.5-2.6 3.7z" class="vc"/>
<path d="M126.5 154.5l 2.4 .9 1.5-8-2.4-.8z" class="cb"/>
<path d="M99.1 159.8l 2.4 6.3 1.4-2-2.4-6.3z" class="db"/>
<path d="M144.1 142.3l 2.5-2.9 1.3 0-2.4 2.9z" class="z"/>
<path d="M135.6 134.4l 2.4 6 1.4-4.5-2.4-6z" class="yb"/>
<path d="M98.5 203.2l 2.4 3.1 1.3-7.3-2.3-3.2z" class="mc"/>
<path d="M128 146.6l 2.4 .8 1.4-9.4-2.4-.8z" class="uc"/>
<path d="M96.1 197.5l 2.4 5.7 1.4-7.4-2.4-5.7z" class="nc"/>
<path d="M89 186.7l 2.3 .6 1.4-7.5-2.4-.6z" class="hb"/>
<path d="M133.7 165.6l 2.4 4.7 1.4-7.9-2.4-4.8z" class="v"/>
<path d="M96.7 155.6l 2.4 4.2 1.4-2-2.4-4.3z" class="mb"/>
<path d="M133.2 130l 2.4 4.4 1.4-4.5-2.4-4.5z" class="bc"/>
<path d="M129.4 137.2l 2.4 .8 1.4-8-2.4-.9z" class="kc"/>
<path d="M169 140.8l 2.3 4.3 1.3 0-2.3-4.4zM140.3 145.2l 2.4 1.5 1.4-4.4-2.4-1.5z" class="j"/>
<path d="M135.1 157.6l 2.4 4.8 1.4-9.2-2.4-4.8z" class="a"/>
<path d="M99.9 195.8l 2.3 3.2 1.4-9.2-2.4-3.2z" class="q"/>
<path d="M117.6 166.2l 2.4-5.9 1.4 2.5-2.4 5.9z" class="h"/>
<path d="M97.5 190.1l 2.4 5.7 1.3-9.2-2.4-5.7z" class="ab"/>
<path d="M90.3 179.2l 2.4 .6 1.3-9.3-2.4-.6z" class="eb"/>
<path d="M113.8 169.4l 2.4-6.4 1.4 3.2-2.4 6.5z" class="i"/>
<path d="M131.3 159.7l 2.4 5.9 1.4-8-2.4-5.8z" class="s"/>
<path d="M161.9 127.9l 2.4 1.7 1.3-.1-2.4-1.7z" class="dc"/>
<path d="M121.4 162.8l 2.4-3.1 1.4-.6-2.5 3.1z" class="f"/>
<path d="M136.5 148.4l 2.4 4.8 1.4-8-2.3-4.8z" class="fb"/>
<path d="M166.7 134.7l 2.3 6.1 1.3-.1-2.3-6.1z" class="xb"/>
<path d="M110.1 172.4l 2.4-4.5 1.3 1.5-2.3 4.5z" class="e"/>
<path d="M125.2 159.1l 2.4 .9 1.3-4.6-2.4-.9z" class="ib"/>
<path d="M132.7 151.8l 2.4 5.8 1.4-9.2-2.3-6z" class="oc"/>
<path d="M128.9 155.4l 2.4 4.3 1.4-7.9-2.3-4.4z" class="lb"/>
<path d="M136.1 170.3l 2.4 1.4 1.4-7.9-2.4-1.4z" class="pb"/>
<path d="M106.3 175.1l 2.4-.7 1.4-2-2.4 .7z" class="jb"/>
<path d="M93.7 191.4l 2.4 6.1 1.4-7.4-2.4-6.1z" class="kb"/>
<path d="M183.5 116.3l 2.6-6.9 1.4-1.9-2.7 6.9z" class="hd"/>
<path d="M132.3 170.1l 2.4 4.7 1.4-4.5-2.4-4.7z" class="l"/>
<path d="M134.2 142.4l 2.3 6 1.5-8-2.4-6z" class="z"/>
<path d="M93 161l 2.4 .6 1.3-6-2.4-.6z" class="ib"/>
<path d="M175.1 145.8l 2.5-3.6 1.4-4.2-2.5 3.6z" class="z"/>
<path d="M130.4 147.4l 2.3 4.4 1.5-9.4-2.4-4.4z" class="ic"/>
<path d="M191.4 102.6l 2.7-5.1 1.1 5.8-2.7 5.2z" class="ed"/>
<path d="M100.2 172.1l 2.4 5.8 1.3-5.9-2.4-5.9z" class="hc"/>
<path d="M102.6 177.9l 2.3 3.2 1.4-6-2.4-3.1z" class="g"/>
<path d="M137.5 162.4l 2.4 1.4 1.4-9.2-2.4-1.4z" class="s"/>
<path d="M164.3 129.6l 2.4 5.1 1.3-.1-2.4-5.1z" class="tc"/>
<path d="M171.3 145.1l 2.5 .7 1.3 0-2.5-.7z" class="ic"/>
<path d="M91.6 169.9l 2.4 .6 1.4-8.9-2.4-.6z" class="c"/>
<path d="M91.3 187.3l 2.4 4.1 1.4-7.4-2.4-4.2z" class="o"/>
<path d="M131.8 138l 2.4 4.4 1.4-8-2.4-4.4z" class="vc"/>
<path d="M101.2 186.6l 2.4 3.2 1.3-8.7-2.3-3.2z" class="hb"/>
<path d="M98.8 180.9l 2.4 5.7 1.4-8.7-2.4-5.8z" class="k"/>
<path d="M95.1 184l 2.4 6.1 1.3-9.2-2.4-6.2z" class="m"/>
<path d="M138.9 153.2l 2.4 1.4 1.4-7.9-2.4-1.5z" class="d"/>
<path d="M129.9 164.3l 2.4 5.8 1.4-4.5-2.4-5.9z" class="h"/>
<path d="M92.7 179.8l 2.4 4.2 1.3-9.3-2.4-4.2z" class="g"/>
<path d="M134.7 174.8l 2.4 1.4 1.4-4.5-2.4-1.4z" class="jb"/>
<path d="M127.6 160l 2.3 4.3 1.4-4.6-2.4-4.3z" class="b"/>
<path d="M100.9 206.3l 2.3-.7 1.4-7.3-2.4 .7z" class="mc"/>
<path d="M97.8 165.9l 2.4 6.2 1.3-6-2.4-6.3z" class="c"/>
<path d="M96.4 174.7l 2.4 6.2 1.4-8.8-2.4-6.2z" class="jb"/>
<path d="M187.5 107.5l 2.7-7.5 1.2 2.6-2.7 7.5z" class="od"/>
<path d="M95.4 161.6l 2.4 4.3 1.3-6.1-2.4-4.2z" class="b"/>
<path d="M102.2 199l 2.4-.7 1.4-9.2-2.4 .7z" class="t"/>
<path d="M94 170.5l 2.4 4.2 1.4-8.8-2.4-4.3z" class="pb"/>
<path d="M104.9 181.1l 2.4-.8 1.4-5.9-2.4 .7z" class="g"/>
<path d="M142.7 146.7l 2.5-2.9 1.4-4.4-2.5 2.9z" class="uc"/>
<path d="M158.1 127.3l 2.5-2.8 1.3 3.4-2.5 2.8z" class="ec"/>
<path d="M103.6 189.8l 2.4-.7 1.3-8.8-2.4 .8z" class="hb"/>
<path d="M182 122.4l 2.7-6.8 1.4-6.2-2.6 6.9z" class="wc"/>
<path d="M138.5 171.7l 2.4-2.8 1.4-7.9-2.4 2.8z" class="c"/>
<path d="M123.8 159.7l 2.4 .9 1.4-.6-2.4-.9z" class="s"/>
<path d="M139.9 163.8l 2.4-2.8 1.5-9.2-2.5 2.8z" class="mb"/>
<path d="M130.9 170.7l 2.4 4.6 1.4-.5-2.4-4.7z" class="hc"/>
<path d="M141.3 154.6l 2.5-2.8 1.4-8-2.5 2.9z" class="x"/>
<path d="M180.5 130.5l 2.7-6.7 1.5-8.2-2.7 6.8z" class="fc"/>
<path d="M173.8 145.8l 2.5-3.6 1.3 0-2.5 3.6z" class="uc"/>
<path d="M128.6 164.9l 2.3 5.8 1.4-.6-2.4-5.8z" class="c"/>
<path d="M137.1 176.2l 2.4-2.8 1.4-4.5-2.4 2.8z" class="hc"/>
<path d="M179 138l 2.7-6.7 1.5-7.5-2.7 6.7z" class="dc"/>
<path d="M146.6 139.4l 2.5-6.4 1.4 0-2.6 6.4z" class="yb"/>
<path d="M126.2 160.6l 2.4 4.3 1.3-.6-2.3-4.3z" class="f"/>
<path d="M133.3 175.3l 2.4 1.4 1.4-.5-2.4-1.4z" class="eb"/>
<path d="M108.7 174.4l 2.4-4.4 1.4-2.1-2.4 4.5z" class="l"/>
<path d="M154.3 128.8l 2.6-6.5 1.2 5-2.5 6.4z" class="ec"/>
<path d="M150.5 133l 2.5-7.8 1.3 3.6-2.6 7.8z" class="bc"/>
<path d="M120 160.3l 2.4-3 1.4 2.4-2.4 3.1z" class="s"/>
<path d="M167.8 137.2l 2.3 4.3 1.2 3.6-2.3-4.3z" class="u"/>
<path d="M160.6 124.5l 2.5 1.6 1.2 3.5-2.4-1.7z" class="gc"/>
<path d="M103.2 205.6l 2.4-4.2 1.3-7.3-2.3 4.2z" class="wb"/>
<path d="M165.4 131.1l 2.4 6.1 1.2 3.6-2.3-6.1zM177.6 142.2l 2.7-6.6 1.4-4.3-2.7 6.7z" class="yb"/>
<path d="M112.5 167.9l 2.4-6.4 1.3 1.5-2.4 6.4z" class="v"/>
<path d="M104.6 198.3l 2.3-4.2 1.4-9.3-2.3 4.3z" class="n"/>
<path d="M116.2 163l 2.4-5.9 1.4 3.2-2.4 5.9z" class="b"/>
<path d="M163.1 126.1l 2.3 5 1.3 3.6-2.4-5.1z" class="dc"/>
<path d="M170.1 141.5l 2.5 .6 1.2 3.7-2.5-.7z" class="uc"/>
<path d="M186.1 109.4l 2.8-7.4 1.3-2-2.7 7.5z" class="ed"/>
<path d="M107.3 180.3l 2.4-4.3 1.4-6-2.4 4.4z" class="jb"/>
<path d="M106 189.1l 2.3-4.3 1.4-8.8-2.4 4.3z" class="sb"/>
<path d="M190.2 100l 2.7-5.1 1.2 2.6-2.7 5.1z" class="kd"/>
<path d="M135.7 176.7l 2.5-2.7 1.3-.6-2.4 2.8z" class="jb"/>
<path d="M145.2 143.8l 2.5-6.4 1.4-4.4-2.5 6.4z" class="vc"/>
<path d="M122.4 157.3l 2.4 .9 1.4 2.4-2.4-.9z" class="mb"/>
<path d="M140.9 168.9l 2.5-6.2 1.4-8-2.5 6.3z" class="b"/>
<path d="M142.3 161l 2.5-6.3 1.5-9.3-2.5 6.4z" class="cb"/>
<path d="M129.6 168.2l 2.4 4.7 1.3 2.4-2.4-4.6z" class="l"/>
<path d="M143.8 151.8l 2.5-6.4 1.4-8-2.5 6.4z" class="uc"/>
<path d="M184.7 115.6l 2.7-7.4 1.5-6.2-2.8 7.4z" class="fd"/>
<path d="M127.2 162.5l 2.4 5.7 1.3 2.5-2.3-5.8z" class="h"/>
<path d="M176.3 142.2l 2.7-6.7 1.3 .1-2.7 6.6z" class="vc"/>
<path d="M139.5 173.4l 2.5-6.1 1.4-4.6-2.5 6.2z" class="c"/>
<path d="M124.8 158.2l 2.4 4.3 1.4 2.4-2.4-4.3z" class="s"/>
<path d="M156.9 122.3l 2.5-2.8 1.2 5-2.5 2.8z" class="fc"/>
<path d="M132 172.9l 2.4 1.4 1.3 2.4-2.4-1.4z" class="hc"/>
<path d="M172.6 142.1l 2.5-3.6 1.2 3.7-2.5 3.6z" class="u"/>
<path d="M183.2 123.8l 2.7-7.3 1.5-8.3-2.7 7.4z" class="xc"/>
<path d="M111.1 170l 2.4-6.4 1.4-2.1-2.4 6.4z" class="v"/>
<path d="M181.7 131.3l 2.7-7.2 1.5-7.6-2.7 7.3z" class="fc"/>
<path d="M149.1 133l 2.6-7.9 1.3 .1-2.5 7.8z" class="ec"/>
<path d="M118.6 157.1l 2.5-3 1.3 3.2-2.4 3z" class="lb"/>
<path d="M105.6 201.4l 2.3-6 1.4-7.4-2.4 6.1z" class="q"/>
<path d="M153 125.2l 2.6-6.5 1.3 3.6-2.6 6.5z" class="sc"/>
<path d="M106.9 194.1l 2.4-6.1 1.4-9.4-2.4 6.2z" class="hb"/>
<path d="M180.3 135.6l 2.7-7.2 1.4-4.3-2.7 7.2z" class="ec"/>
<path d="M114.9 161.5l 2.4-5.8 1.3 1.4-2.4 5.9z" class="mb"/>
<path d="M188.9 102l 2.6-5.1 1.4-2-2.7 5.1z" class="nd"/>
<path d="M166.6 132.1l 2.3 4.3 1.2 5.1-2.3-4.3z" class="kc"/>
<path d="M159.4 119.5l 2.4 1.6 1.3 5-2.5-1.6z" class="lc"/>
<path d="M109.7 176l 2.4-6.3 1.4-6.1-2.4 6.4z" class="pb"/>
<path d="M134.4 174.3l 2.4-2.8 1.4 2.5-2.5 2.7z" class="e"/>
<path d="M138.2 174l 2.4-6.2 1.4-.5-2.5 6.1z" class="pb"/>
<path d="M164.2 126.1l 2.4 6 1.2 5.1-2.4-6.1z" class="dc"/>
<path d="M108.3 184.8l 2.4-6.2 1.4-8.9-2.4 6.3z" class="eb"/>
<path d="M161.8 121.1l 2.4 5 1.2 5-2.3-5z" class="gd"/>
<path d="M168.9 136.4l 2.5 .6 1.2 5.1-2.5-.6z" class="vc"/>
<path d="M147.7 137.4l 2.6-7.8 1.4-4.5-2.6 7.9z" class="cc"/>
<path d="M121.1 154.1l 2.4 .9 1.3 3.2-2.4-.9z" class="bb"/>
<path d="M187.4 108.2l 2.6-5 1.5-6.3-2.6 5.1z" class="id"/>
<path d="M143.4 162.7l 2.5-7.6 1.5-8-2.6 7.6z" class="cb"/>
<path d="M175.1 138.5l 2.7-6.6 1.2 3.6-2.7 6.7z" class="kc"/>
<path d="M128.3 165l 2.4 4.7 1.3 3.2-2.4-4.7z" class="h"/>
<path d="M144.8 154.7l 2.6-7.6 1.4-9.4-2.5 7.7z" class="uc"/>
<path d="M146.3 145.4l 2.5-7.7 1.5-8.1-2.6 7.8z" class="kc"/>
<path d="M125.9 159.3l 2.4 5.7 1.3 3.2-2.4-5.7z" class="b"/>
<path d="M179 135.5l 2.7-7.1 1.3 0-2.7 7.2z" class="cc"/>
<path d="M185.9 116.5l 2.6-4.9 1.5-8.4-2.6 5z" class="fd"/>
<path d="M123.5 155l 2.4 4.3 1.3 3.2-2.4-4.3z" class="a"/>
<path d="M130.7 169.7l 2.4 1.4 1.3 3.2-2.4-1.4z" class="i"/>
<path d="M142 167.3l 2.5-7.6 1.4-4.6-2.5 7.6z" class="ib"/>
<path d="M184.4 124.1l 2.6-4.9 1.5-7.6-2.6 4.9z" class="xc"/>
<path d="M155.6 118.7l 2.5-2.9 1.3 3.7-2.5 2.8z" class="pc"/>
<path d="M113.5 163.6l 2.4-5.8 1.4-2.1-2.4 5.8z" class="a"/>
<path d="M171.4 137l 2.6-3.7 1.1 5.2-2.5 3.6z" class="kc"/>
<path d="M151.7 125.1l 2.6-6.4 1.3 0-2.6 6.5z" class="jc"/>
<path d="M117.3 155.7l 2.4-3.1 1.4 1.5-2.5 3z" class="oc"/>
<path d="M107.9 195.4l 2.4-5.5 1.4-7.5-2.4 5.6z" class="o"/>
<path d="M183 128.4l 2.6-4.9 1.4-4.3-2.6 4.9z" class="lc"/>
<path d="M136.8 171.5l 2.5-6.1 1.3 2.4-2.4 6.2z" class="h"/>
<path d="M109.3 188l 2.4-5.6 1.4-9.4-2.4 5.6z" class="p"/>
<path d="M112.1 169.7l 2.4-5.7 1.4-6.2-2.4 5.8z" class="s"/>
<path d="M133.1 171.1l 2.4-2.8 1.3 3.2-2.4 2.8zM110.7 178.6l 2.4-5.6 1.4-9-2.4 5.7z" class="pb"/>
<path d="M140.6 167.8l 2.6-7.5 1.3-.6-2.5 7.6z" class="s"/>
<path d="M158.1 115.8l 2.5 1.6 1.2 3.7-2.4-1.6z" class="wc"/>
<path d="M165.3 128.3l 2.4 4.3 1.2 3.8-2.3-4.3z" class="cc"/>
<path d="M163 122.3l 2.3 6 1.3 3.8-2.4-6z" class="gd"/>
<path d="M160.6 117.4l 2.4 4.9 1.2 3.8-2.4-5z" class="rc"/>
<path d="M119.7 152.6l 2.4 1 1.4 1.4-2.4-.9z" class="d"/>
<path d="M150.3 129.6l 2.6-6.4 1.4-4.5-2.6 6.4z" class="lc"/>
<path d="M167.7 132.6l 2.5 .5 1.2 3.9-2.5-.6z" class="bc"/>
<path d="M126.9 163.6l 2.4 4.7 1.4 1.4-2.4-4.7z" class="f"/>
<path d="M177.8 131.9l 2.7-7.2 1.2 3.7-2.7 7.1z" class="gc"/>
<path d="M181.7 128.4l 2.6-4.9 1.3 0-2.6 4.9z" class="sc"/>
<path d="M124.5 157.9l 2.4 5.7 1.4 1.4-2.4-5.7z" class="mb"/>
<path d="M145.9 155.1l 2.6-6.3 1.4-8.1-2.5 6.4z" class="j"/>
<path d="M147.4 147.1l 2.5-6.4 1.5-9.4-2.6 6.4z" class="kc"/>
<path d="M122.1 153.6l 2.4 4.3 1.4 1.4-2.4-4.3z" class="cb"/>
<path d="M115.9 157.8l 2.4-2.9 1.4-2.3-2.4 3.1z" class="oc"/>
<path d="M148.8 137.7l 2.6-6.4 1.5-8.1-2.6 6.4z" class="gc"/>
<path d="M129.3 168.3l 2.4 1.3 1.4 1.5-2.4-1.4z" class="h"/>
<path d="M174 133.3l 2.6-6.7 1.2 5.3-2.7 6.6z" class="cc"/>
<path d="M154.3 118.7l 2.5-2.9 1.3 0-2.5 2.9z" class="zc"/>
<path d="M144.5 159.7l 2.5-6.2 1.5-4.7-2.6 6.3z" class="d"/>
<path d="M110.3 189.9l 2.4-2.8 1.4-7.5-2.4 2.8z" class="k"/>
<path d="M111.7 182.4l 2.4-2.8 1.4-9.5-2.4 2.9z" class="e"/>
<path d="M114.5 164l 2.4-2.9 1.4-6.2-2.4 2.9z" class="lb"/>
<path d="M170.2 133.1l 2.5-3.7 1.3 3.9-2.6 3.7z" class="cc"/>
<path d="M135.5 168.3l 2.5-6.1 1.3 3.2-2.5 6.1zM113.1 173l 2.4-2.9 1.4-9-2.4 2.9z" class="f"/>
<path d="M139.3 165.4l 2.5-7.5 1.4 2.4-2.6 7.5z" class="mb"/>
<path d="M131.7 169.6l 2.5-2.7 1.3 1.4-2.4 2.8z" class="db"/>
<path d="M118.3 154.9l 2.4 .9 1.4-2.2-2.4-1z" class="x"/>
<path d="M156.8 115.8l 2.4 1.5 1.4 .1-2.5-1.6z" class="hd"/>
<path d="M164 128.1l 2.4 4.2 1.3 .3-2.4-4.3z" class="qc"/>
<path d="M161.6 122.2l 2.4 5.9 1.3 .2-2.3-6z" class="lc"/>
<path d="M125.5 165.8l 2.4 4.6 1.4-2.1-2.4-4.7z" class="f"/>
<path d="M152.9 123.2l 2.5-2.9 1.4-4.5-2.5 2.9z" class="xc"/>
<path d="M143.2 160.3l 2.5-6.2 1.3-.6-2.5 6.2z" class="oc"/>
<path d="M159.2 117.3l 2.4 4.9 1.4 .1-2.4-4.9z" class="xc"/>
<path d="M123.1 160.1l 2.4 5.7 1.4-2.2-2.4-5.7z" class="a"/>
<path d="M120.7 155.8l 2.4 4.3 1.4-2.2-2.4-4.3z" class="oc"/>
<path d="M112.7 187.1l 2.4 1 1.4-7.5-2.4-1z" class="ob"/>
<path d="M127.9 170.4l 2.4 1.4 1.4-2.2-2.4-1.3z" class="v"/>
<path d="M166.4 132.3l 2.5 .5 1.3 .3-2.5-.5z" class="ec"/>
<path d="M119.9 197.8l 2.4 4.4 1.4-7.4-2.4-4.5z" class="n"/>
<path d="M114.1 179.6l 2.4 1 1.4-9.5-2.4-1z" class="i"/>
<path d="M148.5 148.8l 2.4-2.8 1.5-8.1-2.5 2.8z" class="xb"/>
<path d="M149.9 140.7l 2.5-2.8 1.5-9.5-2.5 2.9z" class="dc"/>
<path d="M151.4 131.3l 2.5-2.9 1.5-8.1-2.5 2.9z" class="lc"/>
<path d="M180.5 124.7l 2.6-4.9 1.2 3.7-2.6 4.9z" class="jc"/>
<path d="M117.5 192.2l 2.4 5.6 1.4-7.5-2.4-5.6z" class="o"/>
<path d="M121.3 190.3l 2.4 4.5 1.4-9.3-2.4-4.6z" class="r"/>
<path d="M116.9 161.1l 2.4 .9 1.4-6.2-2.4-.9z" class="cb"/>
<path d="M115.1 188.1l 2.4 4.1 1.4-7.5-2.4-4.1z" class="k"/>
<path d="M115.5 170.1l 2.4 1 1.4-9.1-2.4-.9z" class="b"/>
<path d="M122.3 202.2l 2.4 1.4 1.4-7.4-2.4-1.4z" class="q"/>
<path d="M118.9 184.7l 2.4 5.6 1.4-9.4-2.4-5.6z" class="p"/>
<path d="M124.1 172l 2.4 4.6 1.4-6.2-2.4-4.6z" class="h"/>
<path d="M116.5 180.6l 2.4 4.1 1.4-9.4-2.4-4.2z" class="e"/>
<path d="M147 153.5l 2.5-2.9 1.4-4.6-2.4 2.8z" class="j"/>
<path d="M122.7 180.9l 2.4 4.6 1.4-8.9-2.4-4.6z" class="hc"/>
<path d="M123.7 194.8l 2.4 1.4 1.4-9.4-2.4-1.3z" class="hb"/>
<path d="M121.7 166.3l 2.4 5.7 1.4-6.2-2.4-5.7z" class="s"/>
<path d="M120.3 175.3l 2.4 5.6 1.4-8.9-2.4-5.7z" class="pb"/>
<path d="M176.6 126.6l 2.7-7.2 1.2 5.3-2.7 7.2z" class="lc"/>
<path d="M119.3 162l 2.4 4.3 1.4-6.2-2.4-4.3z" class="lb"/>
<path d="M155.4 120.3l 2.4 1.5 1.4-4.5-2.4-1.5z" class="zc"/>
<path d="M117.9 171.1l 2.4 4.2 1.4-9-2.4-4.3z" class="f"/>
<path d="M126.5 176.6l 2.4 1.3 1.4-6.1-2.4-1.4z" class="pb"/>
<path d="M125.1 185.5l 2.4 1.3 1.4-8.9-2.4-1.3z" class="eb"/>
<path d="M162.6 132.4l 2.4 4.1 1.4-4.2-2.4-4.2z" class="gc"/>
<path d="M160.2 126.6l 2.4 5.8 1.4-4.3-2.4-5.9zM172.7 129.4l 2.7-6.7 1.2 3.9-2.6 6.7z" class="sc"/>
<path d="M157.8 121.8l 2.4 4.8 1.4-4.4-2.4-4.9z" class="pc"/>
<path d="M130.3 171.8l 2.5-2.7 1.4-2.2-2.5 2.7z" class="db"/>
<path d="M150.9 146l 2.5 1.3 1.5-8-2.5-1.4z" class="vc"/>
<path d="M152.4 137.9l 2.5 1.4 1.4-9.4-2.4-1.5z" class="ec"/>
<path d="M153.9 128.4l 2.4 1.5 1.5-8.1-2.4-1.5z" class="jc"/>
<path d="M168.9 132.8l 2.5-3.7 1.3 .3-2.5 3.7z" class="qc"/>
<path d="M158.1 157.4l 2.4 3.9 1.5-7.8-2.4-3.9z" class="x"/>
<path d="M165 136.5l 2.5 .5 1.4-4.2-2.5-.5z" class="cc"/>
<path d="M159.6 149.6l 2.4 3.9 1.5-9.1-2.4-4.1z" class="u"/>
<path d="M134.2 166.9l 2.5-6.1 1.3 1.4-2.5 6.1z" class="ib"/>
<path d="M155.8 151.9l 2.3 5.5 1.5-7.8-2.4-5.7z" class="j"/>
<path d="M161.1 140.3l 2.4 4.1 1.5-7.9-2.4-4.1z" class="tc"/>
<path d="M157.2 143.9l 2.4 5.7 1.5-9.3-2.4-5.7z" class="yb"/>
<path d="M158.7 134.6l 2.4 5.7 1.5-7.9-2.4-5.8z" class="ec"/>
<path d="M124.7 203.6l 2.4-2.6 1.4-7.4-2.4 2.6z" class="kb"/>
<path d="M153.4 147.3l 2.4 4.6 1.4-8-2.3-4.6z" class="zb"/>
<path d="M154.9 139.3l 2.3 4.6 1.5-9.3-2.4-4.7z" class="bc"/>
<path d="M156.3 129.9l 2.4 4.7 1.5-8-2.4-4.8z" class="sc"/>
<path d="M138 162.2l 2.5-7.5 1.3 3.2-2.5 7.5z" class="bb"/>
<path d="M149.5 150.6l 2.5 1.3 1.4-4.6-2.5-1.3z" class="uc"/>
<path d="M145.7 154.1l 2.5-2.9 1.3-.6-2.5 2.9z" class="ic"/>
<path d="M126.1 196.2l 2.4-2.6 1.4-9.4-2.4 2.6z" class="m"/>
<path d="M141.8 157.9l 2.6-6.3 1.3 2.5-2.5 6.2z" class="x"/>
<path d="M156.7 161.9l 2.4 3.8 1.4-4.4-2.4-3.9z" class="lb"/>
<path d="M160.5 161.3l 2.5 .3 1.5-7.7-2.5-.4zM154.4 156.4l 2.3 5.5 1.4-4.5-2.3-5.5z" class="d"/>
<path d="M162 153.5l 2.5 .4 1.5-9.1-2.5-.4z" class="z"/>
<path d="M163.5 144.4l 2.5 .4 1.5-7.8-2.5-.5z" class="ac"/>
<path d="M128.9 177.9l 2.5-2.7 1.4-6.1-2.5 2.7z" class="c"/>
<path d="M152 151.9l 2.4 4.5 1.4-4.5-2.4-4.6z" class="ic"/>
<path d="M127.5 186.8l 2.4-2.6 1.5-9-2.5 2.7z" class="jb"/>
<path d="M159.1 165.7l 2.5 .3 1.4-4.4-2.5-.3z" class="a"/>
<path d="M167.5 137l 2.5-3.8 1.4-4.1-2.5 3.7z" class="gc"/>
<path d="M148.2 151.2l 2.4 1.3 1.4-.6-2.5-1.3z" class="j"/>
<path d="M179.3 119.4l 2.6-4.9 1.2 5.3-2.6 4.9z" class="zc"/>
<path d="M155.4 162.3l 2.4 3.7 1.3-.3-2.4-3.8z" class="a"/>
<path d="M132.8 169.1l 2.5-6.1 1.4-2.2-2.5 6.1z" class="mb"/>
<path d="M153 156.9l 2.4 5.4 1.3-.4-2.3-5.5z" class="oc"/>
<path d="M163 161.6l 2.5-3.7 1.5-7.7-2.5 3.7z" class="fb"/>
<path d="M166 144.8l 2.5-3.8 1.5-7.8-2.5 3.8z" class="bc"/>
<path d="M150.6 152.5l 2.4 4.4 1.4-.5-2.4-4.5z" class="y"/>
<path d="M164.5 153.9l 2.5-3.7 1.5-9.2-2.5 3.8z" class="zb"/>
<path d="M171.4 129.1l 2.7-6.7 1.3 .3-2.7 6.7z" class="jc"/>
<path d="M175.4 122.7l 2.7-7.2 1.2 3.9-2.7 7.2z" class="xc"/>
<path d="M127.1 201l 2.5-5.8 1.4-7.5-2.5 5.9z" class="o"/>
<path d="M157.8 166l 2.5 .3 1.3-.3-2.5-.3z" class="ib"/>
<path d="M161.6 166l 2.5-3.8 1.4-4.3-2.5 3.7z" class="bb"/>
<path d="M144.4 151.6l 2.5-2.9 1.3 2.5-2.5 2.9z" class="j"/>
<path d="M128.5 193.6l 2.5-5.9 1.4-9.5-2.5 6z" class="g"/>
<path d="M136.7 160.8l 2.5-7.5 1.3 1.4-2.5 7.5z" class="d"/>
<path d="M131.4 175.2l 2.5-6 1.4-6.2-2.5 6.1z" class="b"/>
<path d="M129.9 184.2l 2.5-6 1.5-9-2.5 6z" class="pb"/>
<path d="M140.5 154.7l 2.6-6.3 1.3 3.2-2.6 6.3z" class="ic"/>
<path d="M170 133.2l 2.7-6.6 1.4-4.2-2.7 6.7z" class="jc"/>
<path d="M146.9 148.7l 2.4 1.3 1.3 2.5-2.4-1.3z" class="z"/>
<path d="M160.3 166.3l 2.5-3.8 1.3-.3-2.5 3.8z" class="lb"/>
<path d="M154.1 159.7l 2.4 3.7 1.3 2.6-2.4-3.7z" class="bb"/>
<path d="M151.7 154.4l 2.4 5.3 1.3 2.6-2.4-5.4z" class="x"/>
<path d="M149.3 150l 2.4 4.4 1.3 2.5-2.4-4.4z" class="j"/>
<path d="M168.5 141l 2.7-6.6 1.5-7.8-2.7 6.6z" class="qc"/>
<path d="M165.5 157.9l 2.7-6.6 1.5-7.7-2.7 6.6z" class="z"/>
<path d="M167 150.2l 2.7-6.6 1.5-9.2-2.7 6.6z" class="ac"/>
<path d="M178.1 115.5l 2.6-5 1.2 4-2.6 4.9z" class="od"/>
<path d="M135.3 163l 2.5-7.5 1.4-2.2-2.5 7.5z" class="x"/>
<path d="M174.1 122.4l 2.7-7.3 1.3 .4-2.7 7.2z" class="yc"/>
<path d="M156.5 163.4l 2.5 .2 1.3 2.7-2.5-.3z" class="lb"/>
<path d="M164.1 162.2l 2.7-6.5 1.4-4.4-2.7 6.6z" class="fb"/>
<path d="M129.6 195.2l 2.4-7.2 1.5-7.5-2.5 7.2z" class="g"/>
<path d="M143.1 148.4l 2.5-2.9 1.3 3.2-2.5 2.9z" class="zb"/>
<path d="M131 187.7l 2.5-7.2 1.4-9.6-2.5 7.3z" class="i"/>
<path d="M139.2 153.3l 2.5-6.3 1.4 1.4-2.6 6.3z" class="z"/>
<path d="M133.9 169.2l 2.5-7.4 1.4-6.3-2.5 7.5z" class="cb"/>
<path d="M132.4 178.2l 2.5-7.3 1.5-9.1-2.5 7.4z" class="s"/>
<path d="M159 163.6l 2.5-3.8 1.3 2.7-2.5 3.8z" class="cb"/>
<path d="M172.7 126.6l 2.7-7.2 1.4-4.3-2.7 7.3z" class="hd"/>
<path d="M162.8 162.5l 2.6-6.6 1.4-.2-2.7 6.5z" class="x"/>
<path d="M145.6 145.5l 2.4 1.2 1.3 3.3-2.4-1.3z" class="xb"/>
<path d="M150.4 151l 2.4 5.3 1.3 3.4-2.4-5.3z" class="ic"/>
<path d="M152.8 156.3l 2.4 3.7 1.3 3.4-2.4-3.7z" class="x"/>
<path d="M171.2 134.4l 2.7-7.2 1.5-7.8-2.7 7.2z" class="pc"/>
<path d="M148 146.7l 2.4 4.3 1.3 3.4-2.4-4.4z" class="u"/>
<path d="M169.7 143.6l 2.6-7.2 1.6-9.2-2.7 7.2z" class="qc"/>
<path d="M168.2 151.3l 2.6-7 1.5-7.9-2.6 7.2z" class="ac"/>
<path d="M176.8 115.1l 2.6-4.9 1.3 .3-2.6 5z" class="ed"/>
<path d="M137.8 155.5l 2.5-6.2 1.4-2.3-2.5 6.3z" class="u"/>
<path d="M155.2 160l 2.5 .1 1.3 3.5-2.5-.2z" class="oc"/>
<path d="M166.8 155.7l 2.6-7.1 1.4-4.3-2.6 7z" class="zb"/>
<path d="M141.7 147l 2.5-2.9 1.4 1.4-2.5 2.9z" class="yb"/>
<path d="M132 188l 2.5-5.9 1.5-7.7-2.5 6.1z" class="l"/>
<path d="M133.5 180.5l 2.5-6.1 1.4-9.6-2.5 6.1z" class="b"/>
<path d="M136.4 161.8l 2.5-6.2 1.4-6.3-2.5 6.2z" class="j"/>
<path d="M134.9 170.9l 2.5-6.1 1.5-9.2-2.5 6.2z" class="cb"/>
<path d="M161.5 159.8l 2.7-6.6 1.2 2.7-2.6 6.6z" class="y"/>
<path d="M175.4 119.4l 2.6-5 1.4-4.2-2.6 4.9z" class="cd"/>
<path d="M157.7 160.1l 2.6-3.8 1.2 3.5-2.5 3.8z" class="fb"/>
<path d="M165.4 155.9l 2.7-7 1.3-.3-2.6 7.1z" class="u"/>
<path d="M144.2 144.1l 2.5 1.1 1.3 1.5-2.4-1.2z" class="kc"/>
<path d="M173.9 127.2l 2.6-4.9 1.5-7.9-2.6 5z" class="bd"/>
<path d="M172.3 136.4l 2.6-4.9 1.6-9.2-2.6 4.9z" class="rc"/>
<path d="M149.1 149.6l 2.4 5.2 1.3 1.5-2.4-5.3z" class="z"/>
<path d="M151.5 154.8l 2.4 3.6 1.3 1.6-2.4-3.7z" class="ic"/>
<path d="M170.8 144.3l 2.6-5 1.5-7.8-2.6 4.9z" class="gc"/>
<path d="M146.7 145.2l 2.4 4.4 1.3 1.4-2.4-4.3z" class="vc"/>
<path d="M140.3 149.3l 2.5-2.9 1.4-2.3-2.5 2.9z" class="kc"/>
<path d="M169.4 148.6l 2.6-4.9 1.4-4.4-2.6 5z" class="tc"/>
<path d="M153.9 158.4l 2.5 .1 1.3 1.6-2.5-.1z" class="y"/>
<path d="M134.5 182.1l 2.5-2.8 1.5-7.7-2.5 2.8z" class="v"/>
<path d="M136 174.4l 2.5-2.8 1.4-9.7-2.5 2.9z" class="a"/>
<path d="M138.9 155.6l 2.5-2.9 1.4-6.3-2.5 2.9z" class="zb"/>
<path d="M137.4 164.8l 2.5-2.9 1.5-9.2-2.5 2.9z" class="y"/>
<path d="M142.8 146.4l 2.5 1.1 1.4-2.3-2.5-1.1z" class="ac"/>
<path d="M164.2 153.2l 2.6-7.1 1.3 2.8-2.7 7z" class="xb"/>
<path d="M147.7 151.8l 2.4 5.1 1.4-2.1-2.4-5.2z" class="u"/>
<path d="M160.3 156.3l 2.6-6.7 1.3 3.6-2.7 6.6z" class="z"/>
<path d="M145.3 147.5l 2.4 4.3 1.4-2.2-2.4-4.4z" class="yb"/>
<path d="M150.1 156.9l 2.4 3.6 1.4-2.1-2.4-3.6z" class="ic"/>
<path d="M168.1 148.9l 2.6-5 1.3-.2-2.6 4.9z" class="ac"/>
<path d="M137 179.3l 2.5 1 1.4-7.6-2.4-1.1z" class="db"/>
<path d="M156.4 158.5l 2.6-3.9 1.3 1.7-2.6 3.8z" class="j"/>
<path d="M138.5 171.6l 2.4 1.1 1.5-9.7-2.5-1.1z" class="bb"/>
<path d="M141.4 152.7l 2.4 1.1 1.5-6.3-2.5-1.1z" class="vc"/>
<path d="M141.9 184.4l 2.4 4.9 1.4-7.6-2.4-4.9z" class="i"/>
<path d="M139.5 180.3l 2.4 4.1 1.4-7.6-2.4-4.1z" class="v"/>
<path d="M139.9 161.9l 2.5 1.1 1.4-9.2-2.4-1.1z" class="j"/>
<path d="M144.3 189.3l 2.4 3.3 1.4-7.5-2.4-3.4z" class="hc"/>
<path d="M152.5 160.5l 2.5 0 1.4-2-2.5-.1z" class="y"/>
<path d="M143.3 176.8l 2.4 4.9 1.5-9.5-2.4-5z" class="b"/>
<path d="M140.9 172.7l 2.4 4.1 1.5-9.6-2.4-4.2z" class="a"/>
<path d="M145.7 181.7l 2.4 3.4 1.5-9.5-2.4-3.4z" class="v"/>
<path d="M146.3 158l 2.4 5.2 1.4-6.3-2.4-5.1z" class="j"/>
<path d="M143.8 153.8l 2.5 4.2 1.4-6.2-2.4-4.3z" class="zb"/>
<path d="M148.7 163.2l 2.4 3.4 1.4-6.1-2.4-3.6z" class="fb"/>
<path d="M144.8 167.2l 2.4 5 1.5-9-2.4-5.2z" class="oc"/>
<path d="M142.4 163l 2.4 4.2 1.5-9.2-2.5-4.2z" class="y"/>
<path d="M147.2 172.2l 2.4 3.4 1.5-9-2.4-3.4z" class="a"/>
<path d="M146.7 192.6l 2.4 0 1.5-7.5-2.5 0z" class="eb"/>
<path d="M148.1 185.1l 2.5 0 1.5-9.4-2.5-.1z" class="h"/>
<path d="M151.1 166.6l 2.5 .1 1.4-6.2-2.5 0z" class="d"/>
<path d="M149.6 175.6l 2.5 .1 1.5-9-2.5-.1z" class="mb"/>
<path d="M155 160.5l 2.6-3.8 1.4-2.1-2.6 3.9z" class="uc"/>
<path d="M166.8 146.1l 2.6-5 1.3 2.8-2.6 5z" class="bc"/>
<path d="M159 154.6l 2.6-6.7 1.3 1.7-2.6 6.7z" class="xb"/>
<path d="M162.9 149.6l 2.6-7.1 1.3 3.6-2.6 7.1z" class="ac"/>
<path d="M149.1 192.6l 2.6-3.8 1.4-7.5-2.5 3.8z" class="e"/>
<path d="M150.6 185.1l 2.5-3.8 1.5-9.5-2.5 3.9z" class="db"/>
<path d="M153.6 166.7l 2.5-3.9 1.5-6.1-2.6 3.8z" class="y"/>
<path d="M152.1 175.7l 2.5-3.9 1.5-9-2.5 3.9z" class="bb"/>
<path d="M157.6 156.7l 2.6-6.7 1.4-2.1-2.6 6.7z" class="vc"/>
<path d="M165.5 142.5l 2.7-5 1.2 3.6-2.6 5z" class="gc"/>
<path d="M161.6 147.9l 2.6-7.1 1.3 1.7-2.6 7.1z" class="dc"/>
<path d="M151.7 188.8l 2.6-6.4 1.4-7.6-2.6 6.5z" class="h"/>
<path d="M153.1 181.3l 2.6-6.5 1.5-9.6-2.6 6.6z" class="mb"/>
<path d="M156.1 162.8l 2.6-6.6 1.5-6.2-2.6 6.7z" class="u"/>
<path d="M154.6 171.8l 2.6-6.6 1.5-9-2.6 6.6z" class="fb"/>
<path d="M160.2 150l 2.7-7.2 1.3-2-2.6 7.1z" class="cc"/>
<path d="M164.2 140.8l 2.7-5.1 1.3 1.8-2.7 5z" class="fc"/>
<path d="M154.3 182.4l 2.6-7 1.4-7.7-2.6 7.1z" class="mb"/>
<path d="M155.7 174.8l 2.6-7.1 1.6-9.6-2.7 7.1z" class="x"/>
<path d="M158.7 156.2l 2.7-7.2 1.5-6.2-2.7 7.2z" class="tc"/>
<path d="M157.2 165.2l 2.7-7.1 1.5-9.1-2.7 7.2z" class="zb"/>
<path d="M162.9 142.8l 2.6-5 1.4-2.1-2.7 5.1z" class="sc"/>
<path d="M156.9 175.4l 2.6-5 1.4-7.6-2.6 4.9z" class="d"/>
<path d="M158.3 167.7l 2.6-4.9 1.6-9.7-2.6 5z" class="z"/>
<path d="M161.4 149l 2.6-5 1.5-6.2-2.6 5z" class="qc"/>
<path d="M159.9 158.1l 2.6-5 1.5-9.1-2.6 5z" class="tc"/>
</g>
<path d="M9.2 190.3 L159.9 228.2" stroke="#111" stroke-width="0.8"/>
<path d="M159.9 228.2 L240 164.4" stroke="#111" stroke-width="0.8"/>
<path d="M240 164.4 L245.7 50.6" stroke="#111" stroke-width="0.8"/>
<path d="M9.3 192.8 L12.9 190.4" stroke="#111" stroke-width="0.8"/>
<path d="M165 227.7 L160.5 226.5" stroke="#111" stroke-width="0.8"/>
<path d="M44.3 201.6 L47.8 199.2" stroke="#111" stroke-width="0.8"/>
<path d="M185.3 211.5 L180.8 210.4" stroke="#111" stroke-width="0.8"/>
<path d="M80.1 210.7 L83.6 208.1" stroke="#111" stroke-width="0.8"/>
<path d="M204.8 195.9 L200.3 194.8" stroke="#111" stroke-width="0.8"/>
<path d="M116.7 219.9 L120.1 217.3" stroke="#111" stroke-width="0.8"/>
<path d="M223.6 180.8 L219.2 179.8" stroke="#111" stroke-width="0.8"/>
<path d="M154.2 229.4 L157.5 226.7" stroke="#111" stroke-width="0.8"/>
<path d="M241.7 166.3 L237.4 165.3" stroke="#111" stroke-width="0.8"/>
<path d="M237.9 162.2 L242.7 162.2" stroke="#111" stroke-width="0.8"/>
<path d="M238.7 144.6 L243.5 144.6" stroke="#111" stroke-width="0.8"/>
<path d="M239.6 126.8 L244.4 126.8" stroke="#111" stroke-width="0.8"/>
<path d="M240.5 108.7 L245.3 108.7" stroke="#111" stroke-width="0.8"/>
<path d="M241.5 90.4 L246.3 90.4" stroke="#111" stroke-width="0.8"/>
<path d="M242.4 71.8 L247.2 71.8" stroke="#111" stroke-width="0.8"/>
<path d="M243.3 53 L248.1 53" stroke="#111" stroke-width="0.8"/>
<text x="8.4" y="207.8" font-size="9" text-anchor="middle" font-family="Liberation Sans" fill="#000">−10</text>
<text x="42.6" y="217.2" font-size="9" text-anchor="middle" font-family="Liberation Sans" fill="#000">−5</text>
<text x="78" y="225.6" font-size="9" text-anchor="middle" font-family="Liberation Sans" fill="#000">0</text>
<text x="113.8" y="235.4" font-size="9" text-anchor="middle" font-family="Liberation Sans" fill="#000">5</text>
<text x="151" y="244.2" font-size="9" text-anchor="middle" font-family="Liberation Sans" fill="#000">10</text>
<text x="170.7" y="242.9" font-size="9" text-anchor="middle" font-family="Liberation Sans" fill="#000">−10</text>
<text x="190.8" y="226.4" font-size="9" text-anchor="middle" font-family="Liberation Sans" fill="#000">−5</text>
<text x="209.7" y="210.7" font-size="9" text-anchor="middle" font-family="Liberation Sans" fill="#000">0</text>
<text x="228.5" y="195.8" font-size="9" text-anchor="middle" font-family="Liberation Sans" fill="#000">5</text>
<text x="246.9" y="180.9" font-size="9" text-anchor="middle" font-family="Liberation Sans" fill="#000">10</text>
<text x="253.6" y="167.6" font-size="9" text-anchor="middle" font-family="Liberation Sans" fill="#000">−6</text>
<text x="254.4" y="150" font-size="9" text-anchor="middle" font-family="Liberation Sans" fill="#000">−4</text>
<text x="255.3" y="132.2" font-size="9" text-anchor="middle" font-family="Liberation Sans" fill="#000">−2</text>
<text x="256.2" y="114.1" font-size="9" text-anchor="middle" font-family="Liberation Sans" fill="#000">0</text>
<text x="257.2" y="95.8" font-size="9" text-anchor="middle" font-family="Liberation Sans" fill="#000">2</text>
<text x="258.1" y="77.2" font-size="9" text-anchor="middle" font-family="Liberation Sans" fill="#000">4</text>
<text x="259" y="58.4" font-size="9" text-anchor="middle" font-family="Liberation Sans" fill="#000">6</text>
<path d="M9.2 514.6 L96.3 456.2 L95.6 346.2 L4.4 398.6Z" fill="#f9f9f9"/>
<path d="M96.3 456.2 L240 488.7 L245.7 374.9 L95.6 346.2Z" fill="#f2f2f2"/>
<path d="M9.2 514.6 L159.9 552.5 L240 488.7 L96.3 456.2Z" fill="#f5f5f5"/>
<path d="M12 515.3 L99.1 456.8" stroke="#e4e4e4" stroke-width="0.8"/>
<path d="M11 513.3 L161.6 551.1" stroke="#e4e4e4" stroke-width="0.8"/>
<path d="M99.1 456.8 L98.5 346.8" stroke="#e4e4e4" stroke-width="0.8"/>
<path d="M11 513.3 L6.3 397.5" stroke="#e4e4e4" stroke-width="0.8"/>
<path d="M47 524.1 L132.5 464.4" stroke="#e4e4e4" stroke-width="0.8"/>
<path d="M33.1 498.6 L181.9 534.9" stroke="#e4e4e4" stroke-width="0.8"/>
<path d="M132.5 464.4 L133.3 353.4" stroke="#e4e4e4" stroke-width="0.8"/>
<path d="M33.1 498.6 L29.4 384.2" stroke="#e4e4e4" stroke-width="0.8"/>
<path d="M82.7 533.1 L166.5 472.1" stroke="#e4e4e4" stroke-width="0.8"/>
<path d="M54.3 484.3 L201.4 519.4" stroke="#e4e4e4" stroke-width="0.8"/>
<path d="M166.5 472.1 L168.9 360.2" stroke="#e4e4e4" stroke-width="0.8"/>
<path d="M54.3 484.3 L51.7 371.4" stroke="#e4e4e4" stroke-width="0.8"/>
<path d="M119.3 542.3 L201.4 479.9" stroke="#e4e4e4" stroke-width="0.8"/>
<path d="M74.9 470.6 L220.3 504.3" stroke="#e4e4e4" stroke-width="0.8"/>
<path d="M201.4 479.9 L205.3 367.2" stroke="#e4e4e4" stroke-width="0.8"/>
<path d="M74.9 470.6 L73.2 359.1" stroke="#e4e4e4" stroke-width="0.8"/>
<path d="M156.7 551.7 L237 488" stroke="#e4e4e4" stroke-width="0.8"/>
<path d="M94.7 457.3 L238.5 489.9" stroke="#e4e4e4" stroke-width="0.8"/>
<path d="M237 488 L242.5 374.3" stroke="#e4e4e4" stroke-width="0.8"/>
<path d="M94.7 457.3 L93.9 347.2" stroke="#e4e4e4" stroke-width="0.8"/>
<path d="M9.1 512.4 L96.3 454.1" stroke="#e4e4e4" stroke-width="0.8"/>
<path d="M96.3 454.1 L240.1 486.5" stroke="#e4e4e4" stroke-width="0.8"/>
<path d="M8.2 490.9 L96.2 433.7" stroke="#e4e4e4" stroke-width="0.8"/>
<path d="M96.2 433.7 L241.1 465.4" stroke="#e4e4e4" stroke-width="0.8"/>
<path d="M7.3 469 L96 412.9" stroke="#e4e4e4" stroke-width="0.8"/>
<path d="M96 412.9 L242.2 443.9" stroke="#e4e4e4" stroke-width="0.8"/>
<path d="M6.3 446.7 L95.9 391.8" stroke="#e4e4e4" stroke-width="0.8"/>
<path d="M95.9 391.8 L243.3 422.1" stroke="#e4e4e4" stroke-width="0.8"/>
<path d="M5.4 424.1 L95.8 370.3" stroke="#e4e4e4" stroke-width="0.8"/>
<path d="M95.8 370.3 L244.4 399.9" stroke="#e4e4e4" stroke-width="0.8"/>
<path d="M4.5 401 L95.6 348.5" stroke="#e4e4e4" stroke-width="0.8"/>
<path d="M95.6 348.5 L245.5 377.3" stroke="#e4e4e4" stroke-width="0.8"/>
<g class="sf">
<path d="M95.4 442.4l 3.3 .9 2-1.2-3.3-.9zM98.7 443.3l 3.4 .7 1.9-1-3.3-.9zM93.4 443.7l 3.4 .7 1.9-1.1-3.3-.9zM102.1 444l 3.3 .7 2-1.1-3.4-.6zM96.8 444.4l 3.3 .6 2-1-3.4-.7zM105.4 444.7l 3.4 .4 1.9-1.1-3.3-.4zM91.4 445l 3.4 .5 2-1.1-3.4-.7zM100.1 445l 3.4 .6 1.9-.9-3.3-.7zM108.8 445.1l 3.3 .2 2-1.1-3.4-.2zM94.8 445.5l 3.3 .4 2-.9-3.3-.6zM103.5 445.6l 3.3 .4 2-.9-3.4-.4zM89.5 446.3l 3.3 .3 2-1.1-3.4-.5z" class="tb"/>
<path d="M112.1 445.3l 3.4 .2 1.9-1.2-3.3-.1z" class="sd"/>
<path d="M98.1 445.9l 3.4 .5 2-.8-3.4-.6z" class="tb"/>
<path d="M106.8 446l 3.4 .4 1.9-1.1-3.3-.2zM92.8 446.6l 3.3 .3 2-1-3.3-.4zM115.5 445.5l 3.4 .2 1.9-1.3-3.4-.1zM101.5 446.4l 3.3 .5 2-.9-3.3-.4z" class="sd"/>
<path d="M87.5 447.6l 3.3 .1 2-1.1-3.3-.3z" class="tb"/>
<path d="M110.2 446.4l 3.4 .3 1.9-1.2-3.4-.2zM96.1 446.9l 3.4 .4 2-.9-3.4-.5z" class="sd"/>
<path d="M118.9 445.7l 3.4 .4 1.9-1.3-3.4-.4z" class="mc"/>
<path d="M104.8 446.9l 3.4 .6 2-1.1-3.4-.4zM90.8 447.7l 3.4 .2 1.9-1-3.3-.3zM113.6 446.7l 3.3 .4 2-1.4-3.4-.2z" class="sd"/>
<path d="M122.3 446.1l 3.4 .6 1.9-1.2-3.4-.7z" class="mc"/>
<path d="M99.5 447.3l 3.4 .6 1.9-1-3.3-.5z" class="sd"/>
<path d="M85.5 448.8l 3.3 .1 2-1.2-3.3-.1z" class="tb"/>
<path d="M108.2 447.5l 3.4 .5 2-1.3-3.4-.3z" class="sd"/>
<path d="M116.9 447.1l 3.4 .4 2-1.4-3.4-.4z" class="mc"/>
<path d="M94.2 447.9l 3.3 .4 2-1-3.4-.4z" class="sd"/>
<path d="M125.7 446.7l 3.4 .8 1.9-1.2-3.4-.8z" class="mc"/>
<path d="M102.9 447.9l 3.4 .6 1.9-1-3.4-.6zM111.6 448l 3.4 .5 1.9-1.4-3.3-.4zM88.8 448.9l 3.4 .1 2-1.1-3.4-.2z" class="sd"/>
<path d="M120.3 447.5l 3.4 .6 2-1.4-3.4-.6z" class="mc"/>
<path d="M97.5 448.3l 3.4 .6 2-1-3.4-.6z" class="sd"/>
<path d="M129.1 447.5l 3.4 .9 1.9-1.2-3.4-.9z" class="mc"/>
<path d="M83.5 449.9l 3.3 .2 2-1.2-3.3-.1zM106.3 448.5l 3.3 .8 2-1.3-3.4-.5z" class="sd"/>
<path d="M115 448.5l 3.4 .5 1.9-1.5-3.4-.4z" class="mc"/>
<path d="M92.2 449l 3.3 .4 2-1.1-3.3-.4z" class="sd"/>
<path d="M123.7 448.1l 3.4 .7 2-1.3-3.4-.8z" class="mc"/>
<path d="M100.9 448.9l 3.4 .8 2-1.2-3.4-.6z" class="sd"/>
<path d="M132.5 448.4l 3.4 .7 1.9-1.1-3.4-.8z" class="mc"/>
<path d="M109.6 449.3l 3.4 .7 2-1.5-3.4-.5zM86.8 450.1l 3.4 .2 2-1.3-3.4-.1z" class="sd"/>
<path d="M118.4 449l 3.4 .5 1.9-1.4-3.4-.6z" class="mc"/>
<path d="M95.5 449.4l 3.4 .6 2-1.1-3.4-.6z" class="sd"/>
<path d="M127.1 448.8l 3.4 .6 2-1-3.4-.9z" class="mc"/>
<path d="M81.4 451l 3.4 .3 2-1.2-3.3-.2zM104.3 449.7l 3.4 .8 1.9-1.2-3.3-.8z" class="sd"/>
<path d="M135.9 449.1l 3.4 .6 1.9-1.1-3.4-.6z" class="mc"/>
<path d="M113 450l 3.4 .5 2-1.5-3.4-.5zM90.2 450.3l 3.3 .4 2-1.3-3.3-.4z" class="sd"/>
<path d="M121.8 449.5l 3.4 .5 1.9-1.2-3.4-.7z" class="mc"/>
<path d="M98.9 450l 3.4 .8 2-1.1-3.4-.8z" class="sd"/>
<path d="M130.5 449.4l 3.5 .7 1.9-1-3.4-.7z" class="mc"/>
<path d="M107.7 450.5l 3.4 .8 1.9-1.3-3.4-.7zM84.8 451.3l 3.4 .4 2-1.4-3.4-.2z" class="sd"/>
<path d="M139.3 449.7l 3.5 .3 1.9-1.1-3.5-.3zM116.4 450.5l 3.4 .5 2-1.5-3.4-.5z" class="mc"/>
<path d="M93.5 450.7l 3.4 .6 2-1.3-3.4-.6zM79.4 452l 3.4 .6 2-1.3-3.4-.3z" class="sd"/>
<path d="M125.2 450l 3.4 .5 1.9-1.1-3.4-.6z" class="mc"/>
<path d="M102.3 450.8l 3.4 .9 2-1.2-3.4-.8z" class="sd"/>
<path d="M134 450.1l 3.4 .5 1.9-.9-3.4-.6z" class="mc"/>
<path d="M111.1 451.3l 3.4 .7 1.9-1.5-3.4-.5zM88.2 451.7l 3.3 .5 2-1.5-3.3-.4z" class="sd"/>
<path d="M142.8 450l 3.4 .2 1.9-1.2-3.4-.1zM119.8 451l 3.4 .3 2-1.3-3.4-.5zM96.9 451.3l 3.4 .8 2-1.3-3.4-.8zM128.6 450.5l 3.4 .5 2-.9-3.5-.7z" class="mc"/>
<path d="M82.8 452.6l 3.4 .6 2-1.5-3.4-.4zM105.7 451.7l 3.4 .9 2-1.3-3.4-.8z" class="sd"/>
<path d="M137.4 450.6l 3.4 .5 2-1.1-3.5-.3zM114.5 452l 3.4 .3 1.9-1.3-3.4-.5z" class="mc"/>
<path d="M91.5 452.2l 3.4 .6 2-1.5-3.4-.6z" class="sd"/>
<path d="M146.2 450.2l 3.5 .2 1.9-1.2-3.5-.2z" class="td"/>
<path d="M77.4 453.1l 3.4 .8 2-1.3-3.4-.6z" class="sd"/>
<path d="M123.2 451.3l 3.5 .3 1.9-1.1-3.4-.5z" class="mc"/>
<path d="M100.3 452.1l 3.4 .8 2-1.2-3.4-.9z" class="sd"/>
<path d="M132 451l 3.5 .5 1.9-.9-3.4-.5z" class="mc"/>
<path d="M109.1 452.6l 3.4 .6 2-1.2-3.4-.7zM86.2 453.2l 3.3 .5 2-1.5-3.3-.5z" class="sd"/>
<path d="M140.8 451.1l 3.5 .3 1.9-1.2-3.4-.2zM117.9 452.3l 3.4 .2 1.9-1.2-3.4-.3zM94.9 452.8l 3.4 .6 2-1.3-3.4-.8z" class="mc"/>
<path d="M149.7 450.4l 3.4 .3 1.9-1.3-3.4-.2z" class="td"/>
<path d="M80.8 453.9l 3.3 .7 2.1-1.4-3.4-.6z" class="sd"/>
<path d="M126.7 451.6l 3.4 .3 1.9-.9-3.4-.5z" class="mc"/>
<path d="M103.7 452.9l 3.4 .8 2-1.1-3.4-.9z" class="sd"/>
<path d="M135.5 451.5l 3.4 .5 1.9-.9-3.4-.5zM112.5 453.2l 3.4 .4 2-1.3-3.4-.3z" class="mc"/>
<path d="M89.5 453.7l 3.4 .5 2-1.4-3.4-.6z" class="sd"/>
<path d="M144.3 451.4l 3.4 .3 2-1.3-3.5-.2z" class="td"/>
<path d="M75.4 454.2l 3.3 .9 2.1-1.2-3.4-.8z" class="sd"/>
<path d="M121.3 452.5l 3.4 .2 2-1.1-3.5-.3zM98.3 453.4l 3.4 .6 2-1.1-3.4-.8z" class="mc"/>
<path d="M153.1 450.7l 3.5 .5 1.9-1.3-3.5-.5z" class="td"/>
<path d="M84.1 454.6l 3.4 .6 2-1.5-3.3-.5z" class="sd"/>
<path d="M130.1 451.9l 3.4 .5 2-.9-3.5-.5z" class="td"/>
<path d="M107.1 453.7l 3.4 .5 2-1-3.4-.6z" class="sd"/>
<path d="M138.9 452l 3.5 .6 1.9-1.2-3.5-.3z" class="td"/>
<path d="M115.9 453.6l 3.4 .1 2-1.2-3.4-.2zM92.9 454.2l 3.4 .5 2-1.3-3.4-.6z" class="mc"/>
<path d="M147.7 451.7l 3.5 .4 1.9-1.4-3.4-.3z" class="td"/>
<path d="M78.7 455.1l 3.4 .9 2-1.4-3.3-.7z" class="sd"/>
<path d="M156.6 451.2l 3.5 .7 1.9-1.3-3.5-.7z" class="wb"/>
<path d="M101.7 454l 3.4 .6 2-.9-3.4-.8z" class="mc"/>
<path d="M124.7 452.7l 3.4 .2 2-1-3.4-.3zM133.5 452.4l 3.5 .6 1.9-1-3.4-.5z" class="td"/>
<path d="M87.5 455.2l 3.4 .5 2-1.5-3.4-.5z" class="sd"/>
<path d="M110.5 454.2l 3.4 .5 2-1.1-3.4-.4z" class="mc"/>
<path d="M142.4 452.6l 3.4 .5 1.9-1.4-3.4-.3z" class="td"/>
<path d="M73.3 455.4l 3.4 .9 2-1.2-3.3-.9z" class="sd"/>
<path d="M119.3 453.7l 3.5 .2 1.9-1.2-3.4-.2zM96.3 454.7l 3.4 .4 2-1.1-3.4-.6z" class="mc"/>
<path d="M151.2 452.1l 3.5 .5 1.9-1.4-3.5-.5z" class="td"/>
<path d="M82.1 456l 3.4 .6 2-1.4-3.4-.6z" class="sd"/>
<path d="M160.1 451.9l 3.4 .8 1.9-1.2-3.4-.9z" class="wb"/>
<path d="M105.1 454.6l 3.4 .6 2-1-3.4-.5z" class="mc"/>
<path d="M128.1 452.9l 3.5 .5 1.9-1-3.4-.5zM137 453l 3.4 .7 2-1.1-3.5-.6z" class="td"/>
<path d="M113.9 454.7l 3.5 .2 1.9-1.2-3.4-.1z" class="mc"/>
<path d="M90.9 455.7l 3.4 .3 2-1.3-3.4-.5z" class="sd"/>
<path d="M145.8 453.1l 3.5 .5 1.9-1.5-3.5-.4z" class="td"/>
<path d="M76.7 456.3l 3.4 .9 2-1.2-3.4-.9z" class="sd"/>
<path d="M154.7 452.6l 3.5 .6 1.9-1.3-3.5-.7z" class="wb"/>
<path d="M99.7 455.1l 3.4 .4 2-.9-3.4-.6z" class="mc"/>
<path d="M122.8 453.9l 3.4 .2 1.9-1.2-3.4-.2z" class="td"/>
<path d="M85.5 456.6l 3.4 .4 2-1.3-3.4-.5z" class="sd"/>
<path d="M131.6 453.4l 3.4 .7 2-1.1-3.5-.6z" class="td"/>
<path d="M108.5 455.2l 3.4 .4 2-.9-3.4-.5z" class="mc"/>
<path d="M140.4 453.7l 3.5 .8 1.9-1.4-3.4-.5z" class="td"/>
<path d="M71.3 456.7l 3.3 .8 2.1-1.2-3.4-.9z" class="sd"/>
<path d="M117.4 454.9l 3.4 .2 2-1.2-3.5-.2zM94.3 456l 3.4 .2 2-1.1-3.4-.4z" class="mc"/>
<path d="M149.3 453.6l 3.5 .6 1.9-1.6-3.5-.5z" class="td"/>
<path d="M80.1 457.2l 3.4 .6 2-1.2-3.4-.6z" class="sd"/>
<path d="M158.2 453.2l 3.4 .7 1.9-1.2-3.4-.8z" class="wb"/>
<path d="M103.1 455.5l 3.4 .5 2-.8-3.4-.6z" class="mc"/>
<path d="M126.2 454.1l 3.4 .4 2-1.1-3.5-.5zM135 454.1l 3.5 .8 1.9-1.2-3.4-.7z" class="td"/>
<path d="M88.9 457l 3.4 .2 2-1.2-3.4-.3z" class="sd"/>
<path d="M111.9 455.6l 3.5 .5 2-1.2-3.5-.2z" class="mc"/>
<path d="M143.9 454.5l 3.5 .6 1.9-1.5-3.5-.5z" class="td"/>
<path d="M74.6 457.5l 3.4 .7 2.1-1-3.4-.9z" class="sd"/>
<path d="M152.8 454.2l 3.4 .5 2-1.5-3.5-.6zM120.8 455.1l 3.4 .3 2-1.3-3.4-.2z" class="td"/>
<path d="M97.7 456.2l 3.4 .3 2-1-3.4-.4z" class="mc"/>
<path d="M83.5 457.8l 3.4 .4 2-1.2-3.4-.4z" class="sd"/>
<path d="M129.6 454.5l 3.5 .7 1.9-1.1-3.4-.7z" class="td"/>
<path d="M106.5 456l 3.5 .6 1.9-1-3.4-.4z" class="mc"/>
<path d="M138.5 454.9l 3.5 .9 1.9-1.3-3.5-.8z" class="td"/>
<path d="M69.2 458l 3.4 .6 2-1.1-3.3-.8z" class="sd"/>
<path d="M92.3 457.2l 3.4 .2 2-1.2-3.4-.2zM115.4 456.1l 3.4 .4 2-1.4-3.4-.2z" class="mc"/>
<path d="M147.4 455.1l 3.4 .6 2-1.5-3.5-.6z" class="td"/>
<path d="M78 458.2l 3.4 .6 2.1-1-3.4-.6z" class="sd"/>
<path d="M156.2 454.7l 3.5 .5 1.9-1.3-3.4-.7z" class="wb"/>
<path d="M124.2 455.4l 3.5 .5 1.9-1.4-3.4-.4z" class="td"/>
<path d="M101.1 456.5l 3.4 .5 2-1-3.4-.5zM86.9 458.2l 3.4 .3 2-1.3-3.4-.2z" class="mc"/>
<path d="M133.1 455.2l 3.5 .9 1.9-1.2-3.5-.8z" class="td"/>
<path d="M110 456.6l 3.4 .6 2-1.1-3.5-.5z" class="mc"/>
<path d="M142 455.8l 3.4 .8 2-1.5-3.5-.6z" class="td"/>
<path d="M72.6 458.6l 3.4 .6 2-1-3.4-.7z" class="sd"/>
<path d="M150.8 455.7l 3.5 .4 1.9-1.4-3.4-.5zM118.8 456.5l 3.5 .4 1.9-1.5-3.4-.3z" class="td"/>
<path d="M95.7 457.4l 3.4 .2 2-1.1-3.4-.3z" class="mc"/>
<path d="M81.4 458.8l 3.4 .5 2.1-1.1-3.4-.4z" class="sd"/>
<path d="M127.7 455.9l 3.4 .7 2-1.4-3.5-.7z" class="td"/>
<path d="M104.5 457l 3.5 .6 2-1-3.5-.6z" class="mc"/>
<path d="M67.1 459.4l 3.4 .4 2.1-1.2-3.4-.6z" class="sd"/>
<path d="M136.6 456.1l 3.4 .9 2-1.2-3.5-.9z" class="td"/>
<path d="M90.3 458.5l 3.4 .1 2-1.2-3.4-.2z" class="mc"/>
<path d="M113.4 457.2l 3.4 .6 2-1.3-3.4-.4zM145.4 456.6l 3.5 .5 1.9-1.4-3.4-.6z" class="td"/>
<path d="M76 459.2l 3.4 .6 2-1-3.4-.6z" class="sd"/>
<path d="M154.3 456.1l 3.5 .3 1.9-1.2-3.5-.5z" class="wb"/>
<path d="M122.3 456.9l 3.4 .5 2-1.5-3.5-.5zM99.1 457.6l 3.4 .4 2-1-3.4-.5z" class="td"/>
<path d="M84.8 459.3l 3.4 .3 2.1-1.1-3.4-.3z" class="mc"/>
<path d="M131.1 456.6l 3.5 .8 2-1.3-3.5-.9zM108 457.6l 3.4 .8 2-1.2-3.4-.6zM140 457l 3.5 .8 1.9-1.2-3.4-.8z" class="td"/>
<path d="M70.5 459.8l 3.4 .4 2.1-1-3.4-.6z" class="mc"/>
<path d="M148.9 457.1l 3.5 .3 1.9-1.3-3.5-.4zM116.8 457.8l 3.5 .6 2-1.5-3.5-.4z" class="td"/>
<path d="M93.7 458.6l 3.4 .2 2-1.2-3.4-.2zM79.4 459.8l 3.4 .5 2-1-3.4-.5z" class="mc"/>
<path d="M163.5 452.7l 1.9-1.2 1.6-77.8-1.9 1.6z" class="g"/>
<path d="M125.7 457.4l 3.5 .6 1.9-1.4-3.4-.7zM102.5 458l 3.5 .7 2-1.1-3.5-.6z" class="td"/>
<path d="M65.1 460.7l 3.4 .2 2-1.1-3.4-.4z" class="sd"/>
<path d="M134.6 457.4l 3.5 .8 1.9-1.2-3.4-.9z" class="td"/>
<path d="M88.2 459.6l 3.4 .3 2.1-1.3-3.4-.1z" class="mc"/>
<path d="M111.4 458.4l 3.4 .8 2-1.4-3.4-.6zM143.5 457.8l 3.5 .6 1.9-1.3-3.5-.5z" class="td"/>
<path d="M73.9 460.2l 3.4 .4 2.1-.8-3.4-.6z" class="mc"/>
<path d="M152.4 457.4l 3.5 .2 1.9-1.2-3.5-.3z" class="wb"/>
<path d="M120.3 458.4l 3.4 .5 2-1.5-3.4-.5zM97.1 458.8l 3.4 .4 2-1.2-3.4-.4z" class="td"/>
<path d="M82.8 460.3l 3.4 .4 2-1.1-3.4-.3z" class="mc"/>
<path d="M129.2 458l 3.4 .6 2-1.2-3.5-.8zM106 458.7l 3.4 .8 2-1.1-3.4-.8zM138.1 458.2l 3.5 .7 1.9-1.1-3.5-.8z" class="td"/>
<path d="M68.5 460.9l 3.3 .3 2.1-1-3.4-.4z" class="mc"/>
<path d="M114.8 459.2l 3.5 .7 2-1.5-3.5-.6zM147 458.4l 3.5 .3 1.9-1.3-3.5-.3z" class="td"/>
<path d="M91.6 459.9l 3.5 .3 2-1.4-3.4-.2zM77.3 460.6l 3.4 .6 2.1-.9-3.4-.5z" class="mc"/>
<path d="M123.7 458.9l 3.5 .5 2-1.4-3.5-.6z" class="td"/>
<path d="M161.6 453.9l 1.9-1.2 1.6-77.4-2 1.6z" class="g"/>
<path d="M63 462l 3.4 .1 2.1-1.2-3.4-.2z" class="mc"/>
<path d="M100.5 459.2l 3.5 .7 2-1.2-3.5-.7zM132.6 458.6l 3.5 .7 2-1.1-3.5-.8z" class="td"/>
<path d="M86.2 460.7l 3.4 .5 2-1.3-3.4-.3z" class="mc"/>
<path d="M109.4 459.5l 3.5 1 1.9-1.3-3.4-.8zM141.6 458.9l 3.4 .5 2-1-3.5-.6z" class="td"/>
<path d="M71.8 461.2l 3.4 .4 2.1-1-3.4-.4z" class="mc"/>
<path d="M118.3 459.9l 3.5 .6 1.9-1.6-3.4-.5z" class="td"/>
<path d="M150.5 458.7l 3.5 .1 1.9-1.2-3.5-.2z" class="wb"/>
<path d="M95.1 460.2l 3.4 .5 2-1.5-3.4-.4z" class="td"/>
<path d="M80.7 461.2l 3.4 .7 2.1-1.2-3.4-.4z" class="mc"/>
<path d="M127.2 459.4l 3.5 .5 1.9-1.3-3.4-.6zM104 459.9l 3.4 .9 2-1.3-3.4-.8zM136.1 459.3l 3.5 .6 2-1-3.5-.7z" class="td"/>
<path d="M66.4 462.1l 3.4 .2 2-1.1-3.3-.3z" class="mc"/>
<path d="M112.9 460.5l 3.4 .8 2-1.4-3.5-.7z" class="td"/>
<path d="M89.6 461.2l 3.4 .5 2.1-1.5-3.5-.3z" class="mc"/>
<path d="M145 459.4l 3.5 .4 2-1.1-3.5-.3zM121.8 460.5l 3.4 .4 2-1.5-3.5-.5z" class="td"/>
<path d="M75.2 461.6l 3.5 .6 2-1-3.4-.6z" class="mc"/>
<path d="M159.7 455.2l 1.9-1.3 1.5-77-2 1.8z" class="g"/>
<path d="M60.9 463.2l 3.4 .2 2.1-1.3-3.4-.1z" class="mc"/>
<path d="M98.5 460.7l 3.4 .6 2.1-1.4-3.5-.7zM130.7 459.9l 3.5 .4 1.9-1-3.5-.7z" class="td"/>
<path d="M84.1 461.9l 3.5 .6 2-1.3-3.4-.5z" class="mc"/>
<path d="M107.4 460.8l 3.5 .9 2-1.2-3.5-1zM139.6 459.9l 3.5 .5 1.9-1-3.4-.5z" class="td"/>
<path d="M69.8 462.3l 3.4 .4 2-1.1-3.4-.4z" class="mc"/>
<path d="M116.3 461.3l 3.5 .6 2-1.4-3.5-.6z" class="td"/>
<path d="M148.5 459.8l 3.6 .2 1.9-1.2-3.5-.1z" class="wb"/>
<path d="M93 461.7l 3.5 .5 2-1.5-3.4-.5zM125.2 460.9l 3.5 .2 2-1.2-3.5-.5z" class="td"/>
<path d="M78.7 462.2l 3.4 .8 2-1.1-3.4-.7z" class="mc"/>
<path d="M101.9 461.3l 3.5 .7 2-1.2-3.4-.9z" class="td"/>
<path d="M64.3 463.4l 3.4 .2 2.1-1.3-3.4-.2z" class="mc"/>
<path d="M134.2 460.3l 3.5 .5 1.9-.9-3.5-.6z" class="wb"/>
<path d="M110.9 461.7l 3.4 .8 2-1.2-3.4-.8z" class="td"/>
<path d="M87.6 462.5l 3.4 .7 2-1.5-3.4-.5z" class="mc"/>
<path d="M143.1 460.4l 3.5 .5 1.9-1.1-3.5-.4z" class="wb"/>
<path d="M119.8 461.9l 3.4 .3 2-1.3-3.4-.4z" class="td"/>
<path d="M73.2 462.7l 3.4 .7 2.1-1.2-3.5-.6z" class="mc"/>
<path d="M157.8 456.4l 1.9-1.2 1.4-76.5-1.9 1.9z" class="g"/>
<path d="M58.8 464.3l 3.4 .4 2.1-1.3-3.4-.2z" class="mc"/>
<path d="M96.5 462.2l 3.4 .6 2-1.5-3.4-.6z" class="td"/>
<path d="M128.7 461.1l 3.5 .3 2-1.1-3.5-.4z" class="wb"/>
<path d="M82.1 463l 3.4 .9 2.1-1.4-3.5-.6z" class="mc"/>
<path d="M105.4 462l 3.4 .8 2.1-1.1-3.5-.9z" class="td"/>
<path d="M137.7 460.8l 3.5 .5 1.9-.9-3.5-.5z" class="wb"/>
<path d="M67.7 463.6l 3.4 .4 2.1-1.3-3.4-.4z" class="mc"/>
<path d="M114.3 462.5l 3.5 .6 2-1.2-3.5-.6zM91 463.2l 3.4 .6 2.1-1.6-3.5-.5z" class="td"/>
<path d="M146.6 460.9l 3.5 .4 2-1.3-3.6-.2z" class="wb"/>
<path d="M165.1 375.3l 3.6 .3 1.9-1.7-3.6-.2z" class="ed"/>
<path d="M123.2 462.2l 3.5 .2 2-1.3-3.5-.2zM76.6 463.4l 3.4 .8 2.1-1.2-3.4-.8zM99.9 462.8l 3.5 .5 2-1.3-3.5-.7z" class="td"/>
<path d="M62.2 464.7l 3.4 .3 2.1-1.4-3.4-.2z" class="mc"/>
<path d="M132.2 461.4l 3.5 .3 2-.9-3.5-.5z" class="wb"/>
<path d="M85.5 463.9l 3.5 .8 2-1.5-3.4-.7z" class="mc"/>
<path d="M108.8 462.8l 3.5 .8 2-1.1-3.4-.8z" class="td"/>
<path d="M141.2 461.3l 3.5 .6 1.9-1-3.5-.5z" class="wb"/>
<path d="M117.8 463.1l 3.5 .3 1.9-1.2-3.4-.3zM71.1 464l 3.4 .6 2.1-1.2-3.4-.7z" class="td"/>
<path d="M155.9 457.6l 1.9-1.2 1.4-75.8-2 2z" class="g"/>
<path d="M56.7 465.4l 3.4 .6 2.1-1.3-3.4-.4z" class="mc"/>
<path d="M94.4 463.8l 3.5 .5 2-1.5-3.4-.6z" class="td"/>
<path d="M168.7 375.6l 3.6 .6 1.9-1.9-3.6-.4z" class="ed"/>
<path d="M80 464.2l 3.5 .9 2-1.2-3.4-.9z" class="mc"/>
<path d="M126.7 462.4l 3.5 .1 2-1.1-3.5-.3z" class="wb"/>
<path d="M103.4 463.3l 3.4 .6 2-1.1-3.4-.8z" class="td"/>
<path d="M65.6 465l 3.4 .5 2.1-1.5-3.4-.4z" class="mc"/>
<path d="M135.7 461.7l 3.5 .5 2-.9-3.5-.5z" class="wb"/>
<path d="M89 464.7l 3.4 .6 2-1.5-3.4-.6z" class="mc"/>
<path d="M112.3 463.6l 3.5 .5 2-1-3.5-.6z" class="td"/>
<path d="M163.1 376.9l 3.6 .6 2-1.9-3.6-.3z" class="ed"/>
<path d="M144.7 461.9l 3.5 .6 1.9-1.2-3.5-.4z" class="wb"/>
<path d="M74.5 464.6l 3.5 .9 2-1.3-3.4-.8zM121.3 463.4l 3.4 .2 2-1.2-3.5-.2z" class="td"/>
<path d="M172.3 376.2l 3.6 .8 1.9-2.1-3.6-.6z" class="ed"/>
<path d="M97.9 464.3l 3.4 .4 2.1-1.4-3.5-.5z" class="td"/>
<path d="M60.1 466l 3.4 .5 2.1-1.5-3.4-.3zM83.5 465.1l 3.4 .9 2.1-1.3-3.5-.8z" class="mc"/>
<path d="M130.2 462.5l 3.5 .3 2-1.1-3.5-.3z" class="wb"/>
<path d="M106.8 463.9l 3.5 .6 2-.9-3.5-.8z" class="td"/>
<path d="M139.2 462.2l 3.5 .7 2-1-3.5-.6z" class="wb"/>
<path d="M69 465.5l 3.4 .6 2.1-1.5-3.4-.6zM115.8 464.1l 3.5 .4 2-1.1-3.5-.3z" class="td"/>
<path d="M154 458.8l 1.9-1.2 1.3-75-2 2.1z" class="g"/>
<path d="M92.4 465.3l 3.4 .4 2.1-1.4-3.5-.5z" class="td"/>
<path d="M54.6 466.6l 3.4 .7 2.1-1.3-3.4-.6z" class="mc"/>
<path d="M166.7 377.5l 3.6 .7 2-2-3.6-.6zM175.9 377l 3.6 .8 1.9-2-3.6-.9z" class="ed"/>
<path d="M78 465.5l 3.4 .9 2.1-1.3-3.5-.9z" class="td"/>
<path d="M124.7 463.6l 3.5 .2 2-1.3-3.5-.1z" class="wb"/>
<path d="M101.3 464.7l 3.5 .3 2-1.1-3.4-.6z" class="td"/>
<path d="M63.5 466.5l 3.4 .6 2.1-1.6-3.4-.5zM86.9 466l 3.4 .6 2.1-1.3-3.4-.6z" class="mc"/>
<path d="M133.7 462.8l 3.5 .5 2-1.1-3.5-.5z" class="wb"/>
<path d="M110.3 464.5l 3.5 .6 2-1-3.5-.5z" class="td"/>
<path d="M161.1 378.7l 3.6 .7 2-1.9-3.6-.6z" class="ud"/>
<path d="M142.7 462.9l 3.5 .9 2-1.3-3.5-.6z" class="wb"/>
<path d="M72.4 466.1l 3.5 .7 2.1-1.3-3.5-.9z" class="td"/>
<path d="M170.3 378.2l 3.6 .8 2-2-3.6-.8z" class="ed"/>
<path d="M119.3 464.5l 3.5 .3 1.9-1.2-3.4-.2z" class="wb"/>
<path d="M95.8 465.7l 3.5 .3 2-1.3-3.4-.4z" class="td"/>
<path d="M58 467.3l 3.4 .7 2.1-1.5-3.4-.5z" class="mc"/>
<path d="M179.5 377.8l 3.6 1 2-2.1-3.7-.9z" class="ed"/>
<path d="M81.4 466.4l 3.4 .8 2.1-1.2-3.4-.9z" class="mc"/>
<path d="M128.2 463.8l 3.5 .3 2-1.3-3.5-.3z" class="wb"/>
<path d="M104.8 465l 3.5 .5 2-1-3.5-.6z" class="td"/>
<path d="M66.9 467.1l 3.5 .5 2-1.5-3.4-.6z" class="mc"/>
<path d="M90.3 466.6l 3.5 .4 2-1.3-3.4-.4z" class="td"/>
<path d="M137.2 463.3l 3.5 .8 2-1.2-3.5-.7z" class="wb"/>
<path d="M152.1 460l 1.9-1.2 1.2-74.1-2 2.1z" class="g"/>
<path d="M52.5 467.7l 3.4 .9 2.1-1.3-3.4-.7z" class="mc"/>
<path d="M164.7 379.4l 3.6 .8 2-2-3.6-.7z" class="ud"/>
<path d="M113.8 465.1l 3.5 .5 2-1.1-3.5-.4z" class="td"/>
<path d="M173.9 379l 3.6 1 2-2.2-3.6-.8z" class="ed"/>
<path d="M75.9 466.8l 3.4 .7 2.1-1.1-3.4-.9z" class="td"/>
<path d="M183.1 378.8l 3.6 .9 2-2.1-3.6-.9z" class="ed"/>
<path d="M122.8 464.8l 3.5 .3 1.9-1.3-3.5-.2z" class="wb"/>
<path d="M99.3 466l 3.5 .2 2-1.2-3.5-.3z" class="td"/>
<path d="M61.4 468l 3.4 .6 2.1-1.5-3.4-.6z" class="mc"/>
<path d="M84.8 467.2l 3.5 .6 2-1.2-3.4-.6z" class="td"/>
<path d="M159.2 380.6l 3.6 .8 1.9-2-3.6-.7z" class="ud"/>
<path d="M131.7 464.1l 3.6 .5 1.9-1.3-3.5-.5z" class="vd"/>
<path d="M108.3 465.5l 3.5 .5 2-.9-3.5-.6zM140.7 464.1l 3.6 .9 1.9-1.2-3.5-.9z" class="wb"/>
<path d="M168.3 380.2l 3.7 .9 1.9-2.1-3.6-.8z" class="ud"/>
<path d="M70.4 467.6l 3.4 .5 2.1-1.3-3.5-.7z" class="td"/>
<path d="M55.9 468.6l 3.4 .9 2.1-1.5-3.4-.7z" class="mc"/>
<path d="M93.8 467l 3.5 .2 2-1.2-3.5-.3z" class="td"/>
<path d="M117.3 465.6l 3.5 .5 2-1.3-3.5-.3z" class="wb"/>
<path d="M177.5 380l 3.7 .9 1.9-2.1-3.6-1z" class="ud"/>
<path d="M186.7 379.7l 3.7 .7 1.9-2-3.6-.8z" class="ed"/>
<path d="M79.3 467.5l 3.5 .8 2-1.1-3.4-.8z" class="td"/>
<path d="M126.3 465.1l 3.5 .4 1.9-1.4-3.5-.3zM102.8 466.2l 3.4 .3 2.1-1-3.5-.5z" class="wb"/>
<path d="M64.8 468.6l 3.5 .5 2.1-1.5-3.5-.5z" class="mc"/>
<path d="M150.1 461.3l 2-1.3 1.1-73.2-2 2.1z" class="g"/>
<path d="M162.8 381.4l 3.6 .9 1.9-2.1-3.6-.8z" class="ud"/>
<path d="M50.3 468.9l 3.5 1 2.1-1.3-3.4-.9z" class="mc"/>
<path d="M88.3 467.8l 3.4 .4 2.1-1.2-3.5-.4z" class="td"/>
<path d="M135.3 464.6l 3.5 .7 1.9-1.2-3.5-.8z" class="vd"/>
<path d="M111.8 466l 3.4 .6 2.1-1-3.5-.5z" class="wb"/>
<path d="M172 381.1l 3.6 1 1.9-2.1-3.6-1zM181.2 380.9l 3.6 .8 1.9-2-3.6-.9z" class="ud"/>
<path d="M73.8 468.1l 3.4 .6 2.1-1.2-3.4-.7z" class="td"/>
<path d="M59.3 469.5l 3.4 .6 2.1-1.5-3.4-.6z" class="mc"/>
<path d="M120.8 466.1l 3.5 .4 2-1.4-3.5-.3z" class="wb"/>
<path d="M190.4 380.4l 3.6 .6 2-1.9-3.7-.7z" class="ed"/>
<path d="M97.3 467.2l 3.4 .2 2.1-1.2-3.5-.2zM82.8 468.3l 3.4 .6 2.1-1.1-3.5-.6z" class="td"/>
<path d="M157.2 382.6l 3.6 .9 2-2.1-3.6-.8z" class="fd"/>
<path d="M129.8 465.5l 3.5 .5 2-1.4-3.6-.5z" class="vd"/>
<path d="M106.2 466.5l 3.5 .5 2.1-1-3.5-.5z" class="wb"/>
<path d="M166.4 382.3l 3.6 1 2-2.2-3.7-.9z" class="ud"/>
<path d="M68.3 469.1l 3.4 .4 2.1-1.4-3.4-.5z" class="td"/>
<path d="M138.8 465.3l 3.5 1 2-1.3-3.6-.9z" class="vd"/>
<path d="M53.8 469.9l 3.4 .9 2.1-1.3-3.4-.9z" class="mc"/>
<path d="M175.6 382.1l 3.6 .8 2-2-3.7-.9z" class="ud"/>
<path d="M91.7 468.2l 3.5 .3 2.1-1.3-3.5-.2z" class="td"/>
<path d="M115.2 466.6l 3.5 .7 2.1-1.2-3.5-.5z" class="wb"/>
<path d="M184.8 381.7l 3.6 .6 2-1.9-3.7-.7z" class="ud"/>
<path d="M77.2 468.7l 3.5 .5 2.1-.9-3.5-.8z" class="td"/>
<path d="M194 381l 3.7 .3 1.9-1.7-3.6-.5z" class="ed"/>
<path d="M124.3 466.5l 3.5 .5 2-1.5-3.5-.4z" class="wb"/>
<path d="M62.7 470.1l 3.5 .5 2.1-1.5-3.5-.5z" class="mc"/>
<path d="M100.7 467.4l 3.5 .2 2-1.1-3.4-.3z" class="wb"/>
<path d="M160.8 383.5l 3.6 .9 2-2.1-3.6-.9z" class="fd"/>
<path d="M148.2 462.5l 1.9-1.2 1.1-72.4-2 2.1z" class="g"/>
<path d="M48.2 470.2l 3.4 .9 2.2-1.2-3.5-1z" class="mc"/>
<path d="M86.2 468.9l 3.5 .4 2-1.1-3.4-.4z" class="td"/>
<path d="M133.3 466l 3.5 .7 2-1.4-3.5-.7z" class="vd"/>
<path d="M170 383.3l 3.6 .8 2-2-3.6-1z" class="fd"/>
<path d="M109.7 467l 3.5 .7 2-1.1-3.4-.6z" class="wb"/>
<path d="M179.2 382.9l 3.6 .7 2-1.9-3.6-.8z" class="ud"/>
<path d="M71.7 469.5l 3.4 .3 2.1-1.1-3.4-.6z" class="td"/>
<path d="M57.2 470.8l 3.4 .7 2.1-1.4-3.4-.6z" class="mc"/>
<path d="M188.4 382.3l 3.7 .4 1.9-1.7-3.6-.6z" class="ud"/>
<path d="M118.7 467.3l 3.5 .7 2.1-1.5-3.5-.4z" class="wb"/>
<path d="M95.2 468.5l 3.5 .2 2-1.3-3.4-.2z" class="td"/>
<path d="M197.7 381.3l 3.7 .1 1.9-1.5-3.7-.3z" class="ed"/>
<path d="M155.2 384.7l 3.6 .9 2-2.1-3.6-.9z" class="fd"/>
<path d="M80.7 469.2l 3.4 .6 2.1-.9-3.4-.6z" class="td"/>
<path d="M127.8 467l 3.5 .6 2-1.6-3.5-.5z" class="wb"/>
<path d="M164.4 384.4l 3.6 1 2-2.1-3.6-1z" class="fd"/>
<path d="M66.2 470.6l 3.4 .2 2.1-1.3-3.4-.4z" class="td"/>
<path d="M104.2 467.6l 3.5 .5 2-1.1-3.5-.5z" class="wb"/>
<path d="M51.6 471.1l 3.5 .8 2.1-1.1-3.4-.9z" class="mc"/>
<path d="M173.6 384.1l 3.6 .8 2-2-3.6-.8z" class="fd"/>
<path d="M136.8 466.7l 3.5 .8 2-1.2-3.5-1z" class="vd"/>
<path d="M89.7 469.3l 3.5 .4 2-1.2-3.5-.3z" class="td"/>
<path d="M113.2 467.7l 3.5 .8 2-1.2-3.5-.7z" class="wb"/>
<path d="M182.8 383.6l 3.7 .5 1.9-1.8-3.6-.6z" class="ud"/>
<path d="M192.1 382.7l 3.7 .2 1.9-1.6-3.7-.3z" class="ed"/>
<path d="M75.1 469.8l 3.5 .4 2.1-1-3.5-.5z" class="td"/>
<path d="M60.6 471.5l 3.5 .4 2.1-1.3-3.5-.5z" class="mc"/>
<path d="M122.2 468l 3.6 .6 2-1.6-3.5-.5zM98.7 468.7l 3.5 .2 2-1.3-3.5-.2z" class="wb"/>
<path d="M158.8 385.6l 3.6 1 2-2.2-3.6-.9z" class="fd"/>
<path d="M201.4 381.4l 3.7-.2 1.9-1.3-3.7 0z" class="wd"/>
<path d="M46.1 471.6l 3.4 .7 2.1-1.2-3.4-.9z" class="mc"/>
<path d="M146.2 463.8l 2-1.3 1-71.5-2.1 2.1z" class="g"/>
<path d="M168 385.4l 3.6 .8 2-2.1-3.6-.8z" class="fd"/>
<path d="M84.1 469.8l 3.5 .5 2.1-1-3.5-.4z" class="td"/>
<path d="M131.3 467.6l 3.5 .6 2-1.5-3.5-.7z" class="vd"/>
<path d="M107.7 468.1l 3.5 .7 2-1.1-3.5-.7z" class="wb"/>
<path d="M177.2 384.9l 3.7 .6 1.9-1.9-3.6-.7z" class="fd"/>
<path d="M69.6 470.8l 3.5 .2 2-1.2-3.4-.3z" class="td"/>
<path d="M55.1 471.9l 3.4 .7 2.1-1.1-3.4-.7z" class="mc"/>
<path d="M186.5 384.1l 3.7 .3 1.9-1.7-3.7-.4z" class="ud"/>
<path d="M116.7 468.5l 3.5 .9 2-1.4-3.5-.7zM93.2 469.7l 3.4 .3 2.1-1.3-3.5-.2z" class="wb"/>
<path d="M153.2 386.8l 3.6 .9 2-2.1-3.6-.9z" class="xd"/>
<path d="M195.8 382.9l 3.7-.1 1.9-1.4-3.7-.1z" class="ed"/>
<path d="M78.6 470.2l 3.5 .5 2-.9-3.4-.6z" class="td"/>
<path d="M125.8 468.6l 3.5 .6 2-1.6-3.5-.6z" class="wb"/>
<path d="M162.4 386.6l 3.6 .8 2-2-3.6-1z" class="xd"/>
<path d="M64.1 471.9l 3.4 .2 2.1-1.3-3.4-.2z" class="td"/>
<path d="M205.1 381.2l 3.7-.3 1.9-1.3-3.7 .3z" class="wd"/>
<path d="M102.2 468.9l 3.5 .5 2-1.3-3.5-.5z" class="wb"/>
<path d="M171.6 386.2l 3.7 .6 1.9-1.9-3.6-.8z" class="fd"/>
<path d="M49.5 472.3l 3.4 .7 2.2-1.1-3.5-.8z" class="mc"/>
<path d="M134.8 468.2l 3.5 .6 2-1.3-3.5-.8z" class="vd"/>
<path d="M87.6 470.3l 3.5 .6 2.1-1.2-3.5-.4z" class="td"/>
<path d="M180.9 385.5l 3.6 .3 2-1.7-3.7-.5z" class="fd"/>
<path d="M111.2 468.8l 3.5 1 2-1.3-3.5-.8z" class="wb"/>
<path d="M73.1 471l 3.4 .3 2.1-1.1-3.5-.4z" class="td"/>
<path d="M190.2 384.4l 3.7 0 1.9-1.5-3.7-.2z" class="ud"/>
<path d="M58.5 472.6l 3.4 .5 2.2-1.2-3.5-.4z" class="mc"/>
<path d="M120.2 469.4l 3.6 .7 2-1.5-3.6-.6z" class="wb"/>
<path d="M156.8 387.7l 3.6 .9 2-2-3.6-1z" class="xd"/>
<path d="M96.6 470l 3.5 .4 2.1-1.5-3.5-.2z" class="wb"/>
<path d="M43.9 473l 3.5 .5 2.1-1.2-3.4-.7z" class="mc"/>
<path d="M144.3 465l 1.9-1.2 .9-70.7-2 2.1z" class="g"/>
<path d="M199.5 382.8l 3.7-.3 1.9-1.3-3.7 .2z" class="wd"/>
<path d="M166 387.4l 3.7 .7 1.9-1.9-3.6-.8z" class="xd"/>
<path d="M129.3 469.2l 3.5 .4 2-1.4-3.5-.6z" class="vd"/>
<path d="M82.1 470.7l 3.4 .6 2.1-1-3.5-.5z" class="td"/>
<path d="M175.3 386.8l 3.6 .4 2-1.7-3.7-.6z" class="fd"/>
<path d="M105.7 469.4l 3.5 .7 2-1.3-3.5-.7z" class="wb"/>
<path d="M208.8 380.9l 3.8-.5 1.9-1.2-3.8 .4z" class="id"/>
<path d="M67.5 472.1l 3.4 .2 2.2-1.3-3.5-.2z" class="td"/>
<path d="M52.9 473l 3.5 .6 2.1-1-3.4-.7z" class="mc"/>
<path d="M184.5 385.8l 3.7 .1 2-1.5-3.7-.3z" class="ud"/>
<path d="M114.7 469.8l 3.5 .9 2-1.3-3.5-.9zM91.1 470.9l 3.5 .5 2-1.4-3.4-.3z" class="wb"/>
<path d="M151.2 388.9l 3.6 .9 2-2.1-3.6-.9z" class="xd"/>
<path d="M193.9 384.4l 3.7-.3 1.9-1.3-3.7 .1z" class="ed"/>
<path d="M123.8 470.1l 3.5 .6 2-1.5-3.5-.6z" class="wb"/>
<path d="M160.4 388.6l 3.6 .8 2-2-3.6-.8z" class="xd"/>
<path d="M76.5 471.3l 3.5 .4 2.1-1-3.5-.5z" class="wb"/>
<path d="M61.9 473.1l 3.5 .3 2.1-1.3-3.4-.2z" class="td"/>
<path d="M100.1 470.4l 3.5 .5 2.1-1.5-3.5-.5z" class="wb"/>
<path d="M169.7 388.1l 3.6 .5 2-1.8-3.7-.6z" class="xd"/>
<path d="M47.4 473.5l 3.4 .5 2.1-1-3.4-.7z" class="td"/>
<path d="M203.2 382.5l 3.7-.4 1.9-1.2-3.7 .3z" class="wd"/>
<path d="M132.8 469.6l 3.6 .4 1.9-1.2-3.5-.6z" class="vd"/>
<path d="M85.5 471.3l 3.5 .8 2.1-1.2-3.5-.6z" class="wb"/>
<path d="M178.9 387.2l 3.7 .2 1.9-1.6-3.6-.3z" class="fd"/>
<path d="M109.2 470.1l 3.5 .9 2-1.2-3.5-1z" class="wb"/>
<path d="M212.6 380.4l 3.7-.5 1.9-1.2-3.7 .5z" class="yd"/>
<path d="M70.9 472.3l 3.5 .2 2.1-1.2-3.4-.3z" class="td"/>
<path d="M118.2 470.7l 3.5 .8 2.1-1.4-3.6-.7z" class="wb"/>
<path d="M56.4 473.6l 3.4 .5 2.1-1-3.4-.5z" class="td"/>
<path d="M188.2 385.9l 3.7-.2 2-1.3-3.7 0z" class="ud"/>
<path d="M154.8 389.8l 3.6 .9 2-2.1-3.6-.9z" class="yc"/>
<path d="M94.6 471.4l 3.5 .6 2-1.6-3.5-.4z" class="wb"/>
<path d="M41.8 474.4l 3.4 .3 2.2-1.2-3.5-.5z" class="td"/>
<path d="M142.3 466.3l 2-1.3 .8-69.8-2 1.9z" class="g"/>
<path d="M164 389.4l 3.7 .6 2-1.9-3.7-.7z" class="xd"/>
<path d="M197.6 384.1l 3.7-.4 1.9-1.2-3.7 .3z" class="ed"/>
<path d="M127.3 470.7l 3.5 .4 2-1.5-3.5-.4zM80 471.7l 3.4 .7 2.1-1.1-3.4-.6z" class="wb"/>
<path d="M173.3 388.6l 3.7 .3 1.9-1.7-3.6-.4z" class="fd"/>
<path d="M103.6 470.9l 3.5 .7 2.1-1.5-3.5-.7z" class="wb"/>
<path d="M65.4 473.4l 3.4 .2 2.1-1.3-3.4-.2z" class="td"/>
<path d="M206.9 382.1l 3.8-.5 1.9-1.2-3.8 .5z" class="id"/>
<path d="M50.8 474l 3.4 .5 2.2-.9-3.5-.6z" class="td"/>
<path d="M149.2 391l 3.6 .9 2-2.1-3.6-.9z" class="yc"/>
<path d="M182.6 387.4l 3.7-.1 1.9-1.4-3.7-.1z" class="ud"/>
<path d="M89 472.1l 3.5 .7 2.1-1.4-3.5-.5zM112.7 471l 3.5 .9 2-1.2-3.5-.9z" class="wb"/>
<path d="M216.3 379.9l 3.8-.5 1.9-1.2-3.8 .5z" class="yd"/>
<path d="M158.4 390.7l 3.6 .6 2-1.9-3.6-.8z" class="yc"/>
<path d="M121.7 471.5l 3.6 .6 2-1.4-3.5-.6z" class="wb"/>
<path d="M191.9 385.7l 3.7-.3 2-1.3-3.7 .3z" class="ed"/>
<path d="M74.4 472.5l 3.5 .4 2.1-1.2-3.5-.4z" class="wb"/>
<path d="M59.8 474.1l 3.5 .4 2.1-1.1-3.5-.3z" class="td"/>
<path d="M98.1 472l 3.5 .5 2-1.6-3.5-.5z" class="wb"/>
<path d="M167.7 390l 3.6 .3 2-1.7-3.6-.5z" class="xd"/>
<path d="M45.2 474.7l 3.4 .3 2.2-1-3.4-.5z" class="td"/>
<path d="M130.8 471.1l 3.6 .2 2-1.3-3.6-.4z" class="vd"/>
<path d="M201.3 383.7l 3.7-.4 1.9-1.2-3.7 .4z" class="wd"/>
<path d="M83.4 472.4l 3.5 .9 2.1-1.2-3.5-.8z" class="wb"/>
<path d="M177 388.9l 3.6 0 2-1.5-3.7-.2z" class="fd"/>
<path d="M107.1 471.6l 3.5 .7 2.1-1.3-3.5-.9z" class="wb"/>
<path d="M210.7 381.6l 3.7-.5 1.9-1.2-3.7 .5z" class="yd"/>
<path d="M68.8 473.6l 3.5 .3 2.1-1.4-3.5-.2z" class="wb"/>
<path d="M152.8 391.9l 3.6 .7 2-1.9-3.6-.9z" class="yc"/>
<path d="M116.2 471.9l 3.5 .8 2-1.2-3.5-.8z" class="wb"/>
<path d="M54.2 474.5l 3.5 .6 2.1-1-3.4-.5z" class="td"/>
<path d="M186.3 387.3l 3.7-.3 1.9-1.3-3.7 .2z" class="ud"/>
<path d="M92.5 472.8l 3.5 .7 2.1-1.5-3.5-.6z" class="wb"/>
<path d="M39.6 475.8l 3.4 .1 2.2-1.2-3.4-.3z" class="td"/>
<path d="M140.3 467.5l 2-1.2 .8-69.2-2 1.9z" class="g"/>
<path d="M162 391.3l 3.7 .4 2-1.7-3.7-.6z" class="xd"/>
<path d="M220.1 379.4l 3.8-.3 1.8-1.3-3.7 .4z" class="nd"/>
<path d="M125.3 472.1l 3.5 .3 2-1.3-3.5-.4z" class="wb"/>
<path d="M195.6 385.4l 3.8-.5 1.9-1.2-3.7 .4z" class="ed"/>
<path d="M77.9 472.9l 3.5 .7 2-1.2-3.4-.7zM101.6 472.5l 3.5 .6 2-1.5-3.5-.7z" class="wb"/>
<path d="M171.3 390.3l 3.7 .1 2-1.5-3.7-.3z" class="xd"/>
<path d="M63.3 474.5l 3.4 .4 2.1-1.3-3.4-.2zM48.6 475l 3.5 .5 2.1-1-3.4-.5z" class="td"/>
<path d="M147.1 393.1l 3.7 .8 2-2-3.6-.9z" class="yc"/>
<path d="M205 383.3l 3.8-.5 1.9-1.2-3.8 .5z" class="id"/>
<path d="M86.9 473.3l 3.5 .9 2.1-1.4-3.5-.7zM110.6 472.3l 3.6 .8 2-1.2-3.5-.9z" class="wb"/>
<path d="M180.6 388.9l 3.7-.2 2-1.4-3.7 .1z" class="fd"/>
<path d="M156.4 392.6l 3.6 .5 2-1.8-3.6-.6z" class="yc"/>
<path d="M214.4 381.1l 3.8-.4 1.9-1.3-3.8 .5z" class="nd"/>
<path d="M119.7 472.7l 3.6 .6 2-1.2-3.6-.6zM72.3 473.9l 3.5 .4 2.1-1.4-3.5-.4zM96 473.5l 3.5 .6 2.1-1.6-3.5-.5z" class="wb"/>
<path d="M190 387l 3.7-.4 1.9-1.2-3.7 .3z" class="ed"/>
<path d="M57.7 475.1l 3.4 .6 2.2-1.2-3.5-.4z" class="td"/>
<path d="M165.7 391.7l 3.7 .2 1.9-1.6-3.6-.3z" class="xd"/>
<path d="M223.9 379.1l 3.7-.1 1.9-1.5-3.8 .3z" class="zd"/>
<path d="M43 475.9l 3.5 .3 2.1-1.2-3.4-.3z" class="td"/>
<path d="M128.8 472.4l 3.6 .2 2-1.3-3.6-.2z" class="vd"/>
<path d="M199.4 384.9l 3.7-.5 1.9-1.1-3.7 .4z" class="wd"/>
<path d="M81.4 473.6l 3.4 1 2.1-1.3-3.5-.9zM105.1 473.1l 3.5 .5 2-1.3-3.5-.7z" class="wb"/>
<path d="M175 390.4l 3.7-.1 1.9-1.4-3.6 0z" class="fd"/>
<path d="M150.8 393.9l 3.6 .6 2-1.9-3.6-.7z" class="yc"/>
<path d="M66.7 474.9l 3.5 .5 2.1-1.5-3.5-.3z" class="wb"/>
<path d="M208.8 382.8l 3.7-.4 1.9-1.3-3.7 .5z" class="yd"/>
<path d="M90.4 474.2l 3.5 .8 2.1-1.5-3.5-.7z" class="wb"/>
<path d="M52.1 475.5l 3.4 .6 2.2-1-3.5-.6z" class="td"/>
<path d="M114.2 473.1l 3.5 .7 2-1.1-3.5-.8z" class="wb"/>
<path d="M37.4 477.1l 3.5 .1 2.1-1.3-3.4-.1z" class="td"/>
<path d="M184.3 388.7l 3.7-.4 2-1.3-3.7 .3z" class="ud"/>
<path d="M138.3 468.8l 2-1.3 .8-68.5-2.1 1.8z" class="g"/>
<path d="M160 393.1l 3.7 .3 2-1.7-3.7-.4z" class="yc"/>
<path d="M218.2 380.7l 3.8-.2 1.9-1.4-3.8 .3z" class="nd"/>
<path d="M123.3 473.3l 3.5 .3 2-1.2-3.5-.3z" class="vd"/>
<path d="M75.8 474.3l 3.5 .7 2.1-1.4-3.5-.7zM99.5 474.1l 3.5 .5 2.1-1.5-3.5-.6z" class="wb"/>
<path d="M193.7 386.6l 3.7-.5 2-1.2-3.8 .5z" class="wd"/>
<path d="M227.6 379l 3.8 .1 1.9-1.6-3.8 0z" class="zd"/>
<path d="M61.1 475.7l 3.5 .6 2.1-1.4-3.4-.4z" class="td"/>
<path d="M169.4 391.9l 3.6-.1 2-1.4-3.7-.1z" class="xd"/>
<path d="M145.1 395.2l 3.6 .6 2.1-1.9-3.7-.8z" class="ae"/>
<path d="M46.5 476.2l 3.4 .4 2.2-1.1-3.5-.5z" class="td"/>
<path d="M84.8 474.6l 3.5 .9 2.1-1.3-3.5-.9z" class="wb"/>
<path d="M203.1 384.4l 3.8-.4 1.9-1.2-3.8 .5z" class="id"/>
<path d="M108.6 473.6l 3.5 .6 2.1-1.1-3.6-.8z" class="wb"/>
<path d="M178.7 390.3l 3.7-.4 1.9-1.2-3.7 .2z" class="fd"/>
<path d="M154.4 394.5l 3.6 .3 2-1.7-3.6-.5z" class="yc"/>
<path d="M70.2 475.4l 3.5 .5 2.1-1.6-3.5-.4zM117.7 473.8l 3.5 .5 2.1-1-3.6-.6zM93.9 475l 3.5 .6 2.1-1.5-3.5-.6z" class="wb"/>
<path d="M212.5 382.4l 3.8-.3 1.9-1.4-3.8 .4z" class="nd"/>
<path d="M55.5 476.1l 3.5 .8 2.1-1.2-3.4-.6z" class="td"/>
<path d="M188 388.3l 3.8-.5 1.9-1.2-3.7 .4z" class="ed"/>
<path d="M163.7 393.4l 3.7 0 2-1.5-3.7-.2z" class="xd"/>
<path d="M40.9 477.2l 3.4 .2 2.2-1.2-3.5-.3z" class="td"/>
<path d="M222 380.5l 3.7 .1 1.9-1.6-3.7 .1z" class="zd"/>
<path d="M126.8 473.6l 3.6 .3 2-1.3-3.6-.2z" class="vd"/>
<path d="M231.4 379.1l 3.8 .4 1.9-1.8-3.8-.2z" class="pd"/>
<path d="M79.3 475l 3.5 .9 2-1.3-3.4-1zM103 474.6l 3.5 .4 2.1-1.4-3.5-.5z" class="wb"/>
<path d="M197.4 386.1l 3.8-.5 1.9-1.2-3.7 .5z" class="wd"/>
<path d="M173 391.8l 3.7-.2 2-1.3-3.7 .1z" class="fd"/>
<path d="M64.6 476.3l 3.5 .6 2.1-1.5-3.5-.5z" class="wb"/>
<path d="M148.7 395.8l 3.7 .4 2-1.7-3.6-.6z" class="ae"/>
<path d="M35.3 478.3l 3.4 .2 2.2-1.3-3.5-.1z" class="td"/>
<path d="M88.3 475.5l 3.6 .9 2-1.4-3.5-.8z" class="wb"/>
<path d="M49.9 476.6l 3.5 .7 2.1-1.2-3.4-.6z" class="td"/>
<path d="M112.1 474.2l 3.6 .6 2-1-3.5-.7z" class="vd"/>
<path d="M206.9 384l 3.7-.3 1.9-1.3-3.7 .4z" class="yd"/>
<path d="M136.4 470l 1.9-1.2 .7-68-2 1.6z" class="g"/>
<path d="M158 394.8l 3.7 .1 2-1.5-3.7-.3z" class="yc"/>
<path d="M182.4 389.9l 3.7-.4 1.9-1.2-3.7 .4z" class="ud"/>
<path d="M216.3 382.1l 3.8 0 1.9-1.6-3.8 .2z" class="nd"/>
<path d="M73.7 475.9l 3.5 .6 2.1-1.5-3.5-.7z" class="wb"/>
<path d="M121.2 474.3l 3.6 .5 2-1.2-3.5-.3z" class="vd"/>
<path d="M97.4 475.6l 3.6 .4 2-1.4-3.5-.5z" class="wb"/>
<path d="M59 476.9l 3.5 .8 2.1-1.4-3.5-.6z" class="td"/>
<path d="M225.7 380.6l 3.8 .3 1.9-1.8-3.8-.1z" class="zd"/>
<path d="M167.4 393.4l 3.7-.2 1.9-1.4-3.6 .1z" class="xd"/>
<path d="M191.8 387.8l 3.7-.5 1.9-1.2-3.7 .5z" class="wd"/>
<path d="M143.1 397.1l 3.6 .5 2-1.8-3.6-.6z" class="ae"/>
<path d="M235.2 379.5l 3.7 .6 1.9-2-3.7-.4z" class="pd"/>
<path d="M44.3 477.4l 3.4 .5 2.2-1.3-3.4-.4z" class="td"/>
<path d="M82.8 475.9l 3.5 .9 2-1.3-3.5-.9z" class="wb"/>
<path d="M106.5 475l 3.6 .3 2-1.1-3.5-.6z" class="vd"/>
<path d="M201.2 385.6l 3.7-.3 2-1.3-3.8 .4z" class="id"/>
<path d="M152.4 396.2l 3.6 .2 2-1.6-3.6-.3z" class="ae"/>
<path d="M176.7 391.6l 3.7-.5 2-1.2-3.7 .4z" class="fd"/>
<path d="M68.1 476.9l 3.5 .6 2.1-1.6-3.5-.5zM91.9 476.4l 3.5 .6 2-1.4-3.5-.6z" class="wb"/>
<path d="M115.7 474.8l 3.5 .5 2-1-3.5-.5z" class="vd"/>
<path d="M53.4 477.3l 3.4 .8 2.2-1.2-3.5-.8z" class="wb"/>
<path d="M210.6 383.7l 3.8-.1 1.9-1.5-3.8 .3z" class="yd"/>
<path d="M38.7 478.5l 3.4 .4 2.2-1.5-3.4-.2z" class="td"/>
<path d="M161.7 394.9l 3.7-.1 2-1.4-3.7 0z" class="yc"/>
<path d="M186.1 389.5l 3.7-.5 2-1.2-3.8 .5z" class="ed"/>
<path d="M220.1 382.1l 3.7 .2 1.9-1.7-3.7-.1z" class="zd"/>
<path d="M77.2 476.5l 3.5 .7 2.1-1.3-3.5-.9z" class="wb"/>
<path d="M124.8 474.8l 3.5 .3 2.1-1.2-3.6-.3z" class="vd"/>
<path d="M229.5 380.9l 3.8 .5 1.9-1.9-3.8-.4z" class="zd"/>
<path d="M101 476l 3.5 .3 2-1.3-3.5-.4z" class="wb"/>
<path d="M62.5 477.7l 3.4 .8 2.2-1.6-3.5-.6z" class="td"/>
<path d="M146.7 397.6l 3.7 .3 2-1.7-3.7-.4z" class="ae"/>
<path d="M171.1 393.2l 3.7-.4 1.9-1.2-3.7 .2z" class="fd"/>
<path d="M195.5 387.3l 3.8-.4 1.9-1.3-3.8 .5z" class="wd"/>
<path d="M33.1 479.4l 3.4 .5 2.2-1.4-3.4-.2z" class="td"/>
<path d="M86.3 476.8l 3.5 .8 2.1-1.2-3.6-.9zM47.7 477.9l 3.5 .6 2.2-1.2-3.5-.7z" class="wb"/>
<path d="M110.1 475.3l 3.5 .4 2.1-.9-3.6-.6z" class="vd"/>
<path d="M134.4 471.3l 2-1.3 .6-67.6-2.1 1.6z" class="g"/>
<path d="M204.9 385.3l 3.8-.2 1.9-1.4-3.7 .3z" class="yd"/>
<path d="M156 396.4l 3.7 0 2-1.5-3.7-.1z" class="yc"/>
<path d="M180.4 391.1l 3.8-.4 1.9-1.2-3.7 .4z" class="ud"/>
<path d="M71.6 477.5l 3.4 .6 2.2-1.6-3.5-.6zM95.4 477l 3.5 .4 2.1-1.4-3.6-.4z" class="wb"/>
<path d="M214.4 383.6l 3.7 .1 2-1.6-3.8 0z" class="nd"/>
<path d="M119.2 475.3l 3.6 .6 2-1.1-3.6-.5z" class="vd"/>
<path d="M56.8 478.1l 3.5 1 2.2-1.4-3.5-.8z" class="wb"/>
<path d="M141.1 399l 3.6 .3 2-1.7-3.6-.5z" class="xc"/>
<path d="M223.8 382.3l 3.8 .4 1.9-1.8-3.8-.3z" class="zd"/>
<path d="M165.4 394.8l 3.7-.3 2-1.3-3.7 .2z" class="xd"/>
<path d="M42.1 478.9l 3.5 .4 2.1-1.4-3.4-.5z" class="td"/>
<path d="M233.3 381.4l 3.7 .7 1.9-2-3.7-.6z" class="pd"/>
<path d="M189.8 389l 3.8-.4 1.9-1.3-3.7 .5z" class="wd"/>
<path d="M80.7 477.2l 3.5 .7 2.1-1.1-3.5-.9z" class="wb"/>
<path d="M104.5 476.3l 3.5 .2 2.1-1.2-3.6-.3z" class="vd"/>
<path d="M150.4 397.9l 3.6 0 2-1.5-3.6-.2z" class="ae"/>
<path d="M65.9 478.5l 3.5 .6 2.2-1.6-3.5-.6z" class="wb"/>
<path d="M199.3 386.9l 3.7-.2 1.9-1.4-3.7 .3z" class="id"/>
<path d="M174.8 392.8l 3.7-.5 1.9-1.2-3.7 .5z" class="fd"/>
<path d="M89.8 477.6l 3.5 .6 2.1-1.2-3.5-.6zM51.2 478.5l 3.5 .9 2.1-1.3-3.4-.8z" class="wb"/>
<path d="M36.5 479.9l 3.5 .5 2.1-1.5-3.4-.4z" class="td"/>
<path d="M113.6 475.7l 3.6 .6 2-1-3.5-.5z" class="vd"/>
<path d="M208.7 385.1l 3.8 .1 1.9-1.6-3.8 .1z" class="yd"/>
<path d="M159.7 396.4l 3.7-.3 2-1.3-3.7 .1z" class="yc"/>
<path d="M184.2 390.7l 3.7-.5 1.9-1.2-3.7 .5z" class="ed"/>
<path d="M218.1 383.7l 3.8 .4 1.9-1.8-3.7-.2z" class="nd"/>
<path d="M75 478.1l 3.5 .5 2.2-1.4-3.5-.7z" class="wb"/>
<path d="M122.8 475.9l 3.5 .5 2-1.3-3.5-.3z" class="vd"/>
<path d="M227.6 382.7l 3.8 .7 1.9-2-3.8-.5z" class="zd"/>
<path d="M98.9 477.4l 3.5 .2 2.1-1.3-3.5-.3z" class="wb"/>
<path d="M60.3 479.1l 3.5 .9 2.1-1.5-3.4-.8z" class="td"/>
<path d="M144.7 399.3l 3.7 .1 2-1.5-3.7-.3z" class="ae"/>
<path d="M169.1 394.5l 3.7-.5 2-1.2-3.7 .4z" class="fd"/>
<path d="M30.9 480.6l 3.4 .7 2.2-1.4-3.4-.5z" class="td"/>
<path d="M193.6 388.6l 3.7-.3 2-1.4-3.8 .4z" class="wd"/>
<path d="M45.6 479.3l 3.4 .7 2.2-1.5-3.5-.6zM84.2 477.9l 3.5 .7 2.1-1-3.5-.8z" class="wb"/>
<path d="M108 476.5l 3.6 .3 2-1.1-3.5-.4z" class="vd"/>
<path d="M132.4 472.6l 2-1.3 .5-67.3-2 1.4z" class="g"/>
<path d="M154 397.9l 3.7-.2 2-1.3-3.7 0z" class="yc"/>
<path d="M69.4 479.1l 3.5 .5 2.1-1.5-3.4-.6z" class="wb"/>
<path d="M203 386.7l 3.8-.1 1.9-1.5-3.8 .2z" class="yd"/>
<path d="M178.5 392.3l 3.7-.4 2-1.2-3.8 .4z" class="ud"/>
<path d="M93.3 478.2l 3.5 .4 2.1-1.2-3.5-.4zM54.7 479.4l 3.5 1 2.1-1.3-3.5-1z" class="wb"/>
<path d="M212.5 385.2l 3.7 .3 1.9-1.8-3.7-.1z" class="nd"/>
<path d="M117.2 476.3l 3.5 .7 2.1-1.1-3.6-.6z" class="vd"/>
<path d="M139 400.8l 3.7 .1 2-1.6-3.6-.3z" class="xc"/>
<path d="M40 480.4l 3.4 .5 2.2-1.6-3.5-.4z" class="td"/>
<path d="M221.9 384.1l 3.8 .6 1.9-2-3.8-.4zM231.4 383.4l 3.7 .9 1.9-2.2-3.7-.7z" class="zd"/>
<path d="M163.4 396.1l 3.7-.4 2-1.2-3.7 .3z" class="xd"/>
<path d="M187.9 390.2l 3.7-.3 2-1.3-3.8 .4z" class="wd"/>
<path d="M78.5 478.6l 3.5 .5 2.2-1.2-3.5-.7zM63.8 480l 3.5 .6 2.1-1.5-3.5-.6z" class="wb"/>
<path d="M102.4 477.6l 3.6 .1 2-1.2-3.5-.2z" class="vd"/>
<path d="M148.4 399.4l 3.6-.1 2-1.4-3.6 0z" class="ae"/>
<path d="M197.3 388.3l 3.8-.1 1.9-1.5-3.7 .2z" class="id"/>
<path d="M172.8 394l 3.7-.5 2-1.2-3.7 .5z" class="fd"/>
<path d="M34.3 481.3l 3.5 .7 2.2-1.6-3.5-.5z" class="td"/>
<path d="M49 480l 3.5 .8 2.2-1.4-3.5-.9zM87.7 478.6l 3.5 .6 2.1-1-3.5-.6z" class="wb"/>
<path d="M206.8 386.6l 3.7 .3 2-1.7-3.8-.1z" class="yd"/>
<path d="M111.6 476.8l 3.5 .5 2.1-1-3.6-.6z" class="vd"/>
<path d="M157.7 397.7l 3.7-.4 2-1.2-3.7 .3z" class="yc"/>
<path d="M72.9 479.6l 3.5 .3 2.1-1.3-3.5-.5z" class="wb"/>
<path d="M216.2 385.5l 3.8 .5 1.9-1.9-3.8-.4z" class="nd"/>
<path d="M182.2 391.9l 3.7-.4 2-1.3-3.7 .5z" class="ed"/>
<path d="M58.2 480.4l 3.5 .9 2.1-1.3-3.5-.9z" class="wb"/>
<path d="M225.7 384.7l 3.7 .8 2-2.1-3.8-.7z" class="zd"/>
<path d="M96.8 478.6l 3.5 .2 2.1-1.2-3.5-.2zM120.7 477l 3.6 .7 2-1.3-3.5-.5z" class="vd"/>
<path d="M142.7 400.9l 3.6 0 2.1-1.5-3.7-.1z" class="xc"/>
<path d="M28.7 481.8l 3.4 .8 2.2-1.3-3.4-.7z" class="td"/>
<path d="M43.4 480.9l 3.5 .6 2.1-1.5-3.4-.7z" class="wb"/>
<path d="M167.1 395.7l 3.7-.5 2-1.2-3.7 .5z" class="fd"/>
<path d="M191.6 389.9l 3.8-.2 1.9-1.4-3.7 .3z" class="wd"/>
<path d="M82 479.1l 3.6 .5 2.1-1-3.5-.7zM67.3 480.6l 3.5 .4 2.1-1.4-3.5-.5z" class="wb"/>
<path d="M130.4 473.9l 2-1.3 .5-67.2-2.1 1.4z" class="g"/>
<path d="M106 477.7l 3.5 .3 2.1-1.2-3.6-.3z" class="vd"/>
<path d="M152 399.3l 3.7-.3 2-1.3-3.7 .2z" class="yc"/>
<path d="M201.1 388.2l 3.7 .1 2-1.7-3.8 .1z" class="yd"/>
<path d="M52.5 480.8l 3.5 .8 2.2-1.2-3.5-1z" class="wb"/>
<path d="M176.5 393.5l 3.7-.4 2-1.2-3.7 .4z" class="ud"/>
<path d="M91.2 479.2l 3.5 .5 2.1-1.1-3.5-.4z" class="wb"/>
<path d="M37.8 482l 3.4 .6 2.2-1.7-3.4-.5z" class="td"/>
<path d="M210.5 386.9l 3.8 .5 1.9-1.9-3.7-.3z" class="yd"/>
<path d="M137 402.4l 3.6 0 2.1-1.5-3.7-.1z" class="xc"/>
<path d="M115.1 477.3l 3.6 .8 2-1.1-3.5-.7z" class="vd"/>
<path d="M220 386l 3.7 .8 2-2.1-3.8-.6z" class="nd"/>
<path d="M229.4 385.5l 3.8 1 1.9-2.2-3.7-.9z" class="zd"/>
<path d="M161.4 397.3l 3.7-.4 2-1.2-3.7 .4z" class="xd"/>
<path d="M76.4 479.9l 3.5 .3 2.1-1.1-3.5-.5z" class="wb"/>
<path d="M185.9 391.5l 3.8-.2 1.9-1.4-3.7 .3z" class="wd"/>
<path d="M61.7 481.3l 3.5 .6 2.1-1.3-3.5-.6z" class="wb"/>
<path d="M100.3 478.8l 3.6 .3 2.1-1.4-3.6-.1z" class="vd"/>
<path d="M146.3 400.9l 3.7-.3 2-1.3-3.6 .1z" class="ae"/>
<path d="M32.1 482.6l 3.5 .9 2.2-1.5-3.5-.7z" class="td"/>
<path d="M46.9 481.5l 3.5 .7 2.1-1.4-3.5-.8z" class="wb"/>
<path d="M195.4 389.7l 3.7 .1 2-1.6-3.8 .1z" class="id"/>
<path d="M170.8 395.2l 3.7-.4 2-1.3-3.7 .5z" class="ud"/>
<path d="M85.6 479.6l 3.5 .6 2.1-1-3.5-.6z" class="vd"/>
<path d="M204.8 388.3l 3.8 .4 1.9-1.8-3.7-.3z" class="yd"/>
<path d="M109.5 478l 3.6 .6 2-1.3-3.5-.5z" class="gb"/>
<path d="M70.8 481l 3.5 .3 2.1-1.4-3.5-.3z" class="wb"/>
<path d="M155.7 399l 3.7-.5 2-1.2-3.7 .4z" class="yc"/>
<path d="M214.3 387.4l 3.7 .7 2-2.1-3.8-.5z" class="nd"/>
<path d="M56 481.6l 3.5 .8 2.2-1.1-3.5-.9z" class="wb"/>
<path d="M223.7 386.8l 3.8 .9 1.9-2.2-3.7-.8z" class="nd"/>
<path d="M180.2 393.1l 3.8-.3 1.9-1.3-3.7 .4z" class="ed"/>
<path d="M94.7 479.7l 3.6 .4 2-1.3-3.5-.2z" class="vd"/>
<path d="M118.7 478.1l 3.5 .9 2.1-1.3-3.6-.7z" class="gb"/>
<path d="M140.6 402.4l 3.7-.2 2-1.3-3.6 0z" class="xc"/>
<path d="M41.2 482.6l 3.5 .5 2.2-1.6-3.5-.6z" class="wb"/>
<path d="M26.4 483l 3.5 1 2.2-1.4-3.4-.8z" class="td"/>
<path d="M165.1 396.9l 3.7-.5 2-1.2-3.7 .5z" class="fd"/>
<path d="M189.7 391.3l 3.7-.1 2-1.5-3.8 .2z" class="wd"/>
<path d="M79.9 480.2l 3.5 .4 2.2-1-3.6-.5z" class="vd"/>
<path d="M65.2 481.9l 3.5 .5 2.1-1.4-3.5-.4z" class="wb"/>
<path d="M103.9 479.1l 3.5 .3 2.1-1.4-3.5-.3z" class="vd"/>
<path d="M128.3 475.1l 2.1-1.2 .4-67.1-2.1 1.3z" class="g"/>
<path d="M150 400.6l 3.7-.4 2-1.2-3.7 .3z" class="yc"/>
<path d="M199.1 389.8l 3.8 .3 1.9-1.8-3.7-.1z" class="id"/>
<path d="M35.6 483.5l 3.5 .7 2.1-1.6-3.4-.6z" class="td"/>
<path d="M50.4 482.2l 3.4 .6 2.2-1.2-3.5-.8z" class="wb"/>
<path d="M89.1 480.2l 3.5 .6 2.1-1.1-3.5-.5z" class="vd"/>
<path d="M174.5 394.8l 3.7-.4 2-1.3-3.7 .4z" class="ud"/>
<path d="M208.6 388.7l 3.7 .7 2-2-3.8-.5z" class="yd"/>
<path d="M134.9 404l 3.7-.2 2-1.4-3.6 0z" class="xc"/>
<path d="M218 388.1l 3.8 .8 1.9-2.1-3.7-.8z" class="nd"/>
<path d="M113.1 478.6l 3.5 .8 2.1-1.3-3.6-.8z" class="gb"/>
<path d="M227.5 387.7l 3.8 1 1.9-2.2-3.8-1z" class="nd"/>
<path d="M74.3 481.3l 3.5 .2 2.1-1.3-3.5-.3z" class="wb"/>
<path d="M159.4 398.5l 3.7-.4 2-1.2-3.7 .4z" class="xd"/>
<path d="M59.5 482.4l 3.5 .7 2.2-1.2-3.5-.6z" class="wb"/>
<path d="M184 392.8l 3.7 0 2-1.5-3.8 .2z" class="wd"/>
<path d="M98.3 480.1l 3.5 .4 2.1-1.4-3.6-.3z" class="vd"/>
<path d="M29.9 484l 3.5 .9 2.2-1.4-3.5-.9z" class="td"/>
<path d="M144.3 402.2l 3.7-.3 2-1.3-3.7 .3z" class="ae"/>
<path d="M44.7 483.1l 3.5 .5 2.2-1.4-3.5-.7z" class="wb"/>
<path d="M193.4 391.2l 3.8 .3 1.9-1.7-3.7-.1z" class="id"/>
<path d="M83.4 480.6l 3.6 .5 2.1-.9-3.5-.6z" class="vd"/>
<path d="M168.8 396.4l 3.7-.4 2-1.2-3.7 .4z" class="ud"/>
<path d="M202.9 390.1l 3.7 .6 2-2-3.8-.4z" class="yd"/>
<path d="M68.7 482.4l 3.5 .2 2.1-1.3-3.5-.3z" class="wb"/>
<path d="M107.4 479.4l 3.6 .6 2.1-1.4-3.6-.6z" class="gb"/>
<path d="M212.3 389.4l 3.8 .8 1.9-2.1-3.7-.7z" class="yd"/>
<path d="M153.7 400.2l 3.7-.4 2-1.3-3.7 .5z" class="yc"/>
<path d="M221.8 388.9l 3.8 1 1.9-2.2-3.8-.9z" class="nd"/>
<path d="M53.8 482.8l 3.5 .7 2.2-1.1-3.5-.8z" class="wb"/>
<path d="M39.1 484.2l 3.4 .5 2.2-1.6-3.5-.5z" class="td"/>
<path d="M92.6 480.8l 3.6 .6 2.1-1.3-3.6-.4z" class="vd"/>
<path d="M24.2 484.3l 3.5 1 2.2-1.3-3.5-1z" class="td"/>
<path d="M178.2 394.4l 3.8-.1 2-1.5-3.8 .3z" class="ed"/>
<path d="M116.6 479.4l 3.6 .9 2-1.3-3.5-.9z" class="gb"/>
<path d="M138.6 403.8l 3.7-.3 2-1.3-3.7 .2z" class="xc"/>
<path d="M77.8 481.5l 3.5 .2 2.1-1.1-3.5-.4z" class="vd"/>
<path d="M187.7 392.8l 3.7 .1 2-1.7-3.7 .1z" class="wd"/>
<path d="M163.1 398.1l 3.7-.4 2-1.3-3.7 .5z" class="fd"/>
<path d="M63 483.1l 3.5 .4 2.2-1.1-3.5-.5z" class="wb"/>
<path d="M101.8 480.5l 3.6 .5 2-1.6-3.5-.3z" class="vd"/>
<path d="M126.3 476.4l 2-1.3 .4-67-2 1.2z" class="g"/>
<path d="M33.4 484.9l 3.5 .7 2.2-1.4-3.5-.7z" class="td"/>
<path d="M197.2 391.5l 3.7 .5 2-1.9-3.8-.3z" class="id"/>
<path d="M48.2 483.6l 3.5 .4 2.1-1.2-3.4-.6z" class="wb"/>
<path d="M148 401.9l 3.7-.5 2-1.2-3.7 .4z" class="yc"/>
<path d="M206.6 390.7l 3.8 .7 1.9-2-3.7-.7z" class="yd"/>
<path d="M87 481.1l 3.5 .7 2.1-1-3.5-.6z" class="vd"/>
<path d="M132.9 405.4l 3.6-.3 2.1-1.3-3.7 .2z" class="xc"/>
<path d="M172.5 396l 3.8-.2 1.9-1.4-3.7 .4z" class="ud"/>
<path d="M216.1 390.2l 3.8 .9 1.9-2.2-3.8-.8zM225.6 389.9l 3.7 1 2-2.2-3.8-1z" class="yd"/>
<path d="M111 480l 3.6 .7 2-1.3-3.5-.8z" class="gb"/>
<path d="M72.2 482.6l 3.5 .2 2.1-1.3-3.5-.2z" class="vd"/>
<path d="M57.3 483.5l 3.5 .6 2.2-1-3.5-.7z" class="wb"/>
<path d="M157.4 399.8l 3.7-.5 2-1.2-3.7 .4z" class="xd"/>
<path d="M96.2 481.4l 3.5 .6 2.1-1.5-3.5-.4z" class="vd"/>
<path d="M182 394.3l 3.7 .1 2-1.6-3.7 0z" class="wd"/>
<path d="M27.7 485.3l 3.5 .9 2.2-1.3-3.5-.9z" class="td"/>
<path d="M42.5 484.7l 3.5 .3 2.2-1.4-3.5-.5z" class="wb"/>
<path d="M142.3 403.5l 3.6-.4 2.1-1.2-3.7 .3z" class="ae"/>
<path d="M191.4 392.9l 3.8 .4 2-1.8-3.8-.3z" class="id"/>
<path d="M81.3 481.7l 3.6 .6 2.1-1.2-3.6-.5z" class="vd"/>
<path d="M166.8 397.7l 3.7-.3 2-1.4-3.7 .4z" class="ud"/>
<path d="M105.4 481l 3.5 .6 2.1-1.6-3.6-.6z" class="gb"/>
<path d="M200.9 392l 3.8 .7 1.9-2-3.7-.6z" class="id"/>
<path d="M66.5 483.5l 3.5 .4 2.2-1.3-3.5-.2z" class="wb"/>
<path d="M210.4 391.4l 3.7 1 2-2.2-3.8-.8zM219.9 391.1l 3.7 1 2-2.2-3.8-1z" class="yd"/>
<path d="M36.9 485.6l 3.4 .5 2.2-1.4-3.4-.5z" class="td"/>
<path d="M51.7 484l 3.5 .5 2.1-1-3.5-.7z" class="wb"/>
<path d="M151.7 401.4l 3.7-.4 2-1.2-3.7 .4z" class="yc"/>
<path d="M22 485.7l 3.5 .9 2.2-1.3-3.5-1z" class="td"/>
<path d="M90.5 481.8l 3.6 .9 2.1-1.3-3.6-.6z" class="vd"/>
<path d="M114.6 480.7l 3.5 .9 2.1-1.3-3.6-.9z" class="gb"/>
<path d="M176.3 395.8l 3.7 0 2-1.5-3.8 .1z" class="ed"/>
<path d="M136.5 405.1l 3.7-.3 2.1-1.3-3.7 .3z" class="xc"/>
<path d="M75.7 482.8l 3.5 .2 2.1-1.3-3.5-.2z" class="vd"/>
<path d="M185.7 394.4l 3.8 .3 1.9-1.8-3.7-.1z" class="wd"/>
<path d="M60.8 484.1l 3.6 .5 2.1-1.1-3.5-.4z" class="wb"/>
<path d="M99.7 482l 3.6 .6 2.1-1.6-3.6-.5z" class="vd"/>
<path d="M161.1 399.3l 3.7-.3 2-1.3-3.7 .4z" class="fd"/>
<path d="M31.2 486.2l 3.4 .7 2.3-1.3-3.5-.7z" class="td"/>
<path d="M124.3 477.7l 2-1.3 .4-67.1-2.1 1.2z" class="g"/>
<path d="M46 485l 3.5 .3 2.2-1.3-3.5-.4z" class="wb"/>
<path d="M195.2 393.3l 3.7 .7 2-2-3.7-.5z" class="id"/>
<path d="M145.9 403.1l 3.7-.5 2.1-1.2-3.7 .5z" class="yc"/>
<path d="M204.7 392.7l 3.7 .9 2-2.2-3.8-.7z" class="id"/>
<path d="M214.1 392.4l 3.8 .9 2-2.2-3.8-.9zM223.6 392.1l 3.8 .9 1.9-2.1-3.7-1z" class="yd"/>
<path d="M84.9 482.3l 3.5 .7 2.1-1.2-3.5-.7z" class="vd"/>
<path d="M130.8 406.8l 3.7-.4 2-1.3-3.6 .3z" class="xc"/>
<path d="M108.9 481.6l 3.6 .6 2.1-1.5-3.6-.7z" class="gb"/>
<path d="M170.5 397.4l 3.8-.1 2-1.5-3.8 .2z" class="ud"/>
<path d="M70 483.9l 3.5 .3 2.2-1.4-3.5-.2z" class="vd"/>
<path d="M55.2 484.5l 3.5 .5 2.1-.9-3.5-.6zM40.3 486.1l 3.5 .3 2.2-1.4-3.5-.3z" class="wb"/>
<path d="M94.1 482.7l 3.5 .8 2.1-1.5-3.5-.6z" class="vd"/>
<path d="M25.5 486.6l 3.4 .7 2.3-1.1-3.5-.9z" class="td"/>
<path d="M155.4 401l 3.7-.4 2-1.3-3.7 .5z" class="xd"/>
<path d="M180 395.8l 3.7 .3 2-1.7-3.7-.1z" class="ed"/>
<path d="M140.2 404.8l 3.7-.5 2-1.2-3.6 .4z" class="ae"/>
<path d="M189.5 394.7l 3.7 .6 2-2-3.8-.4z" class="wd"/>
<path d="M79.2 483l 3.5 .6 2.2-1.3-3.6-.6zM103.3 482.6l 3.5 .6 2.1-1.6-3.5-.6z" class="vd"/>
<path d="M198.9 394l 3.8 .8 2-2.1-3.8-.7z" class="id"/>
<path d="M164.8 399l 3.7-.1 2-1.5-3.7 .3z" class="ud"/>
<path d="M64.4 484.6l 3.5 .5 2.1-1.2-3.5-.4z" class="wb"/>
<path d="M208.4 393.6l 3.8 1 1.9-2.2-3.7-1zM217.9 393.3l 3.8 1 1.9-2.2-3.7-1z" class="id"/>
<path d="M34.6 486.9l 3.5 .5 2.2-1.3-3.4-.5z" class="td"/>
<path d="M19.8 487.2l 3.4 .6 2.3-1.2-3.5-.9zM49.5 485.3l 3.5 .3 2.2-1.1-3.5-.5z" class="wb"/>
<path d="M149.6 402.6l 3.7-.4 2.1-1.2-3.7 .4z" class="xd"/>
<path d="M88.4 483l 3.6 1 2.1-1.3-3.6-.9z" class="vd"/>
<path d="M112.5 482.2l 3.6 .7 2-1.3-3.5-.9z" class="gb"/>
<path d="M174.3 397.3l 3.7 .2 2-1.7-3.7 0z" class="ed"/>
<path d="M134.5 406.4l 3.6-.4 2.1-1.2-3.7 .3z" class="xc"/>
<path d="M73.5 484.2l 3.6 .3 2.1-1.5-3.5-.2z" class="vd"/>
<path d="M183.7 396.1l 3.8 .5 2-1.9-3.8-.3z" class="wd"/>
<path d="M97.6 483.5l 3.6 .7 2.1-1.6-3.6-.6z" class="vd"/>
<path d="M58.7 485l 3.5 .7 2.2-1.1-3.6-.5z" class="wb"/>
<path d="M28.9 487.3l 3.5 .7 2.2-1.1-3.4-.7z" class="td"/>
<path d="M159.1 400.6l 3.7-.2 2-1.4-3.7 .3z" class="fd"/>
<path d="M43.8 486.4l 3.5 .1 2.2-1.2-3.5-.3z" class="wb"/>
<path d="M193.2 395.3l 3.8 .8 1.9-2.1-3.7-.7z" class="wd"/>
<path d="M122.2 479l 2.1-1.3 .3-67.2-2.1 1.3z" class="g"/>
<path d="M202.7 394.8l 3.7 1 2-2.2-3.7-.9z" class="id"/>
<path d="M143.9 404.3l 3.7-.4 2-1.3-3.7 .5z" class="yc"/>
<path d="M212.2 394.6l 3.7 1 2-2.3-3.8-.9zM221.7 394.3l 3.8 .8 1.9-2.1-3.8-.9z" class="id"/>
<path d="M82.7 483.6l 3.6 .7 2.1-1.3-3.5-.7z" class="vd"/>
<path d="M106.8 483.2l 3.6 .6 2.1-1.6-3.6-.6z" class="gb"/>
<path d="M128.7 408.1l 3.7-.5 2.1-1.2-3.7 .4z" class="xc"/>
<path d="M168.5 398.9l 3.8 .1 2-1.7-3.8 .1z" class="ud"/>
<path d="M67.9 485.1l 3.5 .5 2.1-1.4-3.5-.3z" class="vd"/>
<path d="M38.1 487.4l 3.5 .3 2.2-1.3-3.5-.3zM23.2 487.8l 3.5 .6 2.2-1.1-3.4-.7z" class="wb"/>
<path d="M92 484l 3.5 .9 2.1-1.4-3.5-.8zM53 485.6l 3.5 .5 2.2-1.1-3.5-.5z" class="vd"/>
<path d="M178 397.5l 3.7 .5 2-1.9-3.7-.3z" class="ed"/>
<path d="M153.3 402.2l 3.7-.2 2.1-1.4-3.7 .4z" class="xd"/>
<path d="M138.1 406l 3.7-.5 2.1-1.2-3.7 .5z" class="ae"/>
<path d="M187.5 396.6l 3.7 .8 2-2.1-3.7-.6z" class="wd"/>
<path d="M101.2 484.2l 3.6 .6 2-1.6-3.5-.6zM77.1 484.5l 3.5 .5 2.1-1.4-3.5-.6z" class="vd"/>
<path d="M197 396.1l 3.7 .9 2-2.2-3.8-.8z" class="wd"/>
<path d="M62.2 485.7l 3.5 .7 2.2-1.3-3.5-.5z" class="vd"/>
<path d="M206.4 395.8l 3.8 1 2-2.2-3.8-1z" class="id"/>
<path d="M162.8 400.4l 3.7 .1 2-1.6-3.7 .1z" class="ud"/>
<path d="M215.9 395.6l 3.8 .9 2-2.2-3.8-1z" class="id"/>
<path d="M32.4 488l 3.5 .5 2.2-1.1-3.5-.5zM17.5 488.7l 3.5 .4 2.2-1.3-3.4-.6zM47.3 486.5l 3.5 .3 2.2-1.2-3.5-.3z" class="wb"/>
<path d="M86.3 484.3l 3.5 1 2.2-1.3-3.6-1z" class="vd"/>
<path d="M147.6 403.9l 3.7-.3 2-1.4-3.7 .4z" class="xd"/>
<path d="M110.4 483.8l 3.6 .5 2.1-1.4-3.6-.7z" class="gb"/>
<path d="M172.3 399l 3.7 .3 2-1.8-3.7-.2z" class="ed"/>
<path d="M132.4 407.6l 3.7-.4 2-1.2-3.6 .4z" class="xc"/>
<path d="M71.4 485.6l 3.5 .5 2.2-1.6-3.6-.3zM95.5 484.9l 3.6 .8 2.1-1.5-3.6-.7z" class="vd"/>
<path d="M181.7 398l 3.8 .6 2-2-3.8-.5z" class="ed"/>
<path d="M26.7 488.4l 3.5 .6 2.2-1-3.5-.7z" class="wb"/>
<path d="M56.5 486.1l 3.5 .7 2.2-1.1-3.5-.7z" class="vd"/>
<path d="M41.6 487.7l 3.5 .2 2.2-1.4-3.5-.1z" class="wb"/>
<path d="M157 402l 3.8-.1 2-1.5-3.7 .2z" class="fd"/>
<path d="M191.2 397.4l 3.8 .9 2-2.2-3.8-.8z" class="wd"/>
<path d="M120.2 480.3l 2-1.3 .3-67.2-2.1 1.2z" class="g"/>
<path d="M200.7 397l 3.8 1 1.9-2.2-3.7-1zM210.2 396.8l 3.8 .9 1.9-2.1-3.7-1z" class="wd"/>
<path d="M219.7 396.5l 3.8 .7 2-2.1-3.8-.8z" class="id"/>
<path d="M141.8 405.5l 3.7-.3 2.1-1.3-3.7 .4z" class="yc"/>
<path d="M104.8 484.8l 3.5 .5 2.1-1.5-3.6-.6z" class="gb"/>
<path d="M80.6 485l 3.6 .8 2.1-1.5-3.6-.7z" class="vd"/>
<path d="M126.7 409.3l 3.6-.4 2.1-1.3-3.7 .5z" class="xc"/>
<path d="M166.5 400.5l 3.7 .2 2.1-1.7-3.8-.1z" class="ud"/>
<path d="M65.7 486.4l 3.5 .7 2.2-1.5-3.5-.5z" class="vd"/>
<path d="M35.9 488.5l 3.5 .4 2.2-1.2-3.5-.3zM21 489.1l 3.5 .4 2.2-1.1-3.5-.6z" class="wb"/>
<path d="M89.8 485.3l 3.6 .9 2.1-1.3-3.5-.9zM50.8 486.8l 3.5 .4 2.2-1.1-3.5-.5z" class="vd"/>
<path d="M176 399.3l 3.7 .6 2-1.9-3.7-.5z" class="ed"/>
<path d="M151.3 403.6l 3.7-.1 2-1.5-3.7 .2z" class="xd"/>
<path d="M185.5 398.6l 3.7 .9 2-2.1-3.7-.8z" class="ed"/>
<path d="M136.1 407.2l 3.7-.4 2-1.3-3.7 .5z" class="ae"/>
<path d="M74.9 486.1l 3.6 .6 2.1-1.7-3.5-.5zM99.1 485.7l 3.6 .7 2.1-1.6-3.6-.6z" class="vd"/>
<path d="M195 398.3l 3.7 1 2-2.3-3.7-.9zM204.5 398l 3.7 1 2-2.2-3.8-1z" class="wd"/>
<path d="M60 486.8l 3.5 .8 2.2-1.2-3.5-.7z" class="vd"/>
<path d="M214 397.7l 3.8 .8 1.9-2-3.8-.9z" class="wd"/>
<path d="M15.3 490.1l 3.4 .2 2.3-1.2-3.5-.4z" class="wb"/>
<path d="M160.8 401.9l 3.7 .3 2-1.7-3.7-.1z" class="fd"/>
<path d="M30.2 489l 3.5 .6 2.2-1.1-3.5-.5z" class="wb"/>
<path d="M45.1 487.9l 3.5 .2 2.2-1.3-3.5-.3zM84.2 485.8l 3.5 .8 2.1-1.3-3.5-1z" class="vd"/>
<path d="M108.3 485.3l 3.6 .3 2.1-1.3-3.6-.5z" class="gb"/>
<path d="M145.5 405.2l 3.7-.2 2.1-1.4-3.7 .3z" class="xd"/>
<path d="M170.2 400.7l 3.8 .6 2-2-3.7-.3z" class="ud"/>
<path d="M69.2 487.1l 3.6 .6 2.1-1.6-3.5-.5z" class="vd"/>
<path d="M130.3 408.9l 3.7-.4 2.1-1.3-3.7 .4z" class="xc"/>
<path d="M179.7 399.9l 3.8 .9 2-2.2-3.8-.6z" class="ed"/>
<path d="M93.4 486.2l 3.6 .9 2.1-1.4-3.6-.8z" class="vd"/>
<path d="M39.4 488.9l 3.5 .4 2.2-1.4-3.5-.2zM24.5 489.5l 3.4 .5 2.3-1-3.5-.6z" class="wb"/>
<path d="M54.3 487.2l 3.5 .8 2.2-1.2-3.5-.7z" class="vd"/>
<path d="M189.2 399.5l 3.8 1 2-2.2-3.8-.9z" class="ed"/>
<path d="M155 403.5l 3.7 .1 2.1-1.7-3.8 .1z" class="fd"/>
<path d="M198.7 399.3l 3.8 1 2-2.3-3.8-1z" class="wd"/>
<path d="M118.1 481.6l 2.1-1.3 .2-67.3-2.1 1.4z" class="g"/>
<path d="M208.2 399l 3.8 .9 2-2.2-3.8-.9zM217.8 398.5l 3.8 .6 1.9-1.9-3.8-.7z" class="wd"/>
<path d="M78.5 486.7l 3.5 .6 2.2-1.5-3.6-.8z" class="vd"/>
<path d="M102.7 486.4l 3.5 .3 2.1-1.4-3.5-.5z" class="gb"/>
<path d="M139.8 406.8l 3.7-.2 2-1.4-3.7 .3z" class="yc"/>
<path d="M63.5 487.6l 3.6 .9 2.1-1.4-3.5-.7z" class="vd"/>
<path d="M164.5 402.2l 3.7 .4 2-1.9-3.7-.2z" class="ud"/>
<path d="M124.6 410.5l 3.7-.4 2-1.2-3.6 .4z" class="xc"/>
<path d="M33.7 489.6l 3.5 .5 2.2-1.2-3.5-.4zM18.7 490.3l 3.5 .3 2.3-1.1-3.5-.4z" class="wb"/>
<path d="M48.6 488.1l 3.5 .5 2.2-1.4-3.5-.4zM87.7 486.6l 3.6 .9 2.1-1.3-3.6-.9z" class="vd"/>
<path d="M174 401.3l 3.7 .7 2-2.1-3.7-.6z" class="ud"/>
<path d="M149.2 405l 3.8 .1 2-1.6-3.7 .1z" class="xd"/>
<path d="M183.5 400.8l 3.7 .9 2-2.2-3.7-.9z" class="ed"/>
<path d="M72.8 487.7l 3.5 .7 2.2-1.7-3.6-.6z" class="vd"/>
<path d="M193 400.5l 3.7 1 2-2.2-3.7-1z" class="ed"/>
<path d="M97 487.1l 3.6 .6 2.1-1.3-3.6-.7z" class="vd"/>
<path d="M134 408.5l 3.7-.3 2.1-1.4-3.7 .4z" class="ae"/>
<path d="M202.5 400.3l 3.8 .9 1.9-2.2-3.7-1z" class="ed"/>
<path d="M13 491.5l 3.5 .1 2.2-1.3-3.4-.2z" class="wb"/>
<path d="M57.8 488l 3.6 .9 2.1-1.3-3.5-.8z" class="vd"/>
<path d="M212 399.9l 3.8 .6 2-2-3.8-.8z" class="wd"/>
<path d="M158.7 403.6l 3.7 .4 2.1-1.8-3.7-.3z" class="fd"/>
<path d="M27.9 490l 3.5 .6 2.3-1-3.5-.6z" class="wb"/>
<path d="M42.9 489.3l 3.5 .4 2.2-1.6-3.5-.2zM82 487.3l 3.6 .7 2.1-1.4-3.5-.8z" class="vd"/>
<path d="M106.2 486.7l 3.6 .2 2.1-1.3-3.6-.3z" class="gb"/>
<path d="M168.2 402.6l 3.7 .7 2.1-2-3.8-.6z" class="ud"/>
<path d="M143.5 406.6l 3.7 0 2-1.6-3.7 .2z" class="xd"/>
<path d="M67.1 488.5l 3.5 .8 2.2-1.6-3.6-.6z" class="vd"/>
<path d="M177.7 402l 3.8 .9 2-2.1-3.8-.9z" class="ud"/>
<path d="M128.3 410.1l 3.6-.3 2.1-1.3-3.7 .4z" class="ae"/>
<path d="M91.3 487.5l 3.6 .8 2.1-1.2-3.6-.9z" class="vd"/>
<path d="M37.2 490.1l 3.5 .6 2.2-1.4-3.5-.4z" class="wb"/>
<path d="M187.2 401.7l 3.8 1 2-2.2-3.8-1z" class="ed"/>
<path d="M52.1 488.6l 3.5 .7 2.2-1.3-3.5-.8z" class="vd"/>
<path d="M22.2 490.6l 3.5 .5 2.2-1.1-3.4-.5z" class="wb"/>
<path d="M196.7 401.5l 3.8 .9 2-2.1-3.8-1z" class="ed"/>
<path d="M153 405.1l 3.7 .3 2-1.8-3.7-.1z" class="fd"/>
<path d="M206.3 401.2l 3.7 .7 2-2-3.8-.9z" class="ed"/>
<path d="M116.1 482.9l 2-1.3 .2-67.2-2.1 1.4z" class="g"/>
<path d="M76.3 488.4l 3.6 .5 2.1-1.6-3.5-.6z" class="vd"/>
<path d="M215.8 400.5l 3.8 .4 2-1.8-3.8-.6z" class="wd"/>
<path d="M100.6 487.7l 3.5 .4 2.1-1.4-3.5-.3z" class="gb"/>
<path d="M137.7 408.2l 3.7-.1 2.1-1.5-3.7 .2z" class="yc"/>
<path d="M61.4 488.9l 3.5 1 2.2-1.4-3.6-.9z" class="vd"/>
<path d="M162.4 404l 3.8 .6 2-2-3.7-.4z" class="fd"/>
<path d="M122.5 411.8l 3.7-.4 2.1-1.3-3.7 .4z" class="xc"/>
<path d="M16.5 491.6l 3.4 .3 2.3-1.3-3.5-.3zM31.4 490.6l 3.5 .8 2.3-1.3-3.5-.5z" class="wb"/>
<path d="M46.4 489.7l 3.5 .5 2.2-1.6-3.5-.5z" class="vd"/>
<path d="M171.9 403.3l 3.8 .9 2-2.2-3.7-.7z" class="ud"/>
<path d="M85.6 488l 3.6 .7 2.1-1.2-3.6-.9z" class="gb"/>
<path d="M181.5 402.9l 3.7 1 2-2.2-3.7-.9z" class="ud"/>
<path d="M147.2 406.6l 3.7 .2 2.1-1.7-3.8-.1z" class="xd"/>
<path d="M70.6 489.3l 3.6 .7 2.1-1.6-3.5-.7z" class="vd"/>
<path d="M191 402.7l 3.7 1 2-2.2-3.7-1z" class="ed"/>
<path d="M94.9 488.3l 3.6 .6 2.1-1.2-3.6-.6z" class="vd"/>
<path d="M200.5 402.4l 3.8 .8 2-2-3.8-.9z" class="ed"/>
<path d="M131.9 409.8l 3.7-.2 2.1-1.4-3.7 .3z" class="ae"/>
<path d="M55.6 489.3l 3.6 1 2.2-1.4-3.6-.9z" class="vd"/>
<path d="M210 401.9l 3.9 .5 1.9-1.9-3.8-.6z" class="ed"/>
<path d="M40.7 490.7l 3.5 .6 2.2-1.6-3.5-.4z" class="vd"/>
<path d="M156.7 405.4l 3.7 .5 2-1.9-3.7-.4z" class="fd"/>
<path d="M25.7 491.1l 3.5 .7 2.2-1.2-3.5-.6z" class="wb"/>
<path d="M79.9 488.9l 3.6 .4 2.1-1.3-3.6-.7z" class="vd"/>
<path d="M166.2 404.6l 3.7 .8 2-2.1-3.7-.7z" class="fd"/>
<path d="M104.1 488.1l 3.6 .2 2.1-1.4-3.6-.2z" class="gb"/>
<path d="M64.9 489.9l 3.6 .9 2.1-1.5-3.5-.8z" class="vd"/>
<path d="M141.4 408.1l 3.7 .1 2.1-1.6-3.7 0z" class="yc"/>
<path d="M175.7 404.2l 3.7 1 2.1-2.3-3.8-.9z" class="ud"/>
<path d="M126.2 411.4l 3.7-.2 2-1.4-3.6 .3z" class="ae"/>
<path d="M34.9 491.4l 3.6 .8 2.2-1.5-3.5-.6z" class="wb"/>
<path d="M185.2 403.9l 3.8 1 2-2.2-3.8-1z" class="ud"/>
<path d="M89.2 488.7l 3.5 .6 2.2-1-3.6-.8z" class="gb"/>
<path d="M49.9 490.2l 3.5 .7 2.2-1.6-3.5-.7z" class="vd"/>
<path d="M19.9 491.9l 3.5 .4 2.3-1.2-3.5-.5z" class="wb"/>
<path d="M194.7 403.7l 3.8 .9 2-2.2-3.8-.9z" class="ud"/>
<path d="M150.9 406.8l 3.7 .4 2.1-1.8-3.7-.3z" class="xd"/>
<path d="M204.3 403.2l 3.8 .6 1.9-1.9-3.7-.7z" class="ed"/>
<path d="M74.2 490l 3.5 .4 2.2-1.5-3.6-.5z" class="vd"/>
<path d="M114 484.3l 2.1-1.4 .1-67.1-2.2 1.5z" class="g"/>
<path d="M213.9 402.4l 3.8 .3 1.9-1.8-3.8-.4z" class="wd"/>
<path d="M98.5 488.9l 3.5 .4 2.1-1.2-3.5-.4z" class="gb"/>
<path d="M160.4 405.9l 3.7 .8 2.1-2.1-3.8-.6z" class="fd"/>
<path d="M59.2 490.3l 3.5 .9 2.2-1.3-3.5-1z" class="vd"/>
<path d="M135.6 409.6l 3.7 .1 2.1-1.6-3.7 .1z" class="yc"/>
<path d="M44.2 491.3l 3.5 .5 2.2-1.6-3.5-.5z" class="vd"/>
<path d="M120.4 413l 3.7-.2 2.1-1.4-3.7 .4z" class="xc"/>
<path d="M29.2 491.8l 3.5 .8 2.2-1.2-3.5-.8z" class="vd"/>
<path d="M169.9 405.4l 3.8 1 2-2.2-3.8-.9z" class="fd"/>
<path d="M83.5 489.3l 3.5 .5 2.2-1.1-3.6-.7z" class="gb"/>
<path d="M179.4 405.2l 3.8 1 2-2.3-3.7-1z" class="ud"/>
<path d="M68.5 490.8l 3.5 .7 2.2-1.5-3.6-.7z" class="vd"/>
<path d="M145.1 408.2l 3.7 .4 2.1-1.8-3.7-.2z" class="xd"/>
<path d="M189 404.9l 3.7 1 2-2.2-3.7-1zM198.5 404.6l 3.8 .6 2-2-3.8-.8z" class="ud"/>
<path d="M92.7 489.3l 3.6 .6 2.2-1-3.6-.6z" class="gb"/>
<path d="M129.9 411.2l 3.6 0 2.1-1.6-3.7 .2z" class="ae"/>
<path d="M53.4 490.9l 3.6 .8 2.2-1.4-3.6-1zM38.5 492.2l 3.5 .7 2.2-1.6-3.5-.6z" class="vd"/>
<path d="M208.1 403.8l 3.8 .4 2-1.8-3.9-.5z" class="ed"/>
<path d="M154.6 407.2l 3.8 .8 2-2.1-3.7-.5z" class="fd"/>
<path d="M23.4 492.3l 3.5 .7 2.3-1.2-3.5-.7zM77.7 490.4l 3.6 .3 2.2-1.4-3.6-.4z" class="vd"/>
<path d="M164.1 406.7l 3.8 .9 2-2.2-3.7-.8z" class="fd"/>
<path d="M102 489.3l 3.6 .3 2.1-1.3-3.6-.2z" class="gb"/>
<path d="M62.7 491.2l 3.6 .9 2.2-1.3-3.6-.9z" class="vd"/>
<path d="M139.3 409.7l 3.7 .3 2.1-1.8-3.7-.1z" class="yc"/>
<path d="M173.7 406.4l 3.7 1 2-2.2-3.7-1z" class="fd"/>
<path d="M47.7 491.8l 3.5 .7 2.2-1.6-3.5-.7z" class="vd"/>
<path d="M183.2 406.2l 3.7 .9 2.1-2.2-3.8-1z" class="ud"/>
<path d="M32.7 492.6l 3.5 1 2.3-1.4-3.6-.8z" class="vd"/>
<path d="M124.1 412.8l 3.7-.1 2.1-1.5-3.7 .2z" class="ae"/>
<path d="M87 489.8l 3.6 .5 2.1-1-3.5-.6z" class="gb"/>
<path d="M192.7 405.9l 3.8 .7 2-2-3.8-.9z" class="ud"/>
<path d="M148.8 408.6l 3.8 .7 2-2.1-3.7-.4z" class="xd"/>
<path d="M72 491.5l 3.6 .4 2.1-1.5-3.5-.4z" class="vd"/>
<path d="M202.3 405.2l 3.8 .5 2-1.9-3.8-.6z" class="ud"/>
<path d="M111.9 485.6l 2.1-1.3 0-67-2.1 1.6z" class="g"/>
<path d="M211.9 404.2l 3.8 .1 2-1.6-3.8-.3z" class="ed"/>
<path d="M158.4 408l 3.7 .9 2-2.2-3.7-.8z" class="fd"/>
<path d="M96.3 489.9l 3.6 .5 2.1-1.1-3.5-.4z" class="gb"/>
<path d="M57 491.7l 3.5 .8 2.2-1.3-3.5-.9z" class="vd"/>
<path d="M133.5 411.2l 3.8 .2 2-1.7-3.7-.1z" class="yc"/>
<path d="M42 492.9l 3.5 .6 2.2-1.7-3.5-.5zM26.9 493l 3.6 .9 2.2-1.3-3.5-.8z" class="vd"/>
<path d="M167.9 407.6l 3.7 1 2.1-2.2-3.8-1z" class="fd"/>
<path d="M118.3 414.4l 3.7-.2 2.1-1.4-3.7 .2z" class="xc"/>
<path d="M81.3 490.7l 3.6 .3 2.1-1.2-3.5-.5z" class="gb"/>
<path d="M177.4 407.4l 3.8 1 2-2.2-3.8-1z" class="fd"/>
<path d="M66.3 492.1l 3.5 .7 2.2-1.3-3.5-.7z" class="vd"/>
<path d="M143 410l 3.8 .6 2-2-3.7-.4z" class="xd"/>
<path d="M186.9 407.1l 3.8 .8 2-2-3.7-1z" class="fd"/>
<path d="M196.5 406.6l 3.8 .5 2-1.9-3.8-.6z" class="ud"/>
<path d="M36.2 493.6l 3.6 .9 2.2-1.6-3.5-.7zM51.2 492.5l 3.6 .6 2.2-1.4-3.6-.8z" class="vd"/>
<path d="M127.8 412.7l 3.7 .1 2-1.6-3.6 0z" class="ae"/>
<path d="M152.6 409.3l 3.7 .8 2.1-2.1-3.8-.8z" class="xd"/>
<path d="M90.6 490.3l 3.6 .6 2.1-1-3.6-.6z" class="gb"/>
<path d="M206.1 405.7l 3.8 .1 2-1.6-3.8-.4z" class="ed"/>
<path d="M75.6 491.9l 3.6 .2 2.1-1.4-3.6-.3z" class="gb"/>
<path d="M162.1 408.9l 3.7 1 2.1-2.3-3.8-.9z" class="xd"/>
<path d="M60.5 492.5l 3.6 .8 2.2-1.2-3.6-.9z" class="vd"/>
<path d="M99.9 490.4l 3.6 .5 2.1-1.3-3.6-.3z" class="gb"/>
<path d="M171.6 408.6l 3.8 1.1 2-2.3-3.7-1z" class="fd"/>
<path d="M137.3 411.4l 3.7 .5 2-1.9-3.7-.3z" class="yc"/>
<path d="M45.5 493.5l 3.5 .6 2.2-1.6-3.5-.7z" class="vd"/>
<path d="M181.2 408.4l 3.7 .9 2-2.2-3.7-.9z" class="fd"/>
<path d="M30.5 493.9l 3.5 1.1 2.2-1.4-3.5-1z" class="vd"/>
<path d="M122 414.2l 3.7 .1 2.1-1.6-3.7 .1z" class="xc"/>
<path d="M190.7 407.9l 3.8 .6 2-1.9-3.8-.7z" class="fd"/>
<path d="M146.8 410.6l 3.7 .8 2.1-2.1-3.8-.7z" class="xd"/>
<path d="M84.9 491l 3.6 .4 2.1-1.1-3.6-.5z" class="gb"/>
<path d="M69.8 492.8l 3.6 .4 2.2-1.3-3.6-.4z" class="vd"/>
<path d="M200.3 407.1l 3.8 .3 2-1.7-3.8-.5z" class="ud"/>
<path d="M109.8 486.9l 2.1-1.3 0-66.7-2.1 1.8z" class="g"/>
<path d="M156.3 410.1l 3.7 1 2.1-2.2-3.7-.9z" class="xd"/>
<path d="M54.8 493.1l 3.5 .6 2.2-1.2-3.5-.8zM39.8 494.5l 3.5 .7 2.2-1.7-3.5-.6z" class="vd"/>
<path d="M209.9 405.8l 3.9 0 1.9-1.5-3.8-.1z" class="ed"/>
<path d="M131.5 412.8l 3.7 .4 2.1-1.8-3.8-.2z" class="ae"/>
<path d="M94.2 490.9l 3.6 .7 2.1-1.2-3.6-.5z" class="gb"/>
<path d="M165.8 409.9l 3.8 1 2-2.3-3.7-1z" class="xd"/>
<path d="M116.2 415.8l 3.6 0 2.2-1.6-3.7 .2z" class="xc"/>
<path d="M175.4 409.7l 3.7 .9 2.1-2.2-3.8-1z" class="fd"/>
<path d="M79.2 492.1l 3.5 .2 2.2-1.3-3.6-.3z" class="gb"/>
<path d="M141 411.9l 3.7 .7 2.1-2-3.8-.6z" class="yc"/>
<path d="M64.1 493.3l 3.6 .6 2.1-1.1-3.5-.7z" class="vd"/>
<path d="M184.9 409.3l 3.8 .6 2-2-3.8-.8z" class="fd"/>
<path d="M34 495l 3.5 .9 2.3-1.4-3.6-.9zM49 494.1l 3.6 .4 2.2-1.4-3.6-.6z" class="vd"/>
<path d="M194.5 408.5l 3.8 .4 2-1.8-3.8-.5z" class="ud"/>
<path d="M150.5 411.4l 3.7 .9 2.1-2.2-3.7-.8z" class="xd"/>
<path d="M125.7 414.3l 3.7 .3 2.1-1.8-3.7-.1z" class="ae"/>
<path d="M88.5 491.4l 3.6 .6 2.1-1.1-3.6-.6z" class="gb"/>
<path d="M204.1 407.4l 3.9 0 1.9-1.6-3.8-.1z" class="ed"/>
<path d="M160 411.1l 3.8 1 2-2.2-3.7-1z" class="xd"/>
<path d="M73.4 493.2l 3.6 .2 2.2-1.3-3.6-.2z" class="gb"/>
<path d="M169.6 410.9l 3.7 .9 2.1-2.1-3.8-1.1z" class="xd"/>
<path d="M135.2 413.2l 3.7 .7 2.1-2-3.7-.5z" class="yc"/>
<path d="M58.3 493.7l 3.6 .6 2.2-1-3.6-.8z" class="vd"/>
<path d="M97.8 491.6l 3.6 .7 2.1-1.4-3.6-.5z" class="gb"/>
<path d="M43.3 495.2l 3.5 .4 2.2-1.5-3.5-.6z" class="vd"/>
<path d="M179.1 410.6l 3.8 .7 2-2-3.7-.9z" class="fd"/>
<path d="M119.8 415.8l 3.7 .2 2.2-1.7-3.7-.1z" class="xc"/>
<path d="M188.7 409.9l 3.8 .5 2-1.9-3.8-.6z" class="fd"/>
<path d="M144.7 412.6l 3.7 .9 2.1-2.1-3.7-.8z" class="yc"/>
<path d="M82.7 492.3l 3.6 .3 2.2-1.2-3.6-.4z" class="gb"/>
<path d="M67.7 493.9l 3.5 .5 2.2-1.2-3.6-.4z" class="vd"/>
<path d="M198.3 408.9l 3.8 .1 2-1.6-3.8-.3z" class="ud"/>
<path d="M107.7 488.3l 2.1-1.4 0-66.2-2.2 1.8z" class="g"/>
<path d="M154.2 412.3l 3.8 1 2-2.2-3.7-1z" class="yc"/>
<path d="M37.5 495.9l 3.6 .7 2.2-1.4-3.5-.7zM52.6 494.5l 3.5 .4 2.2-1.2-3.5-.6z" class="vd"/>
<path d="M129.4 414.6l 3.7 .6 2.1-2-3.7-.4z" class="ae"/>
<path d="M163.8 412.1l 3.7 1 2.1-2.2-3.8-1z" class="xd"/>
<path d="M208 407.4l 3.8-.2 2-1.4-3.9 0z" class="ed"/>
<path d="M92.1 492l 3.6 .7 2.1-1.1-3.6-.7z" class="gb"/>
<path d="M173.3 411.8l 3.8 .9 2-2.1-3.7-.9z" class="xd"/>
<path d="M114 417.3l 3.7 .2 2.1-1.7-3.6 0z" class="xc"/>
<path d="M77 493.4l 3.6 .2 2.1-1.3-3.5-.2z" class="gb"/>
<path d="M138.9 413.9l 3.7 .9 2.1-2.2-3.7-.7z" class="yc"/>
<path d="M182.9 411.3l 3.8 .5 2-1.9-3.8-.6z" class="fd"/>
<path d="M61.9 494.3l 3.6 .6 2.2-1-3.6-.6zM46.8 495.6l 3.6 .3 2.2-1.4-3.6-.4z" class="vd"/>
<path d="M148.4 413.5l 3.7 1 2.1-2.2-3.7-.9z" class="yc"/>
<path d="M192.5 410.4l 3.8 .2 2-1.7-3.8-.4z" class="fd"/>
<path d="M123.5 416l 3.7 .5 2.2-1.9-3.7-.3z" class="ae"/>
<path d="M158 413.3l 3.7 1.1 2.1-2.3-3.8-1z" class="yc"/>
<path d="M86.3 492.6l 3.6 .6 2.2-1.2-3.6-.6z" class="be"/>
<path d="M202.1 409l 3.9-.1 2-1.5-3.9 0z" class="ud"/>
<path d="M71.2 494.4l 3.6 .4 2.2-1.4-3.6-.2z" class="gb"/>
<path d="M167.5 413.1l 3.8 .9 2-2.2-3.7-.9z" class="xd"/>
<path d="M133.1 415.2l 3.7 .8 2.1-2.1-3.7-.7z" class="ae"/>
<path d="M41.1 496.6l 3.5 .4 2.2-1.4-3.5-.4z" class="vd"/>
<path d="M56.1 494.9l 3.6 .5 2.2-1.1-3.6-.6z" class="gb"/>
<path d="M95.7 492.7l 3.6 .9 2.1-1.3-3.6-.7z" class="be"/>
<path d="M177.1 412.7l 3.8 .6 2-2-3.8-.7z" class="xd"/>
<path d="M142.6 414.8l 3.7 1 2.1-2.3-3.7-.9z" class="yc"/>
<path d="M117.7 417.5l 3.7 .4 2.1-1.9-3.7-.2z" class="xc"/>
<path d="M186.7 411.8l 3.8 .3 2-1.7-3.8-.5z" class="fd"/>
<path d="M80.6 493.6l 3.6 .4 2.1-1.4-3.6-.3z" class="gb"/>
<path d="M152.1 414.5l 3.8 1.1 2.1-2.3-3.8-1z" class="yc"/>
<path d="M65.5 494.9l 3.5 .6 2.2-1.1-3.5-.5z" class="gb"/>
<path d="M105.6 489.6l 2.1-1.3-.1-65.8-2.1 2z" class="g"/>
<path d="M196.3 410.6l 3.9-.1 1.9-1.5-3.8-.1z" class="ud"/>
<path d="M127.2 416.5l 3.8 .8 2.1-2.1-3.7-.6z" class="ae"/>
<path d="M50.4 495.9l 3.5 .3 2.2-1.3-3.5-.4z" class="vd"/>
<path d="M161.7 414.4l 3.8 .9 2-2.2-3.7-1z" class="yc"/>
<path d="M89.9 493.2l 3.6 .8 2.2-1.3-3.6-.7z" class="be"/>
<path d="M206 408.9l 3.9-.4 1.9-1.3-3.8 .2z" class="ed"/>
<path d="M171.3 414l 3.8 .7 2-2-3.8-.9z" class="xd"/>
<path d="M111.9 418.9l 3.7 .4 2.1-1.8-3.7-.2z" class="xc"/>
<path d="M136.8 416l 3.7 1 2.1-2.2-3.7-.9z" class="ae"/>
<path d="M74.8 494.8l 3.6 .3 2.2-1.5-3.6-.2z" class="gb"/>
<path d="M180.9 413.3l 3.8 .3 2-1.8-3.8-.5z" class="xd"/>
<path d="M59.7 495.4l 3.6 .5 2.2-1-3.6-.6z" class="gb"/>
<path d="M44.6 497l 3.5 .3 2.3-1.4-3.6-.3z" class="vd"/>
<path d="M146.3 415.8l 3.8 1 2-2.3-3.7-1z" class="yc"/>
<path d="M121.4 417.9l 3.7 .7 2.1-2.1-3.7-.5z" class="xc"/>
<path d="M190.5 412.1l 3.8 0 2-1.5-3.8-.2z" class="fd"/>
<path d="M155.9 415.6l 3.7 1 2.1-2.2-3.7-1.1z" class="yc"/>
<path d="M84.2 494l 3.6 .6 2.1-1.4-3.6-.6z" class="be"/>
<path d="M200.2 410.5l 3.8-.3 2-1.3-3.9 .1z" class="ud"/>
<path d="M69 495.5l 3.6 .6 2.2-1.3-3.6-.4z" class="gb"/>
<path d="M165.5 415.3l 3.7 .7 2.1-2-3.8-.9z" class="yc"/>
<path d="M131 417.3l 3.7 .9 2.1-2.2-3.7-.8z" class="ae"/>
<path d="M53.9 496.2l 3.6 .3 2.2-1.1-3.6-.5z" class="gb"/>
<path d="M175.1 414.7l 3.7 .4 2.1-1.8-3.8-.6z" class="xd"/>
<path d="M93.5 494l 3.7 1 2.1-1.4-3.6-.9z" class="be"/>
<path d="M140.5 417l 3.7 1 2.1-2.2-3.7-1z" class="ae"/>
<path d="M115.6 419.3l 3.7 .6 2.1-2-3.7-.4z" class="xc"/>
<path d="M184.7 413.6l 3.8 .1 2-1.6-3.8-.3z" class="fd"/>
<path d="M78.4 495.1l 3.6 .5 2.2-1.6-3.6-.4z" class="gb"/>
<path d="M150.1 416.8l 3.7 1 2.1-2.2-3.8-1.1z" class="ae"/>
<path d="M103.5 490.9l 2.1-1.3-.1-65.1-2.2 2.1z" class="g"/>
<path d="M63.3 495.9l 3.6 .7 2.1-1.1-3.5-.6z" class="gb"/>
<path d="M125.1 418.6l 3.7 .8 2.2-2.1-3.8-.8z" class="xc"/>
<path d="M159.6 416.6l 3.8 .8 2.1-2.1-3.8-.9z" class="yc"/>
<path d="M194.3 412.1l 3.9-.2 2-1.4-3.9 .1z" class="ud"/>
<path d="M48.1 497.3l 3.6 .2 2.2-1.3-3.5-.3z" class="gb"/>
<path d="M87.8 494.6l 3.6 .8 2.1-1.4-3.6-.8z" class="be"/>
<path d="M169.2 416l 3.8 .6 2.1-1.9-3.8-.7z" class="yc"/>
<path d="M109.8 420.7l 3.7 .5 2.1-1.9-3.7-.4z" class="ce"/>
<path d="M134.7 418.2l 3.7 1 2.1-2.2-3.7-1z" class="ae"/>
<path d="M204 410.2l 3.9-.4 2-1.3-3.9 .4z" class="ed"/>
<path d="M72.6 496.1l 3.6 .6 2.2-1.6-3.6-.3z" class="gb"/>
<path d="M178.8 415.1l 3.9 .2 2-1.7-3.8-.3z" class="xd"/>
<path d="M144.2 418l 3.8 1.1 2.1-2.3-3.8-1z" class="ae"/>
<path d="M57.5 496.5l 3.6 .5 2.2-1.1-3.6-.5z" class="gb"/>
<path d="M119.3 419.9l 3.7 .8 2.1-2.1-3.7-.7z" class="xc"/>
<path d="M153.8 417.8l 3.8 .9 2-2.1-3.7-1z" class="ae"/>
<path d="M188.5 413.7l 3.8-.1 2-1.5-3.8 0z" class="fd"/>
<path d="M82 495.6l 3.6 .5 2.2-1.5-3.6-.6z" class="be"/>
<path d="M128.8 419.4l 3.8 1.1 2.1-2.3-3.7-.9z" class="xc"/>
<path d="M163.4 417.4l 3.8 .6 2-2-3.7-.7z" class="yc"/>
<path d="M66.9 496.6l 3.5 .8 2.2-1.3-3.6-.6z" class="gb"/>
<path d="M198.2 411.9l 3.8-.3 2-1.4-3.8 .3z" class="ud"/>
<path d="M51.7 497.5l 3.6 .3 2.2-1.3-3.6-.3z" class="gb"/>
<path d="M173 416.6l 3.8 .2 2-1.7-3.7-.4z" class="yc"/>
<path d="M138.4 419.2l 3.7 1.1 2.1-2.3-3.7-1z" class="ae"/>
<path d="M91.4 495.4l 3.6 1 2.2-1.4-3.7-1z" class="be"/>
<path d="M113.5 421.2l 3.7 .8 2.1-2.1-3.7-.6z" class="ce"/>
<path d="M148 419.1l 3.7 .9 2.1-2.2-3.7-1z" class="ae"/>
<path d="M76.2 496.7l 3.6 .5 2.2-1.6-3.6-.5z" class="gb"/>
<path d="M182.7 415.3l 3.8-.1 2-1.5-3.8-.1z" class="xd"/>
<path d="M101.4 492.3l 2.1-1.4-.2-64.3-2.2 2.2z" class="g"/>
<path d="M123 420.7l 3.7 1 2.1-2.3-3.7-.8z" class="xc"/>
<path d="M61.1 497l 3.5 .8 2.3-1.2-3.6-.7z" class="gb"/>
<path d="M157.6 418.7l 3.7 .7 2.1-2-3.8-.8z" class="ae"/>
<path d="M192.3 413.6l 3.9-.3 2-1.4-3.9 .2z" class="ud"/>
<path d="M132.6 420.5l 3.7 1 2.1-2.3-3.7-1z" class="xc"/>
<path d="M107.6 422.5l 3.7 .7 2.2-2-3.7-.5z" class="ce"/>
<path d="M85.6 496.1l 3.6 .8 2.2-1.5-3.6-.8z" class="be"/>
<path d="M167.2 418l 3.8 .4 2-1.8-3.8-.6z" class="yc"/>
<path d="M70.4 497.4l 3.7 .8 2.1-1.5-3.6-.6z" class="gb"/>
<path d="M202 411.6l 3.9-.5 2-1.3-3.9 .4z" class="ed"/>
<path d="M142.1 420.3l 3.8 1 2.1-2.2-3.8-1.1z" class="xc"/>
<path d="M176.8 416.8l 3.8 .1 2.1-1.6-3.9-.2z" class="xd"/>
<path d="M117.2 422l 3.7 .9 2.1-2.2-3.7-.8z" class="ce"/>
<path d="M55.3 497.8l 3.5 .5 2.3-1.3-3.6-.5z" class="gb"/>
<path d="M151.7 420l 3.8 .8 2.1-2.1-3.8-.9z" class="ae"/>
<path d="M186.5 415.2l 3.8-.2 2-1.4-3.8 .1z" class="fd"/>
<path d="M79.8 497.2l 3.6 .6 2.2-1.7-3.6-.5z" class="be"/>
<path d="M126.7 421.7l 3.8 1 2.1-2.2-3.8-1.1z" class="xc"/>
<path d="M161.3 419.4l 3.8 .4 2.1-1.8-3.8-.6z" class="ae"/>
<path d="M64.6 497.8l 3.7 .9 2.1-1.3-3.5-.8z" class="gb"/>
<path d="M136.3 421.5l 3.7 1 2.1-2.2-3.7-1.1z" class="xc"/>
<path d="M196.2 413.3l 3.8-.4 2-1.3-3.8 .3z" class="ud"/>
<path d="M111.3 423.2l 3.7 .9 2.2-2.1-3.7-.8z" class="ce"/>
<path d="M171 418.4l 3.8 .1 2-1.7-3.8-.2z" class="yc"/>
<path d="M89.2 496.9l 3.7 .8 2.1-1.3-3.6-1z" class="be"/>
<path d="M145.9 421.3l 3.7 .8 2.1-2.1-3.7-.9z" class="xc"/>
<path d="M74.1 498.2l 3.6 .7 2.1-1.7-3.6-.5z" class="gb"/>
<path d="M99.3 493.6l 2.1-1.3-.3-63.5-2.1 2.3z" class="g"/>
<path d="M180.6 416.9l 3.9-.2 2-1.5-3.8 .1z" class="xd"/>
<path d="M120.9 422.9l 3.7 1 2.1-2.2-3.7-1z" class="ce"/>
<path d="M155.5 420.8l 3.8 .5 2-1.9-3.7-.7z" class="ae"/>
<path d="M58.8 498.3l 3.6 .8 2.2-1.3-3.5-.8z" class="gb"/>
<path d="M130.5 422.7l 3.7 1.1 2.1-2.3-3.7-1z" class="xc"/>
<path d="M105.5 424.5l 3.7 .9 2.1-2.2-3.7-.7z" class="ce"/>
<path d="M190.3 415l 3.9-.4 2-1.3-3.9 .3z" class="ud"/>
<path d="M83.4 497.8l 3.7 .7 2.1-1.6-3.6-.8z" class="be"/>
<path d="M165.1 419.8l 3.8 .2 2.1-1.6-3.8-.4z" class="yc"/>
<path d="M68.3 498.7l 3.6 1 2.2-1.5-3.7-.8z" class="gb"/>
<path d="M140 422.5l 3.8 .9 2.1-2.1-3.8-1z" class="xc"/>
<path d="M115 424.1l 3.7 1.1 2.2-2.3-3.7-.9z" class="ce"/>
<path d="M200 412.9l 3.9-.5 2-1.3-3.9 .5z" class="ed"/>
<path d="M174.8 418.5l 3.8-.2 2-1.4-3.8-.1z" class="xd"/>
<path d="M149.6 422.1l 3.8 .6 2.1-1.9-3.8-.8z" class="xc"/>
<path d="M77.7 498.9l 3.6 .7 2.1-1.8-3.6-.6z" class="be"/>
<path d="M124.6 423.9l 3.7 1.1 2.2-2.3-3.8-1z" class="ce"/>
<path d="M184.5 416.7l 3.8-.4 2-1.3-3.8 .2z" class="fd"/>
<path d="M159.3 421.3l 3.8 .3 2-1.8-3.8-.4z" class="ae"/>
<path d="M62.4 499.1l 3.6 1 2.3-1.4-3.7-.9z" class="gb"/>
<path d="M134.2 423.8l 3.7 .9 2.1-2.2-3.7-1zM109.2 425.4l 3.7 1 2.1-2.3-3.7-.9z" class="ce"/>
<path d="M87.1 498.5l 3.6 .6 2.2-1.4-3.7-.8z" class="be"/>
<path d="M194.2 414.6l 3.9-.4 1.9-1.3-3.8 .4z" class="ud"/>
<path d="M168.9 420l 3.8 0 2.1-1.5-3.8-.1z" class="yc"/>
<path d="M143.8 423.4l 3.8 .7 2-2-3.7-.8z" class="xc"/>
<path d="M71.9 499.7l 3.6 .9 2.2-1.7-3.6-.7z" class="gb"/>
<path d="M118.7 425.2l 3.8 1 2.1-2.3-3.7-1z" class="ce"/>
<path d="M97.2 495l 2.1-1.4-.3-62.5-2.2 2.3z" class="g"/>
<path d="M178.6 418.3l 3.8-.3 2.1-1.3-3.9 .2z" class="xd"/>
<path d="M153.4 422.7l 3.8 .4 2.1-1.8-3.8-.5z" class="xc"/>
<path d="M128.3 425l 3.8 1 2.1-2.2-3.7-1.1z" class="ce"/>
<path d="M103.3 426.6l 3.7 1 2.2-2.2-3.7-.9z" class="rc"/>
<path d="M81.3 499.6l 3.6 .5 2.2-1.6-3.7-.7z" class="be"/>
<path d="M163.1 421.6l 3.8 0 2-1.6-3.8-.2z" class="ae"/>
<path d="M188.3 416.3l 3.9-.4 2-1.3-3.9 .4z" class="ud"/>
<path d="M137.9 424.7l 3.8 .8 2.1-2.1-3.8-.9z" class="ce"/>
<path d="M66 500.1l 3.7 1 2.2-1.4-3.6-1z" class="gb"/>
<path d="M112.9 426.4l 3.7 1 2.1-2.2-3.7-1.1z" class="rc"/>
<path d="M172.7 420l 3.9-.3 2-1.4-3.8 .2z" class="xd"/>
<path d="M147.6 424.1l 3.7 .5 2.1-1.9-3.8-.6z" class="xc"/>
<path d="M198.1 414.2l 3.8-.4 2-1.4-3.9 .5z" class="ed"/>
<path d="M122.5 426.2l 3.7 1.1 2.1-2.3-3.7-1.1z" class="ce"/>
<path d="M75.5 500.6l 3.6 .6 2.2-1.6-3.6-.7z" class="gb"/>
<path d="M157.2 423.1l 3.8 .1 2.1-1.6-3.8-.3z" class="ae"/>
<path d="M182.4 418l 3.9-.4 2-1.3-3.8 .4z" class="fd"/>
<path d="M132.1 426l 3.7 .8 2.1-2.1-3.7-.9z" class="ce"/>
<path d="M107 427.6l 3.7 1 2.2-2.2-3.7-1z" class="rc"/>
<path d="M84.9 500.1l 3.6 .4 2.2-1.4-3.6-.6z" class="be"/>
<path d="M141.7 425.5l 3.8 .5 2.1-1.9-3.8-.7z" class="ce"/>
<path d="M166.9 421.6l 3.8-.2 2-1.4-3.8 0z" class="yc"/>
<path d="M192.2 415.9l 3.8-.4 2.1-1.3-3.9 .4z" class="ud"/>
<path d="M116.6 427.4l 3.7 1.1 2.2-2.3-3.8-1z" class="rc"/>
<path d="M69.7 501.1l 3.6 .9 2.2-1.4-3.6-.9z" class="gb"/>
<path d="M95 496.4l 2.2-1.4-.4-61.6-2.2 2.3z" class="g"/>
<path d="M151.3 424.6l 3.8 .2 2.1-1.7-3.8-.4z" class="xc"/>
<path d="M126.2 427.3l 3.7 .9 2.2-2.2-3.8-1z" class="ce"/>
<path d="M176.6 419.7l 3.8-.3 2-1.4-3.8 .3z" class="xd"/>
<path d="M101.1 428.8l 3.7 1.1 2.2-2.3-3.7-1z" class="rc"/>
<path d="M79.1 501.2l 3.6 .4 2.2-1.5-3.6-.5z" class="be"/>
<path d="M135.8 426.8l 3.8 .7 2.1-2-3.8-.8z" class="ce"/>
<path d="M161 423.2l 3.8-.1 2.1-1.5-3.8 0z" class="ae"/>
<path d="M110.7 428.6l 3.7 1.1 2.2-2.3-3.7-1z" class="rc"/>
<path d="M186.3 417.6l 3.9-.4 2-1.3-3.9 .4z" class="ud"/>
<path d="M145.5 426l 3.7 .3 2.1-1.7-3.7-.5z" class="xc"/>
<path d="M120.3 428.5l 3.8 .9 2.1-2.1-3.7-1.1z" class="rc"/>
<path d="M170.7 421.4l 3.8-.3 2.1-1.4-3.9 .3z" class="xd"/>
<path d="M196 415.5l 3.9-.4 2-1.3-3.8 .4z" class="ed"/>
<path d="M73.3 502l 3.6 .7 2.2-1.5-3.6-.6z" class="gb"/>
<path d="M129.9 428.2l 3.8 .7 2.1-2.1-3.7-.8z" class="rc"/>
<path d="M104.8 429.9l 3.8 1 2.1-2.3-3.7-1z" class="de"/>
<path d="M155.1 424.8l 3.8-.1 2.1-1.5-3.8-.1z" class="ae"/>
<path d="M180.4 419.4l 3.9-.5 2-1.3-3.9 .4z" class="fd"/>
<path d="M82.7 501.6l 3.7 .3 2.1-1.4-3.6-.4z" class="be"/>
<path d="M139.6 427.5l 3.7 .3 2.2-1.8-3.8-.5z" class="ce"/>
<path d="M114.4 429.7l 3.8 1 2.1-2.2-3.7-1.1z" class="rc"/>
<path d="M164.8 423.1l 3.8-.3 2.1-1.4-3.8 .2z" class="yc"/>
<path d="M92.9 497.7l 2.1-1.3-.4-60.7-2.2 2.2z" class="g"/>
<path d="M190.2 417.2l 3.8-.4 2-1.3-3.8 .4z" class="ud"/>
<path d="M99 431.1l 3.7 1 2.1-2.2-3.7-1.1z" class="de"/>
<path d="M124.1 429.4l 3.7 .8 2.1-2-3.7-.9z" class="rc"/>
<path d="M149.2 426.3l 3.8 .1 2.1-1.6-3.8-.2z" class="xc"/>
<path d="M174.5 421.1l 3.9-.4 2-1.3-3.8 .3z" class="xd"/>
<path d="M76.9 502.7l 3.6 .3 2.2-1.4-3.6-.4z" class="be"/>
<path d="M108.6 430.9l 3.7 1.1 2.1-2.3-3.7-1.1z" class="de"/>
<path d="M133.7 428.9l 3.8 .4 2.1-1.8-3.8-.7z" class="ce"/>
<path d="M158.9 424.7l 3.8-.2 2.1-1.4-3.8 .1z" class="ae"/>
<path d="M184.3 418.9l 3.8-.4 2.1-1.3-3.9 .4z" class="ud"/>
<path d="M118.2 430.7l 3.7 .9 2.2-2.2-3.8-.9z" class="rc"/>
<path d="M143.3 427.8l 3.8 .2 2.1-1.7-3.7-.3z" class="ce"/>
<path d="M168.6 422.8l 3.9-.4 2-1.3-3.8 .3z" class="xd"/>
<path d="M194 416.8l 3.9-.2 2-1.5-3.9 .4z" class="ed"/>
<path d="M102.7 432.1l 3.7 1.1 2.2-2.3-3.8-1z" class="de"/>
<path d="M127.8 430.2l 3.8 .6 2.1-1.9-3.8-.7z" class="rc"/>
<path d="M153 426.4l 3.8-.2 2.1-1.5-3.8 .1z" class="xc"/>
<path d="M178.4 420.7l 3.8-.4 2.1-1.4-3.9 .5z" class="fd"/>
<path d="M112.3 432l 3.7 .9 2.2-2.2-3.8-1z" class="de"/>
<path d="M80.5 503l 3.7 .3 2.2-1.4-3.7-.3z" class="be"/>
<path d="M137.5 429.3l 3.7 .2 2.1-1.7-3.7-.3z" class="ce"/>
<path d="M90.7 499.1l 2.2-1.4-.5-59.8-2.2 2.3z" class="g"/>
<path d="M162.7 424.5l 3.9-.4 2-1.3-3.8 .3z" class="yc"/>
<path d="M96.8 433.4l 3.7 1 2.2-2.3-3.7-1z" class="de"/>
<path d="M188.1 418.5l 3.9-.2 2-1.5-3.8 .4z" class="ud"/>
<path d="M121.9 431.6l 3.8 .6 2.1-2-3.7-.8z" class="rc"/>
<path d="M147.1 428l 3.8-.2 2.1-1.4-3.8-.1z" class="xc"/>
<path d="M106.4 433.2l 3.7 1 2.2-2.2-3.7-1.1z" class="de"/>
<path d="M172.5 422.4l 3.8-.4 2.1-1.3-3.9 .4z" class="xd"/>
<path d="M131.6 430.8l 3.7 .3 2.2-1.8-3.8-.4z" class="rc"/>
<path d="M156.8 426.2l 3.9-.4 2-1.3-3.8 .2z" class="ae"/>
<path d="M116 432.9l 3.8 .7 2.1-2-3.7-.9z" class="de"/>
<path d="M182.2 420.3l 3.9-.4 2-1.4-3.8 .4z" class="ud"/>
<path d="M141.2 429.5l 3.8 0 2.1-1.5-3.8-.2z" class="ce"/>
<path d="M100.5 434.4l 3.7 1.1 2.2-2.3-3.7-1.1z" class="ee"/>
<path d="M166.6 424.1l 3.8-.4 2.1-1.3-3.9 .4z" class="xd"/>
<path d="M125.7 432.2l 3.7 .4 2.2-1.8-3.8-.6z" class="rc"/>
<path d="M192 418.3l 3.9-.1 2-1.6-3.9 .2z" class="ed"/>
<path d="M150.9 427.8l 3.8-.2 2.1-1.4-3.8 .2z" class="xc"/>
<path d="M110.1 434.2l 3.8 .8 2.1-2.1-3.7-.9z" class="de"/>
<path d="M176.3 422l 3.9-.4 2-1.3-3.8 .4z" class="fd"/>
<path d="M135.3 431.1l 3.8 0 2.1-1.6-3.7-.2z" class="ce"/>
<path d="M88.5 500.5l 2.2-1.4-.5-58.9-2.2 2.2z" class="g"/>
<path d="M94.6 435.7l 3.7 1 2.2-2.3-3.7-1z" class="ee"/>
<path d="M119.8 433.6l 3.7 .5 2.2-1.9-3.8-.6z" class="de"/>
<path d="M160.7 425.8l 3.8-.4 2.1-1.3-3.9 .4z" class="yc"/>
<path d="M186.1 419.9l 3.9-.1 2-1.5-3.9 .2z" class="ud"/>
<path d="M145 429.5l 3.8-.2 2.1-1.5-3.8 .2z" class="xc"/>
<path d="M104.2 435.5l 3.8 .8 2.1-2.1-3.7-1z" class="ee"/>
<path d="M129.4 432.6l 3.8 .1 2.1-1.6-3.7-.3z" class="rc"/>
<path d="M170.4 423.7l 3.9-.4 2-1.3-3.8 .4z" class="xd"/>
<path d="M113.9 435l 3.7 .5 2.2-1.9-3.8-.7z" class="de"/>
<path d="M154.7 427.6l 3.9-.4 2.1-1.4-3.9 .4z" class="ae"/>
<path d="M180.2 421.6l 3.9-.2 2-1.5-3.9 .4z" class="ud"/>
<path d="M139.1 431.1l 3.8-.2 2.1-1.4-3.8 0z" class="ce"/>
<path d="M98.3 436.7l 3.7 .9 2.2-2.1-3.7-1.1z" class="ee"/>
<path d="M123.5 434.1l 3.8 .2 2.1-1.7-3.7-.4z" class="de"/>
<path d="M164.5 425.4l 3.8-.4 2.1-1.3-3.8 .4z" class="xd"/>
<path d="M190 419.8l 3.9 .1 2-1.7-3.9 .1z" class="ed"/>
<path d="M108 436.3l 3.7 .6 2.2-1.9-3.8-.8z" class="ee"/>
<path d="M148.8 429.3l 3.9-.4 2-1.3-3.8 .2z" class="xc"/>
<path d="M86.4 501.9l 2.1-1.4-.5-58.1-2.2 2.1z" class="g"/>
<path d="M92.4 437.9l 3.7 1 2.2-2.2-3.7-1z" class="fe"/>
<path d="M133.2 432.7l 3.8-.1 2.1-1.5-3.8 0z" class="ce"/>
<path d="M174.3 423.3l 3.8-.2 2.1-1.5-3.9 .4z" class="fd"/>
<path d="M117.6 435.5l 3.8 .3 2.1-1.7-3.7-.5z" class="de"/>
<path d="M158.6 427.2l 3.8-.4 2.1-1.4-3.8 .4z" class="yc"/>
<path d="M184.1 421.4l 3.8 .1 2.1-1.7-3.9 .1z" class="ud"/>
<path d="M102 437.6l 3.8 .7 2.2-2-3.8-.8z" class="ee"/>
<path d="M142.9 430.9l 3.8-.3 2.1-1.3-3.8 .2z" class="xc"/>
<path d="M127.3 434.3l 3.8-.1 2.1-1.5-3.8-.1z" class="rc"/>
<path d="M168.3 425l 3.9-.3 2.1-1.4-3.9 .4z" class="xd"/>
<path d="M111.7 436.9l 3.7 .4 2.2-1.8-3.7-.5z" class="ee"/>
<path d="M152.7 428.9l 3.8-.4 2.1-1.3-3.9 .4z" class="ae"/>
<path d="M96.1 438.9l 3.7 .8 2.2-2.1-3.7-.9z" class="fe"/>
<path d="M178.1 423.1l 3.9-.1 2.1-1.6-3.9 .2z" class="ud"/>
<path d="M137 432.6l 3.8-.3 2.1-1.4-3.8 .2z" class="ce"/>
<path d="M121.4 435.8l 3.7 .1 2.2-1.6-3.8-.2z" class="de"/>
<path d="M187.9 421.5l 3.9 .3 2.1-1.9-3.9-.1z" class="ed"/>
<path d="M162.4 426.8l 3.9-.4 2-1.4-3.8 .4z" class="xd"/>
<path d="M105.8 438.3l 3.7 .5 2.2-1.9-3.7-.6z" class="ee"/>
<path d="M146.7 430.6l 3.8-.4 2.2-1.3-3.9 .4z" class="ae"/>
<path d="M90.2 440.2l 3.7 .8 2.2-2.1-3.7-1z" class="fe"/>
<path d="M84.2 503.3l 2.2-1.4-.6-57.4-2.3 1.9z" class="g"/>
<path d="M131.1 434.2l 3.8-.2 2.1-1.4-3.8 .1z" class="rc"/>
<path d="M172.2 424.7l 3.9-.1 2-1.5-3.8 .2z" class="fd"/>
<path d="M115.4 437.3l 3.8 .2 2.2-1.7-3.8-.3z" class="de"/>
<path d="M99.8 439.7l 3.8 .6 2.2-2-3.8-.7z" class="fe"/>
<path d="M156.5 428.5l 3.8-.4 2.1-1.3-3.8 .4z" class="yc"/>
<path d="M182 423l 3.9 .2 2-1.7-3.8-.1z" class="ud"/>
<path d="M140.8 432.3l 3.8-.4 2.1-1.3-3.8 .3z" class="xc"/>
<path d="M125.1 435.9l 3.8-.2 2.2-1.5-3.8 .1z" class="rc"/>
<path d="M109.5 438.8l 3.8 .2 2.1-1.7-3.7-.4z" class="ee"/>
<path d="M166.3 426.4l 3.8-.1 2.1-1.6-3.9 .3z" class="xd"/>
<path d="M93.9 441l 3.7 .7 2.2-2-3.7-.8z" class="fe"/>
<path d="M150.5 430.2l 3.9-.4 2.1-1.3-3.8 .4z" class="ae"/>
<path d="M176.1 424.6l 3.8 .2 2.1-1.8-3.9 .1z" class="ud"/>
<path d="M134.9 434l 3.8-.3 2.1-1.4-3.8 .3z" class="ce"/>
<path d="M119.2 437.5l 3.8-.1 2.1-1.5-3.7-.1z" class="de"/>
<path d="M103.6 440.3l 3.7 .3 2.2-1.8-3.7-.5z" class="ee"/>
<path d="M185.9 423.2l 3.9 .5 2-1.9-3.9-.3z" class="ed"/>
<path d="M160.3 428.1l 3.9-.2 2.1-1.5-3.9 .4z" class="xd"/>
<path d="M88 442.4l 3.7 .7 2.2-2.1-3.7-.8z" class="ge"/>
<path d="M144.6 431.9l 3.8-.4 2.1-1.3-3.8 .4z" class="ae"/>
<path d="M128.9 435.7l 3.8-.3 2.2-1.4-3.8 .2z" class="rc"/>
<path d="M170.1 426.3l 3.9 0 2.1-1.7-3.9 .1z" class="fd"/>
<path d="M113.3 439l 3.7 0 2.2-1.5-3.8-.2z" class="de"/>
<path d="M97.6 441.7l 3.8 .4 2.2-1.8-3.8-.6z" class="fe"/>
<path d="M154.4 429.8l 3.8-.2 2.1-1.5-3.8 .4z" class="yc"/>
<path d="M179.9 424.8l 3.9 .4 2.1-2-3.9-.2z" class="ud"/>
<path d="M138.7 433.7l 3.8-.4 2.1-1.4-3.8 .4z" class="xc"/>
<path d="M123 437.4l 3.8-.3 2.1-1.4-3.8 .2z" class="rc"/>
<path d="M107.3 440.6l 3.8 0 2.2-1.6-3.8-.2z" class="ee"/>
<path d="M164.2 427.9l 3.8 0 2.1-1.6-3.8 .1z" class="xd"/>
<path d="M91.7 443.1l 3.7 .5 2.2-1.9-3.7-.7z" class="fe"/>
<path d="M148.4 431.5l 3.9-.3 2.1-1.4-3.9 .4z" class="ae"/>
<path d="M174 426.3l 3.9 .3 2-1.8-3.8-.2z" class="fd"/>
<path d="M132.7 435.4l 3.8-.4 2.2-1.3-3.8 .3z" class="ce"/>
<path d="M117 439l 3.8-.2 2.2-1.4-3.8 .1z" class="de"/>
<path d="M101.4 442.1l 3.7 .1 2.2-1.6-3.7-.3z" class="fe"/>
<path d="M85.8 444.5l 3.7 .5 2.2-1.9-3.7-.7z" class="ge"/>
<path d="M183.8 425.2l 3.9 .6 2.1-2.1-3.9-.5z" class="ud"/>
<path d="M158.2 429.6l 3.9-.1 2.1-1.6-3.9 .2z" class="xd"/>
<path d="M142.5 433.3l 3.8-.4 2.1-1.4-3.8 .4z" class="ae"/>
<path d="M126.8 437.1l 3.8-.4 2.1-1.3-3.8 .3z" class="rc"/>
<path d="M111.1 440.6l 3.8-.1 2.1-1.5-3.7 0z" class="ee"/>
<path d="M168 427.9l 3.9 .2 2.1-1.8-3.9 0z" class="fd"/>
<path d="M95.4 443.6l 3.8 .2 2.2-1.7-3.8-.4z" class="fe"/>
<path d="M177.9 426.6l 3.8 .6 2.1-2-3.9-.4z" class="ud"/>
<path d="M152.3 431.2l 3.8-.1 2.1-1.5-3.8 .2z" class="yc"/>
<path d="M136.5 435l 3.9-.4 2.1-1.3-3.8 .4z" class="xc"/>
<path d="M120.8 438.8l 3.8-.4 2.2-1.3-3.8 .3z" class="rc"/>
<path d="M105.1 442.2l 3.8-.1 2.2-1.5-3.8 0z" class="ee"/>
<path d="M89.5 445l 3.7 .3 2.2-1.7-3.7-.5z" class="ge"/>
<path d="M162.1 429.5l 3.9 .1 2-1.7-3.8 0z" class="xd"/>
<path d="M146.3 432.9l 3.9-.2 2.1-1.5-3.9 .3z" class="ae"/>
<path d="M171.9 428.1l 3.9 .5 2.1-2-3.9-.3z" class="fd"/>
<path d="M130.6 436.7l 3.8-.4 2.1-1.3-3.8 .4z" class="ce"/>
<path d="M114.9 440.5l 3.8-.3 2.1-1.4-3.8 .2z" class="de"/>
<path d="M99.2 443.8l 3.7 0 2.2-1.6-3.7-.1z" class="fe"/>
<path d="M83.5 446.4l 3.8 .4 2.2-1.8-3.7-.5z" class="ge"/>
<path d="M181.7 427.2l 3.9 .8 2.1-2.2-3.9-.6z" class="ud"/>
<path d="M156.1 431.1l 3.9 0 2.1-1.6-3.9 .1z" class="xd"/>
<path d="M140.4 434.6l 3.8-.2 2.1-1.5-3.8 .4z" class="ae"/>
<path d="M124.6 438.4l 3.8-.3 2.2-1.4-3.8 .4z" class="ce"/>
<path d="M108.9 442.1l 3.8-.2 2.2-1.4-3.8 .1z" class="ee"/>
<path d="M93.2 445.3l 3.8 .1 2.2-1.6-3.8-.2z" class="fe"/>
<path d="M166 429.6l 3.8 .4 2.1-1.9-3.9-.2zM175.8 428.6l 3.9 .7 2-2.1-3.8-.6z" class="fd"/>
<path d="M150.2 432.7l 3.8 0 2.1-1.6-3.8 .1z" class="yc"/>
<path d="M134.4 436.3l 3.8-.3 2.2-1.4-3.9 .4z" class="xc"/>
<path d="M87.3 446.8l 3.7 .2 2.2-1.7-3.7-.3z" class="ge"/>
<path d="M118.7 440.2l 3.7-.4 2.2-1.4-3.8 .4z" class="rc"/>
<path d="M102.9 443.8l 3.8-.2 2.2-1.5-3.8 .1z" class="ee"/>
<path d="M160 431.1l 3.8 .4 2.2-1.9-3.9-.1z" class="xd"/>
<path d="M144.2 434.4l 3.8-.1 2.2-1.6-3.9 .2z" class="ae"/>
<path d="M169.8 430l 3.9 .7 2.1-2.1-3.9-.5z" class="fd"/>
<path d="M128.4 438.1l 3.8-.4 2.2-1.4-3.8 .4z" class="ce"/>
<path d="M97 445.4l 3.7-.2 2.2-1.4-3.7 0z" class="fe"/>
<path d="M112.7 441.9l 3.8-.4 2.2-1.3-3.8 .3z" class="de"/>
<path d="M179.7 429.3l 3.8 1 2.1-2.3-3.9-.8z" class="fd"/>
<path d="M154 432.7l 3.9 .2 2.1-1.8-3.9 0z" class="yc"/>
<path d="M138.2 436l 3.9-.1 2.1-1.5-3.8 .2z" class="ae"/>
<path d="M91 447l 3.8-.1 2.2-1.5-3.8-.1z" class="fe"/>
<path d="M122.4 439.8l 3.9-.4 2.1-1.3-3.8 .3z" class="ce"/>
<path d="M163.8 431.5l 3.9 .6 2.1-2.1-3.8-.4z" class="xd"/>
<path d="M106.7 443.6l 3.8-.4 2.2-1.3-3.8 .2z" class="ee"/>
<path d="M173.7 430.7l 3.9 .9 2.1-2.3-3.9-.7z" class="fd"/>
<path d="M148 434.3l 3.9 .2 2.1-1.8-3.8 0z" class="yc"/>
<path d="M132.2 437.7l 3.9-.2 2.1-1.5-3.8 .3z" class="xc"/>
<path d="M100.7 445.2l 3.8-.3 2.2-1.3-3.8 .2z" class="ee"/>
<path d="M116.5 441.5l 3.8-.4 2.1-1.3-3.7 .4z" class="rc"/>
<path d="M157.9 432.9l 3.8 .6 2.1-2-3.8-.4zM167.7 432.1l 3.9 .8 2.1-2.2-3.9-.7z" class="xd"/>
<path d="M142.1 435.9l 3.8 .1 2.1-1.7-3.8 .1z" class="ae"/>
<path d="M94.8 446.9l 3.7-.3 2.2-1.4-3.7 .2z" class="fe"/>
<path d="M177.6 431.6l 3.9 1 2-2.3-3.8-1z" class="fd"/>
<path d="M126.3 439.4l 3.8-.2 2.1-1.5-3.8 .4z" class="ce"/>
<path d="M110.5 443.2l 3.8-.3 2.2-1.4-3.8 .4z" class="de"/>
<path d="M151.9 434.5l 3.8 .4 2.2-2-3.9-.2z" class="yc"/>
<path d="M136.1 437.5l 3.8 0 2.2-1.6-3.9 .1z" class="ae"/>
<path d="M161.7 433.5l 3.9 .7 2.1-2.1-3.9-.6z" class="xd"/>
<path d="M104.5 444.9l 3.8-.3 2.2-1.4-3.8 .4z" class="de"/>
<path d="M120.3 441.1l 3.8-.2 2.2-1.5-3.9 .4z" class="ce"/>
<path d="M171.6 432.9l 3.9 1 2.1-2.3-3.9-.9z" class="xd"/>
<path d="M145.9 436l 3.9 .3 2.1-1.8-3.9-.2z" class="yc"/>
<path d="M130.1 439.2l 3.8-.1 2.2-1.6-3.9 .2z" class="xc"/>
<path d="M98.5 446.6l 3.8-.3 2.2-1.4-3.8 .3z" class="ee"/>
<path d="M114.3 442.9l 3.8-.4 2.2-1.4-3.8 .4z" class="rc"/>
<path d="M155.7 434.9l 3.9 .7 2.1-2.1-3.8-.6zM165.6 434.2l 3.9 1 2.1-2.3-3.9-.8z" class="xd"/>
<path d="M139.9 437.5l 3.9 .3 2.1-1.8-3.8-.1z" class="ae"/>
<path d="M175.5 433.9l 3.9 1.1 2.1-2.4-3.9-1z" class="xd"/>
<path d="M124.1 440.9l 3.8-.2 2.2-1.5-3.8 .2z" class="ce"/>
<path d="M108.3 444.6l 3.8-.4 2.2-1.3-3.8 .3z" class="de"/>
<path d="M149.8 436.3l 3.8 .6 2.1-2-3.8-.4z" class="yc"/>
<path d="M159.6 435.6l 3.9 .9 2.1-2.3-3.9-.7z" class="xd"/>
<path d="M133.9 439.1l 3.9 .2 2.1-1.8-3.8 0z" class="ae"/>
<path d="M102.3 446.3l 3.8-.4 2.2-1.3-3.8 .3z" class="de"/>
<path d="M118.1 442.5l 3.8-.1 2.2-1.5-3.8 .2z" class="ce"/>
<path d="M169.5 435.2l 3.9 1 2.1-2.3-3.9-1z" class="xd"/>
<path d="M143.8 437.8l 3.8 .5 2.2-2-3.9-.3z" class="ae"/>
<path d="M127.9 440.7l 3.8 .1 2.2-1.7-3.8 .1z" class="xc"/>
<path d="M153.6 436.9l 3.9 .9 2.1-2.2-3.9-.7z" class="yc"/>
<path d="M112.1 444.2l 3.8-.2 2.2-1.5-3.8 .4z" class="rc"/>
<path d="M163.5 436.5l 3.9 1 2.1-2.3-3.9-1z" class="xd"/>
<path d="M137.8 439.3l 3.8 .5 2.2-2-3.9-.3z" class="ae"/>
<path d="M173.4 436.2l 3.8 1.2 2.2-2.4-3.9-1.1z" class="xd"/>
<path d="M121.9 442.4l 3.8 0 2.2-1.7-3.8 .2z" class="ce"/>
<path d="M106.1 445.9l 3.8-.2 2.2-1.5-3.8 .4z" class="de"/>
<path d="M147.6 438.3l 3.9 .8 2.1-2.2-3.8-.6zM157.5 437.8l 3.9 1 2.1-2.3-3.9-.9z" class="yc"/>
<path d="M131.7 440.8l 3.9 .4 2.2-1.9-3.9-.2z" class="xc"/>
<path d="M167.4 437.5l 3.8 1.1 2.2-2.4-3.9-1z" class="yc"/>
<path d="M115.9 444l 3.8 0 2.2-1.6-3.8 .1z" class="ce"/>
<path d="M141.6 439.8l 3.9 .7 2.1-2.2-3.8-.5z" class="ae"/>
<path d="M125.7 442.4l 3.9 .3 2.1-1.9-3.8-.1z" class="xc"/>
<path d="M151.5 439.1l 3.8 1 2.2-2.3-3.9-.9z" class="yc"/>
<path d="M109.9 445.7l 3.8-.1 2.2-1.6-3.8 .2z" class="rc"/>
<path d="M161.4 438.8l 3.8 1.1 2.2-2.4-3.9-1zM171.2 438.6l 3.9 1.1 2.1-2.3-3.8-1.2z" class="yc"/>
<path d="M135.6 441.2l 3.8 .6 2.2-2-3.8-.5z" class="ae"/>
<path d="M119.7 444l 3.8 .2 2.2-1.8-3.8 0z" class="ce"/>
<path d="M145.5 440.5l 3.8 .9 2.2-2.3-3.9-.8z" class="ae"/>
<path d="M155.3 440.1l 3.9 1.1 2.2-2.4-3.9-1z" class="yc"/>
<path d="M129.6 442.7l 3.8 .5 2.2-2-3.9-.4z" class="xc"/>
<path d="M165.2 439.9l 3.9 1.1 2.1-2.4-3.8-1.1z" class="yc"/>
<path d="M113.7 445.6l 3.8 .1 2.2-1.7-3.8 0z" class="ce"/>
<path d="M139.4 441.8l 3.9 .9 2.2-2.2-3.9-.7zM149.3 441.4l 3.9 1 2.1-2.3-3.8-1z" class="ae"/>
<path d="M123.5 444.2l 3.9 .4 2.2-1.9-3.9-.3z" class="xc"/>
<path d="M159.2 441.2l 3.9 1.1 2.1-2.4-3.8-1.1z" class="ae"/>
<path d="M169.1 441l 3.9 1.1 2.1-2.4-3.9-1.1z" class="yc"/>
<path d="M133.4 443.2l 3.9 .8 2.1-2.2-3.8-.6z" class="xc"/>
<path d="M117.5 445.7l 3.8 .4 2.2-1.9-3.8-.2z" class="ce"/>
<path d="M143.3 442.7l 3.9 1 2.1-2.3-3.8-.9zM153.2 442.4l 3.9 1.2 2.1-2.4-3.9-1.1z" class="ae"/>
<path d="M127.4 444.6l 3.8 .7 2.2-2.1-3.8-.5z" class="xc"/>
<path d="M163.1 442.3l 3.9 1.1 2.1-2.4-3.9-1.1z" class="ae"/>
<path d="M137.3 444l 3.8 1 2.2-2.3-3.9-.9z" class="xc"/>
<path d="M147.2 443.7l 3.8 1.1 2.2-2.4-3.9-1z" class="ae"/>
<path d="M121.3 446.1l 3.9 .6 2.2-2.1-3.9-.4z" class="ce"/>
<path d="M157.1 443.6l 3.9 1.1 2.1-2.4-3.9-1.1zM167 443.4l 3.9 .9 2.1-2.2-3.9-1.1z" class="ae"/>
<path d="M131.2 445.3l 3.9 1 2.2-2.3-3.9-.8zM141.1 445l 3.9 1.1 2.2-2.4-3.9-1zM151 444.8l 3.9 1.2 2.2-2.4-3.9-1.2z" class="xc"/>
<path d="M125.2 446.7l 3.8 .9 2.2-2.3-3.8-.7z" class="ce"/>
<path d="M161 444.7l 3.9 1 2.1-2.3-3.9-1.1z" class="ae"/>
<path d="M135.1 446.3l 3.9 1.1 2.1-2.4-3.8-1zM145 446.1l 3.9 1.1 2.1-2.4-3.8-1.1zM154.9 446l 3.9 1 2.2-2.3-3.9-1.1z" class="xc"/>
<path d="M164.9 445.7l 3.9 .8 2.1-2.2-3.9-.9z" class="ae"/>
<path d="M129 447.6l 3.9 1 2.2-2.3-3.9-1z" class="ce"/>
<path d="M139 447.4l 3.8 1.1 2.2-2.4-3.9-1.1zM148.9 447.2l 3.9 1.1 2.1-2.3-3.9-1.2zM158.8 447l 3.9 .9 2.2-2.2-3.9-1z" class="xc"/>
<path d="M132.9 448.6l 3.9 1.2 2.2-2.4-3.9-1.1zM142.8 448.5l 3.9 1.1 2.2-2.4-3.9-1.1z" class="ce"/>
<path d="M152.8 448.3l 3.9 1 2.1-2.3-3.9-1zM162.7 447.9l 3.9 .6 2.2-2-3.9-.8z" class="xc"/>
<path d="M136.8 449.8l 3.8 1.1 2.2-2.4-3.8-1.1zM146.7 449.6l 3.9 1 2.2-2.3-3.9-1.1z" class="ce"/>
<path d="M156.7 449.3l 3.9 .7 2.1-2.1-3.9-.9z" class="xc"/>
<path d="M140.6 450.9l 3.9 1.1 2.2-2.4-3.9-1.1zM150.6 450.6l 3.9 .9 2.2-2.2-3.9-1z" class="ce"/>
<path d="M160.6 450l 3.9 .5 2.1-2-3.9-.6z" class="xc"/>
<path d="M144.5 452l 3.9 .9 2.2-2.3-3.9-1zM154.5 451.5l 3.9 .5 2.2-2-3.9-.7zM148.4 452.9l 3.9 .6 2.2-2-3.9-.9z" class="ce"/>
<path d="M158.4 452l 4 .3 2.1-1.8-3.9-.5z" class="xc"/>
<path d="M152.3 453.5l 4 .4 2.1-1.9-3.9-.5zM156.3 453.9l 3.9 .2 2.2-1.8-4-.3z" class="ce"/>
</g>
<path d="M9.2 514.6 L159.9 552.5" stroke="#111" stroke-width="0.8"/>
<path d="M159.9 552.5 L240 488.7" stroke="#111" stroke-width="0.8"/>
<path d="M240 488.7 L245.7 374.9" stroke="#111" stroke-width="0.8"/>
<path d="M9.3 517.1 L12.9 514.7" stroke="#111" stroke-width="0.8"/>
<path d="M165 552 L160.5 550.8" stroke="#111" stroke-width="0.8"/>
<path d="M44.3 525.9 L47.8 523.5" stroke="#111" stroke-width="0.8"/>
<path d="M185.3 535.8 L180.8 534.7" stroke="#111" stroke-width="0.8"/>
<path d="M80.1 535 L83.6 532.4" stroke="#111" stroke-width="0.8"/>
<path d="M204.8 520.2 L200.3 519.1" stroke="#111" stroke-width="0.8"/>
<path d="M116.7 544.2 L120.1 541.6" stroke="#111" stroke-width="0.8"/>
<path d="M223.6 505.1 L219.2 504.1" stroke="#111" stroke-width="0.8"/>
<path d="M154.2 553.7 L157.5 551" stroke="#111" stroke-width="0.8"/>
<path d="M241.7 490.6 L237.4 489.6" stroke="#111" stroke-width="0.8"/>
<path d="M237.9 486.5 L242.7 486.5" stroke="#111" stroke-width="0.8"/>
<path d="M238.9 465.4 L243.7 465.4" stroke="#111" stroke-width="0.8"/>
<path d="M240 443.9 L244.8 443.9" stroke="#111" stroke-width="0.8"/>
<path d="M241.1 422.1 L245.9 422.1" stroke="#111" stroke-width="0.8"/>
<path d="M242.2 399.9 L247 399.9" stroke="#111" stroke-width="0.8"/>
<path d="M243.3 377.3 L248.1 377.3" stroke="#111" stroke-width="0.8"/>
<text x="8.4" y="532.1" font-size="9" text-anchor="middle" font-family="Liberation Sans" fill="#000">−10</text>
<text x="42.6" y="541.5" font-size="9" text-anchor="middle" font-family="Liberation Sans" fill="#000">−5</text>
<text x="78" y="549.9" font-size="9" text-anchor="middle" font-family="Liberation Sans" fill="#000">0</text>
<text x="113.8" y="559.7" font-size="9" text-anchor="middle" font-family="Liberation Sans" fill="#000">5</text>
<text x="151" y="568.5" font-size="9" text-anchor="middle" font-family="Liberation Sans" fill="#000">10</text>
<text x="170.7" y="567.2" font-size="9" text-anchor="middle" font-family="Liberation Sans" fill="#000">−10</text>
<text x="190.8" y="550.7" font-size="9" text-anchor="middle" font-family="Liberation Sans" fill="#000">−5</text>
<text x="209.7" y="535" font-size="9" text-anchor="middle" font-family="Liberation Sans" fill="#000">0</text>
<text x="228.5" y="520.1" font-size="9" text-anchor="middle" font-family="Liberation Sans" fill="#000">5</text>
<text x="246.9" y="505.2" font-size="9" text-anchor="middle" font-family="Liberation Sans" fill="#000">10</text>
<text x="253.6" y="491.9" font-size="9" text-anchor="middle" font-family="Liberation Sans" fill="#000">0</text>
<text x="254.6" y="470.8" font-size="9" text-anchor="middle" font-family="Liberation Sans" fill="#000">50</text>
<text x="255.7" y="449.3" font-size="9" text-anchor="middle" font-family="Liberation Sans" fill="#000">100</text>
<text x="256.8" y="427.5" font-size="9" text-anchor="middle" font-family="Liberation Sans" fill="#000">150</text>
<text x="257.9" y="405.3" font-size="9" text-anchor="middle" font-family="Liberation Sans" fill="#000">200</text>
<text x="259" y="382.7" font-size="9" text-anchor="middle" font-family="Liberation Sans" fill="#000">250</text>
<clipPath id="cq0"><rect x="374" y="5.8" width="306" height="236.5"/></clipPath>
<g fill="#0000ff" stroke="#000" stroke-width="0.7" clip-path="url(#cq0)"><circle cx="492.8" cy="5.6" r="1.6"/><circle cx="507.6" cy="19" r="1.6"/><circle cx="492.8" cy="61" r="1.6"/><circle cx="505.3" cy="92.7" r="1.6"/><circle cx="485" cy="103.9" r="1.6"/><circle cx="514.3" cy="101.6" r="1.6"/><circle cx="520.3" cy="103.2" r="1.6"/><circle cx="496.2" cy="114.4" r="1.6"/><circle cx="504.9" cy="113" r="1.6"/><circle cx="476.1" cy="125.1" r="1.6"/><circle cx="563.9" cy="20.5" r="1.6"/><circle cx="530.8" cy="34.4" r="1.6"/><circle cx="580.6" cy="33.5" r="1.6"/><circle cx="565.9" cy="48" r="1.6"/><circle cx="554.9" cy="74.4" r="1.6"/><circle cx="543.1" cy="115.5" r="1.6"/><circle cx="578.8" cy="117.3" r="1.6"/><circle cx="431" cy="128" r="1.6"/><circle cx="488.8" cy="131.5" r="1.6"/><circle cx="451.3" cy="137.8" r="1.6"/><circle cx="462.7" cy="138.9" r="1.6"/><circle cx="484.3" cy="137.6" r="1.6"/><circle cx="504.7" cy="135.5" r="1.6"/><circle cx="453.7" cy="142.9" r="1.6"/><circle cx="478.1" cy="144" r="1.6"/><circle cx="479.6" cy="146.3" r="1.6"/><circle cx="481.9" cy="150.7" r="1.6"/><circle cx="468.7" cy="149.4" r="1.6"/><circle cx="490.1" cy="148.5" r="1.6"/><circle cx="453.3" cy="153.4" r="1.6"/><circle cx="448.4" cy="155.9" r="1.6"/><circle cx="459.8" cy="155.9" r="1.6"/><circle cx="469.8" cy="157.7" r="1.6"/><circle cx="487" cy="154.3" r="1.6"/><circle cx="489.7" cy="159.2" r="1.6"/><circle cx="512.7" cy="153.9" r="1.6"/><circle cx="524.3" cy="154.3" r="1.6"/><circle cx="426.7" cy="161.2" r="1.6"/><circle cx="445.5" cy="160.8" r="1.6"/><circle cx="437.7" cy="165.3" r="1.6"/><circle cx="465.6" cy="168.6" r="1.6"/><circle cx="466.2" cy="169.7" r="1.6"/><circle cx="457.8" cy="170.6" r="1.6"/><circle cx="487.9" cy="170" r="1.6"/><circle cx="506.7" cy="170.4" r="1.6"/><circle cx="508" cy="173.1" r="1.6"/><circle cx="524.1" cy="166.2" r="1.6"/><circle cx="435" cy="174.4" r="1.6"/><circle cx="441.5" cy="177.5" r="1.6"/><circle cx="453.7" cy="174.4" r="1.6"/><circle cx="468.3" cy="178" r="1.6"/><circle cx="495.3" cy="177.5" r="1.6"/><circle cx="495.7" cy="179.8" r="1.6"/><circle cx="485.9" cy="180.9" r="1.6"/><circle cx="427.2" cy="182" r="1.6"/><circle cx="614.1" cy="132.9" r="1.6"/><circle cx="594.5" cy="137.3" r="1.6"/><circle cx="531.9" cy="141.4" r="1.6"/><circle cx="540" cy="146.3" r="1.6"/><circle cx="546.2" cy="144.5" r="1.6"/><circle cx="545.3" cy="147.4" r="1.6"/><circle cx="584.6" cy="147.4" r="1.6"/><circle cx="627.1" cy="147.8" r="1.6"/><circle cx="626.8" cy="151.9" r="1.6"/><circle cx="639.1" cy="156.1" r="1.6"/><circle cx="531" cy="157.4" r="1.6"/><circle cx="575" cy="158.6" r="1.6"/><circle cx="546.2" cy="162.6" r="1.6"/><circle cx="559" cy="162.6" r="1.6"/><circle cx="634.7" cy="164.4" r="1.6"/><circle cx="548.9" cy="168.8" r="1.6"/><circle cx="560.5" cy="171.3" r="1.6"/><circle cx="619.2" cy="169.3" r="1.6"/><circle cx="529.7" cy="178" r="1.6"/><circle cx="564.5" cy="177.1" r="1.6"/><circle cx="563.2" cy="179.1" r="1.6"/><circle cx="567.2" cy="180.2" r="1.6"/><circle cx="580.6" cy="177.3" r="1.6"/><circle cx="603.8" cy="180.2" r="1.6"/><circle cx="533.3" cy="184.2" r="1.6"/><circle cx="586.2" cy="184.9" r="1.6"/><circle cx="448.6" cy="185" r="1.6"/><circle cx="449.2" cy="187.2" r="1.6"/><circle cx="437" cy="188.9" r="1.6"/><circle cx="417.8" cy="194.4" r="1.6"/><circle cx="419.5" cy="196.1" r="1.6"/><circle cx="428" cy="193.9" r="1.6"/><circle cx="443.3" cy="195.2" r="1.6"/><circle cx="403.4" cy="198.1" r="1.6"/><circle cx="419.5" cy="207" r="1.6"/><circle cx="421.4" cy="208.6" r="1.6"/><circle cx="409.7" cy="210" r="1.6"/><circle cx="441.1" cy="205.5" r="1.6"/><circle cx="439.5" cy="208.3" r="1.6"/><circle cx="441.1" cy="212.4" r="1.6"/><circle cx="449.4" cy="206.6" r="1.6"/><circle cx="432.6" cy="215.2" r="1.6"/><circle cx="395.6" cy="216.4" r="1.6"/><circle cx="397.5" cy="220.5" r="1.6"/><circle cx="436.7" cy="217.7" r="1.6"/><circle cx="435" cy="220.5" r="1.6"/><circle cx="437.6" cy="220.3" r="1.6"/><circle cx="446.3" cy="217.5" r="1.6"/><circle cx="449.2" cy="216.1" r="1.6"/><circle cx="419.8" cy="221.9" r="1.6"/><circle cx="431.1" cy="222.5" r="1.6"/><circle cx="433.9" cy="222.5" r="1.6"/><circle cx="406.2" cy="224.2" r="1.6"/><circle cx="407.5" cy="226.8" r="1.6"/><circle cx="416.9" cy="226.2" r="1.6"/><circle cx="423.9" cy="225.3" r="1.6"/><circle cx="443.9" cy="224.9" r="1.6"/><circle cx="433.4" cy="226" r="1.6"/><circle cx="387.1" cy="228.6" r="1.6"/><circle cx="386.8" cy="233" r="1.6"/><circle cx="393.7" cy="229.4" r="1.6"/><circle cx="395.1" cy="229.4" r="1.6"/><circle cx="392.6" cy="232.7" r="1.6"/><circle cx="395.6" cy="232.1" r="1.6"/><circle cx="401.5" cy="228.3" r="1.6"/><circle cx="403.4" cy="232.1" r="1.6"/><circle cx="408.4" cy="231.6" r="1.6"/><circle cx="430.8" cy="228.3" r="1.6"/><circle cx="434.5" cy="231" r="1.6"/><circle cx="442.8" cy="231.9" r="1.6"/><circle cx="444.5" cy="233.3" r="1.6"/><circle cx="419.8" cy="232.1" r="1.6"/><circle cx="426.1" cy="231.3" r="1.6"/><circle cx="586" cy="185.4" r="1.6"/><circle cx="587.7" cy="187.1" r="1.6"/><circle cx="591.5" cy="186.4" r="1.6"/><circle cx="613.7" cy="188.7" r="1.6"/><circle cx="626.3" cy="187.2" r="1.6"/><circle cx="572.6" cy="195.1" r="1.6"/><circle cx="579.3" cy="194.3" r="1.6"/><circle cx="587.2" cy="195.1" r="1.6"/><circle cx="597.4" cy="193.1" r="1.6"/><circle cx="605.8" cy="192.1" r="1.6"/><circle cx="606.1" cy="193.4" r="1.6"/><circle cx="638.4" cy="194.6" r="1.6"/><circle cx="567" cy="201.8" r="1.6"/><circle cx="573.9" cy="206" r="1.6"/><circle cx="612.8" cy="201.5" r="1.6"/><circle cx="627.1" cy="201.8" r="1.6"/><circle cx="640" cy="204.7" r="1.6"/><circle cx="567.4" cy="210.2" r="1.6"/><circle cx="581.5" cy="208.5" r="1.6"/><circle cx="598.6" cy="206.9" r="1.6"/><circle cx="606.1" cy="208" r="1.6"/><circle cx="611.2" cy="205.7" r="1.6"/><circle cx="573.9" cy="212.4" r="1.6"/><circle cx="631.3" cy="210.6" r="1.6"/><circle cx="627.1" cy="213.1" r="1.6"/><circle cx="565.8" cy="214.4" r="1.6"/><circle cx="579.3" cy="216.9" r="1.6"/><circle cx="577.6" cy="219.8" r="1.6"/><circle cx="579.3" cy="221.5" r="1.6"/><circle cx="600.8" cy="218.3" r="1.6"/><circle cx="619.6" cy="216.1" r="1.6"/><circle cx="617.9" cy="218.6" r="1.6"/><circle cx="622.1" cy="222.3" r="1.6"/><circle cx="584.3" cy="223.6" r="1.6"/><circle cx="583.5" cy="224.5" r="1.6"/><circle cx="593" cy="224" r="1.6"/><circle cx="602.8" cy="225.3" r="1.6"/><circle cx="609" cy="224.8" r="1.6"/><circle cx="614.2" cy="226.7" r="1.6"/><circle cx="623.8" cy="227" r="1.6"/><circle cx="624.1" cy="229.7" r="1.6"/><circle cx="575.9" cy="228.7" r="1.6"/><circle cx="575.1" cy="231.2" r="1.6"/><circle cx="583.1" cy="228.7" r="1.6"/><circle cx="581.1" cy="231.9" r="1.6"/><circle cx="588" cy="227.7" r="1.6"/><circle cx="596.9" cy="228.7" r="1.6"/><circle cx="596.1" cy="229.9" r="1.6"/><circle cx="565.8" cy="230.4" r="1.6"/><circle cx="568.4" cy="233.7" r="1.6"/><circle cx="570.9" cy="235.4" r="1.6"/><circle cx="567" cy="236.2" r="1.6"/><circle cx="572.6" cy="237.9" r="1.6"/><circle cx="585.1" cy="235.1" r="1.6"/><circle cx="591" cy="233.7" r="1.6"/><circle cx="592.7" cy="235.4" r="1.6"/><circle cx="595.2" cy="235.4" r="1.6"/><circle cx="590.2" cy="237.1" r="1.6"/><circle cx="607.3" cy="235.1" r="1.6"/><circle cx="617.9" cy="235.1" r="1.6"/><circle cx="620.4" cy="235.4" r="1.6"/><circle cx="635.2" cy="235.4" r="1.6"/><circle cx="638.9" cy="234.6" r="1.6"/><circle cx="645.1" cy="236.7" r="1.6"/><circle cx="624.6" cy="239.1" r="1.6"/><circle cx="632.1" cy="240.4" r="1.6"/><circle cx="633" cy="239.6" r="1.6"/><circle cx="641.4" cy="239.6" r="1.6"/><circle cx="653.1" cy="240.8" r="1.6"/><circle cx="664.9" cy="241.3" r="1.6"/><circle cx="671.6" cy="241.8" r="1.6"/><circle cx="610.3" cy="238.8" r="1.6"/><circle cx="599.4" cy="240.1" r="1.6"/><circle cx="605.3" cy="240.1" r="1.6"/><circle cx="471.8" cy="185" r="1.6"/><circle cx="476" cy="183.7" r="1.6"/><circle cx="486.1" cy="180.8" r="1.6"/><circle cx="488.6" cy="185.9" r="1.6"/><circle cx="493.6" cy="185.9" r="1.6"/><circle cx="494.5" cy="188.1" r="1.6"/><circle cx="486.1" cy="188.1" r="1.6"/><circle cx="500.4" cy="187.6" r="1.6"/><circle cx="496.7" cy="191.4" r="1.6"/><circle cx="498.7" cy="193.1" r="1.6"/><circle cx="519.7" cy="186.7" r="1.6"/><circle cx="522.2" cy="186.4" r="1.6"/><circle cx="533.4" cy="184.2" r="1.6"/><circle cx="537.3" cy="186.4" r="1.6"/><circle cx="549.9" cy="189.2" r="1.6"/><circle cx="450.8" cy="185.9" r="1.6"/><circle cx="463.4" cy="192.1" r="1.6"/><circle cx="472.3" cy="193.1" r="1.6"/><circle cx="476" cy="194.8" r="1.6"/><circle cx="520.5" cy="191.8" r="1.6"/><circle cx="533.4" cy="195.9" r="1.6"/><circle cx="536.8" cy="194.8" r="1.6"/><circle cx="453.4" cy="198.5" r="1.6"/><circle cx="459.7" cy="199.8" r="1.6"/><circle cx="461.8" cy="201.5" r="1.6"/><circle cx="465.9" cy="201.5" r="1.6"/><circle cx="460.9" cy="205.2" r="1.6"/><circle cx="464.3" cy="204.3" r="1.6"/><circle cx="463.4" cy="206.9" r="1.6"/><circle cx="471.8" cy="200.1" r="1.6"/><circle cx="472.2" cy="206.5" r="1.6"/><circle cx="481.9" cy="197.6" r="1.6"/><circle cx="482.7" cy="202.7" r="1.6"/><circle cx="484.4" cy="201.5" r="1.6"/><circle cx="481.9" cy="204.3" r="1.6"/><circle cx="483.6" cy="196.8" r="1.6"/><circle cx="500" cy="199.8" r="1.6"/><circle cx="507.1" cy="198.1" r="1.6"/><circle cx="509.6" cy="196.5" r="1.6"/><circle cx="520.5" cy="198.8" r="1.6"/><circle cx="528.4" cy="202.2" r="1.6"/><circle cx="526.4" cy="201.5" r="1.6"/><circle cx="541.5" cy="197.6" r="1.6"/><circle cx="544.8" cy="196.8" r="1.6"/><circle cx="558.3" cy="199.3" r="1.6"/><circle cx="451.3" cy="206.5" r="1.6"/><circle cx="474.8" cy="207.7" r="1.6"/><circle cx="499.9" cy="208.5" r="1.6"/><circle cx="513.8" cy="207.7" r="1.6"/><circle cx="521.3" cy="206" r="1.6"/><circle cx="523.9" cy="208.5" r="1.6"/><circle cx="524.7" cy="211.9" r="1.6"/><circle cx="520.5" cy="213.6" r="1.6"/><circle cx="531.8" cy="207.7" r="1.6"/><circle cx="528.9" cy="211.1" r="1.6"/><circle cx="542.3" cy="209.4" r="1.6"/><circle cx="540.6" cy="212.7" r="1.6"/><circle cx="557.4" cy="206" r="1.6"/><circle cx="558.3" cy="207.7" r="1.6"/><circle cx="460.1" cy="211.1" r="1.6"/><circle cx="462.6" cy="213.2" r="1.6"/><circle cx="473.5" cy="213.6" r="1.6"/><circle cx="473.5" cy="220.3" r="1.6"/><circle cx="477.7" cy="216.1" r="1.6"/><circle cx="481.1" cy="216.9" r="1.6"/><circle cx="483.6" cy="216.1" r="1.6"/><circle cx="486.1" cy="215.3" r="1.6"/><circle cx="488.6" cy="216.6" r="1.6"/><circle cx="491.1" cy="214.4" r="1.6"/><circle cx="495.3" cy="214.4" r="1.6"/><circle cx="508.8" cy="212.7" r="1.6"/><circle cx="510.4" cy="215.3" r="1.6"/><circle cx="518" cy="215.3" r="1.6"/><circle cx="528.1" cy="217.8" r="1.6"/><circle cx="527.2" cy="220.3" r="1.6"/><circle cx="533.9" cy="215.3" r="1.6"/><circle cx="546" cy="215.6" r="1.6"/><circle cx="553.2" cy="213.6" r="1.6"/><circle cx="555.8" cy="215.3" r="1.6"/><circle cx="561.6" cy="216.1" r="1.6"/><circle cx="451.7" cy="216.1" r="1.6"/><circle cx="450.8" cy="219.4" r="1.6"/><circle cx="456.7" cy="217.8" r="1.6"/><circle cx="471.8" cy="220.3" r="1.6"/><circle cx="475.2" cy="220" r="1.6"/><circle cx="486.1" cy="219.4" r="1.6"/><circle cx="493.6" cy="218.6" r="1.6"/><circle cx="498.7" cy="218.3" r="1.6"/><circle cx="503.7" cy="218.3" r="1.6"/><circle cx="542" cy="221.1" r="1.6"/><circle cx="544" cy="222" r="1.6"/><circle cx="551.6" cy="220.3" r="1.6"/><circle cx="550.7" cy="222.8" r="1.6"/><circle cx="557.4" cy="221.1" r="1.6"/><circle cx="417.8" cy="242.2" r="1.6"/><circle cx="430.4" cy="238" r="1.6"/><circle cx="424.8" cy="236.1" r="1.6"/><circle cx="399.2" cy="241.8" r="1.6"/><circle cx="402.6" cy="239.8" r="1.6"/><circle cx="429.3" cy="242.1" r="1.6"/><circle cx="388.9" cy="240.3" r="1.6"/><circle cx="426.9" cy="239.8" r="1.6"/><circle cx="425.8" cy="242.1" r="1.6"/><circle cx="410.5" cy="238.8" r="1.6"/><circle cx="402.8" cy="240.3" r="1.6"/><circle cx="401.6" cy="242" r="1.6"/><circle cx="400.5" cy="241.5" r="1.6"/><circle cx="409.4" cy="241.7" r="1.6"/><circle cx="412.2" cy="239.9" r="1.6"/><circle cx="414.4" cy="239.2" r="1.6"/><circle cx="435" cy="241.5" r="1.6"/><circle cx="425.6" cy="240.5" r="1.6"/><circle cx="417.6" cy="241.5" r="1.6"/><circle cx="434.7" cy="242.3" r="1.6"/><circle cx="398.7" cy="237.8" r="1.6"/><circle cx="396.1" cy="242.1" r="1.6"/><circle cx="417.2" cy="237.9" r="1.6"/><circle cx="390.7" cy="240.3" r="1.6"/><circle cx="390.3" cy="241.3" r="1.6"/><circle cx="412.6" cy="235.4" r="1.6"/><circle cx="410.4" cy="242" r="1.6"/><circle cx="431.3" cy="241.8" r="1.6"/><circle cx="418" cy="241.8" r="1.6"/><circle cx="412.6" cy="240.9" r="1.6"/><circle cx="411.8" cy="241.1" r="1.6"/><circle cx="400.2" cy="239.1" r="1.6"/><circle cx="389.2" cy="241.4" r="1.6"/><circle cx="397.6" cy="240.5" r="1.6"/><circle cx="420.9" cy="242" r="1.6"/><circle cx="398" cy="238.3" r="1.6"/><circle cx="405.9" cy="241.5" r="1.6"/><circle cx="388.9" cy="241.8" r="1.6"/><circle cx="427.3" cy="241.8" r="1.6"/><circle cx="395.9" cy="240.8" r="1.6"/><circle cx="401.1" cy="240.5" r="1.6"/><circle cx="429.6" cy="236.8" r="1.6"/><circle cx="412.4" cy="240.8" r="1.6"/><circle cx="428.1" cy="241.5" r="1.6"/><circle cx="418.4" cy="241.4" r="1.6"/><circle cx="535.1" cy="241" r="1.6"/><circle cx="447.5" cy="240.1" r="1.6"/><circle cx="508.1" cy="241.4" r="1.6"/><circle cx="503.6" cy="240.2" r="1.6"/><circle cx="552.5" cy="240.9" r="1.6"/><circle cx="483.8" cy="241.6" r="1.6"/><circle cx="515.7" cy="237.3" r="1.6"/><circle cx="443.2" cy="240.5" r="1.6"/><circle cx="487.4" cy="238.4" r="1.6"/><circle cx="478.7" cy="239" r="1.6"/><circle cx="455.4" cy="241.5" r="1.6"/><circle cx="545.1" cy="237.1" r="1.6"/><circle cx="486.3" cy="239.2" r="1.6"/><circle cx="567" cy="241.8" r="1.6"/><circle cx="514.6" cy="233.9" r="1.6"/><circle cx="516.7" cy="241.1" r="1.6"/><circle cx="521.1" cy="237.4" r="1.6"/><circle cx="526.3" cy="238" r="1.6"/><circle cx="455.5" cy="240.2" r="1.6"/><circle cx="494.5" cy="238.1" r="1.6"/><circle cx="467.5" cy="241.1" r="1.6"/><circle cx="489.4" cy="241.4" r="1.6"/><circle cx="448.2" cy="236.5" r="1.6"/><circle cx="565.5" cy="237" r="1.6"/><circle cx="464.1" cy="242" r="1.6"/><circle cx="525.6" cy="241.5" r="1.6"/><circle cx="475.6" cy="238.1" r="1.6"/><circle cx="552.9" cy="240" r="1.6"/><circle cx="524.4" cy="240.9" r="1.6"/><circle cx="452.9" cy="241" r="1.6"/><circle cx="549" cy="241.9" r="1.6"/><circle cx="562.4" cy="239" r="1.6"/><circle cx="556.9" cy="239.7" r="1.6"/><circle cx="511.9" cy="242.1" r="1.6"/><circle cx="454.8" cy="239.9" r="1.6"/><circle cx="461.1" cy="240.4" r="1.6"/><circle cx="560.1" cy="238.8" r="1.6"/><circle cx="509.6" cy="241" r="1.6"/><circle cx="459.5" cy="241.3" r="1.6"/><circle cx="554.2" cy="241.1" r="1.6"/><circle cx="521.6" cy="239" r="1.6"/><circle cx="511.9" cy="236.9" r="1.6"/><circle cx="485.9" cy="240.4" r="1.6"/><circle cx="490.5" cy="242.1" r="1.6"/><circle cx="467.4" cy="241.3" r="1.6"/><circle cx="440.3" cy="236.7" r="1.6"/><circle cx="553.2" cy="241.1" r="1.6"/><circle cx="498.2" cy="240.3" r="1.6"/><circle cx="508.9" cy="239.4" r="1.6"/><circle cx="478.6" cy="234.8" r="1.6"/><circle cx="536.4" cy="241.2" r="1.6"/><circle cx="438.6" cy="239.3" r="1.6"/><circle cx="485.3" cy="241" r="1.6"/><circle cx="439.3" cy="240.3" r="1.6"/><circle cx="451.7" cy="242.3" r="1.6"/><circle cx="565.4" cy="239.8" r="1.6"/><circle cx="523.8" cy="233.2" r="1.6"/><circle cx="492.9" cy="241.9" r="1.6"/><circle cx="505.7" cy="240.5" r="1.6"/><circle cx="552.7" cy="240" r="1.6"/><circle cx="481.5" cy="236.7" r="1.6"/><circle cx="514.7" cy="238.5" r="1.6"/><circle cx="527.3" cy="241.3" r="1.6"/><circle cx="483.1" cy="241.3" r="1.6"/><circle cx="505.1" cy="239.7" r="1.6"/><circle cx="538.2" cy="240.5" r="1.6"/><circle cx="557.6" cy="242.2" r="1.6"/><circle cx="455.5" cy="239.3" r="1.6"/><circle cx="560.9" cy="235.8" r="1.6"/><circle cx="435.9" cy="241.8" r="1.6"/><circle cx="536.6" cy="242.1" r="1.6"/><circle cx="544.3" cy="241.6" r="1.6"/><circle cx="453.6" cy="237.9" r="1.6"/><circle cx="491.6" cy="242.2" r="1.6"/><circle cx="545" cy="237.4" r="1.6"/><circle cx="437.1" cy="239.1" r="1.6"/><circle cx="519.8" cy="241.7" r="1.6"/><circle cx="542" cy="241.6" r="1.6"/><circle cx="504.3" cy="239.7" r="1.6"/><circle cx="532.9" cy="238.8" r="1.6"/><circle cx="465.7" cy="237.3" r="1.6"/><circle cx="461.9" cy="239.3" r="1.6"/><circle cx="484.1" cy="241.2" r="1.6"/><circle cx="459.4" cy="240.1" r="1.6"/><circle cx="481.8" cy="237.3" r="1.6"/><circle cx="562.9" cy="238.9" r="1.6"/><circle cx="512.4" cy="240.7" r="1.6"/><circle cx="481" cy="240.7" r="1.6"/><circle cx="471.8" cy="240.7" r="1.6"/><circle cx="563.4" cy="238.9" r="1.6"/><circle cx="495" cy="241.5" r="1.6"/><circle cx="567.2" cy="238.7" r="1.6"/><circle cx="504.6" cy="239.3" r="1.6"/><circle cx="505.4" cy="239.5" r="1.6"/><circle cx="555.9" cy="241.6" r="1.6"/><circle cx="535.2" cy="240" r="1.6"/><circle cx="513.4" cy="240.1" r="1.6"/><circle cx="492.6" cy="241.4" r="1.6"/><circle cx="553.4" cy="239.2" r="1.6"/><circle cx="490.6" cy="242.1" r="1.6"/><circle cx="559.4" cy="241.1" r="1.6"/><circle cx="444.5" cy="239.3" r="1.6"/><circle cx="493.1" cy="240.2" r="1.6"/><circle cx="505.1" cy="240.8" r="1.6"/><circle cx="563.2" cy="238.3" r="1.6"/><circle cx="469" cy="234.9" r="1.6"/><circle cx="543.7" cy="235.7" r="1.6"/><circle cx="526.3" cy="242.1" r="1.6"/><circle cx="531.7" cy="241.6" r="1.6"/><circle cx="520" cy="237.2" r="1.6"/><circle cx="566" cy="241.9" r="1.6"/><circle cx="480" cy="239.1" r="1.6"/><circle cx="488.8" cy="241.9" r="1.6"/><circle cx="462.5" cy="240.8" r="1.6"/><circle cx="442" cy="239.6" r="1.6"/><circle cx="463.9" cy="236.8" r="1.6"/><circle cx="558.5" cy="237.5" r="1.6"/><circle cx="548.3" cy="240.1" r="1.6"/><circle cx="450.3" cy="239.8" r="1.6"/><circle cx="516.5" cy="241.8" r="1.6"/><circle cx="499.7" cy="241.6" r="1.6"/><circle cx="515.3" cy="240.3" r="1.6"/><circle cx="524" cy="241.2" r="1.6"/><circle cx="476.5" cy="240.6" r="1.6"/><circle cx="564.6" cy="239.4" r="1.6"/><circle cx="497.9" cy="241.1" r="1.6"/><circle cx="519.8" cy="238.9" r="1.6"/><circle cx="520.7" cy="238.6" r="1.6"/><circle cx="460" cy="242.2" r="1.6"/><circle cx="443.5" cy="239.9" r="1.6"/><circle cx="490.6" cy="241.1" r="1.6"/><circle cx="538.1" cy="241.6" r="1.6"/><circle cx="545" cy="240" r="1.6"/><circle cx="533.5" cy="237" r="1.6"/><circle cx="450.4" cy="238.9" r="1.6"/><circle cx="558.2" cy="241" r="1.6"/><circle cx="543.2" cy="233.9" r="1.6"/><circle cx="553.4" cy="239.1" r="1.6"/><circle cx="505.7" cy="241.9" r="1.6"/><circle cx="558.5" cy="239.9" r="1.6"/><circle cx="441.5" cy="235.5" r="1.6"/><circle cx="439.3" cy="241.5" r="1.6"/><circle cx="437.9" cy="241.1" r="1.6"/><circle cx="469.2" cy="238.3" r="1.6"/><circle cx="468.7" cy="240.7" r="1.6"/><circle cx="460.4" cy="240.1" r="1.6"/><circle cx="511.5" cy="240.6" r="1.6"/><circle cx="440.4" cy="235.9" r="1.6"/><circle cx="514.7" cy="236.6" r="1.6"/><circle cx="457.6" cy="240.4" r="1.6"/><circle cx="526.5" cy="240" r="1.6"/><circle cx="438" cy="235.6" r="1.6"/><circle cx="477" cy="240.2" r="1.6"/><circle cx="561.5" cy="241.7" r="1.6"/><circle cx="507.7" cy="240.9" r="1.6"/><circle cx="544.5" cy="240" r="1.6"/><circle cx="523.8" cy="241.2" r="1.6"/><circle cx="517.4" cy="236.7" r="1.6"/><circle cx="461" cy="241.1" r="1.6"/><circle cx="512.5" cy="239.8" r="1.6"/><circle cx="440.5" cy="241.2" r="1.6"/><circle cx="543.1" cy="240.3" r="1.6"/><circle cx="564.5" cy="241.2" r="1.6"/><circle cx="550.2" cy="234.7" r="1.6"/><circle cx="442" cy="238.3" r="1.6"/><circle cx="480.8" cy="241.5" r="1.6"/><circle cx="478" cy="238.6" r="1.6"/><circle cx="450.4" cy="235.7" r="1.6"/><circle cx="519.6" cy="242.2" r="1.6"/><circle cx="542.6" cy="236.3" r="1.6"/><circle cx="477.4" cy="239.3" r="1.6"/><circle cx="551.4" cy="238.3" r="1.6"/><circle cx="542.5" cy="240.6" r="1.6"/><circle cx="452.6" cy="242" r="1.6"/><circle cx="538.4" cy="235.7" r="1.6"/><circle cx="554" cy="241.2" r="1.6"/><circle cx="461.8" cy="237.3" r="1.6"/><circle cx="512.4" cy="241.3" r="1.6"/><circle cx="521.2" cy="241.9" r="1.6"/><circle cx="517.2" cy="241.3" r="1.6"/><circle cx="448.2" cy="242.1" r="1.6"/><circle cx="524.2" cy="240.5" r="1.6"/><circle cx="520.3" cy="240.3" r="1.6"/><circle cx="546.1" cy="236.7" r="1.6"/><circle cx="543.4" cy="242.2" r="1.6"/><circle cx="479.2" cy="236.2" r="1.6"/><circle cx="532.4" cy="235.7" r="1.6"/><circle cx="552" cy="237.9" r="1.6"/><circle cx="555.4" cy="240" r="1.6"/><circle cx="456.9" cy="240.1" r="1.6"/><circle cx="438.8" cy="237.5" r="1.6"/><circle cx="522.8" cy="242.1" r="1.6"/><circle cx="464.1" cy="242.1" r="1.6"/><circle cx="511.1" cy="241.3" r="1.6"/><circle cx="562.4" cy="242" r="1.6"/><circle cx="486.3" cy="240.9" r="1.6"/><circle cx="469.2" cy="242" r="1.6"/><circle cx="496.7" cy="238.7" r="1.6"/><circle cx="523.7" cy="241.1" r="1.6"/><circle cx="448.8" cy="234.7" r="1.6"/><circle cx="486.4" cy="242.1" r="1.6"/><circle cx="453.2" cy="241.5" r="1.6"/><circle cx="524.4" cy="240.5" r="1.6"/><circle cx="547" cy="240" r="1.6"/><circle cx="485.9" cy="238.6" r="1.6"/><circle cx="485.2" cy="241.6" r="1.6"/><circle cx="507.8" cy="239.3" r="1.6"/><circle cx="464.2" cy="241.4" r="1.6"/><circle cx="468.5" cy="241.9" r="1.6"/><circle cx="479.6" cy="237.2" r="1.6"/><circle cx="496.8" cy="240.1" r="1.6"/><circle cx="446.2" cy="242" r="1.6"/><circle cx="536.5" cy="240.6" r="1.6"/><circle cx="513.2" cy="237.4" r="1.6"/><circle cx="475.6" cy="235.8" r="1.6"/><circle cx="445.6" cy="240.1" r="1.6"/><circle cx="538" cy="240.5" r="1.6"/><circle cx="452.8" cy="240.1" r="1.6"/><circle cx="453.1" cy="240.3" r="1.6"/><circle cx="452.8" cy="237.7" r="1.6"/><circle cx="446.1" cy="237.1" r="1.6"/><circle cx="557.2" cy="239.8" r="1.6"/><circle cx="471.5" cy="241.3" r="1.6"/><circle cx="476.5" cy="240.1" r="1.6"/><circle cx="547.3" cy="240.5" r="1.6"/><circle cx="518.7" cy="239.3" r="1.6"/><circle cx="460.4" cy="235.4" r="1.6"/><circle cx="493.7" cy="241.1" r="1.6"/><circle cx="554.2" cy="237.3" r="1.6"/><circle cx="485.7" cy="240.2" r="1.6"/><circle cx="530.9" cy="241.1" r="1.6"/><circle cx="448.2" cy="241.3" r="1.6"/><circle cx="533.1" cy="237" r="1.6"/><circle cx="539.7" cy="241.6" r="1.6"/><circle cx="546.4" cy="237.2" r="1.6"/><circle cx="526" cy="239.8" r="1.6"/><circle cx="485.1" cy="239.3" r="1.6"/><circle cx="443.8" cy="238.3" r="1.6"/><circle cx="505" cy="240.9" r="1.6"/><circle cx="537.2" cy="240.2" r="1.6"/><circle cx="460.9" cy="235.8" r="1.6"/><circle cx="471" cy="240" r="1.6"/><circle cx="507.4" cy="241.9" r="1.6"/><circle cx="536" cy="241.1" r="1.6"/><circle cx="555.9" cy="241.9" r="1.6"/><circle cx="452.1" cy="240.2" r="1.6"/><circle cx="460" cy="242.2" r="1.6"/><circle cx="542.8" cy="238.2" r="1.6"/><circle cx="522" cy="240.9" r="1.6"/><circle cx="532.3" cy="241" r="1.6"/><circle cx="569.4" cy="240.9" r="1.6"/><circle cx="561.7" cy="237.5" r="1.6"/><circle cx="548.7" cy="241.8" r="1.6"/><circle cx="539.8" cy="241.4" r="1.6"/><circle cx="488.4" cy="241.6" r="1.6"/><circle cx="521.5" cy="237.8" r="1.6"/><circle cx="460" cy="236.9" r="1.6"/><circle cx="537.5" cy="242" r="1.6"/><circle cx="537.2" cy="238.3" r="1.6"/><circle cx="532.3" cy="236.6" r="1.6"/><circle cx="495.1" cy="241.4" r="1.6"/><circle cx="486.1" cy="242" r="1.6"/><circle cx="491.7" cy="239.9" r="1.6"/><circle cx="439.7" cy="242" r="1.6"/><circle cx="548.9" cy="240.2" r="1.6"/><circle cx="508.2" cy="240.5" r="1.6"/><circle cx="487.4" cy="239.9" r="1.6"/><circle cx="509" cy="242.2" r="1.6"/><circle cx="532.4" cy="239.1" r="1.6"/><circle cx="486.6" cy="233.8" r="1.6"/><circle cx="547" cy="239" r="1.6"/><circle cx="559" cy="240.8" r="1.6"/><circle cx="487.4" cy="239.5" r="1.6"/><circle cx="453.8" cy="239.7" r="1.6"/><circle cx="537.6" cy="238.5" r="1.6"/><circle cx="568.9" cy="240.7" r="1.6"/><circle cx="455.1" cy="242.2" r="1.6"/><circle cx="531.2" cy="239.1" r="1.6"/><circle cx="546.3" cy="239.1" r="1.6"/><circle cx="559.1" cy="240.7" r="1.6"/><circle cx="451.8" cy="235.3" r="1.6"/><circle cx="447.6" cy="237.5" r="1.6"/><circle cx="568.2" cy="240.9" r="1.6"/><circle cx="450.9" cy="241.8" r="1.6"/><circle cx="459" cy="241.7" r="1.6"/><circle cx="512.6" cy="236.4" r="1.6"/><circle cx="495.3" cy="240.8" r="1.6"/><circle cx="536.2" cy="239.7" r="1.6"/><circle cx="460.9" cy="240.5" r="1.6"/><circle cx="558.3" cy="242" r="1.6"/><circle cx="464.4" cy="239.4" r="1.6"/><circle cx="538.8" cy="240.2" r="1.6"/><circle cx="444.3" cy="240.4" r="1.6"/><circle cx="498.9" cy="238.4" r="1.6"/><circle cx="439.6" cy="239.6" r="1.6"/><circle cx="477.5" cy="237.5" r="1.6"/><circle cx="477.2" cy="241.6" r="1.6"/><circle cx="532.1" cy="238.5" r="1.6"/><circle cx="496.5" cy="240.7" r="1.6"/><circle cx="442.8" cy="239.2" r="1.6"/><circle cx="569.2" cy="240.3" r="1.6"/><circle cx="554.9" cy="241.8" r="1.6"/><circle cx="558.6" cy="234.1" r="1.6"/><circle cx="468.4" cy="239.8" r="1.6"/><circle cx="488.3" cy="240.6" r="1.6"/><circle cx="465.8" cy="242" r="1.6"/><circle cx="452" cy="241.2" r="1.6"/><circle cx="439.6" cy="238.3" r="1.6"/><circle cx="503" cy="240.7" r="1.6"/><circle cx="451.8" cy="236.5" r="1.6"/><circle cx="458.9" cy="241.4" r="1.6"/><circle cx="551.1" cy="242.2" r="1.6"/><circle cx="500.4" cy="241.9" r="1.6"/><circle cx="459.9" cy="237.9" r="1.6"/><circle cx="525.4" cy="241.3" r="1.6"/><circle cx="471" cy="239.6" r="1.6"/><circle cx="506.1" cy="238.7" r="1.6"/><circle cx="473.3" cy="239.4" r="1.6"/><circle cx="504.7" cy="235.4" r="1.6"/><circle cx="519.8" cy="239.7" r="1.6"/><circle cx="507.4" cy="241.5" r="1.6"/><circle cx="488.5" cy="241.8" r="1.6"/><circle cx="541.7" cy="236.4" r="1.6"/><circle cx="552.8" cy="239.2" r="1.6"/><circle cx="459.4" cy="241.9" r="1.6"/><circle cx="453.6" cy="240.8" r="1.6"/><circle cx="450.4" cy="239.8" r="1.6"/><circle cx="567.1" cy="240.9" r="1.6"/><circle cx="562" cy="241.3" r="1.6"/><circle cx="466.3" cy="241.4" r="1.6"/><circle cx="623.3" cy="241.9" r="1.6"/><circle cx="581.3" cy="241.9" r="1.6"/><circle cx="597.7" cy="238.5" r="1.6"/><circle cx="597.2" cy="242.2" r="1.6"/><circle cx="620.2" cy="239.4" r="1.6"/><circle cx="572.1" cy="239.1" r="1.6"/><circle cx="587.2" cy="241.5" r="1.6"/><circle cx="602.9" cy="240.1" r="1.6"/><circle cx="573.5" cy="238.8" r="1.6"/><circle cx="582.9" cy="241.7" r="1.6"/><circle cx="595.5" cy="238.8" r="1.6"/><circle cx="618.4" cy="238.5" r="1.6"/><circle cx="611.8" cy="234.6" r="1.6"/><circle cx="615.5" cy="235.6" r="1.6"/><circle cx="611.8" cy="241.6" r="1.6"/><circle cx="608.8" cy="239.8" r="1.6"/><circle cx="616.6" cy="241.9" r="1.6"/><circle cx="607.4" cy="242" r="1.6"/><circle cx="610.4" cy="237.2" r="1.6"/><circle cx="586.5" cy="237.9" r="1.6"/><circle cx="579.1" cy="238.8" r="1.6"/><circle cx="611.5" cy="242.1" r="1.6"/><circle cx="579" cy="237.6" r="1.6"/><circle cx="620.5" cy="241.7" r="1.6"/><circle cx="602.7" cy="240.1" r="1.6"/><circle cx="588" cy="241.4" r="1.6"/><circle cx="621.4" cy="239.9" r="1.6"/><circle cx="578.4" cy="242.2" r="1.6"/><circle cx="598.2" cy="240.7" r="1.6"/><circle cx="574.9" cy="240.6" r="1.6"/><circle cx="623" cy="235.2" r="1.6"/><circle cx="601.5" cy="239.3" r="1.6"/><circle cx="614.1" cy="240" r="1.6"/><circle cx="585.4" cy="241.8" r="1.6"/><circle cx="614" cy="242.1" r="1.6"/><circle cx="608.6" cy="238.9" r="1.6"/><circle cx="605.3" cy="240.8" r="1.6"/><circle cx="622.2" cy="240" r="1.6"/><circle cx="593.7" cy="241.7" r="1.6"/><circle cx="592.7" cy="238.4" r="1.6"/><circle cx="608" cy="237.7" r="1.6"/><circle cx="615.8" cy="238.4" r="1.6"/><circle cx="588.3" cy="240.2" r="1.6"/><circle cx="606.7" cy="238.7" r="1.6"/><circle cx="581.4" cy="238.1" r="1.6"/><circle cx="600.2" cy="242" r="1.6"/><circle cx="612.2" cy="238" r="1.6"/><circle cx="573.4" cy="241.1" r="1.6"/><circle cx="609.9" cy="239.2" r="1.6"/><circle cx="570.7" cy="238.4" r="1.6"/><circle cx="622.6" cy="240.9" r="1.6"/><circle cx="595.7" cy="241" r="1.6"/><circle cx="592.4" cy="239.9" r="1.6"/><circle cx="609.5" cy="240.2" r="1.6"/><circle cx="598.7" cy="241.1" r="1.6"/><circle cx="610.1" cy="242.2" r="1.6"/><circle cx="574.5" cy="240.5" r="1.6"/><circle cx="600.8" cy="240.7" r="1.6"/><circle cx="600.6" cy="242.1" r="1.6"/><circle cx="621.2" cy="242.2" r="1.6"/><circle cx="572" cy="240.4" r="1.6"/><circle cx="594.8" cy="240.9" r="1.6"/><circle cx="604.6" cy="238.6" r="1.6"/><circle cx="600.2" cy="241.6" r="1.6"/><circle cx="573.9" cy="239.4" r="1.6"/><circle cx="602.5" cy="238.3" r="1.6"/><circle cx="582.1" cy="240.4" r="1.6"/><circle cx="580.6" cy="234.8" r="1.6"/><circle cx="618.2" cy="239.6" r="1.6"/><circle cx="580.7" cy="239.6" r="1.6"/><circle cx="594.9" cy="241.2" r="1.6"/><circle cx="611.2" cy="236.2" r="1.6"/><circle cx="608.8" cy="236.7" r="1.6"/><circle cx="600.3" cy="235.8" r="1.6"/><circle cx="614.3" cy="239.1" r="1.6"/><circle cx="595.5" cy="240.1" r="1.6"/><circle cx="604" cy="239.7" r="1.6"/><circle cx="614.9" cy="239.9" r="1.6"/><circle cx="607.2" cy="242.1" r="1.6"/><circle cx="605.2" cy="240.8" r="1.6"/><circle cx="592.2" cy="240.1" r="1.6"/><circle cx="600.6" cy="242" r="1.6"/><circle cx="591.7" cy="238.9" r="1.6"/><circle cx="610.8" cy="234.8" r="1.6"/><circle cx="590.8" cy="240.2" r="1.6"/><circle cx="595.5" cy="238.9" r="1.6"/><circle cx="611.5" cy="239.1" r="1.6"/><circle cx="597.6" cy="241.5" r="1.6"/><circle cx="588.5" cy="239.4" r="1.6"/><circle cx="615.4" cy="241.1" r="1.6"/><circle cx="460" cy="239.3" r="1.6"/><circle cx="542.3" cy="239.3" r="1.6"/><circle cx="531.7" cy="237.1" r="1.6"/><circle cx="471.7" cy="242.2" r="1.6"/><circle cx="518.9" cy="240.7" r="1.6"/><circle cx="398.5" cy="238.9" r="1.6"/><circle cx="461.5" cy="241.8" r="1.6"/><circle cx="545.1" cy="238.8" r="1.6"/><circle cx="495.2" cy="242.2" r="1.6"/><circle cx="491.4" cy="242" r="1.6"/><circle cx="510.3" cy="240.4" r="1.6"/><circle cx="512.6" cy="238.8" r="1.6"/><circle cx="495.9" cy="241.2" r="1.6"/><circle cx="467" cy="241.5" r="1.6"/><circle cx="424.9" cy="241.8" r="1.6"/><circle cx="444.3" cy="242" r="1.6"/><circle cx="444.3" cy="239.3" r="1.6"/><circle cx="468.8" cy="238.9" r="1.6"/><circle cx="569.7" cy="241" r="1.6"/><circle cx="454.9" cy="240.8" r="1.6"/><circle cx="471.8" cy="239.6" r="1.6"/><circle cx="458.3" cy="241.1" r="1.6"/><circle cx="495.6" cy="241" r="1.6"/><circle cx="560.6" cy="240.9" r="1.6"/><circle cx="550.2" cy="235.6" r="1.6"/><circle cx="459.3" cy="241.1" r="1.6"/><circle cx="439.7" cy="236.4" r="1.6"/><circle cx="549.3" cy="239.1" r="1.6"/><circle cx="480" cy="240.1" r="1.6"/><circle cx="514" cy="241" r="1.6"/><circle cx="405.4" cy="240.9" r="1.6"/><circle cx="546.2" cy="242.1" r="1.6"/><circle cx="447.9" cy="242.1" r="1.6"/><circle cx="480.1" cy="241.4" r="1.6"/><circle cx="427.5" cy="236.3" r="1.6"/><circle cx="466.9" cy="241.6" r="1.6"/><circle cx="539.3" cy="235" r="1.6"/><circle cx="539.2" cy="241.1" r="1.6"/><circle cx="476.4" cy="239.9" r="1.6"/><circle cx="528.6" cy="239.9" r="1.6"/><circle cx="473.7" cy="241.6" r="1.6"/><circle cx="458.6" cy="241.4" r="1.6"/><circle cx="489.2" cy="237.6" r="1.6"/><circle cx="428.1" cy="236.5" r="1.6"/><circle cx="448.5" cy="238.8" r="1.6"/><circle cx="517.8" cy="235.5" r="1.6"/><circle cx="529.1" cy="239.1" r="1.6"/><circle cx="402.4" cy="237" r="1.6"/><circle cx="522.4" cy="238.8" r="1.6"/><circle cx="537.4" cy="240.1" r="1.6"/><circle cx="471.4" cy="237.8" r="1.6"/><circle cx="403.4" cy="241.3" r="1.6"/><circle cx="513.6" cy="241.2" r="1.6"/><circle cx="436" cy="242.1" r="1.6"/><circle cx="506.5" cy="240.4" r="1.6"/><circle cx="459.2" cy="236.5" r="1.6"/><circle cx="505.4" cy="241.7" r="1.6"/><circle cx="438.2" cy="241.9" r="1.6"/><circle cx="476.9" cy="239.1" r="1.6"/><circle cx="485.5" cy="240.4" r="1.6"/><circle cx="436.5" cy="238.4" r="1.6"/><circle cx="434.4" cy="239.1" r="1.6"/><circle cx="407.1" cy="235.9" r="1.6"/><circle cx="449.4" cy="233.5" r="1.6"/><circle cx="433.8" cy="232.3" r="1.6"/><circle cx="416.7" cy="238.8" r="1.6"/><circle cx="416.2" cy="236.2" r="1.6"/><circle cx="437.2" cy="242.2" r="1.6"/><circle cx="402.5" cy="238.3" r="1.6"/><circle cx="429.2" cy="232.1" r="1.6"/><circle cx="433.7" cy="241" r="1.6"/><circle cx="422.1" cy="233" r="1.6"/><circle cx="442.6" cy="235.4" r="1.6"/><circle cx="419.3" cy="239.2" r="1.6"/><circle cx="419.1" cy="234" r="1.6"/><circle cx="408.7" cy="239.2" r="1.6"/><circle cx="445.2" cy="232.8" r="1.6"/><circle cx="410.6" cy="241.4" r="1.6"/><circle cx="432.4" cy="241" r="1.6"/><circle cx="415.9" cy="234.3" r="1.6"/><circle cx="446.2" cy="237.5" r="1.6"/><circle cx="446.9" cy="240.7" r="1.6"/><circle cx="394.1" cy="236.8" r="1.6"/><circle cx="449.6" cy="239.1" r="1.6"/><circle cx="427.2" cy="236.5" r="1.6"/><circle cx="396.6" cy="234.4" r="1.6"/><circle cx="421" cy="233.2" r="1.6"/><circle cx="395.2" cy="241.7" r="1.6"/><circle cx="423.9" cy="236" r="1.6"/><circle cx="403" cy="231.8" r="1.6"/><circle cx="559.9" cy="238.1" r="1.6"/><circle cx="565.6" cy="241.6" r="1.6"/><circle cx="553.3" cy="235.8" r="1.6"/><circle cx="567.5" cy="241.8" r="1.6"/><circle cx="562.2" cy="234.3" r="1.6"/><circle cx="567.8" cy="235" r="1.6"/><circle cx="565.9" cy="239.8" r="1.6"/><circle cx="567.4" cy="241.2" r="1.6"/><circle cx="552.5" cy="235" r="1.6"/><circle cx="564.6" cy="238.3" r="1.6"/><circle cx="555.1" cy="241.3" r="1.6"/><circle cx="556.4" cy="238.2" r="1.6"/><circle cx="557.4" cy="240.3" r="1.6"/><circle cx="562.3" cy="238.9" r="1.6"/><circle cx="563" cy="237" r="1.6"/><circle cx="568.6" cy="234.7" r="1.6"/><circle cx="551.7" cy="235.7" r="1.6"/><circle cx="555" cy="241" r="1.6"/><circle cx="558.1" cy="238.3" r="1.6"/><circle cx="566.5" cy="238.2" r="1.6"/><circle cx="561.6" cy="234.1" r="1.6"/><circle cx="560.9" cy="241.6" r="1.6"/><circle cx="565.4" cy="238.1" r="1.6"/><circle cx="563.5" cy="234.7" r="1.6"/><circle cx="556.8" cy="239" r="1.6"/><circle cx="553.1" cy="240.1" r="1.6"/><circle cx="560" cy="237.7" r="1.6"/><circle cx="567.6" cy="239.7" r="1.6"/><circle cx="562.5" cy="234.6" r="1.6"/><circle cx="552.5" cy="241.6" r="1.6"/><circle cx="559.6" cy="240.6" r="1.6"/><circle cx="558.5" cy="241.6" r="1.6"/><circle cx="562.2" cy="236.4" r="1.6"/><circle cx="562.3" cy="239.9" r="1.6"/><circle cx="568.9" cy="234.8" r="1.6"/><circle cx="557.7" cy="234.9" r="1.6"/><circle cx="559" cy="234.5" r="1.6"/><circle cx="562.7" cy="240.2" r="1.6"/><circle cx="567.8" cy="242.3" r="1.6"/><circle cx="564.4" cy="239.1" r="1.6"/><circle cx="560.1" cy="234.3" r="1.6"/><circle cx="566.4" cy="236" r="1.6"/><circle cx="560.4" cy="241.8" r="1.6"/><circle cx="569.2" cy="236.5" r="1.6"/><circle cx="556.7" cy="234.7" r="1.6"/><circle cx="553.8" cy="234.3" r="1.6"/><circle cx="566.7" cy="236.4" r="1.6"/><circle cx="556.9" cy="235.2" r="1.6"/><circle cx="567" cy="235.3" r="1.6"/><circle cx="562.7" cy="239.3" r="1.6"/><circle cx="461.4" cy="231" r="1.6"/><circle cx="533.7" cy="225.8" r="1.6"/><circle cx="465.7" cy="230.9" r="1.6"/><circle cx="494.2" cy="222.3" r="1.6"/><circle cx="564.5" cy="230.9" r="1.6"/><circle cx="514.4" cy="229.6" r="1.6"/><circle cx="510" cy="230.3" r="1.6"/><circle cx="559" cy="227.7" r="1.6"/><circle cx="482.7" cy="224.4" r="1.6"/><circle cx="564.9" cy="231.9" r="1.6"/><circle cx="554.9" cy="228" r="1.6"/><circle cx="491.8" cy="232.2" r="1.6"/><circle cx="487.6" cy="226.5" r="1.6"/><circle cx="464.6" cy="222.3" r="1.6"/><circle cx="555.3" cy="229.1" r="1.6"/><circle cx="471.4" cy="230.3" r="1.6"/><circle cx="451" cy="234.8" r="1.6"/><circle cx="552.4" cy="234.3" r="1.6"/><circle cx="518.8" cy="221.9" r="1.6"/><circle cx="527.3" cy="232.6" r="1.6"/><circle cx="534.3" cy="224.9" r="1.6"/><circle cx="454.9" cy="231.5" r="1.6"/><circle cx="460.6" cy="226.7" r="1.6"/><circle cx="507.5" cy="225.8" r="1.6"/><circle cx="455.8" cy="228.3" r="1.6"/><circle cx="508" cy="229" r="1.6"/><circle cx="534.7" cy="231.4" r="1.6"/><circle cx="525.6" cy="230.6" r="1.6"/><circle cx="520.9" cy="231.2" r="1.6"/><circle cx="455.3" cy="226.8" r="1.6"/><circle cx="477.2" cy="231.2" r="1.6"/><circle cx="553.2" cy="226.2" r="1.6"/><circle cx="464.2" cy="230.1" r="1.6"/><circle cx="511.3" cy="227.9" r="1.6"/><circle cx="455.8" cy="229.4" r="1.6"/><circle cx="558" cy="221.3" r="1.6"/><circle cx="469.7" cy="228.5" r="1.6"/><circle cx="497.2" cy="224.3" r="1.6"/><circle cx="512.9" cy="226.8" r="1.6"/><circle cx="532.6" cy="222.1" r="1.6"/><circle cx="557.8" cy="230.9" r="1.6"/><circle cx="534.7" cy="234.4" r="1.6"/><circle cx="489.9" cy="226.3" r="1.6"/><circle cx="458.7" cy="222.6" r="1.6"/><circle cx="531.4" cy="230.3" r="1.6"/><circle cx="561.8" cy="222.9" r="1.6"/><circle cx="452" cy="234.4" r="1.6"/><circle cx="539.1" cy="222.8" r="1.6"/><circle cx="470.3" cy="226.4" r="1.6"/><circle cx="502.9" cy="228.4" r="1.6"/><circle cx="510.1" cy="222.8" r="1.6"/><circle cx="520.7" cy="225.8" r="1.6"/><circle cx="563.8" cy="225.1" r="1.6"/><circle cx="529.1" cy="231.7" r="1.6"/><circle cx="495.1" cy="235.8" r="1.6"/><circle cx="532.2" cy="226.4" r="1.6"/><circle cx="503.7" cy="232.9" r="1.6"/><circle cx="497.5" cy="223.1" r="1.6"/><circle cx="492.1" cy="229.7" r="1.6"/><circle cx="506.7" cy="227.5" r="1.6"/><circle cx="482.3" cy="225.3" r="1.6"/><circle cx="477.8" cy="233.3" r="1.6"/><circle cx="467.1" cy="232.2" r="1.6"/><circle cx="500.6" cy="223" r="1.6"/><circle cx="483.7" cy="225.4" r="1.6"/><circle cx="546.2" cy="233.3" r="1.6"/><circle cx="547.5" cy="235.9" r="1.6"/><circle cx="489.5" cy="230.2" r="1.6"/><circle cx="521.2" cy="234.1" r="1.6"/><circle cx="553.8" cy="235.8" r="1.6"/><circle cx="491.3" cy="232.1" r="1.6"/><circle cx="513.8" cy="230.7" r="1.6"/><circle cx="501" cy="224.3" r="1.6"/><circle cx="524.8" cy="226.6" r="1.6"/><circle cx="560.4" cy="230.4" r="1.6"/><circle cx="465.9" cy="234.9" r="1.6"/><circle cx="561" cy="225.5" r="1.6"/><circle cx="526.6" cy="226.9" r="1.6"/><circle cx="541.5" cy="221.3" r="1.6"/><circle cx="523" cy="231.5" r="1.6"/><circle cx="550.1" cy="227.7" r="1.6"/><circle cx="487.5" cy="233" r="1.6"/><circle cx="531.4" cy="224.5" r="1.6"/><circle cx="480.4" cy="230.9" r="1.6"/><circle cx="508.5" cy="231.1" r="1.6"/><circle cx="528.4" cy="228" r="1.6"/><circle cx="473.1" cy="223.8" r="1.6"/><circle cx="457" cy="227" r="1.6"/><circle cx="541" cy="232.2" r="1.6"/><circle cx="543" cy="223.8" r="1.6"/><circle cx="386.3" cy="233.4" r="1.6"/><circle cx="412.4" cy="235.9" r="1.6"/><circle cx="396.4" cy="229.7" r="1.6"/><circle cx="436" cy="232.1" r="1.6"/><circle cx="437.2" cy="228.7" r="1.6"/><circle cx="446.2" cy="231.1" r="1.6"/><circle cx="438.8" cy="235.6" r="1.6"/><circle cx="425.3" cy="228.7" r="1.6"/><circle cx="393.1" cy="234.1" r="1.6"/><circle cx="437.6" cy="234.9" r="1.6"/><circle cx="431" cy="232.1" r="1.6"/><circle cx="432.3" cy="234.4" r="1.6"/><circle cx="428.8" cy="231.5" r="1.6"/><circle cx="438.1" cy="230.8" r="1.6"/><circle cx="400.8" cy="232" r="1.6"/><circle cx="427.1" cy="229.6" r="1.6"/><circle cx="416.2" cy="230.5" r="1.6"/><circle cx="403.6" cy="230.4" r="1.6"/><circle cx="402.9" cy="235.9" r="1.6"/><circle cx="390.9" cy="230.7" r="1.6"/><circle cx="414.4" cy="229.8" r="1.6"/><circle cx="405.8" cy="235.5" r="1.6"/><circle cx="409.5" cy="229.1" r="1.6"/><circle cx="439.6" cy="235.7" r="1.6"/><circle cx="427.7" cy="234.8" r="1.6"/><circle cx="603.8" cy="233.9" r="1.6"/><circle cx="590.7" cy="234.3" r="1.6"/><circle cx="576.8" cy="233.7" r="1.6"/><circle cx="571.4" cy="235.4" r="1.6"/><circle cx="571.2" cy="237.9" r="1.6"/><circle cx="585.9" cy="236.4" r="1.6"/><circle cx="589.4" cy="230.6" r="1.6"/><circle cx="620.4" cy="234" r="1.6"/><circle cx="597.2" cy="231.9" r="1.6"/><circle cx="624.4" cy="230.8" r="1.6"/><circle cx="608.3" cy="231.6" r="1.6"/><circle cx="573.8" cy="232" r="1.6"/><circle cx="598.2" cy="237.7" r="1.6"/><circle cx="574.6" cy="236" r="1.6"/><circle cx="567.4" cy="236.8" r="1.6"/><circle cx="621.6" cy="235.6" r="1.6"/><circle cx="585.3" cy="232.5" r="1.6"/><circle cx="576.4" cy="233.1" r="1.6"/><circle cx="571.1" cy="233.5" r="1.6"/><circle cx="604.1" cy="232.3" r="1.6"/><circle cx="592.7" cy="233.4" r="1.6"/><circle cx="565.7" cy="236.2" r="1.6"/><circle cx="607.9" cy="230.6" r="1.6"/><circle cx="580.4" cy="232.2" r="1.6"/><circle cx="611.8" cy="233.8" r="1.6"/></g>
<clipPath id="cp0"><rect x="374" y="5.8" width="306" height="236.5"/></clipPath>
<path d="M374 242.3 L378 241.6 L381.9 240.8 L385.9 240.1 L389.8 239.4 L393.8 238.6 L397.7 237.9 L401.7 237.2 L405.6 236.4 L409.6 235.7 L413.5 235 L417.5 234.3 L421.4 233.5 L425.4 232.8 L429.3 232.1 L433.3 231.4 L437.2 230.7 L441.2 230 L445.1 229.2 L449.1 228.5 L453 227.8 L457 227.1 L460.9 226.4 L464.9 225.7 L468.8 225 L472.8 224.3 L476.7 223.6 L480.7 222.9 L484.6 222.2 L488.6 221.5 L492.5 220.8 L496.5 220.1 L500.4 219.5 L504.4 218.8 L508.3 218.1 L512.3 217.4 L516.2 216.7 L520.2 216 L524.1 215.4 L528.1 214.7 L532 214 L536 213.3 L539.9 212.7 L543.9 212 L547.8 211.3 L551.8 210.6 L555.7 210 L559.7 209.3 L563.6 208.7 L567.6 208 L571.5 207.3 L575.5 206.7 L579.4 206 L583.4 205.4 L587.3 204.7 L591.3 204 L595.2 203.4 L599.2 202.7 L603.2 202.1 L607.1 201.5 L611.1 200.8 L615 200.2 L619 199.5 L622.9 198.9 L626.9 198.2 L630.8 197.6 L634.8 197 L638.7 196.3 L642.7 195.7 L646.6 195.1 L650.6 194.4 L654.5 193.8 L658.5 193.2 L662.4 192.5 L666.4 191.9 L670.3 191.3 L674.3 190.7 L678.2 190.1 L682.2 189.4 L686.1 188.8" fill="none" stroke="#ff0000" stroke-width="1.5" clip-path="url(#cp0)"/>
<rect x="374" y="5.8" width="306" height="236.5" fill="none" stroke="#222" stroke-width="1"/>
<path d="M374 242.3v-4M374 5.8v4M435.2 242.3v-4M435.2 5.8v4M496.4 242.3v-4M496.4 5.8v4M557.6 242.3v-4M557.6 5.8v4M618.8 242.3v-4M618.8 5.8v4M680 242.3v-4M680 5.8v4M374 242.3h4M680 242.3h-4M374 195h4M680 195h-4M374 147.7h4M680 147.7h-4M374 100.4h4M680 100.4h-4M374 53.1h4M680 53.1h-4M374 5.8h4M680 5.8h-4" stroke="#222" stroke-width="0.8" fill="none"/>
<text x="373.2" y="253.7" font-size="12.8" text-anchor="middle" font-family="Liberation Serif" fill="#666">0</text>
<text x="434.4" y="253.7" font-size="12.8" text-anchor="middle" font-family="Liberation Serif" fill="#666">5</text>
<text x="495.6" y="253.7" font-size="12.8" text-anchor="middle" font-family="Liberation Serif" fill="#666" textLength="11.4" lengthAdjust="spacingAndGlyphs">10</text>
<text x="556.8" y="253.7" font-size="12.8" text-anchor="middle" font-family="Liberation Serif" fill="#666" textLength="11.4" lengthAdjust="spacingAndGlyphs">15</text>
<text x="618" y="253.7" font-size="12.8" text-anchor="middle" font-family="Liberation Serif" fill="#666" textLength="11.4" lengthAdjust="spacingAndGlyphs">20</text>
<text x="679.2" y="253.7" font-size="12.8" text-anchor="middle" font-family="Liberation Serif" fill="#666" textLength="11.4" lengthAdjust="spacingAndGlyphs">25</text>
<text x="371.3" y="244.6" font-size="12.8" text-anchor="end" font-family="Liberation Serif" fill="#666" textLength="14.6" lengthAdjust="spacingAndGlyphs">0.0</text>
<text x="371.3" y="197.2" font-size="12.8" text-anchor="end" font-family="Liberation Serif" fill="#666" textLength="14.6" lengthAdjust="spacingAndGlyphs">0.2</text>
<text x="371.3" y="149.9" font-size="12.8" text-anchor="end" font-family="Liberation Serif" fill="#666" textLength="14.6" lengthAdjust="spacingAndGlyphs">0.4</text>
<text x="371.3" y="102.6" font-size="12.8" text-anchor="end" font-family="Liberation Serif" fill="#666" textLength="14.6" lengthAdjust="spacingAndGlyphs">0.6</text>
<text x="371.3" y="55.3" font-size="12.8" text-anchor="end" font-family="Liberation Serif" fill="#666" textLength="14.6" lengthAdjust="spacingAndGlyphs">0.8</text>
<text x="371.3" y="8.1" font-size="12.8" text-anchor="end" font-family="Liberation Serif" fill="#666" textLength="14.6" lengthAdjust="spacingAndGlyphs">1.0</text>
<text x="446.5" y="269" font-size="12.2" text-anchor="start" font-family="Liberation Sans" fill="#000">Euclidean Distance,</text>
<path d="M559.3 266.1 l1.5 -0.9 l3.6 6.9 l4.6 -14.1 h36.6" fill="none" stroke="#666" stroke-width="0.85" stroke-linejoin="miter"/>
<g fill="#666" font-family="Liberation Serif"><text x="570.3" y="269" font-size="14" font-style="italic">p</text><text x="575.3" y="264.3" font-size="8.2">2</text><text x="575.6" y="273" font-size="8.2">1</text><text x="587.7" y="270.2" font-size="15" text-anchor="middle">+</text><text x="595.3" y="269" font-size="14" font-style="italic">p</text><text x="600.6" y="264.3" font-size="8.2">2</text><text x="600.6" y="273" font-size="8.2">2</text></g>
<text x="0" y="0" font-size="12.2" text-anchor="middle" font-family="Liberation Sans" transform="translate(349.7 124.1) rotate(-90)">1 - Correlation [normalized]</text>
<clipPath id="cq323"><rect x="374" y="329.7" width="306" height="236.5"/></clipPath>
<g fill="#0000ff" stroke="#000" stroke-width="0.7" clip-path="url(#cq323)"><circle cx="521.9" cy="338.4" r="1.45"/><circle cx="451.1" cy="355.8" r="1.45"/><circle cx="454.4" cy="356.3" r="1.45"/><circle cx="483.4" cy="358.7" r="1.45"/><circle cx="498" cy="358.5" r="1.45"/><circle cx="500.9" cy="354.2" r="1.45"/><circle cx="512" cy="353.6" r="1.45"/><circle cx="484.1" cy="364.7" r="1.45"/><circle cx="489" cy="365.4" r="1.45"/><circle cx="505.8" cy="362.5" r="1.45"/><circle cx="525.9" cy="364.7" r="1.45"/><circle cx="517" cy="371" r="1.45"/><circle cx="518.7" cy="372.1" r="1.45"/><circle cx="466.7" cy="377.7" r="1.45"/><circle cx="468.9" cy="376.6" r="1.45"/><circle cx="482.3" cy="376.6" r="1.45"/><circle cx="483.4" cy="377.5" r="1.45"/><circle cx="490.1" cy="377" r="1.45"/><circle cx="492.4" cy="376.6" r="1.45"/><circle cx="499.8" cy="379.9" r="1.45"/><circle cx="505.8" cy="377.7" r="1.45"/><circle cx="511.4" cy="374.8" r="1.45"/><circle cx="517" cy="378.1" r="1.45"/><circle cx="521.4" cy="376.6" r="1.45"/><circle cx="525.9" cy="374.8" r="1.45"/><circle cx="423.1" cy="387.5" r="1.45"/><circle cx="425.4" cy="387.5" r="1.45"/><circle cx="432.1" cy="388.9" r="1.45"/><circle cx="433.9" cy="388.9" r="1.45"/><circle cx="439.4" cy="390" r="1.45"/><circle cx="447.7" cy="392" r="1.45"/><circle cx="434.3" cy="395.6" r="1.45"/><circle cx="439.9" cy="396.5" r="1.45"/><circle cx="442.1" cy="396" r="1.45"/><circle cx="461.1" cy="389.3" r="1.45"/><circle cx="462.2" cy="391.5" r="1.45"/><circle cx="474.5" cy="384.8" r="1.45"/><circle cx="475.6" cy="387.5" r="1.45"/><circle cx="479" cy="384.8" r="1.45"/><circle cx="485.7" cy="388.2" r="1.45"/><circle cx="494.6" cy="386" r="1.45"/><circle cx="496.8" cy="387.5" r="1.45"/><circle cx="500.9" cy="384.4" r="1.45"/><circle cx="503.6" cy="388.2" r="1.45"/><circle cx="529.7" cy="330.1" r="1.45"/><circle cx="542.2" cy="333" r="1.45"/><circle cx="566.8" cy="332.4" r="1.45"/><circle cx="592.9" cy="331.9" r="1.45"/><circle cx="633.5" cy="331.2" r="1.45"/><circle cx="653.2" cy="331.2" r="1.45"/><circle cx="555.6" cy="336.4" r="1.45"/><circle cx="540" cy="339.7" r="1.45"/><circle cx="548.2" cy="339.3" r="1.45"/><circle cx="586.2" cy="339.1" r="1.45"/><circle cx="590.7" cy="339.7" r="1.45"/><circle cx="600.7" cy="336.8" r="1.45"/><circle cx="616.8" cy="339.5" r="1.45"/><circle cx="613" cy="342.8" r="1.45"/><circle cx="610.8" cy="345.8" r="1.45"/><circle cx="609.2" cy="348" r="1.45"/><circle cx="562.3" cy="345.3" r="1.45"/><circle cx="568.3" cy="345.1" r="1.45"/><circle cx="572.8" cy="347.3" r="1.45"/><circle cx="577.3" cy="347.3" r="1.45"/><circle cx="596.2" cy="346.2" r="1.45"/><circle cx="547.1" cy="348.4" r="1.45"/><circle cx="623" cy="352.5" r="1.45"/><circle cx="542.2" cy="351.8" r="1.45"/><circle cx="534.8" cy="354.7" r="1.45"/><circle cx="538.2" cy="358" r="1.45"/><circle cx="552" cy="354.7" r="1.45"/><circle cx="553.1" cy="354" r="1.45"/><circle cx="562.3" cy="352" r="1.45"/><circle cx="563.2" cy="354.7" r="1.45"/><circle cx="558.3" cy="358" r="1.45"/><circle cx="582.8" cy="357.4" r="1.45"/><circle cx="603.4" cy="357.4" r="1.45"/><circle cx="528.1" cy="362.5" r="1.45"/><circle cx="557.2" cy="362.5" r="1.45"/><circle cx="588.4" cy="365.4" r="1.45"/><circle cx="535.9" cy="368.1" r="1.45"/><circle cx="539.3" cy="370.3" r="1.45"/><circle cx="542.2" cy="364.7" r="1.45"/><circle cx="543.8" cy="368.1" r="1.45"/><circle cx="547.1" cy="370.3" r="1.45"/><circle cx="548.7" cy="371.4" r="1.45"/><circle cx="561.6" cy="369.9" r="1.45"/><circle cx="565" cy="369.7" r="1.45"/><circle cx="575.7" cy="370.3" r="1.45"/><circle cx="578.8" cy="368.8" r="1.45"/><circle cx="580.2" cy="369.7" r="1.45"/><circle cx="595.1" cy="373" r="1.45"/><circle cx="610.8" cy="378.1" r="1.45"/><circle cx="611.4" cy="377.7" r="1.45"/><circle cx="590.7" cy="378.6" r="1.45"/><circle cx="529.2" cy="374.8" r="1.45"/><circle cx="530.4" cy="377" r="1.45"/><circle cx="528.1" cy="379.3" r="1.45"/><circle cx="537.1" cy="382.6" r="1.45"/><circle cx="542.6" cy="383.7" r="1.45"/><circle cx="547.1" cy="381.5" r="1.45"/><circle cx="550.5" cy="379.9" r="1.45"/><circle cx="561.6" cy="379.3" r="1.45"/><circle cx="563.2" cy="381.5" r="1.45"/><circle cx="569.4" cy="378.6" r="1.45"/><circle cx="573.9" cy="380.4" r="1.45"/><circle cx="558.3" cy="384.4" r="1.45"/><circle cx="558.7" cy="388.2" r="1.45"/><circle cx="566.1" cy="388.9" r="1.45"/><circle cx="571.7" cy="387.5" r="1.45"/><circle cx="575.7" cy="386.6" r="1.45"/><circle cx="578.8" cy="386.6" r="1.45"/><circle cx="598.9" cy="386.4" r="1.45"/><circle cx="591.8" cy="391.1" r="1.45"/><circle cx="533.7" cy="388.2" r="1.45"/><circle cx="537.7" cy="387.5" r="1.45"/><circle cx="531.5" cy="392.7" r="1.45"/><circle cx="535.9" cy="392" r="1.45"/><circle cx="540.8" cy="391.1" r="1.45"/><circle cx="545.3" cy="389.8" r="1.45"/><circle cx="548.9" cy="390.4" r="1.45"/><circle cx="562.7" cy="396" r="1.45"/><circle cx="568.3" cy="394.2" r="1.45"/><circle cx="570.6" cy="393.3" r="1.45"/><circle cx="585.1" cy="397.8" r="1.45"/><circle cx="529.2" cy="396" r="1.45"/><circle cx="539.3" cy="397.1" r="1.45"/><circle cx="544.9" cy="398.2" r="1.45"/><circle cx="530.4" cy="399.5" r="1.45"/><circle cx="534.8" cy="399.9" r="1.45"/><circle cx="529.2" cy="405.1" r="1.45"/><circle cx="531.9" cy="405.7" r="1.45"/><circle cx="537.1" cy="405.1" r="1.45"/><circle cx="530.4" cy="410.6" r="1.45"/><circle cx="535.9" cy="408.8" r="1.45"/><circle cx="529.7" cy="413.3" r="1.45"/><circle cx="539.3" cy="396.8" r="1.45"/><circle cx="544.9" cy="397.7" r="1.45"/><circle cx="546" cy="401.7" r="1.45"/><circle cx="547.5" cy="403.5" r="1.45"/><circle cx="549.3" cy="404.4" r="1.45"/><circle cx="545.3" cy="410.2" r="1.45"/><circle cx="558.3" cy="401.3" r="1.45"/><circle cx="557.8" cy="405.7" r="1.45"/><circle cx="562.3" cy="397.2" r="1.45"/><circle cx="566.1" cy="401.3" r="1.45"/><circle cx="562.7" cy="407.3" r="1.45"/><circle cx="566.1" cy="408.4" r="1.45"/><circle cx="571.7" cy="402.8" r="1.45"/><circle cx="573.9" cy="400.6" r="1.45"/><circle cx="577.3" cy="401.3" r="1.45"/><circle cx="580.6" cy="399.9" r="1.45"/><circle cx="581.3" cy="405.1" r="1.45"/><circle cx="585.5" cy="397.7" r="1.45"/><circle cx="531" cy="420.2" r="1.45"/><circle cx="534.8" cy="419.1" r="1.45"/><circle cx="546.7" cy="424" r="1.45"/><circle cx="537.1" cy="441.9" r="1.45"/><circle cx="556" cy="441.5" r="1.45"/><circle cx="572.8" cy="439.7" r="1.45"/><circle cx="580.6" cy="439.7" r="1.45"/><circle cx="449.5" cy="446.6" r="1.45"/><circle cx="467.8" cy="448.1" r="1.45"/><circle cx="470" cy="446.6" r="1.45"/><circle cx="490.1" cy="445.2" r="1.45"/><circle cx="492.4" cy="446.6" r="1.45"/><circle cx="505.8" cy="446.6" r="1.45"/><circle cx="511.4" cy="440.3" r="1.45"/><circle cx="516.9" cy="440.8" r="1.45"/><circle cx="519.2" cy="441.4" r="1.45"/><circle cx="513.6" cy="445.9" r="1.45"/><circle cx="514.7" cy="444.8" r="1.45"/><circle cx="416.4" cy="452.6" r="1.45"/><circle cx="408.3" cy="456.2" r="1.45"/><circle cx="401.9" cy="403.2" r="1.45"/><circle cx="418.6" cy="407.3" r="1.45"/><circle cx="423.3" cy="409.8" r="1.45"/><circle cx="397.3" cy="405.7" r="1.45"/><circle cx="402.7" cy="403.9" r="1.45"/><circle cx="438.1" cy="406.3" r="1.45"/><circle cx="399.2" cy="404.9" r="1.45"/><circle cx="401.9" cy="402.6" r="1.45"/><circle cx="439" cy="405.6" r="1.45"/><circle cx="424.2" cy="410.1" r="1.45"/><circle cx="412.7" cy="404.7" r="1.45"/><circle cx="419.2" cy="404.7" r="1.45"/><circle cx="426.1" cy="399.2" r="1.45"/><circle cx="408.5" cy="412.8" r="1.45"/><circle cx="402.3" cy="410" r="1.45"/><circle cx="431.7" cy="410" r="1.45"/><circle cx="426.4" cy="415.3" r="1.45"/><circle cx="419.2" cy="405.3" r="1.45"/><circle cx="433" cy="401.7" r="1.45"/><circle cx="420.9" cy="409.8" r="1.45"/><circle cx="440.5" cy="395.2" r="1.45"/><circle cx="405.3" cy="403.2" r="1.45"/><circle cx="421.1" cy="402.5" r="1.45"/><circle cx="417.9" cy="404" r="1.45"/><circle cx="412" cy="401.8" r="1.45"/><circle cx="422.8" cy="413" r="1.45"/><circle cx="406.7" cy="404" r="1.45"/><circle cx="432.4" cy="401.3" r="1.45"/><circle cx="435.3" cy="415.5" r="1.45"/><circle cx="401.9" cy="405.6" r="1.45"/><circle cx="443.2" cy="413.6" r="1.45"/><circle cx="506" cy="397" r="1.45"/><circle cx="477.3" cy="401.3" r="1.45"/><circle cx="451.1" cy="405.5" r="1.45"/><circle cx="498.3" cy="386.7" r="1.45"/><circle cx="456.4" cy="389.8" r="1.45"/><circle cx="446.1" cy="406.3" r="1.45"/><circle cx="487.5" cy="391.7" r="1.45"/><circle cx="510.4" cy="384.3" r="1.45"/><circle cx="443.4" cy="399.1" r="1.45"/><circle cx="503.4" cy="384.9" r="1.45"/><circle cx="456" cy="405.2" r="1.45"/><circle cx="448.5" cy="398.2" r="1.45"/><circle cx="442.7" cy="390.6" r="1.45"/><circle cx="463.9" cy="395.2" r="1.45"/><circle cx="497.4" cy="402.2" r="1.45"/><circle cx="479.4" cy="394" r="1.45"/><circle cx="507.1" cy="381.9" r="1.45"/><circle cx="458.1" cy="399.4" r="1.45"/><circle cx="465.6" cy="405.6" r="1.45"/><circle cx="461.2" cy="390.1" r="1.45"/><circle cx="516.8" cy="405.9" r="1.45"/><circle cx="513.9" cy="388" r="1.45"/><circle cx="467.6" cy="401" r="1.45"/><circle cx="474.9" cy="409.8" r="1.45"/><circle cx="465.6" cy="391.7" r="1.45"/><circle cx="498.9" cy="392.7" r="1.45"/><circle cx="444.4" cy="411.5" r="1.45"/><circle cx="446.5" cy="399.4" r="1.45"/><circle cx="472.5" cy="403.8" r="1.45"/><circle cx="460.2" cy="416.2" r="1.45"/><circle cx="506.5" cy="401.6" r="1.45"/><circle cx="498.5" cy="393.6" r="1.45"/><circle cx="483.4" cy="393" r="1.45"/><circle cx="492.3" cy="395.6" r="1.45"/><circle cx="494.7" cy="396.4" r="1.45"/><circle cx="501.5" cy="391" r="1.45"/><circle cx="512.8" cy="395.7" r="1.45"/><circle cx="452.9" cy="394.4" r="1.45"/><circle cx="489.6" cy="396.3" r="1.45"/><circle cx="452.4" cy="400.8" r="1.45"/><circle cx="475.5" cy="395.3" r="1.45"/><circle cx="502" cy="405.8" r="1.45"/><circle cx="510.3" cy="401.2" r="1.45"/><circle cx="499.9" cy="381.1" r="1.45"/><circle cx="444.1" cy="401.5" r="1.45"/><circle cx="469" cy="403" r="1.45"/><circle cx="453.9" cy="400.2" r="1.45"/><circle cx="518.3" cy="397.5" r="1.45"/><circle cx="452.4" cy="400.9" r="1.45"/><circle cx="460.2" cy="406.9" r="1.45"/><circle cx="468.9" cy="398.5" r="1.45"/><circle cx="446" cy="414.2" r="1.45"/><circle cx="508.4" cy="380.9" r="1.45"/><circle cx="490.4" cy="402.2" r="1.45"/><circle cx="453.6" cy="414" r="1.45"/><circle cx="479.7" cy="401.1" r="1.45"/><circle cx="447.4" cy="405.9" r="1.45"/><circle cx="488.4" cy="396.4" r="1.45"/><circle cx="459.2" cy="410.5" r="1.45"/><circle cx="444.3" cy="401.1" r="1.45"/><circle cx="450.2" cy="377.9" r="1.45"/><circle cx="484.1" cy="409.7" r="1.45"/><circle cx="490.4" cy="394.4" r="1.45"/><circle cx="466.4" cy="403.5" r="1.45"/><circle cx="490.9" cy="395.6" r="1.45"/><circle cx="468.5" cy="415.2" r="1.45"/><circle cx="451.4" cy="411" r="1.45"/><circle cx="465.6" cy="397.6" r="1.45"/><circle cx="471.8" cy="400.6" r="1.45"/><circle cx="511.7" cy="376.9" r="1.45"/><circle cx="450.2" cy="408" r="1.45"/><circle cx="448" cy="402.1" r="1.45"/><circle cx="484.6" cy="372.7" r="1.45"/><circle cx="515.6" cy="401" r="1.45"/><circle cx="511.3" cy="403.1" r="1.45"/><circle cx="495.3" cy="397" r="1.45"/><circle cx="446.5" cy="403.8" r="1.45"/><circle cx="503.5" cy="386.9" r="1.45"/><circle cx="494" cy="395.7" r="1.45"/><circle cx="452.4" cy="408.2" r="1.45"/><circle cx="477.2" cy="397.8" r="1.45"/><circle cx="445.1" cy="386" r="1.45"/><circle cx="503.2" cy="382.8" r="1.45"/><circle cx="496.7" cy="422.8" r="1.45"/><circle cx="503.4" cy="396.7" r="1.45"/><circle cx="500" cy="404.3" r="1.45"/><circle cx="461.9" cy="396.9" r="1.45"/><circle cx="502.2" cy="397.2" r="1.45"/><circle cx="460.5" cy="387.3" r="1.45"/><circle cx="452" cy="396.3" r="1.45"/><circle cx="471.4" cy="393.2" r="1.45"/><circle cx="479.7" cy="397.6" r="1.45"/><circle cx="463.4" cy="401.8" r="1.45"/><circle cx="488" cy="394.8" r="1.45"/><circle cx="487.8" cy="386.3" r="1.45"/><circle cx="459.8" cy="397.9" r="1.45"/><circle cx="489.3" cy="400.9" r="1.45"/><circle cx="468.9" cy="390.6" r="1.45"/><circle cx="498" cy="394.4" r="1.45"/><circle cx="463.7" cy="402" r="1.45"/><circle cx="502.9" cy="403.1" r="1.45"/><circle cx="473.3" cy="404.8" r="1.45"/><circle cx="484" cy="404.1" r="1.45"/><circle cx="493.2" cy="423" r="1.45"/><circle cx="481.3" cy="390.2" r="1.45"/><circle cx="461.2" cy="397.5" r="1.45"/><circle cx="516.8" cy="395" r="1.45"/><circle cx="448.7" cy="396.1" r="1.45"/><circle cx="466.4" cy="397.6" r="1.45"/><circle cx="483.7" cy="395.3" r="1.45"/><circle cx="443.5" cy="420.1" r="1.45"/><circle cx="453.3" cy="404.4" r="1.45"/><circle cx="503" cy="390.1" r="1.45"/><circle cx="501.8" cy="379.9" r="1.45"/><circle cx="490.4" cy="380.7" r="1.45"/><circle cx="510.9" cy="379.3" r="1.45"/><circle cx="499.6" cy="407.1" r="1.45"/><circle cx="464.4" cy="418.3" r="1.45"/><circle cx="491" cy="392.2" r="1.45"/><circle cx="467.5" cy="400.7" r="1.45"/><circle cx="499.1" cy="386.8" r="1.45"/><circle cx="471" cy="401.5" r="1.45"/><circle cx="453.1" cy="401.2" r="1.45"/><circle cx="508.9" cy="409.4" r="1.45"/><circle cx="494.6" cy="392.6" r="1.45"/><circle cx="498.7" cy="400.3" r="1.45"/><circle cx="484.5" cy="395.4" r="1.45"/><circle cx="501.7" cy="391.1" r="1.45"/><circle cx="475.9" cy="400.7" r="1.45"/><circle cx="484.9" cy="395.6" r="1.45"/><circle cx="446.1" cy="403.6" r="1.45"/><circle cx="484.1" cy="391.8" r="1.45"/><circle cx="504.1" cy="390.2" r="1.45"/><circle cx="495.7" cy="401.8" r="1.45"/><circle cx="503.3" cy="401.1" r="1.45"/><circle cx="479.6" cy="384.3" r="1.45"/><circle cx="509.3" cy="395.2" r="1.45"/><circle cx="449.7" cy="396.3" r="1.45"/><circle cx="508.8" cy="390.3" r="1.45"/><circle cx="469.9" cy="405.1" r="1.45"/><circle cx="448.3" cy="408.4" r="1.45"/><circle cx="489.1" cy="396.6" r="1.45"/><circle cx="476.4" cy="397.5" r="1.45"/><circle cx="474.4" cy="394.9" r="1.45"/><circle cx="507" cy="407.3" r="1.45"/><circle cx="451.9" cy="407.1" r="1.45"/><circle cx="488.9" cy="398.6" r="1.45"/><circle cx="473.2" cy="387" r="1.45"/><circle cx="482.1" cy="419.3" r="1.45"/><circle cx="479.8" cy="395.4" r="1.45"/><circle cx="451.7" cy="406.7" r="1.45"/><circle cx="480.8" cy="395.3" r="1.45"/><circle cx="507.8" cy="399.4" r="1.45"/><circle cx="454.5" cy="400" r="1.45"/><circle cx="442.2" cy="393.7" r="1.45"/><circle cx="446.5" cy="401.1" r="1.45"/><circle cx="476.8" cy="396" r="1.45"/><circle cx="516.5" cy="388.9" r="1.45"/><circle cx="444.7" cy="408.7" r="1.45"/><circle cx="517.7" cy="386.8" r="1.45"/><circle cx="482.7" cy="400.5" r="1.45"/><circle cx="450.6" cy="408.7" r="1.45"/><circle cx="473.6" cy="400.4" r="1.45"/><circle cx="457.3" cy="403.9" r="1.45"/><circle cx="496.4" cy="389.4" r="1.45"/><circle cx="483.1" cy="399" r="1.45"/><circle cx="463.5" cy="405.5" r="1.45"/><circle cx="461" cy="390.8" r="1.45"/><circle cx="508.2" cy="384.4" r="1.45"/><circle cx="500.4" cy="383.5" r="1.45"/><circle cx="475" cy="394.8" r="1.45"/><circle cx="472.6" cy="401.1" r="1.45"/><circle cx="498.2" cy="400.2" r="1.45"/><circle cx="516.2" cy="395.8" r="1.45"/><circle cx="447.5" cy="396.9" r="1.45"/><circle cx="453.6" cy="401.9" r="1.45"/><circle cx="469.3" cy="412.5" r="1.45"/><circle cx="480.5" cy="399.4" r="1.45"/><circle cx="446.8" cy="413.1" r="1.45"/><circle cx="445.4" cy="402.5" r="1.45"/><circle cx="458.2" cy="411" r="1.45"/><circle cx="471.1" cy="410.7" r="1.45"/><circle cx="498.3" cy="395" r="1.45"/><circle cx="488.4" cy="398.5" r="1.45"/><circle cx="443.6" cy="414.8" r="1.45"/><circle cx="444.8" cy="398.7" r="1.45"/><circle cx="476.2" cy="381.6" r="1.45"/><circle cx="508.8" cy="409.3" r="1.45"/><circle cx="511.9" cy="374.9" r="1.45"/><circle cx="520.6" cy="385.8" r="1.45"/><circle cx="531.1" cy="411.2" r="1.45"/><circle cx="528.8" cy="390.5" r="1.45"/><circle cx="526.1" cy="402.6" r="1.45"/><circle cx="528" cy="363.7" r="1.45"/><circle cx="528.2" cy="382.3" r="1.45"/><circle cx="524.5" cy="389.6" r="1.45"/><circle cx="527" cy="392.8" r="1.45"/><circle cx="521.5" cy="419" r="1.45"/><circle cx="518.7" cy="384.7" r="1.45"/><circle cx="527.5" cy="372.4" r="1.45"/><circle cx="524.8" cy="399.1" r="1.45"/><circle cx="530.6" cy="382.1" r="1.45"/><circle cx="522" cy="383.8" r="1.45"/><circle cx="529.4" cy="407.5" r="1.45"/><circle cx="531.7" cy="379" r="1.45"/><circle cx="530.5" cy="374.6" r="1.45"/><circle cx="531.4" cy="387.1" r="1.45"/><circle cx="520.6" cy="392.6" r="1.45"/><circle cx="520.7" cy="383.5" r="1.45"/><circle cx="521.5" cy="408.4" r="1.45"/><circle cx="523.3" cy="390.4" r="1.45"/><circle cx="520" cy="380.8" r="1.45"/><circle cx="520.5" cy="405.4" r="1.45"/><circle cx="518.7" cy="381.8" r="1.45"/><circle cx="419.6" cy="565.2" r="1.45"/><circle cx="391.4" cy="565.8" r="1.45"/><circle cx="402.9" cy="565.3" r="1.45"/><circle cx="409.7" cy="565.4" r="1.45"/><circle cx="414.5" cy="565.6" r="1.45"/><circle cx="391.7" cy="565.1" r="1.45"/><circle cx="401.2" cy="565.6" r="1.45"/><circle cx="383.2" cy="565.9" r="1.45"/><circle cx="393.3" cy="565.5" r="1.45"/><circle cx="422.2" cy="565.4" r="1.45"/><circle cx="419" cy="566.1" r="1.45"/><circle cx="405.6" cy="566.2" r="1.45"/><circle cx="414.1" cy="565.9" r="1.45"/><circle cx="418.9" cy="565.5" r="1.45"/><circle cx="395.2" cy="565.6" r="1.45"/><circle cx="422.1" cy="565.6" r="1.45"/><circle cx="400" cy="565.8" r="1.45"/><circle cx="388" cy="566" r="1.45"/><circle cx="403.4" cy="565.8" r="1.45"/><circle cx="406" cy="565.4" r="1.45"/><circle cx="410.2" cy="565.2" r="1.45"/><circle cx="409.3" cy="565.8" r="1.45"/><circle cx="383.1" cy="566.1" r="1.45"/><circle cx="407.9" cy="565.2" r="1.45"/><circle cx="419.7" cy="565.8" r="1.45"/><circle cx="409.2" cy="565.5" r="1.45"/><circle cx="421.9" cy="565.4" r="1.45"/><circle cx="402.6" cy="565.4" r="1.45"/><circle cx="415.1" cy="566.2" r="1.45"/><circle cx="387.2" cy="566" r="1.45"/><circle cx="418.6" cy="565.4" r="1.45"/><circle cx="399.5" cy="565.9" r="1.45"/><circle cx="417.8" cy="566" r="1.45"/><circle cx="394.7" cy="565.3" r="1.45"/><circle cx="407.3" cy="565.9" r="1.45"/><circle cx="416.6" cy="565.8" r="1.45"/><circle cx="410.9" cy="566.2" r="1.45"/><circle cx="407.1" cy="565.8" r="1.45"/><circle cx="421.7" cy="565.9" r="1.45"/><circle cx="385" cy="566.1" r="1.45"/><circle cx="485.7" cy="563.4" r="1.45"/><circle cx="501.8" cy="564.6" r="1.45"/><circle cx="523.7" cy="563" r="1.45"/><circle cx="509.1" cy="562.1" r="1.45"/><circle cx="522" cy="564" r="1.45"/><circle cx="489.9" cy="562.5" r="1.45"/><circle cx="500.2" cy="565.7" r="1.45"/><circle cx="484.8" cy="565.3" r="1.45"/><circle cx="431.5" cy="565.5" r="1.45"/><circle cx="429.5" cy="565.7" r="1.45"/><circle cx="503" cy="565.3" r="1.45"/><circle cx="444.3" cy="561.6" r="1.45"/><circle cx="506.1" cy="559.3" r="1.45"/><circle cx="471.8" cy="563.6" r="1.45"/><circle cx="423.7" cy="565.1" r="1.45"/><circle cx="482.1" cy="561.4" r="1.45"/><circle cx="469.6" cy="565.5" r="1.45"/><circle cx="430.7" cy="566.1" r="1.45"/><circle cx="450.4" cy="564.6" r="1.45"/><circle cx="455.2" cy="561.8" r="1.45"/><circle cx="459.3" cy="565.7" r="1.45"/><circle cx="497.4" cy="561.4" r="1.45"/><circle cx="440.6" cy="564" r="1.45"/><circle cx="469.6" cy="561.8" r="1.45"/><circle cx="486.8" cy="562" r="1.45"/><circle cx="522.6" cy="562.7" r="1.45"/><circle cx="435.1" cy="565.1" r="1.45"/><circle cx="431.3" cy="566.2" r="1.45"/><circle cx="443.1" cy="564.5" r="1.45"/><circle cx="446.2" cy="564.3" r="1.45"/><circle cx="440.1" cy="563.7" r="1.45"/><circle cx="431" cy="562.2" r="1.45"/><circle cx="445" cy="563.2" r="1.45"/><circle cx="446.5" cy="563.4" r="1.45"/><circle cx="473.4" cy="561.4" r="1.45"/><circle cx="491.1" cy="565" r="1.45"/><circle cx="461.3" cy="564.2" r="1.45"/><circle cx="440.7" cy="561.4" r="1.45"/><circle cx="432.9" cy="560.8" r="1.45"/><circle cx="450.7" cy="564" r="1.45"/><circle cx="440.9" cy="563.2" r="1.45"/><circle cx="473.6" cy="562" r="1.45"/><circle cx="514.7" cy="560.9" r="1.45"/><circle cx="498.4" cy="561.5" r="1.45"/><circle cx="444.4" cy="562.5" r="1.45"/><circle cx="426.7" cy="564.2" r="1.45"/><circle cx="430.1" cy="563.8" r="1.45"/><circle cx="468.8" cy="565.2" r="1.45"/><circle cx="461.2" cy="563.8" r="1.45"/><circle cx="494.8" cy="566.1" r="1.45"/><circle cx="431.8" cy="563.6" r="1.45"/><circle cx="449.8" cy="562.5" r="1.45"/><circle cx="495.1" cy="564.7" r="1.45"/><circle cx="482.8" cy="561.2" r="1.45"/><circle cx="477.3" cy="558.7" r="1.45"/><circle cx="517.9" cy="557.8" r="1.45"/><circle cx="434.9" cy="564.1" r="1.45"/><circle cx="443.5" cy="565.9" r="1.45"/><circle cx="482.5" cy="563.8" r="1.45"/><circle cx="482.5" cy="558.6" r="1.45"/><circle cx="526.1" cy="564.9" r="1.45"/><circle cx="525.8" cy="559.7" r="1.45"/><circle cx="484.8" cy="561.3" r="1.45"/><circle cx="502.8" cy="563.2" r="1.45"/><circle cx="496.4" cy="564.8" r="1.45"/><circle cx="437" cy="564.9" r="1.45"/><circle cx="486.4" cy="563.6" r="1.45"/><circle cx="455.1" cy="565.5" r="1.45"/><circle cx="460.7" cy="563.4" r="1.45"/><circle cx="439.4" cy="564.6" r="1.45"/><circle cx="423.8" cy="566" r="1.45"/><circle cx="512.8" cy="560.9" r="1.45"/><circle cx="498.4" cy="562.5" r="1.45"/><circle cx="502.1" cy="554.6" r="1.45"/><circle cx="453.3" cy="564.9" r="1.45"/><circle cx="466.9" cy="559.4" r="1.45"/><circle cx="441.5" cy="565.1" r="1.45"/><circle cx="486.3" cy="565.5" r="1.45"/><circle cx="511.3" cy="562.3" r="1.45"/><circle cx="504.9" cy="564.1" r="1.45"/><circle cx="521.3" cy="564" r="1.45"/><circle cx="450.4" cy="564.8" r="1.45"/><circle cx="496.8" cy="565.9" r="1.45"/><circle cx="436.3" cy="565.7" r="1.45"/><circle cx="479.4" cy="563.9" r="1.45"/><circle cx="434.6" cy="563.7" r="1.45"/><circle cx="479.8" cy="565.7" r="1.45"/><circle cx="480" cy="562.8" r="1.45"/><circle cx="459.5" cy="564.3" r="1.45"/><circle cx="459.7" cy="564.7" r="1.45"/><circle cx="497.8" cy="564.2" r="1.45"/><circle cx="473.6" cy="557.5" r="1.45"/><circle cx="465.9" cy="565.4" r="1.45"/><circle cx="434.8" cy="563.9" r="1.45"/><circle cx="452.7" cy="560.8" r="1.45"/><circle cx="512.1" cy="566" r="1.45"/><circle cx="525.3" cy="564.9" r="1.45"/><circle cx="462.2" cy="563" r="1.45"/><circle cx="514.6" cy="558.5" r="1.45"/><circle cx="514.9" cy="564.8" r="1.45"/><circle cx="445.9" cy="565.3" r="1.45"/><circle cx="451.8" cy="566" r="1.45"/><circle cx="496.2" cy="561.4" r="1.45"/><circle cx="455.2" cy="563" r="1.45"/><circle cx="523.5" cy="565" r="1.45"/><circle cx="461.4" cy="561" r="1.45"/><circle cx="499.8" cy="565.6" r="1.45"/><circle cx="497.4" cy="559.2" r="1.45"/><circle cx="445.4" cy="563.6" r="1.45"/><circle cx="514.1" cy="566.1" r="1.45"/><circle cx="457.6" cy="563.5" r="1.45"/><circle cx="434.5" cy="563.8" r="1.45"/><circle cx="428.2" cy="563.2" r="1.45"/><circle cx="470.5" cy="565.3" r="1.45"/><circle cx="489.6" cy="564" r="1.45"/><circle cx="451.5" cy="562.2" r="1.45"/><circle cx="511.6" cy="562.1" r="1.45"/><circle cx="451.1" cy="565.5" r="1.45"/><circle cx="512.2" cy="565.8" r="1.45"/><circle cx="426.4" cy="566.1" r="1.45"/><circle cx="450.6" cy="563.1" r="1.45"/><circle cx="439.7" cy="564.7" r="1.45"/><circle cx="470.1" cy="564.5" r="1.45"/><circle cx="459.9" cy="566" r="1.45"/><circle cx="464.5" cy="565.4" r="1.45"/><circle cx="512.6" cy="565.1" r="1.45"/><circle cx="484" cy="558.3" r="1.45"/><circle cx="486.7" cy="563.8" r="1.45"/><circle cx="464" cy="565.4" r="1.45"/><circle cx="508" cy="564.9" r="1.45"/><circle cx="475.8" cy="564.1" r="1.45"/><circle cx="501.5" cy="564.3" r="1.45"/><circle cx="519.2" cy="564.2" r="1.45"/><circle cx="487.4" cy="562.5" r="1.45"/><circle cx="468.8" cy="561.4" r="1.45"/><circle cx="450.7" cy="566.1" r="1.45"/><circle cx="519" cy="560.5" r="1.45"/><circle cx="503.5" cy="565.2" r="1.45"/><circle cx="507.1" cy="561.1" r="1.45"/><circle cx="446.3" cy="563.8" r="1.45"/><circle cx="468.9" cy="566" r="1.45"/><circle cx="516" cy="559.7" r="1.45"/><circle cx="448.9" cy="564.6" r="1.45"/><circle cx="508.6" cy="564.8" r="1.45"/><circle cx="479.7" cy="561.2" r="1.45"/><circle cx="446" cy="563.8" r="1.45"/><circle cx="462.5" cy="559.9" r="1.45"/><circle cx="431" cy="565.3" r="1.45"/><circle cx="493.8" cy="565.2" r="1.45"/><circle cx="499.5" cy="561.1" r="1.45"/><circle cx="426" cy="561.9" r="1.45"/><circle cx="454.7" cy="562.5" r="1.45"/><circle cx="503.9" cy="555.6" r="1.45"/><circle cx="444.1" cy="562.2" r="1.45"/><circle cx="479.5" cy="563.2" r="1.45"/><circle cx="507.8" cy="564.5" r="1.45"/><circle cx="483" cy="557.3" r="1.45"/><circle cx="435.8" cy="566" r="1.45"/><circle cx="518.7" cy="564.1" r="1.45"/><circle cx="501.6" cy="565.6" r="1.45"/><circle cx="482.4" cy="561.3" r="1.45"/><circle cx="458" cy="564.8" r="1.45"/><circle cx="484.3" cy="565.8" r="1.45"/><circle cx="464.2" cy="565.1" r="1.45"/><circle cx="435.5" cy="565.4" r="1.45"/><circle cx="435.8" cy="563.8" r="1.45"/><circle cx="427.7" cy="563.5" r="1.45"/><circle cx="440.9" cy="563.8" r="1.45"/><circle cx="448.8" cy="563.8" r="1.45"/><circle cx="489.8" cy="560.2" r="1.45"/><circle cx="484" cy="564.8" r="1.45"/><circle cx="485.1" cy="563.2" r="1.45"/><circle cx="509.5" cy="565.9" r="1.45"/><circle cx="433" cy="564.8" r="1.45"/><circle cx="463.9" cy="559.5" r="1.45"/><circle cx="431.3" cy="563.9" r="1.45"/><circle cx="467" cy="565.9" r="1.45"/><circle cx="431.3" cy="564.8" r="1.45"/><circle cx="429.9" cy="563.2" r="1.45"/><circle cx="433.9" cy="561.5" r="1.45"/><circle cx="464" cy="563.6" r="1.45"/><circle cx="503.3" cy="565.4" r="1.45"/><circle cx="452.6" cy="564.5" r="1.45"/><circle cx="501" cy="562.9" r="1.45"/><circle cx="447.5" cy="563.9" r="1.45"/><circle cx="453.2" cy="563.5" r="1.45"/><circle cx="472.6" cy="563.7" r="1.45"/><circle cx="430.9" cy="564.2" r="1.45"/><circle cx="470.2" cy="565.9" r="1.45"/><circle cx="484.4" cy="565.5" r="1.45"/><circle cx="526.3" cy="563.9" r="1.45"/><circle cx="529.7" cy="564.6" r="1.45"/><circle cx="536.5" cy="561.6" r="1.45"/><circle cx="535.4" cy="564.6" r="1.45"/><circle cx="545.6" cy="563.5" r="1.45"/><circle cx="550.2" cy="564.6" r="1.45"/><circle cx="557" cy="565.1" r="1.45"/><circle cx="565" cy="565.5" r="1.45"/><circle cx="568.4" cy="560" r="1.45"/><circle cx="570.7" cy="561.6" r="1.45"/><circle cx="576.4" cy="565.1" r="1.45"/><circle cx="579.8" cy="561.2" r="1.45"/><circle cx="581" cy="560" r="1.45"/><circle cx="595.1" cy="563.5" r="1.45"/><circle cx="615.1" cy="549.6" r="1.45"/><circle cx="617" cy="556.4" r="1.45"/><circle cx="531" cy="565.5" r="1.45"/><circle cx="540" cy="565.8" r="1.45"/><circle cx="553" cy="565.6" r="1.45"/><circle cx="490.3" cy="554.4" r="1.45"/><circle cx="497.6" cy="555.6" r="1.45"/><circle cx="475.6" cy="557.9" r="1.45"/><circle cx="517.2" cy="553.2" r="1.45"/><circle cx="449.9" cy="559.1" r="1.45"/><circle cx="460.9" cy="559.6" r="1.45"/></g>
<clipPath id="cp323"><rect x="374" y="329.7" width="306" height="236.5"/></clipPath>
<path d="M374 566.2 L377.5 563.1 L381.1 559.9 L384.6 556.9 L388.2 553.8 L391.7 550.8 L395.3 547.8 L398.8 544.8 L402.3 541.9 L405.9 539 L409.4 536.2 L413 533.3 L416.5 530.5 L420 527.7 L423.6 525 L427.1 522.2 L430.7 519.5 L434.2 516.9 L437.8 514.2 L441.3 511.6 L444.8 509 L448.4 506.4 L451.9 503.9 L455.5 501.4 L459 498.9 L462.5 496.4 L466.1 494 L469.6 491.6 L473.2 489.2 L476.7 486.8 L480.3 484.5 L483.8 482.2 L487.3 479.9 L490.9 477.6 L494.4 475.3 L498 473.1 L501.5 470.9 L505 468.7 L508.6 466.6 L512.1 464.4 L515.7 462.3 L519.2 460.2 L522.8 458.1 L526.3 456.1 L529.8 454.1 L533.4 452.1 L536.9 450.1 L540.5 448.1 L544 446.1 L547.6 444.2 L551.1 442.3 L554.6 440.4 L558.2 438.5 L561.7 436.7 L565.3 434.8 L568.8 433 L572.3 431.2 L575.9 429.4 L579.4 427.7 L583 425.9 L586.5 424.2 L590.1 422.5 L593.6 420.8 L597.1 419.1 L600.7 417.5 L604.2 415.8 L607.8 414.2 L611.3 412.6 L614.8 411 L618.4 409.4 L621.9 407.9 L625.5 406.3 L629 404.8 L632.6 403.3 L636.1 401.8 L639.6 400.3 L643.2 398.8 L646.7 397.4 L650.3 395.9 L653.8 394.5" fill="none" stroke="#ff0000" stroke-width="1.5" clip-path="url(#cp323)"/>
<rect x="374" y="329.7" width="306" height="236.5" fill="none" stroke="#222" stroke-width="1"/>
<path d="M374 566.2v-4M374 329.7v4M435.2 566.2v-4M435.2 329.7v4M496.4 566.2v-4M496.4 329.7v4M557.6 566.2v-4M557.6 329.7v4M618.8 566.2v-4M618.8 329.7v4M680 566.2v-4M680 329.7v4M374 566.2h4M680 566.2h-4M374 518.9h4M680 518.9h-4M374 471.6h4M680 471.6h-4M374 424.3h4M680 424.3h-4M374 377h4M680 377h-4M374 329.7h4M680 329.7h-4" stroke="#222" stroke-width="0.8" fill="none"/>
<text x="373.2" y="577.6" font-size="12.8" text-anchor="middle" font-family="Liberation Serif" fill="#666">0</text>
<text x="434.4" y="577.6" font-size="12.8" text-anchor="middle" font-family="Liberation Serif" fill="#666">5</text>
<text x="495.6" y="577.6" font-size="12.8" text-anchor="middle" font-family="Liberation Serif" fill="#666" textLength="11.4" lengthAdjust="spacingAndGlyphs">10</text>
<text x="556.8" y="577.6" font-size="12.8" text-anchor="middle" font-family="Liberation Serif" fill="#666" textLength="11.4" lengthAdjust="spacingAndGlyphs">15</text>
<text x="618" y="577.6" font-size="12.8" text-anchor="middle" font-family="Liberation Serif" fill="#666" textLength="11.4" lengthAdjust="spacingAndGlyphs">20</text>
<text x="679.2" y="577.6" font-size="12.8" text-anchor="middle" font-family="Liberation Serif" fill="#666" textLength="11.4" lengthAdjust="spacingAndGlyphs">25</text>
<text x="371.3" y="568.5" font-size="12.8" text-anchor="end" font-family="Liberation Serif" fill="#666" textLength="14.6" lengthAdjust="spacingAndGlyphs">0.0</text>
<text x="371.3" y="521.2" font-size="12.8" text-anchor="end" font-family="Liberation Serif" fill="#666" textLength="14.6" lengthAdjust="spacingAndGlyphs">0.2</text>
<text x="371.3" y="473.9" font-size="12.8" text-anchor="end" font-family="Liberation Serif" fill="#666" textLength="14.6" lengthAdjust="spacingAndGlyphs">0.4</text>
<text x="371.3" y="426.5" font-size="12.8" text-anchor="end" font-family="Liberation Serif" fill="#666" textLength="14.6" lengthAdjust="spacingAndGlyphs">0.6</text>
<text x="371.3" y="379.2" font-size="12.8" text-anchor="end" font-family="Liberation Serif" fill="#666" textLength="14.6" lengthAdjust="spacingAndGlyphs">0.8</text>
<text x="371.3" y="331.9" font-size="12.8" text-anchor="end" font-family="Liberation Serif" fill="#666" textLength="14.6" lengthAdjust="spacingAndGlyphs">1.0</text>
<text x="446.5" y="592.9" font-size="12.2" text-anchor="start" font-family="Liberation Sans" fill="#000">Euclidean Distance,</text>
<path d="M559.3 590 l1.5 -0.9 l3.6 6.9 l4.6 -14.1 h36.6" fill="none" stroke="#666" stroke-width="0.85" stroke-linejoin="miter"/>
<g fill="#666" font-family="Liberation Serif"><text x="570.3" y="592.9" font-size="14" font-style="italic">p</text><text x="575.3" y="588.2" font-size="8.2">2</text><text x="575.6" y="596.9" font-size="8.2">1</text><text x="587.7" y="594.1" font-size="15" text-anchor="middle">+</text><text x="595.3" y="592.9" font-size="14" font-style="italic">p</text><text x="600.6" y="588.2" font-size="8.2">2</text><text x="600.6" y="596.9" font-size="8.2">2</text></g>
<text x="0" y="0" font-size="12.2" text-anchor="middle" font-family="Liberation Sans" transform="translate(349.7 448) rotate(-90)">1 - Correlation [normalized]</text>
<g transform="translate(70.5 232) rotate(14.3)"><text x="-2" y="3" font-family="Liberation Serif" font-style="italic" font-size="13" text-anchor="middle">p</text><text x="4.2" y="5.5" font-family="Liberation Serif" font-style="italic" font-size="9" text-anchor="middle">1</text></g>
<g transform="translate(220 215.5) rotate(-37)"><text x="-2" y="3" font-family="Liberation Serif" font-style="italic" font-size="13" text-anchor="middle">p</text><text x="4.2" y="5.5" font-family="Liberation Serif" font-size="9" text-anchor="middle">2</text></g>
<g transform="translate(271.3 156.9) rotate(-87.5)" font-size="12.4"><text x="0.4" y="0" font-family="Liberation Serif" font-style="italic">ρ</text><text x="7.1" y="0" font-family="Liberation Serif" font-size="11.5">(</text><text x="10.7" y="0" font-family="Liberation Serif" font-weight="bold" font-size="11.5">p</text><text x="17.9" y="0" font-family="Liberation Serif" font-size="11.5">)</text><text x="27.1" y="0" font-family="Liberation Sans" letter-spacing="0.77">[Model Unit]</text></g>
<g transform="translate(70.5 556.3) rotate(14.3)"><text x="-2" y="3" font-family="Liberation Serif" font-style="italic" font-size="13" text-anchor="middle">p</text><text x="4.2" y="5.5" font-family="Liberation Serif" font-style="italic" font-size="9" text-anchor="middle">1</text></g>
<g transform="translate(220 539.8) rotate(-37)"><text x="-2" y="3" font-family="Liberation Serif" font-style="italic" font-size="13" text-anchor="middle">p</text><text x="4.2" y="5.5" font-family="Liberation Serif" font-size="9" text-anchor="middle">2</text></g>
<g transform="translate(271.3 480.4) rotate(-87.5)" font-size="12.4"><text x="0.4" y="0" font-family="Liberation Serif" font-style="italic">ρ</text><text x="7.1" y="0" font-family="Liberation Serif" font-size="11.5">(</text><text x="10.7" y="0" font-family="Liberation Serif" font-weight="bold" font-size="11.5">p</text><text x="17.9" y="0" font-family="Liberation Serif" font-size="11.5">)</text><text x="27.1" y="0" font-family="Liberation Sans" letter-spacing="0.77">[Model Unit]</text></g>
<text x="117.5" y="292.6" font-size="14.2" text-anchor="middle" font-family="Liberation Serif" fill="#000">(a)</text>
<text x="521.5" y="292.6" font-size="14.2" text-anchor="middle" font-family="Liberation Serif" fill="#000">(b)</text>
<text x="117.5" y="616.7" font-size="14.2" text-anchor="middle" font-family="Liberation Serif" fill="#000">(c)</text>
<text x="521.5" y="616.7" font-size="14.2" text-anchor="middle" font-family="Liberation Serif" fill="#000">(d)</text>
</svg></body></html>
